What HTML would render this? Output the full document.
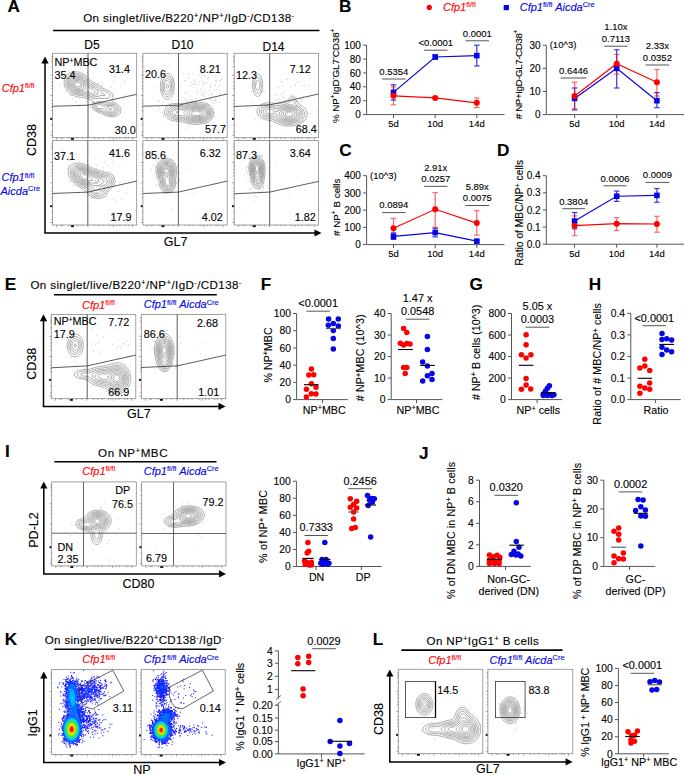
<!DOCTYPE html>
<html><head><meta charset="utf-8"><style>
html,body{margin:0;padding:0;background:#fff;}
svg{display:block;font-family:"Liberation Sans", sans-serif;}
text{stroke:currentColor;stroke-width:0.12px;}
</style></head><body>
<svg width="685" height="775" viewBox="0 0 685 775">
<rect width="685" height="775" fill="#fff"/>
<text x="339.1" y="11.8" font-size="17.2" fill="#000" color="#000" font-weight="bold"><tspan>B</tspan></text>
<circle cx="429.30" cy="7.40" r="2.6" fill="#ff0000"/>
<text x="443" y="11" font-size="11" fill="#ff0000" color="#ff0000" font-style="italic"><tspan font-style="italic">Cfp1</tspan><tspan dy="-3.74" font-size="7.48" font-style="normal">fl/fl</tspan></text>
<rect x="503.70" y="5.00" width="5.2" height="5.2" fill="#0505e6"/>
<text x="519.7" y="11" font-size="11" fill="#0505e6" color="#0505e6" font-style="italic"><tspan font-style="italic">Cfp1</tspan><tspan dy="-3.74" font-size="7.48" font-style="normal">fl/fl</tspan><tspan dy="3.74"> </tspan><tspan font-style="italic">Aicda</tspan><tspan dy="-3.74" font-size="7.48" font-style="normal">Cre</tspan></text>
<line x1="366.6" y1="45.2" x2="366.6" y2="114.6" stroke="#555" stroke-width="1" />
<line x1="366.6" y1="114.6" x2="504.5" y2="114.6" stroke="#555" stroke-width="1" />
<line x1="363.1" y1="114.6" x2="366.6" y2="114.6" stroke="#555" stroke-width="1" />
<text x="360.90000000000003" y="118.19999999999999" font-size="10" fill="#000" color="#000" text-anchor="end"><tspan>0</tspan></text>
<line x1="363.1" y1="100.72" x2="366.6" y2="100.72" stroke="#555" stroke-width="1" />
<text x="360.90000000000003" y="104.32" font-size="10" fill="#000" color="#000" text-anchor="end"><tspan>20</tspan></text>
<line x1="363.1" y1="86.84" x2="366.6" y2="86.84" stroke="#555" stroke-width="1" />
<text x="360.90000000000003" y="90.44" font-size="10" fill="#000" color="#000" text-anchor="end"><tspan>40</tspan></text>
<line x1="363.1" y1="72.96000000000001" x2="366.6" y2="72.96000000000001" stroke="#555" stroke-width="1" />
<text x="360.90000000000003" y="76.56" font-size="10" fill="#000" color="#000" text-anchor="end"><tspan>60</tspan></text>
<line x1="363.1" y1="59.08" x2="366.6" y2="59.08" stroke="#555" stroke-width="1" />
<text x="360.90000000000003" y="62.68" font-size="10" fill="#000" color="#000" text-anchor="end"><tspan>80</tspan></text>
<line x1="363.1" y1="45.2" x2="366.6" y2="45.2" stroke="#555" stroke-width="1" />
<text x="360.90000000000003" y="48.800000000000004" font-size="10" fill="#000" color="#000" text-anchor="end"><tspan>100</tspan></text>
<line x1="393.5" y1="114.6" x2="393.5" y2="118.1" stroke="#555" stroke-width="1" />
<text x="393.5" y="126.6" font-size="9.5" fill="#000" color="#000" text-anchor="middle"><tspan>5d</tspan></text>
<line x1="435.2" y1="114.6" x2="435.2" y2="118.1" stroke="#555" stroke-width="1" />
<text x="435.2" y="126.6" font-size="9.5" fill="#000" color="#000" text-anchor="middle"><tspan>10d</tspan></text>
<line x1="476.8" y1="114.6" x2="476.8" y2="118.1" stroke="#555" stroke-width="1" />
<text x="476.8" y="126.6" font-size="9.5" fill="#000" color="#000" text-anchor="middle"><tspan>14d</tspan></text>
<g stroke="#0505e6" stroke-width="1.2" opacity="0.8"><line x1="393.5" y1="84.76" x2="393.5" y2="100.03"/><line x1="390.75" y1="84.76" x2="396.25" y2="84.76"/><line x1="390.75" y1="100.03" x2="396.25" y2="100.03"/></g>
<g stroke="#0505e6" stroke-width="1.2" opacity="0.8"><line x1="435.2" y1="54.92" x2="435.2" y2="59.08"/><line x1="432.45" y1="54.92" x2="437.95" y2="54.92"/><line x1="432.45" y1="59.08" x2="437.95" y2="59.08"/></g>
<g stroke="#0505e6" stroke-width="1.2" opacity="0.8"><line x1="476.8" y1="45.20" x2="476.8" y2="66.02"/><line x1="474.05" y1="45.20" x2="479.55" y2="45.20"/><line x1="474.05" y1="66.02" x2="479.55" y2="66.02"/></g>
<g stroke="#ff0000" stroke-width="1.2" opacity="0.6"><line x1="393.5" y1="86.84" x2="393.5" y2="104.88"/><line x1="390.75" y1="86.84" x2="396.25" y2="86.84"/><line x1="390.75" y1="104.88" x2="396.25" y2="104.88"/></g>
<g stroke="#ff0000" stroke-width="1.2" opacity="0.6"><line x1="435.2" y1="96.56" x2="435.2" y2="99.33"/><line x1="432.45" y1="96.56" x2="437.95" y2="96.56"/><line x1="432.45" y1="99.33" x2="437.95" y2="99.33"/></g>
<g stroke="#ff0000" stroke-width="1.2" opacity="0.6"><line x1="476.8" y1="97.94" x2="476.8" y2="107.66"/><line x1="474.05" y1="97.94" x2="479.55" y2="97.94"/><line x1="474.05" y1="107.66" x2="479.55" y2="107.66"/></g>
<polyline points="393.5,95.86 435.2,97.94 476.8,102.80" fill="none" stroke="#ff0000" stroke-width="1.2"/>
<polyline points="393.5,92.39 435.2,57.00 476.8,55.61" fill="none" stroke="#0505e6" stroke-width="1.2"/>
<rect x="390.70" y="89.59" width="5.6" height="5.6" fill="#0505e6"/>
<rect x="432.40" y="54.20" width="5.6" height="5.6" fill="#0505e6"/>
<rect x="474.00" y="52.81" width="5.6" height="5.6" fill="#0505e6"/>
<circle cx="393.50" cy="95.86" r="3.0" fill="#ff0000"/>
<circle cx="435.20" cy="97.94" r="3.0" fill="#ff0000"/>
<circle cx="476.80" cy="102.80" r="3.0" fill="#ff0000"/>
<line x1="382.1" y1="79.0" x2="405.6" y2="79.0" stroke="#555" stroke-width="1.0" />
<text x="393.85" y="74.8" font-size="9.5" fill="#000" color="#000" text-anchor="middle"><tspan>0.5354</tspan></text>
<line x1="424" y1="50.2" x2="447.5" y2="50.2" stroke="#555" stroke-width="1.0" />
<text x="435.75" y="46.0" font-size="9.5" fill="#000" color="#000" text-anchor="middle"><tspan>&lt;0.0001</tspan></text>
<line x1="465.5" y1="40.8" x2="489" y2="40.8" stroke="#555" stroke-width="1.0" />
<text x="477.25" y="36.599999999999994" font-size="9.5" fill="#000" color="#000" text-anchor="middle"><tspan>0.0001</tspan></text>
<text transform="translate(338.6,75.8) rotate(-90)" font-size="9.8" fill="#000" color="#000" textLength="94.5" lengthAdjust="spacing" text-anchor="middle"><tspan>% NP</tspan><tspan dy="-3.33" font-size="6.66" font-style="normal">+</tspan><tspan dy="3.33">IgD</tspan><tspan dy="-3.33" font-size="6.66" font-style="normal">-</tspan><tspan dy="3.33">GL7</tspan><tspan dy="-3.33" font-size="6.66" font-style="normal">-</tspan><tspan dy="3.33">CD38</tspan><tspan dy="-3.33" font-size="6.66" font-style="normal">+</tspan></text>
<line x1="546.3" y1="45.2" x2="546.3" y2="114.6" stroke="#555" stroke-width="1" />
<line x1="546.3" y1="114.6" x2="684" y2="114.6" stroke="#555" stroke-width="1" />
<line x1="542.8" y1="114.6" x2="546.3" y2="114.6" stroke="#555" stroke-width="1" />
<text x="540.5999999999999" y="118.19999999999999" font-size="10" fill="#000" color="#000" text-anchor="end"><tspan>0</tspan></text>
<line x1="542.8" y1="91.46666666666667" x2="546.3" y2="91.46666666666667" stroke="#555" stroke-width="1" />
<text x="540.5999999999999" y="95.06666666666666" font-size="10" fill="#000" color="#000" text-anchor="end"><tspan>10</tspan></text>
<line x1="542.8" y1="68.33333333333334" x2="546.3" y2="68.33333333333334" stroke="#555" stroke-width="1" />
<text x="540.5999999999999" y="71.93333333333334" font-size="10" fill="#000" color="#000" text-anchor="end"><tspan>20</tspan></text>
<line x1="542.8" y1="45.2" x2="546.3" y2="45.2" stroke="#555" stroke-width="1" />
<text x="540.5999999999999" y="48.800000000000004" font-size="10" fill="#000" color="#000" text-anchor="end"><tspan>30</tspan></text>
<line x1="574.6" y1="114.6" x2="574.6" y2="118.1" stroke="#555" stroke-width="1" />
<text x="574.6" y="126.6" font-size="9.5" fill="#000" color="#000" text-anchor="middle"><tspan>5d</tspan></text>
<line x1="616.7" y1="114.6" x2="616.7" y2="118.1" stroke="#555" stroke-width="1" />
<text x="616.7" y="126.6" font-size="9.5" fill="#000" color="#000" text-anchor="middle"><tspan>10d</tspan></text>
<line x1="656.9" y1="114.6" x2="656.9" y2="118.1" stroke="#555" stroke-width="1" />
<text x="656.9" y="126.6" font-size="9.5" fill="#000" color="#000" text-anchor="middle"><tspan>14d</tspan></text>
<text x="549.7" y="47.5" font-size="9.5" fill="#000" color="#000"><tspan>(10^3)</tspan></text>
<g stroke="#0505e6" stroke-width="1.2" opacity="0.8"><line x1="574.6" y1="88.00" x2="574.6" y2="109.97"/><line x1="571.85" y1="88.00" x2="577.35" y2="88.00"/><line x1="571.85" y1="109.97" x2="577.35" y2="109.97"/></g>
<g stroke="#0505e6" stroke-width="1.2" opacity="0.8"><line x1="616.7" y1="49.83" x2="616.7" y2="88.00"/><line x1="613.95" y1="49.83" x2="619.45" y2="49.83"/><line x1="613.95" y1="88.00" x2="619.45" y2="88.00"/></g>
<g stroke="#0505e6" stroke-width="1.2" opacity="0.8"><line x1="656.9" y1="92.62" x2="656.9" y2="107.66"/><line x1="654.15" y1="92.62" x2="659.65" y2="92.62"/><line x1="654.15" y1="107.66" x2="659.65" y2="107.66"/></g>
<g stroke="#ff0000" stroke-width="1.2" opacity="0.6"><line x1="574.6" y1="82.21" x2="574.6" y2="108.82"/><line x1="571.85" y1="82.21" x2="577.35" y2="82.21"/><line x1="571.85" y1="108.82" x2="577.35" y2="108.82"/></g>
<g stroke="#ff0000" stroke-width="1.2" opacity="0.6"><line x1="616.7" y1="54.45" x2="616.7" y2="74.12"/><line x1="613.95" y1="54.45" x2="619.45" y2="54.45"/><line x1="613.95" y1="74.12" x2="619.45" y2="74.12"/></g>
<g stroke="#ff0000" stroke-width="1.2" opacity="0.6"><line x1="656.9" y1="69.49" x2="656.9" y2="96.09"/><line x1="654.15" y1="69.49" x2="659.65" y2="69.49"/><line x1="654.15" y1="96.09" x2="659.65" y2="96.09"/></g>
<polyline points="574.6,96.09 616.7,63.71 656.9,82.21" fill="none" stroke="#ff0000" stroke-width="1.2"/>
<polyline points="574.6,98.41 616.7,68.33 656.9,100.72" fill="none" stroke="#0505e6" stroke-width="1.2"/>
<rect x="571.80" y="95.61" width="5.6" height="5.6" fill="#0505e6"/>
<rect x="613.90" y="65.53" width="5.6" height="5.6" fill="#0505e6"/>
<rect x="654.10" y="97.92" width="5.6" height="5.6" fill="#0505e6"/>
<circle cx="574.60" cy="96.09" r="3.0" fill="#ff0000"/>
<circle cx="616.70" cy="63.71" r="3.0" fill="#ff0000"/>
<circle cx="656.90" cy="82.21" r="3.0" fill="#ff0000"/>
<line x1="560.7" y1="78.0" x2="586.4" y2="78.0" stroke="#555" stroke-width="1.0" />
<text x="573.55" y="73.8" font-size="9.5" fill="#000" color="#000" text-anchor="middle"><tspan>0.6446</tspan></text>
<line x1="604.3" y1="46.2" x2="627.5" y2="46.2" stroke="#555" stroke-width="1.0" />
<text x="615.9" y="42.0" font-size="9.5" fill="#000" color="#000" text-anchor="middle"><tspan>0.7113</tspan></text>
<text x="615.9" y="30.41" font-size="9.5" fill="#000" color="#000" text-anchor="middle"><tspan>1.10x</tspan></text>
<line x1="645.6" y1="65.0" x2="669.2" y2="65.0" stroke="#555" stroke-width="1.0" />
<text x="657.4000000000001" y="60.8" font-size="9.5" fill="#000" color="#000" text-anchor="middle"><tspan>0.0352</tspan></text>
<text x="657.4000000000001" y="49.209999999999994" font-size="9.5" fill="#000" color="#000" text-anchor="middle"><tspan>2.33x</tspan></text>
<text transform="translate(521.6,74.4) rotate(-90)" font-size="9.8" fill="#000" color="#000" textLength="89.5" lengthAdjust="spacing" text-anchor="middle"><tspan># NP+IgD-GL7-CD38</tspan><tspan dy="-3.33" font-size="6.66" font-style="normal">+</tspan></text>
<text x="339.2" y="156.2" font-size="17.2" fill="#000" color="#000" font-weight="bold"><tspan>C</tspan></text>
<line x1="366.6" y1="175.7" x2="366.6" y2="244.6" stroke="#555" stroke-width="1" />
<line x1="366.6" y1="244.6" x2="504.5" y2="244.6" stroke="#555" stroke-width="1" />
<line x1="363.1" y1="244.6" x2="366.6" y2="244.6" stroke="#555" stroke-width="1" />
<text x="360.90000000000003" y="248.2" font-size="10" fill="#000" color="#000" text-anchor="end"><tspan>0</tspan></text>
<line x1="363.1" y1="227.375" x2="366.6" y2="227.375" stroke="#555" stroke-width="1" />
<text x="360.90000000000003" y="230.975" font-size="10" fill="#000" color="#000" text-anchor="end"><tspan>100</tspan></text>
<line x1="363.1" y1="210.14999999999998" x2="366.6" y2="210.14999999999998" stroke="#555" stroke-width="1" />
<text x="360.90000000000003" y="213.74999999999997" font-size="10" fill="#000" color="#000" text-anchor="end"><tspan>200</tspan></text>
<line x1="363.1" y1="192.92499999999998" x2="366.6" y2="192.92499999999998" stroke="#555" stroke-width="1" />
<text x="360.90000000000003" y="196.52499999999998" font-size="10" fill="#000" color="#000" text-anchor="end"><tspan>300</tspan></text>
<line x1="363.1" y1="175.7" x2="366.6" y2="175.7" stroke="#555" stroke-width="1" />
<text x="360.90000000000003" y="179.29999999999998" font-size="10" fill="#000" color="#000" text-anchor="end"><tspan>400</tspan></text>
<line x1="393.5" y1="244.6" x2="393.5" y2="248.1" stroke="#555" stroke-width="1" />
<text x="393.5" y="257.2" font-size="9.5" fill="#000" color="#000" text-anchor="middle"><tspan>5d</tspan></text>
<line x1="435.2" y1="244.6" x2="435.2" y2="248.1" stroke="#555" stroke-width="1" />
<text x="435.2" y="257.2" font-size="9.5" fill="#000" color="#000" text-anchor="middle"><tspan>10d</tspan></text>
<line x1="476.8" y1="244.6" x2="476.8" y2="248.1" stroke="#555" stroke-width="1" />
<text x="476.8" y="257.2" font-size="9.5" fill="#000" color="#000" text-anchor="middle"><tspan>14d</tspan></text>
<text x="370" y="178.6" font-size="9.5" fill="#000" color="#000"><tspan>(10^3)</tspan></text>
<g stroke="#0505e6" stroke-width="1.2" opacity="0.8"><line x1="393.5" y1="232.89" x2="393.5" y2="239.43"/><line x1="390.75" y1="232.89" x2="396.25" y2="232.89"/><line x1="390.75" y1="239.43" x2="396.25" y2="239.43"/></g>
<g stroke="#0505e6" stroke-width="1.2" opacity="0.8"><line x1="435.2" y1="228.24" x2="435.2" y2="236.85"/><line x1="432.45" y1="228.24" x2="437.95" y2="228.24"/><line x1="432.45" y1="236.85" x2="437.95" y2="236.85"/></g>
<g stroke="#0505e6" stroke-width="1.2" opacity="0.8"><line x1="476.8" y1="240.29" x2="476.8" y2="242.02"/><line x1="474.05" y1="240.29" x2="479.55" y2="240.29"/><line x1="474.05" y1="242.02" x2="479.55" y2="242.02"/></g>
<g stroke="#ff0000" stroke-width="1.2" opacity="0.6"><line x1="393.5" y1="218.42" x2="393.5" y2="237.71"/><line x1="390.75" y1="218.42" x2="396.25" y2="218.42"/><line x1="390.75" y1="237.71" x2="396.25" y2="237.71"/></g>
<g stroke="#ff0000" stroke-width="1.2" opacity="0.6"><line x1="435.2" y1="192.58" x2="435.2" y2="227.38"/><line x1="432.45" y1="192.58" x2="437.95" y2="192.58"/><line x1="432.45" y1="227.38" x2="437.95" y2="227.38"/></g>
<g stroke="#ff0000" stroke-width="1.2" opacity="0.6"><line x1="476.8" y1="210.67" x2="476.8" y2="235.13"/><line x1="474.05" y1="210.67" x2="479.55" y2="210.67"/><line x1="474.05" y1="235.13" x2="479.55" y2="235.13"/></g>
<polyline points="393.5,228.24 435.2,209.29 476.8,223.07" fill="none" stroke="#ff0000" stroke-width="1.2"/>
<polyline points="393.5,236.33 435.2,232.54 476.8,241.16" fill="none" stroke="#0505e6" stroke-width="1.2"/>
<rect x="390.70" y="233.53" width="5.6" height="5.6" fill="#0505e6"/>
<rect x="432.40" y="229.74" width="5.6" height="5.6" fill="#0505e6"/>
<rect x="474.00" y="238.35" width="5.6" height="5.6" fill="#0505e6"/>
<circle cx="393.50" cy="228.24" r="3.0" fill="#ff0000"/>
<circle cx="435.20" cy="209.29" r="3.0" fill="#ff0000"/>
<circle cx="476.80" cy="223.07" r="3.0" fill="#ff0000"/>
<line x1="382.1" y1="212.6" x2="405.6" y2="212.6" stroke="#555" stroke-width="1.0" />
<text x="393.85" y="208.4" font-size="9.5" fill="#000" color="#000" text-anchor="middle"><tspan>0.0894</tspan></text>
<line x1="424" y1="186.3" x2="447.5" y2="186.3" stroke="#555" stroke-width="1.0" />
<text x="435.75" y="182.10000000000002" font-size="9.5" fill="#000" color="#000" text-anchor="middle"><tspan>0.0257</tspan></text>
<text x="435.75" y="170.51000000000002" font-size="9.5" fill="#000" color="#000" text-anchor="middle"><tspan>2.91x</tspan></text>
<line x1="465.5" y1="205.5" x2="489" y2="205.5" stroke="#555" stroke-width="1.0" />
<text x="477.25" y="201.3" font-size="9.5" fill="#000" color="#000" text-anchor="middle"><tspan>0.0075</tspan></text>
<text x="477.25" y="189.71" font-size="9.5" fill="#000" color="#000" text-anchor="middle"><tspan>5.89x</tspan></text>
<text transform="translate(339.6,207.3) rotate(-90)" font-size="9.8" fill="#000" color="#000" textLength="57.4" lengthAdjust="spacing" text-anchor="middle"><tspan># NP</tspan><tspan dy="-3.33" font-size="6.66" font-style="normal">+</tspan><tspan dy="3.33"> B cells</tspan></text>
<text x="496.9" y="155.8" font-size="17.2" fill="#000" color="#000" font-weight="bold"><tspan>D</tspan></text>
<line x1="546.3" y1="175.7" x2="546.3" y2="244.2" stroke="#555" stroke-width="1" />
<line x1="546.3" y1="244.2" x2="684" y2="244.2" stroke="#555" stroke-width="1" />
<line x1="542.8" y1="244.2" x2="546.3" y2="244.2" stroke="#555" stroke-width="1" />
<text x="540.5999999999999" y="247.79999999999998" font-size="10" fill="#000" color="#000" text-anchor="end"><tspan>0.0</tspan></text>
<line x1="542.8" y1="227.075" x2="546.3" y2="227.075" stroke="#555" stroke-width="1" />
<text x="540.5999999999999" y="230.67499999999998" font-size="10" fill="#000" color="#000" text-anchor="end"><tspan>0.1</tspan></text>
<line x1="542.8" y1="209.95" x2="546.3" y2="209.95" stroke="#555" stroke-width="1" />
<text x="540.5999999999999" y="213.54999999999998" font-size="10" fill="#000" color="#000" text-anchor="end"><tspan>0.2</tspan></text>
<line x1="542.8" y1="192.825" x2="546.3" y2="192.825" stroke="#555" stroke-width="1" />
<text x="540.5999999999999" y="196.42499999999998" font-size="10" fill="#000" color="#000" text-anchor="end"><tspan>0.3</tspan></text>
<line x1="542.8" y1="175.7" x2="546.3" y2="175.7" stroke="#555" stroke-width="1" />
<text x="540.5999999999999" y="179.29999999999998" font-size="10" fill="#000" color="#000" text-anchor="end"><tspan>0.4</tspan></text>
<line x1="574.6" y1="244.2" x2="574.6" y2="247.7" stroke="#555" stroke-width="1" />
<text x="574.6" y="257.2" font-size="9.5" fill="#000" color="#000" text-anchor="middle"><tspan>5d</tspan></text>
<line x1="616.7" y1="244.2" x2="616.7" y2="247.7" stroke="#555" stroke-width="1" />
<text x="616.7" y="257.2" font-size="9.5" fill="#000" color="#000" text-anchor="middle"><tspan>10d</tspan></text>
<line x1="656.9" y1="244.2" x2="656.9" y2="247.7" stroke="#555" stroke-width="1" />
<text x="656.9" y="257.2" font-size="9.5" fill="#000" color="#000" text-anchor="middle"><tspan>14d</tspan></text>
<g stroke="#0505e6" stroke-width="1.2" opacity="0.8"><line x1="574.6" y1="212.52" x2="574.6" y2="228.79"/><line x1="571.85" y1="212.52" x2="577.35" y2="212.52"/><line x1="571.85" y1="228.79" x2="577.35" y2="228.79"/></g>
<g stroke="#0505e6" stroke-width="1.2" opacity="0.8"><line x1="616.7" y1="191.11" x2="616.7" y2="201.39"/><line x1="613.95" y1="191.11" x2="619.45" y2="191.11"/><line x1="613.95" y1="201.39" x2="619.45" y2="201.39"/></g>
<g stroke="#0505e6" stroke-width="1.2" opacity="0.8"><line x1="656.9" y1="188.54" x2="656.9" y2="202.24"/><line x1="654.15" y1="188.54" x2="659.65" y2="188.54"/><line x1="654.15" y1="202.24" x2="659.65" y2="202.24"/></g>
<g stroke="#ff0000" stroke-width="1.2" opacity="0.6"><line x1="574.6" y1="215.94" x2="574.6" y2="235.64"/><line x1="571.85" y1="215.94" x2="577.35" y2="215.94"/><line x1="571.85" y1="235.64" x2="577.35" y2="235.64"/></g>
<g stroke="#ff0000" stroke-width="1.2" opacity="0.6"><line x1="616.7" y1="217.66" x2="616.7" y2="230.50"/><line x1="613.95" y1="217.66" x2="619.45" y2="217.66"/><line x1="613.95" y1="230.50" x2="619.45" y2="230.50"/></g>
<g stroke="#ff0000" stroke-width="1.2" opacity="0.6"><line x1="656.9" y1="216.29" x2="656.9" y2="232.21"/><line x1="654.15" y1="216.29" x2="659.65" y2="216.29"/><line x1="654.15" y1="232.21" x2="659.65" y2="232.21"/></g>
<polyline points="574.6,225.70 616.7,223.65 656.9,223.99" fill="none" stroke="#ff0000" stroke-width="1.2"/>
<polyline points="574.6,221.08 616.7,196.25 656.9,195.39" fill="none" stroke="#0505e6" stroke-width="1.2"/>
<rect x="571.80" y="218.28" width="5.6" height="5.6" fill="#0505e6"/>
<rect x="613.90" y="193.45" width="5.6" height="5.6" fill="#0505e6"/>
<rect x="654.10" y="192.59" width="5.6" height="5.6" fill="#0505e6"/>
<circle cx="574.60" cy="225.70" r="3.0" fill="#ff0000"/>
<circle cx="616.70" cy="223.65" r="3.0" fill="#ff0000"/>
<circle cx="656.90" cy="223.99" r="3.0" fill="#ff0000"/>
<line x1="562.3" y1="208.7" x2="585.1" y2="208.7" stroke="#555" stroke-width="1.0" />
<text x="573.7" y="204.5" font-size="9.5" fill="#000" color="#000" text-anchor="middle"><tspan>0.3804</tspan></text>
<line x1="603.5" y1="185.8" x2="626.6" y2="185.8" stroke="#555" stroke-width="1.0" />
<text x="615.05" y="181.60000000000002" font-size="9.5" fill="#000" color="#000" text-anchor="middle"><tspan>0.0006</tspan></text>
<line x1="645.6" y1="182.4" x2="669.2" y2="182.4" stroke="#555" stroke-width="1.0" />
<text x="657.4000000000001" y="178.20000000000002" font-size="9.5" fill="#000" color="#000" text-anchor="middle"><tspan>0.0009</tspan></text>
<text transform="translate(523.2,212.7) rotate(-90)" font-size="10.2" fill="#000" color="#000" textLength="105.4" lengthAdjust="spacing" text-anchor="middle"><tspan>Ratio of  MBC/NP</tspan><tspan dy="-3.47" font-size="6.94" font-style="normal">+</tspan><tspan dy="3.47"> cells</tspan></text>
<text x="260.8" y="289.7" font-size="17.2" fill="#000" color="#000" font-weight="bold"><tspan>F</tspan></text>
<line x1="296.6" y1="313.5" x2="296.6" y2="399.6" stroke="#555" stroke-width="1" />
<line x1="296.6" y1="399.6" x2="347.8" y2="399.6" stroke="#555" stroke-width="1" />
<line x1="293.1" y1="399.6" x2="296.6" y2="399.6" stroke="#555" stroke-width="1" />
<text x="290.90000000000003" y="403.30800000000005" font-size="10.3" fill="#000" color="#000" text-anchor="end"><tspan>0</tspan></text>
<line x1="293.1" y1="382.38" x2="296.6" y2="382.38" stroke="#555" stroke-width="1" />
<text x="290.90000000000003" y="386.088" font-size="10.3" fill="#000" color="#000" text-anchor="end"><tspan>20</tspan></text>
<line x1="293.1" y1="365.16" x2="296.6" y2="365.16" stroke="#555" stroke-width="1" />
<text x="290.90000000000003" y="368.86800000000005" font-size="10.3" fill="#000" color="#000" text-anchor="end"><tspan>40</tspan></text>
<line x1="293.1" y1="347.94" x2="296.6" y2="347.94" stroke="#555" stroke-width="1" />
<text x="290.90000000000003" y="351.648" font-size="10.3" fill="#000" color="#000" text-anchor="end"><tspan>60</tspan></text>
<line x1="293.1" y1="330.72" x2="296.6" y2="330.72" stroke="#555" stroke-width="1" />
<text x="290.90000000000003" y="334.42800000000005" font-size="10.3" fill="#000" color="#000" text-anchor="end"><tspan>80</tspan></text>
<line x1="293.1" y1="313.5" x2="296.6" y2="313.5" stroke="#555" stroke-width="1" />
<text x="290.90000000000003" y="317.208" font-size="10.3" fill="#000" color="#000" text-anchor="end"><tspan>100</tspan></text>
<line x1="322.4" y1="399.6" x2="322.4" y2="403.1" stroke="#555" stroke-width="1" />
<text x="324.2" y="413.5" font-size="10.7" fill="#000" color="#000" text-anchor="middle"><tspan>NP</tspan><tspan dy="-3.64" font-size="7.28" font-style="normal">+</tspan><tspan dy="3.64">MBC</tspan></text>
<line x1="306.4" y1="311.2" x2="329.9" y2="311.2" stroke="#555" stroke-width="1.0" />
<text x="318.15" y="307.0" font-size="10.9" fill="#000" color="#000" text-anchor="middle"><tspan>&lt;0.0001</tspan></text>
<circle cx="311.40" cy="368.90" r="2.75" fill="#ff0000"/>
<circle cx="308.80" cy="375.10" r="2.75" fill="#ff0000"/>
<circle cx="313.70" cy="374.70" r="2.75" fill="#ff0000"/>
<circle cx="311.40" cy="383.80" r="2.75" fill="#ff0000"/>
<circle cx="306.40" cy="389.20" r="2.75" fill="#ff0000"/>
<circle cx="316.00" cy="387.20" r="2.75" fill="#ff0000"/>
<circle cx="311.40" cy="393.80" r="2.75" fill="#ff0000"/>
<circle cx="316.00" cy="394.10" r="2.75" fill="#ff0000"/>
<circle cx="306.40" cy="396.90" r="2.75" fill="#ff0000"/>
<line x1="304" y1="384.7" x2="318.6" y2="384.7" stroke="#000" stroke-width="1.1" />
<circle cx="328.60" cy="318.90" r="2.75" fill="#0505e6"/>
<circle cx="338.30" cy="318.90" r="2.75" fill="#0505e6"/>
<circle cx="333.30" cy="323.50" r="2.75" fill="#0505e6"/>
<circle cx="328.30" cy="325.30" r="2.75" fill="#0505e6"/>
<circle cx="338.30" cy="326.00" r="2.75" fill="#0505e6"/>
<circle cx="333.30" cy="330.60" r="2.75" fill="#0505e6"/>
<circle cx="333.30" cy="338.60" r="2.75" fill="#0505e6"/>
<circle cx="333.30" cy="348.90" r="2.75" fill="#0505e6"/>
<line x1="326" y1="328.6" x2="340.8" y2="328.6" stroke="#555" stroke-width="1.1" />
<text transform="translate(271.8,354.9) rotate(-90)" font-size="10.7" fill="#000" color="#000" textLength="55.2" lengthAdjust="spacing" text-anchor="middle"><tspan>% NP</tspan><tspan dy="-3.64" font-size="7.28" font-style="normal">+</tspan><tspan dy="3.64">MBC</tspan></text>
<line x1="391.2" y1="313.5" x2="391.2" y2="399.6" stroke="#555" stroke-width="1" />
<line x1="391.2" y1="399.6" x2="442.3" y2="399.6" stroke="#555" stroke-width="1" />
<line x1="387.7" y1="399.6" x2="391.2" y2="399.6" stroke="#555" stroke-width="1" />
<text x="385.5" y="403.30800000000005" font-size="10.3" fill="#000" color="#000" text-anchor="end"><tspan>0</tspan></text>
<line x1="387.7" y1="378.07500000000005" x2="391.2" y2="378.07500000000005" stroke="#555" stroke-width="1" />
<text x="385.5" y="381.7830000000001" font-size="10.3" fill="#000" color="#000" text-anchor="end"><tspan>10</tspan></text>
<line x1="387.7" y1="356.55" x2="391.2" y2="356.55" stroke="#555" stroke-width="1" />
<text x="385.5" y="360.25800000000004" font-size="10.3" fill="#000" color="#000" text-anchor="end"><tspan>20</tspan></text>
<line x1="387.7" y1="335.025" x2="391.2" y2="335.025" stroke="#555" stroke-width="1" />
<text x="385.5" y="338.733" font-size="10.3" fill="#000" color="#000" text-anchor="end"><tspan>30</tspan></text>
<line x1="387.7" y1="313.5" x2="391.2" y2="313.5" stroke="#555" stroke-width="1" />
<text x="385.5" y="317.208" font-size="10.3" fill="#000" color="#000" text-anchor="end"><tspan>40</tspan></text>
<line x1="416.5" y1="399.6" x2="416.5" y2="403.1" stroke="#555" stroke-width="1" />
<text x="418" y="413.5" font-size="10.7" fill="#000" color="#000" text-anchor="middle"><tspan>NP</tspan><tspan dy="-3.64" font-size="7.28" font-style="normal">+</tspan><tspan dy="3.64">MBC</tspan></text>
<line x1="405.8" y1="319.2" x2="429.4" y2="319.2" stroke="#555" stroke-width="1.0" />
<text x="417.6" y="315.0" font-size="10.9" fill="#000" color="#000" text-anchor="middle"><tspan>0.0548</tspan></text>
<text x="417.6" y="301.702" font-size="10.9" fill="#000" color="#000" text-anchor="middle"><tspan>1.47 x</tspan></text>
<circle cx="403.60" cy="328.50" r="2.75" fill="#ff0000"/>
<circle cx="406.80" cy="332.40" r="2.75" fill="#ff0000"/>
<circle cx="400.30" cy="343.30" r="2.75" fill="#ff0000"/>
<circle cx="403.60" cy="345.00" r="2.75" fill="#ff0000"/>
<circle cx="406.80" cy="343.50" r="2.75" fill="#ff0000"/>
<circle cx="410.00" cy="344.10" r="2.75" fill="#ff0000"/>
<circle cx="403.60" cy="367.60" r="2.75" fill="#ff0000"/>
<circle cx="406.80" cy="367.60" r="2.75" fill="#ff0000"/>
<circle cx="405.20" cy="373.40" r="2.75" fill="#ff0000"/>
<line x1="398" y1="349.5" x2="412.9" y2="349.5" stroke="#000" stroke-width="1.1" />
<circle cx="427.40" cy="336.60" r="2.75" fill="#0505e6"/>
<circle cx="427.40" cy="349.50" r="2.75" fill="#0505e6"/>
<circle cx="422.70" cy="362.10" r="2.75" fill="#0505e6"/>
<circle cx="427.40" cy="365.90" r="2.75" fill="#0505e6"/>
<circle cx="432.00" cy="373.40" r="2.75" fill="#0505e6"/>
<circle cx="427.40" cy="375.80" r="2.75" fill="#0505e6"/>
<circle cx="422.70" cy="380.90" r="2.75" fill="#0505e6"/>
<circle cx="432.00" cy="379.60" r="2.75" fill="#0505e6"/>
<line x1="420.1" y1="365.4" x2="434.8" y2="365.4" stroke="#000" stroke-width="1.1" />
<text transform="translate(364.4,357.9) rotate(-90)" font-size="10.7" fill="#000" color="#000" textLength="86.9" lengthAdjust="spacing" text-anchor="middle"><tspan># NP</tspan><tspan dy="-3.64" font-size="7.28" font-style="normal">+</tspan><tspan dy="3.64">MBC (10^3)</tspan></text>
<text x="469.5" y="289.7" font-size="17.2" fill="#000" color="#000" font-weight="bold"><tspan>G</tspan></text>
<line x1="511.5" y1="313.5" x2="511.5" y2="399.6" stroke="#555" stroke-width="1" />
<line x1="511.5" y1="399.6" x2="562.2" y2="399.6" stroke="#555" stroke-width="1" />
<line x1="508.0" y1="399.6" x2="511.5" y2="399.6" stroke="#555" stroke-width="1" />
<text x="505.8" y="403.30800000000005" font-size="10.3" fill="#000" color="#000" text-anchor="end"><tspan>0</tspan></text>
<line x1="508.0" y1="378.07500000000005" x2="511.5" y2="378.07500000000005" stroke="#555" stroke-width="1" />
<text x="505.8" y="381.7830000000001" font-size="10.3" fill="#000" color="#000" text-anchor="end"><tspan>200</tspan></text>
<line x1="508.0" y1="356.55" x2="511.5" y2="356.55" stroke="#555" stroke-width="1" />
<text x="505.8" y="360.25800000000004" font-size="10.3" fill="#000" color="#000" text-anchor="end"><tspan>400</tspan></text>
<line x1="508.0" y1="335.025" x2="511.5" y2="335.025" stroke="#555" stroke-width="1" />
<text x="505.8" y="338.733" font-size="10.3" fill="#000" color="#000" text-anchor="end"><tspan>600</tspan></text>
<line x1="508.0" y1="313.5" x2="511.5" y2="313.5" stroke="#555" stroke-width="1" />
<text x="505.8" y="317.208" font-size="10.3" fill="#000" color="#000" text-anchor="end"><tspan>800</tspan></text>
<line x1="537.1" y1="399.6" x2="537.1" y2="403.1" stroke="#555" stroke-width="1" />
<text x="538.3" y="414.2" font-size="10.7" fill="#000" color="#000" text-anchor="middle"><tspan>NP</tspan><tspan dy="-3.64" font-size="7.28" font-style="normal">+</tspan><tspan dy="3.64"> cells</tspan></text>
<line x1="525.5" y1="327.2" x2="549.4" y2="327.2" stroke="#555" stroke-width="1.0" />
<text x="537.45" y="323.0" font-size="10.9" fill="#000" color="#000" text-anchor="middle"><tspan>0.0003</tspan></text>
<text x="537.45" y="309.702" font-size="10.9" fill="#000" color="#000" text-anchor="middle"><tspan>5.05 x</tspan></text>
<circle cx="526.10" cy="334.70" r="2.75" fill="#ff0000"/>
<circle cx="526.10" cy="344.80" r="2.75" fill="#ff0000"/>
<circle cx="521.40" cy="354.70" r="2.75" fill="#ff0000"/>
<circle cx="530.90" cy="354.70" r="2.75" fill="#ff0000"/>
<circle cx="526.10" cy="357.90" r="2.75" fill="#ff0000"/>
<circle cx="526.10" cy="378.60" r="2.75" fill="#ff0000"/>
<circle cx="526.10" cy="385.10" r="2.75" fill="#ff0000"/>
<circle cx="521.40" cy="389.20" r="2.75" fill="#ff0000"/>
<circle cx="530.70" cy="388.90" r="2.75" fill="#ff0000"/>
<line x1="518.8" y1="365.3" x2="533.5" y2="365.3" stroke="#000" stroke-width="1.1" />
<circle cx="549.40" cy="385.70" r="2.75" fill="#0505e6"/>
<circle cx="547.40" cy="388.30" r="2.75" fill="#0505e6"/>
<circle cx="545.50" cy="390.90" r="2.75" fill="#0505e6"/>
<circle cx="543.30" cy="394.10" r="2.75" fill="#0505e6"/>
<circle cx="543.30" cy="395.40" r="2.75" fill="#0505e6"/>
<circle cx="547.40" cy="395.40" r="2.75" fill="#0505e6"/>
<circle cx="552.00" cy="395.40" r="2.75" fill="#0505e6"/>
<circle cx="553.90" cy="394.70" r="2.75" fill="#0505e6"/>
<circle cx="546.20" cy="394.70" r="2.75" fill="#0505e6"/>
<circle cx="550.00" cy="394.50" r="2.75" fill="#0505e6"/>
<line x1="541" y1="392.8" x2="555.4" y2="392.8" stroke="#000" stroke-width="1.1" />
<text transform="translate(479.6,352.4) rotate(-90)" font-size="10.7" fill="#000" color="#000" textLength="95.2" lengthAdjust="spacing" text-anchor="middle"><tspan># NP</tspan><tspan dy="-3.64" font-size="7.28" font-style="normal">+</tspan><tspan dy="3.64"> B cells (10^3)</tspan></text>
<text x="588.8" y="289.7" font-size="17.2" fill="#000" color="#000" font-weight="bold"><tspan>H</tspan></text>
<line x1="630.8" y1="313.3" x2="630.8" y2="399.6" stroke="#555" stroke-width="1" />
<line x1="630.8" y1="399.6" x2="680.7" y2="399.6" stroke="#555" stroke-width="1" />
<line x1="627.3" y1="399.6" x2="630.8" y2="399.6" stroke="#555" stroke-width="1" />
<text x="625.0999999999999" y="403.30800000000005" font-size="10.3" fill="#000" color="#000" text-anchor="end"><tspan>0.0</tspan></text>
<line x1="627.3" y1="378.02500000000003" x2="630.8" y2="378.02500000000003" stroke="#555" stroke-width="1" />
<text x="625.0999999999999" y="381.73300000000006" font-size="10.3" fill="#000" color="#000" text-anchor="end"><tspan>0.1</tspan></text>
<line x1="627.3" y1="356.45000000000005" x2="630.8" y2="356.45000000000005" stroke="#555" stroke-width="1" />
<text x="625.0999999999999" y="360.1580000000001" font-size="10.3" fill="#000" color="#000" text-anchor="end"><tspan>0.2</tspan></text>
<line x1="627.3" y1="334.875" x2="630.8" y2="334.875" stroke="#555" stroke-width="1" />
<text x="625.0999999999999" y="338.583" font-size="10.3" fill="#000" color="#000" text-anchor="end"><tspan>0.3</tspan></text>
<line x1="627.3" y1="313.3" x2="630.8" y2="313.3" stroke="#555" stroke-width="1" />
<text x="625.0999999999999" y="317.00800000000004" font-size="10.3" fill="#000" color="#000" text-anchor="end"><tspan>0.4</tspan></text>
<line x1="655.4" y1="399.6" x2="655.4" y2="403.1" stroke="#555" stroke-width="1" />
<text x="656" y="414.2" font-size="10.7" fill="#000" color="#000" text-anchor="middle"><tspan>Ratio</tspan></text>
<line x1="642.5" y1="325.7" x2="666.1" y2="325.7" stroke="#555" stroke-width="1.0" />
<text x="654.3" y="321.5" font-size="10.9" fill="#000" color="#000" text-anchor="middle"><tspan>&lt;0.0001</tspan></text>
<circle cx="644.80" cy="359.20" r="2.75" fill="#ff0000"/>
<circle cx="639.90" cy="367.90" r="2.75" fill="#ff0000"/>
<circle cx="644.80" cy="366.10" r="2.75" fill="#ff0000"/>
<circle cx="649.70" cy="370.60" r="2.75" fill="#ff0000"/>
<circle cx="649.70" cy="383.10" r="2.75" fill="#ff0000"/>
<circle cx="639.90" cy="386.30" r="2.75" fill="#ff0000"/>
<circle cx="644.80" cy="388.00" r="2.75" fill="#ff0000"/>
<circle cx="649.70" cy="389.20" r="2.75" fill="#ff0000"/>
<circle cx="639.90" cy="393.20" r="2.75" fill="#ff0000"/>
<line x1="637.7" y1="378.3" x2="652.1" y2="378.3" stroke="#000" stroke-width="1.1" />
<circle cx="662.00" cy="333.40" r="2.75" fill="#0505e6"/>
<circle cx="662.00" cy="339.60" r="2.75" fill="#0505e6"/>
<circle cx="666.70" cy="338.80" r="2.75" fill="#0505e6"/>
<circle cx="671.60" cy="340.10" r="2.75" fill="#0505e6"/>
<circle cx="662.00" cy="347.20" r="2.75" fill="#0505e6"/>
<circle cx="666.70" cy="349.90" r="2.75" fill="#0505e6"/>
<circle cx="671.60" cy="351.70" r="2.75" fill="#0505e6"/>
<circle cx="662.00" cy="354.50" r="2.75" fill="#0505e6"/>
<line x1="659.2" y1="344.4" x2="674.1" y2="344.4" stroke="#000" stroke-width="1.1" />
<text transform="translate(601.2,363.9) rotate(-90)" font-size="10.7" fill="#000" color="#000" textLength="121.6" lengthAdjust="spacing" text-anchor="middle"><tspan>Ratio of # MBC/NP</tspan><tspan dy="-3.64" font-size="7.28" font-style="normal">+</tspan><tspan dy="3.64"> cells</tspan></text>
<line x1="296.4" y1="481.2" x2="296.4" y2="566.5" stroke="#555" stroke-width="1" />
<line x1="296.4" y1="566.5" x2="381.7" y2="566.5" stroke="#555" stroke-width="1" />
<line x1="292.9" y1="566.5" x2="296.4" y2="566.5" stroke="#555" stroke-width="1" />
<text x="290.7" y="570.208" font-size="10.3" fill="#000" color="#000" text-anchor="end"><tspan>0</tspan></text>
<line x1="292.9" y1="549.44" x2="296.4" y2="549.44" stroke="#555" stroke-width="1" />
<text x="290.7" y="553.148" font-size="10.3" fill="#000" color="#000" text-anchor="end"><tspan>20</tspan></text>
<line x1="292.9" y1="532.38" x2="296.4" y2="532.38" stroke="#555" stroke-width="1" />
<text x="290.7" y="536.088" font-size="10.3" fill="#000" color="#000" text-anchor="end"><tspan>40</tspan></text>
<line x1="292.9" y1="515.3199999999999" x2="296.4" y2="515.3199999999999" stroke="#555" stroke-width="1" />
<text x="290.7" y="519.0279999999999" font-size="10.3" fill="#000" color="#000" text-anchor="end"><tspan>60</tspan></text>
<line x1="292.9" y1="498.26" x2="296.4" y2="498.26" stroke="#555" stroke-width="1" />
<text x="290.7" y="501.968" font-size="10.3" fill="#000" color="#000" text-anchor="end"><tspan>80</tspan></text>
<line x1="292.9" y1="481.2" x2="296.4" y2="481.2" stroke="#555" stroke-width="1" />
<text x="290.7" y="484.908" font-size="10.3" fill="#000" color="#000" text-anchor="end"><tspan>100</tspan></text>
<line x1="316" y1="566.5" x2="316" y2="570.0" stroke="#555" stroke-width="1" />
<line x1="361.4" y1="566.5" x2="361.4" y2="570.0" stroke="#555" stroke-width="1" />
<text x="316.6" y="580.8" font-size="10.7" fill="#000" color="#000" text-anchor="middle"><tspan>DN</tspan></text>
<text x="363.2" y="580.8" font-size="10.7" fill="#000" color="#000" text-anchor="middle"><tspan>DP</tspan></text>
<line x1="304.5" y1="535.5" x2="327.9" y2="535.5" stroke="#555" stroke-width="1.0" />
<text x="316.2" y="531.3" font-size="10.9" fill="#000" color="#000" text-anchor="middle"><tspan>0.7333</tspan></text>
<line x1="348.3" y1="488.7" x2="372" y2="488.7" stroke="#555" stroke-width="1.0" />
<text x="360.15" y="484.5" font-size="10.9" fill="#000" color="#000" text-anchor="middle"><tspan>0.2456</tspan></text>
<circle cx="307.90" cy="542.50" r="2.75" fill="#ff0000"/>
<circle cx="308.60" cy="551.30" r="2.75" fill="#ff0000"/>
<circle cx="307.20" cy="553.00" r="2.75" fill="#ff0000"/>
<circle cx="304.50" cy="561.10" r="2.75" fill="#ff0000"/>
<circle cx="311.30" cy="562.20" r="2.75" fill="#ff0000"/>
<circle cx="305.20" cy="564.20" r="2.75" fill="#ff0000"/>
<circle cx="309.20" cy="564.90" r="2.75" fill="#ff0000"/>
<circle cx="306.50" cy="562.20" r="2.75" fill="#ff0000"/>
<circle cx="311.30" cy="564.90" r="2.75" fill="#ff0000"/>
<line x1="302.5" y1="558.4" x2="313.6" y2="558.4" stroke="#000" stroke-width="1.1" />
<circle cx="324.80" cy="542.50" r="2.75" fill="#0505e6"/>
<circle cx="322.10" cy="559.50" r="2.75" fill="#0505e6"/>
<circle cx="326.20" cy="559.50" r="2.75" fill="#0505e6"/>
<circle cx="320.80" cy="563.20" r="2.75" fill="#0505e6"/>
<circle cx="324.80" cy="563.50" r="2.75" fill="#0505e6"/>
<circle cx="328.90" cy="563.20" r="2.75" fill="#0505e6"/>
<circle cx="322.80" cy="564.20" r="2.75" fill="#0505e6"/>
<circle cx="327.50" cy="564.20" r="2.75" fill="#0505e6"/>
<line x1="319.4" y1="559.5" x2="330.5" y2="559.5" stroke="#000" stroke-width="1.1" />
<circle cx="350.30" cy="498.70" r="2.75" fill="#ff0000"/>
<circle cx="356.70" cy="501.20" r="2.75" fill="#ff0000"/>
<circle cx="353.60" cy="504.60" r="2.75" fill="#ff0000"/>
<circle cx="350.30" cy="507.30" r="2.75" fill="#ff0000"/>
<circle cx="356.70" cy="508.00" r="2.75" fill="#ff0000"/>
<circle cx="353.60" cy="512.00" r="2.75" fill="#ff0000"/>
<circle cx="353.60" cy="519.10" r="2.75" fill="#ff0000"/>
<circle cx="351.70" cy="528.60" r="2.75" fill="#ff0000"/>
<circle cx="355.30" cy="527.60" r="2.75" fill="#ff0000"/>
<line x1="348.3" y1="512" x2="358.7" y2="512" stroke="#555" stroke-width="1.1" />
<circle cx="367.50" cy="495.50" r="2.75" fill="#0505e6"/>
<circle cx="371.60" cy="498.50" r="2.75" fill="#0505e6"/>
<circle cx="374.30" cy="498.70" r="2.75" fill="#0505e6"/>
<circle cx="369.50" cy="500.10" r="2.75" fill="#0505e6"/>
<circle cx="372.30" cy="501.90" r="2.75" fill="#0505e6"/>
<circle cx="368.20" cy="505.50" r="2.75" fill="#0505e6"/>
<circle cx="370.90" cy="500.50" r="2.75" fill="#0505e6"/>
<circle cx="370.60" cy="537.10" r="2.75" fill="#0505e6"/>
<line x1="364.8" y1="505" x2="376.1" y2="505" stroke="#000" stroke-width="1.1" />
<text transform="translate(267.3,526.5) rotate(-90)" font-size="10.7" fill="#000" color="#000" textLength="73.2" lengthAdjust="spacing" text-anchor="middle"><tspan>% of NP</tspan><tspan dy="-3.64" font-size="7.28" font-style="normal">+</tspan><tspan dy="3.64"> MBC</tspan></text>
<text x="419" y="458.6" font-size="17.2" fill="#000" color="#000" font-weight="bold"><tspan>J</tspan></text>
<line x1="479.5" y1="480.2" x2="479.5" y2="566.4" stroke="#555" stroke-width="1" />
<line x1="479.5" y1="566.4" x2="530.9" y2="566.4" stroke="#555" stroke-width="1" />
<line x1="476.0" y1="566.4" x2="479.5" y2="566.4" stroke="#555" stroke-width="1" />
<text x="473.8" y="570.108" font-size="10.3" fill="#000" color="#000" text-anchor="end"><tspan>0</tspan></text>
<line x1="476.0" y1="544.85" x2="479.5" y2="544.85" stroke="#555" stroke-width="1" />
<text x="473.8" y="548.558" font-size="10.3" fill="#000" color="#000" text-anchor="end"><tspan>2</tspan></text>
<line x1="476.0" y1="523.3" x2="479.5" y2="523.3" stroke="#555" stroke-width="1" />
<text x="473.8" y="527.0079999999999" font-size="10.3" fill="#000" color="#000" text-anchor="end"><tspan>4</tspan></text>
<line x1="476.0" y1="501.75" x2="479.5" y2="501.75" stroke="#555" stroke-width="1" />
<text x="473.8" y="505.458" font-size="10.3" fill="#000" color="#000" text-anchor="end"><tspan>6</tspan></text>
<line x1="476.0" y1="480.2" x2="479.5" y2="480.2" stroke="#555" stroke-width="1" />
<text x="473.8" y="483.908" font-size="10.3" fill="#000" color="#000" text-anchor="end"><tspan>8</tspan></text>
<line x1="505.5" y1="566.4" x2="505.5" y2="569.9" stroke="#555" stroke-width="1" />
<text x="508.6" y="583" font-size="10.7" fill="#000" color="#000" text-anchor="middle"><tspan>Non-GC-</tspan></text>
<text x="508.8" y="594.5" font-size="10.7" fill="#000" color="#000" text-anchor="middle"><tspan>derived (DN)</tspan></text>
<line x1="494.4" y1="495.3" x2="518.1" y2="495.3" stroke="#555" stroke-width="1.0" />
<text x="506.25" y="491.1" font-size="10.9" fill="#000" color="#000" text-anchor="middle"><tspan>0.0320</tspan></text>
<circle cx="489.40" cy="555.00" r="2.75" fill="#ff0000"/>
<circle cx="493.00" cy="556.70" r="2.75" fill="#ff0000"/>
<circle cx="497.10" cy="555.30" r="2.75" fill="#ff0000"/>
<circle cx="499.80" cy="557.30" r="2.75" fill="#ff0000"/>
<circle cx="489.40" cy="560.00" r="2.75" fill="#ff0000"/>
<circle cx="494.40" cy="560.70" r="2.75" fill="#ff0000"/>
<circle cx="499.10" cy="560.70" r="2.75" fill="#ff0000"/>
<circle cx="489.40" cy="563.40" r="2.75" fill="#ff0000"/>
<circle cx="494.40" cy="563.40" r="2.75" fill="#ff0000"/>
<circle cx="499.10" cy="563.70" r="2.75" fill="#ff0000"/>
<line x1="486.9" y1="559.4" x2="501.8" y2="559.4" stroke="#000" stroke-width="1.1" />
<circle cx="516.30" cy="502.80" r="2.75" fill="#0505e6"/>
<circle cx="516.30" cy="541.50" r="2.75" fill="#0505e6"/>
<circle cx="519.00" cy="547.20" r="2.75" fill="#0505e6"/>
<circle cx="514.00" cy="551.20" r="2.75" fill="#0505e6"/>
<circle cx="511.30" cy="554.60" r="2.75" fill="#0505e6"/>
<circle cx="516.00" cy="555.00" r="2.75" fill="#0505e6"/>
<circle cx="520.80" cy="556.00" r="2.75" fill="#0505e6"/>
<circle cx="518.10" cy="554.00" r="2.75" fill="#0505e6"/>
<line x1="509.3" y1="545.2" x2="523.9" y2="545.2" stroke="#000" stroke-width="1.1" />
<text transform="translate(455,530.5) rotate(-90)" font-size="10.7" fill="#000" color="#000" textLength="137" lengthAdjust="spacing" text-anchor="middle"><tspan>% of DN MBC in NP</tspan><tspan dy="-3.64" font-size="7.28" font-style="normal">+</tspan><tspan dy="3.64"> B cells</tspan></text>
<line x1="603.8" y1="480.2" x2="603.8" y2="566.4" stroke="#555" stroke-width="1" />
<line x1="603.8" y1="566.4" x2="655.3" y2="566.4" stroke="#555" stroke-width="1" />
<line x1="600.3" y1="566.4" x2="603.8" y2="566.4" stroke="#555" stroke-width="1" />
<text x="598.0999999999999" y="570.108" font-size="10.3" fill="#000" color="#000" text-anchor="end"><tspan>0</tspan></text>
<line x1="600.3" y1="537.6666666666666" x2="603.8" y2="537.6666666666666" stroke="#555" stroke-width="1" />
<text x="598.0999999999999" y="541.3746666666666" font-size="10.3" fill="#000" color="#000" text-anchor="end"><tspan>10</tspan></text>
<line x1="600.3" y1="508.93333333333334" x2="603.8" y2="508.93333333333334" stroke="#555" stroke-width="1" />
<text x="598.0999999999999" y="512.6413333333334" font-size="10.3" fill="#000" color="#000" text-anchor="end"><tspan>20</tspan></text>
<line x1="600.3" y1="480.2" x2="603.8" y2="480.2" stroke="#555" stroke-width="1" />
<text x="598.0999999999999" y="483.908" font-size="10.3" fill="#000" color="#000" text-anchor="end"><tspan>30</tspan></text>
<line x1="629.5" y1="566.4" x2="629.5" y2="569.9" stroke="#555" stroke-width="1" />
<text x="635.4" y="583" font-size="10.7" fill="#000" color="#000" text-anchor="middle"><tspan>GC-</tspan></text>
<text x="635.5" y="594.5" font-size="10.7" fill="#000" color="#000" text-anchor="middle"><tspan>derived (DP)</tspan></text>
<line x1="618.7" y1="491.9" x2="642.4" y2="491.9" stroke="#555" stroke-width="1.0" />
<text x="630.55" y="487.7" font-size="10.9" fill="#000" color="#000" text-anchor="middle"><tspan>0.0002</tspan></text>
<circle cx="618.70" cy="528.00" r="2.75" fill="#ff0000"/>
<circle cx="614.00" cy="531.30" r="2.75" fill="#ff0000"/>
<circle cx="618.70" cy="534.30" r="2.75" fill="#ff0000"/>
<circle cx="618.70" cy="540.00" r="2.75" fill="#ff0000"/>
<circle cx="623.40" cy="552.90" r="2.75" fill="#ff0000"/>
<circle cx="614.00" cy="556.00" r="2.75" fill="#ff0000"/>
<circle cx="618.70" cy="558.70" r="2.75" fill="#ff0000"/>
<circle cx="623.40" cy="559.10" r="2.75" fill="#ff0000"/>
<circle cx="614.00" cy="562.80" r="2.75" fill="#ff0000"/>
<line x1="611.2" y1="547.2" x2="625.9" y2="547.2" stroke="#555" stroke-width="1.1" />
<circle cx="638.10" cy="499.50" r="2.75" fill="#0505e6"/>
<circle cx="643.10" cy="500.10" r="2.75" fill="#0505e6"/>
<circle cx="640.80" cy="506.80" r="2.75" fill="#0505e6"/>
<circle cx="635.60" cy="510.60" r="2.75" fill="#0505e6"/>
<circle cx="645.40" cy="509.90" r="2.75" fill="#0505e6"/>
<circle cx="640.80" cy="516.00" r="2.75" fill="#0505e6"/>
<circle cx="645.40" cy="516.30" r="2.75" fill="#0505e6"/>
<circle cx="640.80" cy="546.10" r="2.75" fill="#0505e6"/>
<line x1="633.6" y1="513.3" x2="647.8" y2="513.3" stroke="#000" stroke-width="1.1" />
<text transform="translate(581,531) rotate(-90)" font-size="10.7" fill="#000" color="#000" textLength="136" lengthAdjust="spacing" text-anchor="middle"><tspan>% of DP MBC in NP</tspan><tspan dy="-3.64" font-size="7.28" font-style="normal">+</tspan><tspan dy="3.64"> B cells</tspan></text>
<line x1="278.4" y1="650.9" x2="278.4" y2="698.5" stroke="#555" stroke-width="1" />
<line x1="278.4" y1="704.5" x2="278.4" y2="753.9" stroke="#555" stroke-width="1" />
<line x1="278.4" y1="753.9" x2="364.7" y2="753.9" stroke="#555" stroke-width="1" />
<line x1="274.9" y1="650.9" x2="278.4" y2="650.9" stroke="#555" stroke-width="1" />
<text x="272.7" y="654.6" font-size="10.3" fill="#000" color="#000" text-anchor="end"><tspan>4</tspan></text>
<line x1="274.9" y1="663.3" x2="278.4" y2="663.3" stroke="#555" stroke-width="1" />
<text x="272.7" y="667.0" font-size="10.3" fill="#000" color="#000" text-anchor="end"><tspan>3</tspan></text>
<line x1="274.9" y1="676.3" x2="278.4" y2="676.3" stroke="#555" stroke-width="1" />
<text x="272.7" y="680.0" font-size="10.3" fill="#000" color="#000" text-anchor="end"><tspan>2</tspan></text>
<line x1="274.9" y1="689.4" x2="278.4" y2="689.4" stroke="#555" stroke-width="1" />
<text x="272.7" y="693.1" font-size="10.3" fill="#000" color="#000" text-anchor="end"><tspan>1</tspan></text>
<line x1="274.9" y1="705.2" x2="278.4" y2="705.2" stroke="#555" stroke-width="1" />
<text x="272.7" y="708.9000000000001" font-size="10.3" fill="#000" color="#000" text-anchor="end"><tspan>0.20</tspan></text>
<line x1="274.9" y1="718" x2="278.4" y2="718" stroke="#555" stroke-width="1" />
<text x="272.7" y="721.7" font-size="10.3" fill="#000" color="#000" text-anchor="end"><tspan>0.15</tspan></text>
<line x1="274.9" y1="730.2" x2="278.4" y2="730.2" stroke="#555" stroke-width="1" />
<text x="272.7" y="733.9000000000001" font-size="10.3" fill="#000" color="#000" text-anchor="end"><tspan>0.10</tspan></text>
<line x1="274.9" y1="741.6" x2="278.4" y2="741.6" stroke="#555" stroke-width="1" />
<text x="272.7" y="745.3000000000001" font-size="10.3" fill="#000" color="#000" text-anchor="end"><tspan>0.05</tspan></text>
<line x1="274.9" y1="753.9" x2="278.4" y2="753.9" stroke="#555" stroke-width="1" />
<text x="272.7" y="757.6" font-size="10.3" fill="#000" color="#000" text-anchor="end"><tspan>0.00</tspan></text>
<line x1="275.9" y1="699.5" x2="280.9" y2="695.5" stroke="#555" stroke-width="0.9" />
<line x1="275.9" y1="705.5" x2="280.9" y2="701.5" stroke="#555" stroke-width="0.9" />
<line x1="321.5" y1="753.9" x2="321.5" y2="757.4" stroke="#555" stroke-width="1" />
<text x="321.2" y="766.5" font-size="10.7" fill="#000" color="#000" text-anchor="middle"><tspan>IgG1</tspan><tspan dy="-3.64" font-size="7.28" font-style="normal">+</tspan><tspan dy="3.64"> NP</tspan><tspan dy="-3.64" font-size="7.28" font-style="normal">+</tspan></text>
<line x1="312.2" y1="648.7" x2="335.8" y2="648.7" stroke="#555" stroke-width="1.0" />
<text x="324.0" y="644.5" font-size="10.9" fill="#000" color="#000" text-anchor="middle"><tspan>0.0029</tspan></text>
<circle cx="297.80" cy="657.50" r="2.75" fill="#ff0000"/>
<circle cx="308.70" cy="656.30" r="2.75" fill="#ff0000"/>
<circle cx="297.80" cy="663.70" r="2.75" fill="#ff0000"/>
<circle cx="308.70" cy="662.40" r="2.75" fill="#ff0000"/>
<circle cx="303.10" cy="689.10" r="2.75" fill="#ff0000"/>
<circle cx="303.10" cy="695.70" r="2.75" fill="#ff0000"/>
<line x1="291.2" y1="670.7" x2="315.3" y2="670.7" stroke="#000" stroke-width="1.1" />
<circle cx="339.90" cy="720.60" r="2.75" fill="#0505e6"/>
<circle cx="330.20" cy="741.60" r="2.75" fill="#0505e6"/>
<circle cx="349.50" cy="743.40" r="2.75" fill="#0505e6"/>
<circle cx="339.90" cy="746.00" r="2.75" fill="#0505e6"/>
<circle cx="339.90" cy="753.50" r="2.75" fill="#0505e6"/>
<line x1="328.5" y1="741.3" x2="352" y2="741.3" stroke="#000" stroke-width="1.1" />
<text transform="translate(243.8,706.8) rotate(-90)" font-size="10.7" fill="#000" color="#000" textLength="87.9" lengthAdjust="spacing" text-anchor="middle"><tspan>% IgG1 </tspan><tspan dy="-3.64" font-size="7.28" font-style="normal">+</tspan><tspan dy="3.64"> NP</tspan><tspan dy="-3.64" font-size="7.28" font-style="normal">+</tspan><tspan dy="3.64"> cells</tspan></text>
<line x1="618.4" y1="668.4" x2="618.4" y2="753.8" stroke="#555" stroke-width="1" />
<line x1="618.4" y1="753.8" x2="668.9" y2="753.8" stroke="#555" stroke-width="1" />
<line x1="614.9" y1="753.8" x2="618.4" y2="753.8" stroke="#555" stroke-width="1" />
<text x="612.6999999999999" y="757.5079999999999" font-size="10.3" fill="#000" color="#000" text-anchor="end"><tspan>0</tspan></text>
<line x1="614.9" y1="736.7199999999999" x2="618.4" y2="736.7199999999999" stroke="#555" stroke-width="1" />
<text x="612.6999999999999" y="740.4279999999999" font-size="10.3" fill="#000" color="#000" text-anchor="end"><tspan>20</tspan></text>
<line x1="614.9" y1="719.64" x2="618.4" y2="719.64" stroke="#555" stroke-width="1" />
<text x="612.6999999999999" y="723.348" font-size="10.3" fill="#000" color="#000" text-anchor="end"><tspan>40</tspan></text>
<line x1="614.9" y1="702.56" x2="618.4" y2="702.56" stroke="#555" stroke-width="1" />
<text x="612.6999999999999" y="706.2679999999999" font-size="10.3" fill="#000" color="#000" text-anchor="end"><tspan>60</tspan></text>
<line x1="614.9" y1="685.48" x2="618.4" y2="685.48" stroke="#555" stroke-width="1" />
<text x="612.6999999999999" y="689.188" font-size="10.3" fill="#000" color="#000" text-anchor="end"><tspan>80</tspan></text>
<line x1="614.9" y1="668.4" x2="618.4" y2="668.4" stroke="#555" stroke-width="1" />
<text x="612.6999999999999" y="672.108" font-size="10.3" fill="#000" color="#000" text-anchor="end"><tspan>100</tspan></text>
<line x1="643.6" y1="753.8" x2="643.6" y2="757.3" stroke="#555" stroke-width="1" />
<text x="639" y="765.8" font-size="10.7" fill="#000" color="#000" text-anchor="middle"><tspan>IgG1</tspan><tspan dy="-3.64" font-size="7.28" font-style="normal">+</tspan><tspan dy="3.64"> NP</tspan><tspan dy="-3.64" font-size="7.28" font-style="normal">+</tspan><tspan dy="3.64"> MBC</tspan></text>
<line x1="630.6" y1="673.3" x2="654" y2="673.3" stroke="#555" stroke-width="1.0" />
<text x="642.3" y="669.0999999999999" font-size="10.9" fill="#000" color="#000" text-anchor="middle"><tspan>&lt;0.0001</tspan></text>
<circle cx="628.00" cy="731.80" r="2.75" fill="#ff0000"/>
<circle cx="637.40" cy="731.10" r="2.75" fill="#ff0000"/>
<circle cx="631.70" cy="735.80" r="2.75" fill="#ff0000"/>
<circle cx="634.40" cy="735.20" r="2.75" fill="#ff0000"/>
<circle cx="631.00" cy="739.90" r="2.75" fill="#ff0000"/>
<circle cx="634.40" cy="741.20" r="2.75" fill="#ff0000"/>
<circle cx="631.00" cy="742.90" r="2.75" fill="#ff0000"/>
<line x1="625.2" y1="736.5" x2="639.8" y2="736.5" stroke="#000" stroke-width="1.1" />
<circle cx="650.00" cy="681.70" r="2.75" fill="#0505e6"/>
<circle cx="654.70" cy="680.60" r="2.75" fill="#0505e6"/>
<circle cx="659.40" cy="682.10" r="2.75" fill="#0505e6"/>
<circle cx="652.00" cy="690.10" r="2.75" fill="#0505e6"/>
<circle cx="656.70" cy="689.50" r="2.75" fill="#0505e6"/>
<line x1="647.6" y1="684.8" x2="661.9" y2="684.8" stroke="#555" stroke-width="1.1" />
<text transform="translate(589.2,712.3) rotate(-90)" font-size="10.7" fill="#000" color="#000" textLength="89.1" lengthAdjust="spacing" text-anchor="middle"><tspan>% IgG1 </tspan><tspan dy="-3.64" font-size="7.28" font-style="normal">+</tspan><tspan dy="3.64"> NP</tspan><tspan dy="-3.64" font-size="7.28" font-style="normal">+</tspan><tspan dy="3.64"> MBC</tspan></text>
<text x="7.5" y="11.8" font-size="17.2" fill="#000" color="#000" font-weight="bold"><tspan>A</tspan></text>
<text x="83.2" y="21.6" font-size="11.6" fill="#000" color="#000" textLength="211" lengthAdjust="spacing"><tspan>On singlet/live/B220</tspan><tspan dy="-3.94" font-size="7.89" font-style="normal">+</tspan><tspan dy="3.94">/NP</tspan><tspan dy="-3.94" font-size="7.89" font-style="normal">+</tspan><tspan dy="3.94">/IgD</tspan><tspan dy="-3.94" font-size="7.89" font-style="normal">-</tspan><tspan dy="3.94">/CD138</tspan><tspan dy="-3.94" font-size="7.89" font-style="normal">-</tspan></text>
<line x1="53" y1="30.5" x2="319.5" y2="30.5" stroke="#000" stroke-width="1.6" />
<text x="91.9" y="48.8" font-size="12" fill="#000" color="#000" text-anchor="middle"><tspan>D5</tspan></text>
<text x="182.5" y="48.8" font-size="12" fill="#000" color="#000" text-anchor="middle"><tspan>D10</tspan></text>
<text x="273.5" y="50.6" font-size="12" fill="#000" color="#000" text-anchor="middle"><tspan>D14</tspan></text>
<text x="1.7" y="91.8" font-size="11" fill="#ff0000" color="#ff0000" font-style="italic"><tspan font-style="italic">Cfp1</tspan><tspan dy="-3.74" font-size="7.48" font-style="normal">fl/fl</tspan></text>
<text x="1.5" y="181.4" font-size="11" fill="#0505e6" color="#0505e6" font-style="italic"><tspan font-style="italic">Cfp1</tspan><tspan dy="-3.74" font-size="7.48" font-style="normal">fl/fl</tspan></text>
<text x="0.5" y="194.8" font-size="11" fill="#0505e6" color="#0505e6" font-style="italic"><tspan font-style="italic">Aicda</tspan><tspan dy="-3.74" font-size="7.48" font-style="normal">Cre</tspan></text>
<text transform="translate(36,140) rotate(-90)" font-size="12.5" fill="#000" color="#000" text-anchor="middle"><tspan>CD38</tspan></text>
<text x="175.6" y="246" font-size="12.5" fill="#000" color="#000" text-anchor="middle"><tspan>GL7</tspan></text>
<line x1="45" y1="63.0" x2="45" y2="233" stroke="#000" stroke-width="1.5" />
<line x1="44.25" y1="233" x2="315.0" y2="233" stroke="#000" stroke-width="1.5" />
<polygon points="45,56.5 41.4,63.5 48.6,63.5" fill="#000"/>
<polygon points="321.5,233 314.5,229.4 314.5,236.6" fill="#000"/>
<rect x="52.4" y="53.3" width="84.3" height="84.4" fill="none" stroke="#8a8a8a" stroke-width="0.8"/>
<path d="M51.2,56.7h1.2M51.2,59.2h1.2M51.2,61.7h1.2M51.2,66.8h1.2M50.4,75.2h2.0M51.2,78.6h1.2M51.2,82.0h1.2M51.2,85.4h1.2M51.2,88.7h1.2M50.4,95.5h2.0M51.2,100.6h1.2M51.2,103.9h1.2M51.2,107.3h1.2M51.2,110.7h1.2M50.4,119.1h2.0M51.2,125.0h1.2M51.2,131.8h1.2M50.4,135.2h2.0M56.6,137.7v2.0M60.8,137.7v1.2M62.5,137.7v1.2M69.3,137.7v1.2M73.5,137.7v1.2M77.7,137.7v1.2M82.7,137.7v1.2M87.8,137.7v2.0M94.5,137.7v1.2M98.8,137.7v1.2M103.0,137.7v1.2M109.7,137.7v1.2M113.1,137.7v2.0M116.5,137.7v1.2M119.8,137.7v1.2M125.7,137.7v1.2M128.3,137.7v1.2M132.5,137.7v2.0" stroke="#666" stroke-width="0.6" fill="none"/>
<rect x="50.199999999999996" y="117.866" width="1.8" height="2" fill="#111"/>
<rect x="70.946" y="138.0" width="3" height="1.8" fill="#111"/>
<path d="M112.9,116.8 109.6,116.7 106.6,116.0 104.6,115.1 100.9,113.0 95.9,111.3 94.2,110.2 93.1,108.8 92.3,106.8 92.4,104.8 93.5,101.5 93.2,100.9 92.7,100.5 84.6,97.9 77.9,97.0 75.2,96.3 71.9,94.9 69.0,92.8 67.2,90.8 65.8,88.8 64.8,86.5 64.2,84.1 64.1,81.8 64.5,79.5 65.3,77.5 66.7,75.5 67.9,74.3 69.2,73.3 70.9,72.5 72.9,72.0 74.9,71.7 76.6,71.8 78.6,72.1 80.6,72.6 82.9,73.7 85.2,75.3 90.2,80.1 91.9,81.4 97.9,84.6 103.2,88.5 109.2,91.0 111.4,92.5 112.7,94.1 113.2,95.8 112.9,97.5 111.8,99.8 112.0,100.8 112.7,101.5 116.9,103.9 118.9,105.5 120.4,107.5 120.8,108.5 121.1,109.8 121.0,111.1 120.7,112.1 120.0,113.5 119.1,114.5 117.9,115.3 116.6,116.0 114.6,116.6 112.9,116.8 Z M107.6,98.5 105.9,98.7 100.9,98.3 95.9,98.6 92.9,98.4 90.2,97.8 84.6,96.1 76.9,95.1 73.6,94.0 71.2,92.6 69.6,91.1 67.9,89.1 66.9,87.1 66.1,84.8 65.9,82.8 66.2,80.5 66.9,78.5 68.0,76.8 69.4,75.5 70.9,74.5 72.9,73.7 74.9,73.4 77.2,73.5 79.6,74.0 81.6,74.8 83.2,75.8 84.9,77.1 88.9,81.2 90.6,82.6 96.9,86.0 102.6,90.4 107.6,92.4 109.2,93.5 110.1,94.8 110.3,95.8 110.2,96.5 109.2,97.7 107.6,98.5 Z M112.2,115.5 109.6,115.4 107.2,114.8 105.2,113.8 101.6,111.7 97.6,110.6 95.9,109.8 94.6,108.6 93.8,107.1 93.8,105.5 94.5,103.8 95.6,102.7 96.6,102.0 97.9,101.6 99.2,101.5 104.6,102.8 108.6,102.6 110.9,102.9 113.6,103.7 115.9,105.0 117.6,106.5 118.7,108.1 119.2,109.8 118.9,111.5 117.9,113.1 116.6,114.2 114.6,115.1 112.2,115.5 Z M95.6,96.8 93.9,96.9 91.9,96.7 84.6,94.6 77.2,93.9 74.6,93.1 72.2,91.8 70.6,90.4 69.3,88.8 68.3,87.1 67.6,85.1 67.3,83.1 67.4,81.5 67.9,79.8 68.8,78.1 69.6,77.1 70.9,76.1 72.2,75.4 73.9,74.9 75.6,74.7 77.2,74.8 78.9,75.1 80.6,75.7 82.6,76.8 84.2,78.1 89.2,83.5 90.7,84.5 94.6,86.3 96.5,87.5 98.4,89.1 101.9,92.9 105.1,94.8 105.2,95.1 104.6,95.4 101.2,95.5 95.6,96.8 Z M113.2,114.2 110.9,114.4 108.2,113.9 105.9,112.9 102.2,110.5 98.6,109.7 97.0,109.1 95.9,108.3 95.2,107.1 95.1,105.8 95.4,104.8 96.0,104.1 96.9,103.5 97.9,103.1 98.9,103.0 100.6,103.2 104.2,104.4 108.9,104.1 110.9,104.2 112.6,104.6 114.2,105.4 115.8,106.5 116.9,107.8 117.5,109.1 117.5,110.5 117.0,111.8 116.2,112.8 114.9,113.6 113.2,114.2 Z M95.2,95.1 93.6,95.4 91.6,95.2 86.6,93.6 84.9,93.2 77.9,92.9 75.6,92.3 73.6,91.3 71.9,90.1 70.6,88.8 69.7,87.5 69.0,85.8 68.6,84.1 68.5,82.5 68.9,80.8 69.6,79.3 70.6,78.0 71.9,77.0 73.2,76.3 74.9,75.9 76.6,75.9 78.2,76.1 79.9,76.6 81.6,77.5 84.2,79.7 87.2,83.4 88.6,84.8 90.2,85.9 94.6,88.0 95.9,88.9 97.0,90.1 97.9,91.8 98.0,93.1 97.7,93.8 96.9,94.5 95.2,95.1 Z M112.6,113.1 110.2,113.2 107.9,112.6 106.2,111.7 103.6,109.2 102.6,108.6 99.2,108.6 97.9,108.2 97.2,107.8 96.7,107.1 96.5,106.1 96.7,105.5 97.2,104.9 97.9,104.5 99.2,104.3 100.6,104.7 103.6,106.2 104.6,106.2 107.6,105.4 109.2,105.2 111.2,105.4 113.2,106.1 114.3,106.8 115.3,107.8 115.8,108.8 116.0,110.1 115.7,111.1 114.9,112.1 113.9,112.7 112.6,113.1 Z M92.6,93.5 90.9,93.2 87.6,92.0 85.9,91.7 80.2,92.0 77.6,91.7 75.6,91.2 73.9,90.3 72.6,89.3 71.4,88.1 70.6,86.8 70.0,85.5 69.7,83.8 69.7,82.5 70.0,81.1 70.6,79.9 71.2,79.0 72.3,78.1 73.6,77.4 74.9,77.1 76.2,76.9 77.9,77.1 79.6,77.6 80.9,78.3 82.6,79.5 83.9,80.8 86.9,85.2 88.2,86.7 89.6,87.5 93.1,89.1 94.6,90.5 95.0,91.5 94.9,92.5 93.9,93.2 92.6,93.5 Z M112.6,111.8 111.6,112.0 110.2,112.0 108.9,111.7 107.7,111.1 106.9,110.5 106.3,109.5 106.1,108.5 106.4,107.8 107.6,106.9 109.6,106.5 111.2,106.7 112.9,107.4 114.0,108.5 114.3,109.8 113.9,110.9 112.6,111.8 Z M80.2,90.8 77.6,90.7 75.2,89.9 73.2,88.6 71.8,86.8 70.9,84.5 70.9,82.1 71.9,80.1 73.4,78.8 74.9,78.2 76.2,78.0 77.9,78.2 79.2,78.6 80.6,79.2 81.9,80.2 83.1,81.5 84.2,83.1 85.2,85.1 85.8,86.8 85.9,87.8 85.6,88.8 84.9,89.5 83.6,90.1 80.2,90.8 Z M110.9,110.2 110.0,110.1 109.4,109.8 109.1,109.5 109.2,108.8 109.6,108.5 110.2,108.4 111.4,108.8 111.7,109.5 111.5,109.8 110.9,110.2 Z M80.6,89.5 78.2,89.7 76.2,89.2 74.6,88.3 73.1,86.8 72.2,85.1 72.0,83.1 72.5,81.5 73.6,80.1 74.6,79.6 75.6,79.2 77.9,79.3 80.2,80.3 82.2,82.1 83.0,83.5 83.6,84.8 83.8,86.1 83.7,87.1 83.2,88.0 82.6,88.7 80.6,89.5 Z M79.9,88.2 78.6,88.4 76.9,88.2 75.4,87.5 74.2,86.3 73.5,84.8 73.3,83.5 73.7,82.1 74.6,81.1 76.2,80.4 77.9,80.5 79.6,81.3 80.9,82.5 82.0,84.5 82.0,86.1 81.3,87.5 79.9,88.2 Z M78.9,86.9 77.9,87.0 76.9,86.8 75.9,86.2 75.3,85.5 74.8,84.5 74.8,83.5 75.2,82.6 75.8,82.1 76.9,81.8 77.9,81.9 79.0,82.5 80.0,83.5 80.4,84.5 80.4,85.5 79.9,86.3 78.9,86.9 Z" fill="none" stroke="#7a7a7a" stroke-width="0.6" stroke-linejoin="round"/>
<path d="M94.3,102.5h0.7M74.8,83.8h0.7M99.0,97.3h0.7M94.2,102.4h0.7M94.3,84.6h0.7M115.0,98.7h0.7M85.7,79.9h0.7M103.1,112.0h0.7M76.6,82.3h0.7M99.7,98.8h0.7M61.6,75.0h0.7M70.5,95.5h0.7M76.7,90.1h0.7M105.4,103.9h0.7M83.9,83.8h0.7M85.4,76.0h0.7M82.7,74.3h0.7M107.8,106.4h0.7M65.8,63.0h0.7M82.7,81.1h0.7M69.4,77.5h0.7M75.7,61.6h0.7M91.2,83.9h0.7M86.7,85.0h0.7M98.6,90.3h0.7M81.2,77.6h0.7M74.2,80.1h0.7M79.5,79.2h0.7M86.0,101.8h0.7M66.0,82.4h0.7M73.6,90.0h0.7M92.4,87.7h0.7M72.1,98.6h0.7M71.3,89.5h0.7M65.9,75.1h0.7M104.2,114.0h0.7M111.9,102.2h0.7M76.2,93.9h0.7M59.6,84.4h0.7M107.7,105.5h0.7M80.1,67.9h0.7M109.8,109.2h0.7M100.7,86.9h0.7M97.7,95.9h0.7M71.7,75.6h0.7M97.6,109.8h0.7M114.7,104.1h0.7M84.2,81.6h0.7M75.7,81.9h0.7M65.8,91.5h0.7M76.8,77.1h0.7M63.6,67.3h0.7M90.7,90.1h0.7M108.0,108.4h0.7M74.6,86.5h0.7M93.9,101.3h0.7M72.3,71.3h0.7M63.1,74.3h0.7M56.0,64.1h0.7M80.3,86.9h0.7M78.8,105.9h0.7M86.3,75.4h0.7M88.8,106.3h0.7M86.9,72.5h0.7M79.2,92.0h0.7M109.5,99.8h0.7M89.0,88.8h0.7M54.5,87.8h0.7M92.7,94.9h0.7M73.2,86.9h0.7M107.1,105.9h0.7M73.8,84.2h0.7M101.2,94.0h0.7M82.1,90.0h0.7M98.8,108.3h0.7M87.6,80.4h0.7M70.3,95.9h0.7M81.6,84.5h0.7M114.8,100.1h0.7M90.3,107.2h0.7M95.8,109.0h0.7M111.2,86.3h0.7M101.7,85.4h0.7M87.7,90.4h0.7M106.0,108.5h0.7M60.0,74.8h0.7M69.9,85.6h0.7M63.3,76.0h0.7M84.1,87.9h0.7M94.3,104.0h0.7M76.8,80.6h0.7M68.8,78.3h0.7M68.4,71.0h0.7M112.0,104.6h0.7M92.1,102.4h0.7M75.3,81.4h0.7M86.5,89.4h0.7M79.4,96.1h0.7M93.7,94.0h0.7M87.7,86.0h0.7M112.0,94.3h0.7M75.0,102.4h0.7M76.4,79.8h0.7M67.1,78.2h0.7M92.2,107.0h0.7M92.3,87.7h0.7M103.9,107.0h0.7M78.3,78.0h0.7M81.7,91.9h0.7M71.8,71.2h0.7M119.8,68.5h0.7M106.3,97.6h0.7M100.9,88.8h0.7M123.9,80.9h0.7M96.3,93.4h0.7M124.3,82.6h0.7M114.2,92.4h0.7M87.9,87.1h0.7M101.5,85.3h0.7M121.1,74.9h0.7M89.3,85.4h0.7M125.4,75.2h0.7M124.8,95.9h0.7M120.5,86.3h0.7M110.3,87.3h0.7M118.7,71.4h0.7M116.9,72.9h0.7M112.7,81.7h0.7M113.9,76.8h0.7M92.9,87.3h0.7M103.6,88.8h0.7M98.1,83.9h0.7M120.9,71.5h0.7M110.1,94.4h0.7M123.7,71.3h0.7M102.5,90.8h0.7M106.5,93.1h0.7M91.8,77.2h0.7M88.1,92.0h0.7M88.0,75.7h0.7" stroke="#9a9a9a" stroke-width="0.7" fill="none"/>
<line x1="88" y1="53.3" x2="88" y2="137.7" stroke="#333" stroke-width="0.8" />
<polyline points="52.4,106.3 88,105.2 136.7,94.3" fill="none" stroke="#333" stroke-width="0.8"/>
<rect x="142.9" y="53.3" width="84.3" height="84.4" fill="none" stroke="#8a8a8a" stroke-width="0.8"/>
<path d="M141.7,56.7h1.2M141.7,59.2h1.2M141.7,61.7h1.2M141.7,66.8h1.2M140.9,75.2h2.0M141.7,78.6h1.2M141.7,82.0h1.2M141.7,85.4h1.2M141.7,88.7h1.2M140.9,95.5h2.0M141.7,100.6h1.2M141.7,103.9h1.2M141.7,107.3h1.2M141.7,110.7h1.2M140.9,119.1h2.0M141.7,125.0h1.2M141.7,131.8h1.2M140.9,135.2h2.0M147.1,137.7v2.0M151.3,137.7v1.2M153.0,137.7v1.2M159.8,137.7v1.2M164.0,137.7v1.2M168.2,137.7v1.2M173.2,137.7v1.2M178.3,137.7v2.0M185.1,137.7v1.2M189.3,137.7v1.2M193.5,137.7v1.2M200.2,137.7v1.2M203.6,137.7v2.0M207.0,137.7v1.2M210.3,137.7v1.2M216.2,137.7v1.2M218.8,137.7v1.2M223.0,137.7v2.0" stroke="#666" stroke-width="0.6" fill="none"/>
<rect x="140.70000000000002" y="117.866" width="1.8" height="2" fill="#111"/>
<rect x="161.446" y="138.0" width="3" height="1.8" fill="#111"/>
<path d="M168.7,99.2 167.4,99.4 166.1,99.1 164.7,98.3 163.3,96.8 162.3,95.1 161.3,92.8 160.8,90.5 160.4,87.8 160.4,85.1 160.6,82.8 161.2,80.1 162.0,78.1 163.1,76.1 164.2,74.8 165.7,73.7 167.1,73.4 168.4,73.5 169.7,74.1 170.9,75.1 172.0,76.5 172.8,78.1 173.6,80.1 174.1,82.5 174.4,84.8 174.2,89.5 173.8,91.5 173.1,93.8 172.2,95.8 171.1,97.4 170.1,98.4 168.7,99.2 Z M196.7,124.5 193.1,124.4 190.1,124.0 181.4,121.8 173.4,120.8 171.4,120.3 169.7,119.6 168.1,118.6 166.8,117.5 165.7,116.1 165.0,114.8 164.6,113.5 164.5,112.1 164.6,110.8 165.2,109.1 166.7,106.9 168.7,105.2 170.7,104.2 173.7,103.6 176.7,103.5 183.4,103.6 191.4,102.3 196.1,102.1 200.1,102.4 204.1,102.9 206.4,103.6 208.4,104.5 210.1,105.7 211.4,107.1 212.5,108.8 213.3,110.8 213.6,112.8 213.5,114.8 213.0,116.8 212.1,118.5 211.2,119.8 209.8,121.1 208.4,122.1 206.7,122.9 202.7,123.9 196.7,124.5 Z M168.1,96.5 166.7,96.5 165.7,96.1 164.7,95.3 163.8,94.1 162.9,92.5 162.4,90.8 161.8,86.8 162.2,82.8 162.7,80.8 163.4,79.2 164.3,77.8 165.3,76.8 166.4,76.2 167.4,76.0 168.4,76.2 169.4,76.7 170.4,77.7 171.2,78.8 172.0,80.5 172.5,82.1 173.0,85.8 172.7,89.5 171.7,92.8 171.0,94.1 170.1,95.3 169.1,96.1 168.1,96.5 Z M199.4,122.8 195.1,123.0 191.4,122.7 188.4,122.1 182.4,120.2 175.1,119.5 171.7,118.6 169.1,117.0 168.1,116.0 167.3,114.8 166.9,113.8 166.7,112.5 166.8,111.1 167.1,110.1 168.4,108.1 170.0,106.8 172.1,105.9 174.7,105.3 177.1,105.1 183.7,105.3 191.1,103.9 195.1,103.6 201.7,104.0 204.1,104.4 206.1,105.0 207.7,105.8 209.1,106.8 210.3,108.1 211.1,109.5 211.8,111.1 212.0,112.8 212.0,114.5 211.6,116.1 211.0,117.5 210.1,118.8 208.7,120.1 207.4,121.0 205.7,121.7 204.1,122.2 199.4,122.8 Z M168.1,94.2 167.1,94.2 166.4,94.0 165.4,93.4 164.7,92.6 163.6,90.1 163.1,86.8 163.4,83.5 164.3,80.8 164.9,79.8 165.7,79.0 166.4,78.6 167.4,78.3 168.4,78.6 169.1,79.0 170.4,80.6 171.3,82.8 171.7,85.8 171.5,88.8 170.7,91.4 169.4,93.4 168.1,94.2 Z M197.1,121.8 194.1,121.8 191.4,121.5 188.7,120.9 182.5,118.8 175.7,118.2 172.7,117.4 170.5,116.1 169.1,114.5 168.5,112.8 168.8,110.8 169.5,109.5 170.5,108.5 172.0,107.5 173.7,106.9 176.7,106.5 183.7,106.7 190.4,105.2 193.1,104.8 197.1,104.8 202.7,105.3 205.4,106.0 207.7,107.2 208.8,108.1 209.8,109.5 210.4,110.8 210.8,112.1 210.8,113.8 210.6,115.1 210.2,116.5 209.4,117.7 208.4,118.8 207.4,119.6 205.1,120.7 202.1,121.4 197.1,121.8 Z M167.7,91.8 167.1,91.8 166.4,91.6 165.4,90.5 164.7,88.8 164.4,86.5 164.5,84.5 165.2,82.5 166.1,81.3 166.7,80.9 167.4,80.7 168.4,81.0 169.4,82.1 170.1,83.8 170.4,86.1 170.3,88.1 169.7,89.8 168.7,91.3 167.7,91.8 Z M196.4,120.8 193.4,120.7 190.7,120.3 182.4,117.3 176.4,117.0 173.7,116.4 172.1,115.5 170.8,114.1 170.3,112.8 170.5,111.1 171.1,110.1 172.1,109.2 173.3,108.5 174.7,108.0 177.4,107.8 181.7,108.1 183.7,108.1 190.4,106.3 193.7,105.8 197.7,105.9 203.1,106.4 205.7,107.2 207.7,108.6 208.5,109.5 209.3,110.8 209.8,113.1 209.4,115.5 209.0,116.5 208.1,117.7 206.4,119.0 204.1,119.9 201.4,120.4 196.4,120.8 Z M167.7,88.3 167.1,88.3 166.7,88.0 166.3,86.5 166.6,84.8 167.1,84.3 167.4,84.2 167.7,84.3 168.2,84.8 168.5,86.1 168.3,87.5 167.7,88.3 Z M197.4,119.8 193.7,119.8 190.7,119.2 188.1,118.3 184.1,116.3 182.4,115.7 181.1,115.6 177.1,115.6 175.1,115.2 173.7,114.6 172.9,113.8 172.4,112.8 172.4,111.8 172.7,111.1 173.4,110.3 174.2,109.8 175.4,109.4 177.4,109.2 181.7,109.7 183.4,109.7 185.1,109.3 190.4,107.4 193.7,106.8 197.4,106.8 202.7,107.4 205.1,108.0 206.8,109.1 208.2,110.8 208.8,112.8 208.7,114.1 208.5,115.1 207.4,116.9 205.9,118.1 204.1,118.9 201.7,119.4 197.4,119.8 Z M198.1,118.8 195.4,118.9 193.4,118.8 191.4,118.4 189.4,117.7 187.3,116.5 185.2,114.8 184.0,113.5 183.9,112.8 183.9,112.5 185.3,111.1 188.0,109.5 190.7,108.4 193.4,107.8 196.7,107.7 202.1,108.2 204.4,108.8 206.1,109.8 207.2,111.1 207.7,112.8 207.6,114.5 206.7,116.1 205.4,117.3 203.7,118.0 201.7,118.4 198.1,118.8 Z M178.4,112.9 177.4,113.1 176.7,112.9 176.2,112.5 176.2,112.1 177.1,111.7 178.1,111.8 178.6,112.1 178.8,112.5 178.4,112.9 Z M198.1,117.8 193.7,117.8 191.7,117.4 190.1,116.7 188.7,115.8 187.5,114.5 187.1,113.1 187.3,112.1 188.5,110.8 190.1,109.8 192.4,109.0 194.7,108.7 198.1,108.8 202.4,109.3 204.4,110.0 205.7,111.1 206.3,112.1 206.6,113.5 206.2,114.8 205.4,115.9 204.4,116.6 203.0,117.1 198.1,117.8 Z M196.4,116.8 194.7,116.8 193.1,116.5 190.7,115.5 190.0,114.8 189.4,113.8 189.4,112.8 189.7,112.1 190.6,111.1 192.1,110.4 193.7,109.9 195.7,109.8 198.7,110.0 202.1,110.5 203.7,111.1 204.7,112.1 205.0,112.8 205.0,113.8 204.5,114.8 203.7,115.5 201.4,116.2 196.4,116.8 Z M197.4,115.5 195.1,115.6 193.1,115.1 191.8,114.1 191.5,113.5 191.6,112.8 192.1,112.1 193.1,111.5 194.4,111.1 195.7,111.0 197.7,111.2 200.7,111.7 201.9,112.1 202.7,112.8 202.8,113.5 202.7,113.8 201.9,114.5 200.4,115.0 197.4,115.5 Z" fill="none" stroke="#7a7a7a" stroke-width="0.6" stroke-linejoin="round"/>
<path d="M175.7,100.0h0.7M165.6,80.4h0.7M167.1,94.7h0.7M213.7,112.5h0.7M193.3,110.3h0.7M183.8,110.8h0.7M182.5,106.0h0.7M199.6,107.9h0.7M185.1,109.6h0.7M161.6,112.6h0.7M192.1,107.4h0.7M182.8,110.1h0.7M207.4,111.6h0.7M199.1,115.3h0.7M179.5,108.0h0.7M174.1,114.3h0.7M162.9,101.8h0.7M202.4,116.5h0.7M163.1,116.7h0.7M173.7,116.1h0.7M172.2,81.4h0.7M169.5,76.5h0.7M193.6,117.2h0.7M186.3,116.7h0.7M171.2,100.4h0.7M176.0,120.4h0.7M193.8,105.2h0.7M196.8,117.4h0.7M175.7,110.9h0.7M168.9,103.3h0.7M158.8,108.2h0.7M213.9,116.7h0.7M206.8,113.2h0.7M162.9,90.6h0.7M175.0,110.7h0.7M189.1,123.0h0.7M158.6,101.2h0.7M180.2,87.0h0.7M158.6,101.1h0.7M185.0,108.1h0.7M162.4,83.3h0.7M197.2,122.1h0.7M173.0,81.6h0.7M191.2,102.9h0.7M187.8,117.9h0.7M210.8,119.8h0.7M193.6,107.7h0.7M164.4,73.6h0.7M175.0,114.1h0.7M157.4,111.8h0.7M207.9,117.9h0.7M186.2,129.4h0.7M216.9,130.3h0.7M199.5,117.0h0.7M201.4,114.9h0.7M176.9,112.0h0.7M196.4,109.6h0.7M183.8,114.5h0.7M205.5,110.1h0.7M189.0,116.4h0.7M181.5,102.7h0.7M185.7,107.4h0.7M188.1,115.6h0.7M165.6,106.2h0.7M195.4,104.0h0.7M161.0,125.2h0.7M200.6,117.6h0.7M178.8,119.5h0.7M198.0,120.9h0.7M198.9,112.3h0.7M161.7,95.2h0.7M160.8,90.4h0.7M173.2,80.5h0.7M171.5,111.4h0.7M167.1,114.8h0.7M186.5,101.5h0.7M198.9,119.2h0.7M194.6,122.0h0.7M155.8,88.0h0.7M171.8,114.5h0.7M162.2,69.8h0.7M173.9,109.8h0.7M192.5,109.3h0.7M206.2,119.0h0.7M172.2,117.6h0.7M172.3,79.4h0.7M210.0,116.3h0.7M213.4,103.3h0.7M194.7,103.8h0.7M207.1,104.9h0.7M164.8,65.0h0.7M198.1,118.4h0.7M195.4,117.1h0.7M209.0,114.5h0.7M208.4,105.7h0.7M190.6,114.7h0.7M199.0,109.4h0.7M169.5,114.3h0.7M210.9,109.2h0.7M192.2,110.3h0.7M160.4,90.8h0.7M163.6,114.7h0.7M168.6,66.0h0.7M200.4,113.0h0.7M187.3,107.7h0.7M203.9,106.8h0.7M194.5,112.9h0.7M196.5,107.2h0.7M193.2,106.3h0.7M191.5,100.0h0.7M212.7,101.6h0.7M215.8,100.8h0.7M188.0,73.8h0.7M190.8,85.7h0.7M210.4,86.5h0.7M203.4,96.1h0.7M185.7,93.6h0.7M184.8,80.8h0.7M211.8,93.8h0.7M199.1,82.1h0.7M216.0,81.5h0.7M184.1,80.7h0.7M183.7,97.6h0.7M187.8,102.5h0.7M191.4,82.5h0.7M206.3,82.5h0.7M198.1,76.4h0.7M198.5,74.1h0.7M191.9,100.6h0.7M194.1,81.4h0.7M210.1,99.8h0.7M194.7,84.6h0.7M211.5,97.1h0.7M207.5,78.7h0.7M190.1,96.0h0.7M211.2,100.2h0.7M214.1,85.9h0.7M188.2,100.0h0.7M210.7,90.6h0.7M210.2,84.9h0.7M196.6,90.6h0.7M202.2,94.6h0.7M220.3,98.7h0.7M198.4,84.5h0.7M220.0,85.1h0.7M214.9,76.1h0.7M200.9,88.8h0.7M215.3,99.6h0.7M189.0,91.8h0.7M208.1,77.8h0.7M216.2,89.9h0.7M221.4,78.9h0.7M203.9,83.0h0.7M208.6,91.5h0.7M203.4,83.0h0.7M203.1,84.5h0.7M218.5,87.1h0.7M201.9,81.1h0.7M193.1,101.9h0.7M195.5,99.4h0.7M206.7,102.7h0.7M189.5,101.5h0.7M213.8,90.3h0.7M211.3,95.0h0.7M200.8,92.3h0.7M192.0,73.9h0.7M210.0,87.5h0.7M219.1,81.2h0.7M215.6,102.9h0.7M218.8,102.2h0.7M189.3,78.3h0.7M192.0,84.1h0.7M187.5,77.8h0.7M183.6,101.3h0.7M197.3,92.1h0.7M201.1,95.6h0.7M215.1,84.8h0.7M204.3,76.2h0.7M194.3,80.0h0.7M195.2,83.0h0.7M205.9,83.3h0.7M196.0,98.2h0.7M183.4,73.5h0.7M185.2,99.3h0.7M208.2,95.1h0.7M221.2,79.8h0.7M219.7,80.6h0.7M203.7,93.7h0.7M214.8,80.7h0.7M202.0,74.7h0.7M194.4,102.7h0.7M219.1,90.8h0.7M214.4,100.4h0.7M196.2,102.7h0.7M200.8,78.1h0.7M204.1,91.1h0.7M210.6,93.4h0.7M184.6,92.5h0.7M219.8,93.4h0.7" stroke="#9a9a9a" stroke-width="0.7" fill="none"/>
<line x1="178.5" y1="53.3" x2="178.5" y2="137.7" stroke="#333" stroke-width="0.8" />
<polyline points="142.9,106.2 178.5,105.2 227.2,94" fill="none" stroke="#333" stroke-width="0.8"/>
<rect x="234.2" y="53.3" width="84.3" height="84.4" fill="none" stroke="#8a8a8a" stroke-width="0.8"/>
<path d="M233.0,56.7h1.2M233.0,59.2h1.2M233.0,61.7h1.2M233.0,66.8h1.2M232.2,75.2h2.0M233.0,78.6h1.2M233.0,82.0h1.2M233.0,85.4h1.2M233.0,88.7h1.2M232.2,95.5h2.0M233.0,100.6h1.2M233.0,103.9h1.2M233.0,107.3h1.2M233.0,110.7h1.2M232.2,119.1h2.0M233.0,125.0h1.2M233.0,131.8h1.2M232.2,135.2h2.0M238.4,137.7v2.0M242.6,137.7v1.2M244.3,137.7v1.2M251.1,137.7v1.2M255.3,137.7v1.2M259.5,137.7v1.2M264.5,137.7v1.2M269.6,137.7v2.0M276.3,137.7v1.2M280.6,137.7v1.2M284.8,137.7v1.2M291.5,137.7v1.2M294.9,137.7v2.0M298.3,137.7v1.2M301.6,137.7v1.2M307.5,137.7v1.2M310.1,137.7v1.2M314.3,137.7v2.0" stroke="#666" stroke-width="0.6" fill="none"/>
<rect x="232.0" y="117.866" width="1.8" height="2" fill="#111"/>
<rect x="252.74599999999998" y="138.0" width="3" height="1.8" fill="#111"/>
<path d="M258.4,96.3 257.4,96.4 256.4,96.1 255.4,95.3 254.4,94.0 253.1,90.8 252.4,86.5 252.6,82.1 253.0,80.1 253.6,78.1 254.4,76.6 255.4,75.3 256.4,74.6 257.4,74.3 258.4,74.4 259.4,74.9 260.3,75.8 261.0,77.0 262.2,80.1 262.8,84.1 262.6,88.5 261.7,92.1 260.3,94.8 259.4,95.7 258.4,96.3 Z M291.0,126.2 286.7,126.1 282.4,125.3 279.0,124.2 272.7,121.2 265.4,119.6 262.0,118.4 260.6,117.5 259.4,116.4 258.3,115.1 257.5,113.8 257.1,112.5 257.0,110.8 257.3,109.5 257.8,108.1 258.7,106.8 260.0,105.5 261.7,104.4 263.7,103.6 266.0,103.0 268.4,102.8 271.0,103.0 277.0,103.7 279.4,103.6 282.2,103.1 285.0,102.5 286.4,101.8 287.4,100.9 289.0,98.3 290.4,97.3 291.4,96.9 292.4,96.8 294.0,97.3 294.8,97.8 295.6,98.8 297.0,102.1 297.7,103.1 303.0,106.7 305.4,109.1 306.2,110.5 306.9,112.1 307.2,113.8 307.1,115.1 306.7,117.1 305.6,119.1 304.0,121.0 302.0,122.6 299.7,124.0 297.0,125.0 294.4,125.7 291.0,126.2 Z M258.4,93.1 257.4,93.3 256.7,93.1 255.4,91.8 254.4,89.5 253.9,86.5 254.0,83.1 254.7,80.2 255.9,78.1 256.7,77.5 257.4,77.3 258.0,77.3 258.7,77.6 260.0,79.1 260.9,81.5 261.3,84.1 261.3,87.1 260.7,89.8 259.7,91.9 259.0,92.7 258.4,93.1 Z M291.7,124.5 287.4,124.6 283.4,123.9 280.0,122.7 273.5,119.5 271.7,119.0 266.7,118.2 263.6,117.1 261.2,115.5 259.8,113.5 259.4,112.5 259.3,111.1 259.5,109.8 259.9,108.8 260.9,107.5 262.4,106.2 264.4,105.2 266.4,104.7 270.0,104.6 275.7,105.5 277.7,105.6 280.4,105.3 286.8,103.8 288.8,102.8 289.3,102.1 290.3,100.1 291.0,99.3 292.0,99.0 293.0,99.2 293.7,99.8 294.0,100.3 294.7,102.8 295.4,103.9 296.5,104.8 300.9,107.5 303.2,109.8 304.4,112.1 304.7,113.5 304.8,114.8 304.4,116.5 303.7,118.1 302.4,119.8 300.9,121.1 299.0,122.3 296.7,123.4 294.4,124.0 291.7,124.5 Z M258.0,90.2 257.0,90.1 256.1,89.1 255.6,87.8 255.3,85.8 255.4,83.8 256.0,81.8 256.7,80.7 257.7,80.4 258.6,80.8 259.2,81.8 259.7,83.1 259.9,84.8 259.8,86.8 259.4,88.5 258.7,89.7 258.0,90.2 Z M292.4,123.1 288.0,123.4 284.0,122.7 280.4,121.3 276.0,118.8 274.4,118.0 272.4,117.5 267.4,116.8 265.0,116.1 263.0,114.9 261.8,113.5 261.2,111.8 261.2,110.8 261.5,109.8 262.3,108.5 263.4,107.5 265.0,106.6 267.0,106.0 270.4,106.0 275.4,107.1 277.4,107.2 279.4,107.0 284.7,105.6 290.4,104.6 292.0,104.6 293.4,105.0 298.0,107.3 300.7,109.3 301.9,110.8 302.5,112.1 302.9,113.5 302.9,114.8 302.5,116.5 301.9,117.8 300.8,119.1 299.7,120.1 298.0,121.3 296.4,122.0 292.4,123.1 Z M291.4,122.2 287.7,122.2 284.4,121.6 280.8,120.1 276.4,117.1 274.7,116.2 273.0,115.8 268.4,115.6 266.0,114.9 264.7,114.1 263.5,112.8 263.2,111.5 263.4,110.1 264.1,109.1 265.0,108.3 266.4,107.7 268.0,107.4 270.7,107.5 275.0,108.7 276.7,108.9 278.7,108.6 284.7,106.8 288.4,106.2 290.4,106.1 292.0,106.3 295.4,107.4 298.4,109.1 300.3,111.1 300.8,112.1 301.2,113.5 301.3,114.8 301.1,115.8 300.5,117.1 299.8,118.1 297.7,120.0 294.7,121.4 291.4,122.2 Z M291.0,121.2 289.0,121.3 287.0,121.1 285.0,120.7 283.4,120.1 281.4,119.1 279.7,117.8 275.4,113.3 274.4,113.1 270.4,113.9 268.0,113.7 266.7,113.1 266.0,112.5 265.6,111.8 265.7,110.8 266.1,110.1 267.0,109.5 268.4,109.1 269.7,109.1 271.9,109.8 274.7,111.7 275.4,111.8 277.0,111.3 282.7,108.6 286.4,107.5 288.7,107.3 290.7,107.3 292.7,107.6 294.7,108.3 297.3,109.8 298.8,111.5 299.7,113.5 299.6,115.5 298.6,117.5 296.7,119.2 294.0,120.5 291.0,121.2 Z M291.0,120.1 288.7,120.3 286.4,120.0 284.0,119.2 282.1,118.1 280.4,116.5 279.4,114.8 279.3,113.5 279.8,112.1 281.2,110.8 282.8,109.8 285.0,108.9 287.4,108.4 289.7,108.3 291.7,108.5 293.8,109.1 295.7,110.2 297.1,111.5 297.9,112.8 298.2,114.5 297.8,116.1 296.7,117.6 295.1,118.8 293.4,119.6 291.0,120.1 Z M290.4,119.2 288.4,119.2 286.4,118.9 284.5,118.1 283.0,117.1 281.8,115.8 281.4,114.5 281.5,113.1 282.1,112.1 283.2,111.1 284.7,110.3 286.4,109.7 288.4,109.4 290.4,109.4 292.0,109.7 293.7,110.4 295.0,111.3 296.0,112.4 296.5,113.5 296.6,114.8 296.1,116.1 295.3,117.1 293.8,118.1 292.2,118.8 290.4,119.2 Z M291.0,117.8 289.4,118.0 287.7,117.9 286.2,117.5 284.9,116.8 283.9,115.8 283.4,114.8 283.4,113.8 283.8,112.8 284.7,111.9 285.7,111.3 287.0,110.8 288.4,110.6 291.0,110.8 292.4,111.2 293.4,111.8 294.1,112.5 294.7,113.5 294.8,114.5 294.7,115.1 294.1,116.1 293.4,116.8 292.4,117.4 291.0,117.8 Z M290.7,116.5 288.7,116.7 286.7,116.1 285.9,115.5 285.5,114.8 285.4,114.1 285.6,113.5 286.7,112.5 288.4,111.9 290.0,111.9 291.6,112.5 292.6,113.5 292.9,114.1 292.8,114.8 292.1,115.8 290.7,116.5 Z" fill="none" stroke="#7a7a7a" stroke-width="0.6" stroke-linejoin="round"/>
<path d="M302.6,120.6h0.7M309.9,104.1h0.7M272.3,113.4h0.7M268.0,114.9h0.7M291.1,106.6h0.7M300.6,122.4h0.7M297.0,119.9h0.7M263.4,110.5h0.7M254.6,82.2h0.7M275.6,99.8h0.7M262.2,107.4h0.7M287.4,112.2h0.7M254.9,86.3h0.7M294.4,109.4h0.7M287.6,119.3h0.7M284.2,97.9h0.7M296.3,111.1h0.7M301.7,109.7h0.7M283.8,119.1h0.7M303.2,133.4h0.7M268.2,115.6h0.7M269.3,106.8h0.7M295.3,101.3h0.7M256.0,83.3h0.7M274.6,120.1h0.7M274.1,103.4h0.7M292.2,119.9h0.7M296.8,120.9h0.7M248.6,77.3h0.7M296.8,101.5h0.7M283.6,112.3h0.7M298.8,102.1h0.7M290.2,107.8h0.7M247.2,106.6h0.7M280.1,111.5h0.7M289.8,123.0h0.7M285.9,118.9h0.7M284.8,118.6h0.7M306.4,119.9h0.7M288.4,105.5h0.7M261.5,75.9h0.7M294.9,112.8h0.7M281.5,109.1h0.7M287.8,100.2h0.7M310.2,113.2h0.7M251.1,91.6h0.7M292.5,111.0h0.7M294.1,108.5h0.7M262.1,103.4h0.7M287.8,104.4h0.7M302.7,118.1h0.7M276.2,114.2h0.7M286.6,125.3h0.7M290.0,111.0h0.7M276.3,115.2h0.7M259.2,69.6h0.7M259.4,95.6h0.7M299.8,123.6h0.7M278.8,114.8h0.7M258.7,100.0h0.7M274.9,95.3h0.7M308.7,113.9h0.7M256.2,84.4h0.7M299.4,113.6h0.7M278.5,109.7h0.7M297.5,101.5h0.7M303.9,112.9h0.7M252.1,102.2h0.7M257.3,114.4h0.7M260.2,91.9h0.7M265.4,112.0h0.7M288.8,111.6h0.7M264.3,91.2h0.7M294.3,114.8h0.7M285.9,109.8h0.7M277.9,111.8h0.7M309.7,116.9h0.7M313.9,103.0h0.7M262.8,91.5h0.7M287.5,111.4h0.7M259.4,110.0h0.7M281.8,98.9h0.7M279.5,121.1h0.7M258.0,64.3h0.7M277.4,120.1h0.7M271.2,126.0h0.7M295.5,96.2h0.7M255.3,119.6h0.7M282.6,114.3h0.7M296.0,105.5h0.7M260.3,105.7h0.7M277.6,103.9h0.7M285.0,115.3h0.7M302.6,121.9h0.7M270.7,107.4h0.7M316.6,111.3h0.7M286.4,114.4h0.7M272.8,114.4h0.7M277.1,115.5h0.7M294.1,115.0h0.7M283.5,128.2h0.7M276.7,110.4h0.7M316.5,118.1h0.7M274.1,109.8h0.7M291.4,101.7h0.7M280.9,117.1h0.7M290.9,114.7h0.7M292.2,115.6h0.7M258.7,122.5h0.7M301.6,99.9h0.7M286.6,79.7h0.7M302.9,96.5h0.7M291.2,101.5h0.7M283.3,96.5h0.7M296.9,88.0h0.7M301.5,81.0h0.7M285.0,90.7h0.7M308.0,97.4h0.7M276.2,93.9h0.7M279.0,88.1h0.7M307.9,85.1h0.7M277.8,101.5h0.7M281.7,93.0h0.7M283.3,101.9h0.7M300.5,98.3h0.7M277.8,87.3h0.7M304.2,85.7h0.7M278.0,99.7h0.7M283.6,93.1h0.7M280.9,81.3h0.7M291.4,94.3h0.7M301.1,101.6h0.7M292.4,95.5h0.7M285.1,100.6h0.7M286.2,79.2h0.7M281.6,81.9h0.7M296.6,82.3h0.7M290.1,86.5h0.7M302.0,85.6h0.7M282.5,85.5h0.7M280.9,94.7h0.7M292.5,95.7h0.7M278.3,98.3h0.7M293.2,102.7h0.7M308.8,78.7h0.7M295.3,84.7h0.7M298.5,81.7h0.7M294.0,97.3h0.7M294.1,85.9h0.7" stroke="#9a9a9a" stroke-width="0.7" fill="none"/>
<line x1="269.7" y1="53.3" x2="269.7" y2="137.7" stroke="#333" stroke-width="0.8" />
<polyline points="234.2,106.5 269.7,104.9 318.5,94" fill="none" stroke="#333" stroke-width="0.8"/>
<rect x="52.4" y="140.6" width="84.3" height="84.4" fill="none" stroke="#8a8a8a" stroke-width="0.8"/>
<path d="M51.2,144.0h1.2M51.2,146.5h1.2M51.2,149.0h1.2M51.2,154.1h1.2M50.4,162.5h2.0M51.2,165.9h1.2M51.2,169.3h1.2M51.2,172.7h1.2M51.2,176.0h1.2M50.4,182.8h2.0M51.2,187.9h1.2M51.2,191.2h1.2M51.2,194.6h1.2M51.2,198.0h1.2M50.4,206.4h2.0M51.2,212.3h1.2M51.2,219.1h1.2M50.4,222.5h2.0M56.6,225.0v2.0M60.8,225.0v1.2M62.5,225.0v1.2M69.3,225.0v1.2M73.5,225.0v1.2M77.7,225.0v1.2M82.7,225.0v1.2M87.8,225.0v2.0M94.5,225.0v1.2M98.8,225.0v1.2M103.0,225.0v1.2M109.7,225.0v1.2M113.1,225.0v2.0M116.5,225.0v1.2M119.8,225.0v1.2M125.7,225.0v1.2M128.3,225.0v1.2M132.5,225.0v2.0" stroke="#666" stroke-width="0.6" fill="none"/>
<rect x="50.199999999999996" y="205.166" width="1.8" height="2" fill="#111"/>
<rect x="70.946" y="225.3" width="3" height="1.8" fill="#111"/>
<path d="M100.6,198.4 98.2,198.6 95.6,198.3 92.9,197.5 90.6,196.4 88.0,194.4 84.8,190.8 83.4,189.4 76.2,184.9 74.2,183.3 72.4,181.4 70.8,179.4 69.5,177.1 68.7,175.1 68.3,172.8 68.3,170.8 68.7,168.8 69.6,166.9 70.9,165.4 72.9,164.0 75.6,163.1 78.6,162.9 81.9,163.4 85.6,164.6 92.6,168.1 96.8,169.8 101.9,171.4 107.2,172.5 109.2,173.1 111.2,174.1 112.8,175.4 114.3,177.8 114.9,180.1 114.8,182.8 113.9,185.1 112.5,187.1 108.7,191.1 106.5,194.8 105.4,196.1 103.2,197.6 100.6,198.4 Z M99.2,196.8 97.2,196.9 95.2,196.5 93.2,195.9 91.6,195.0 89.6,193.3 86.7,189.8 85.3,188.4 77.6,184.0 75.6,182.4 73.9,180.8 72.5,179.1 71.4,177.1 70.6,175.1 70.2,173.1 70.2,171.1 70.7,169.4 71.4,168.1 72.6,166.7 74.6,165.4 76.9,164.8 79.6,164.7 82.6,165.2 85.9,166.4 92.5,169.8 95.7,171.1 101.2,172.9 106.6,174.1 108.6,174.7 110.2,175.6 111.5,176.8 112.7,178.8 113.1,180.8 112.9,182.8 112.0,184.8 110.6,186.5 106.6,190.0 104.4,193.8 103.2,195.1 101.6,196.2 99.2,196.8 Z M99.2,195.1 97.6,195.3 95.9,195.1 94.2,194.6 92.9,194.0 91.0,192.4 88.5,189.1 87.1,187.8 85.5,186.8 79.2,183.7 77.0,182.1 75.2,180.5 73.8,178.8 72.8,177.1 72.1,175.4 71.8,173.8 71.7,172.1 72.1,170.4 72.7,169.1 73.6,168.0 75.2,166.9 77.6,166.1 79.9,166.0 82.6,166.5 85.9,167.7 91.7,170.8 94.6,172.0 100.9,174.3 107.2,175.8 108.7,176.4 110.0,177.4 111.0,178.8 111.5,180.4 111.4,182.1 110.7,183.8 109.2,185.6 105.8,188.1 104.7,189.1 103.9,190.1 102.6,192.8 101.8,193.8 100.6,194.6 99.2,195.1 Z M97.9,193.5 95.9,193.4 93.9,192.5 92.6,191.4 90.4,188.4 88.9,187.1 87.2,186.1 80.2,183.0 77.9,181.5 76.0,179.8 75.0,178.4 74.0,176.8 73.4,175.4 73.1,173.8 73.1,172.4 73.4,171.1 74.0,169.8 74.9,168.8 76.2,167.9 78.2,167.3 80.6,167.2 82.9,167.7 85.9,168.8 91.3,171.8 94.1,173.1 100.6,175.5 106.6,177.1 107.9,177.8 108.7,178.4 109.4,179.4 109.8,180.8 109.7,182.1 109.0,183.4 107.6,184.9 102.9,188.0 102.0,189.1 100.2,192.2 99.2,193.0 97.9,193.5 Z M96.6,190.4 95.2,190.0 92.5,187.4 90.5,186.1 81.6,182.6 79.2,181.3 77.4,179.8 75.5,177.4 74.5,174.8 74.3,173.4 74.5,172.1 74.8,171.1 75.6,170.1 76.9,169.0 78.9,168.4 80.9,168.4 83.2,168.8 86.2,170.1 93.6,174.1 100.6,176.9 105.4,178.4 107.0,179.4 107.5,180.1 107.7,181.1 107.6,182.1 106.9,183.1 105.6,184.2 101.0,186.8 99.7,187.8 97.6,190.1 96.6,190.4 Z M96.2,185.8 94.2,185.5 84.2,182.6 81.9,181.7 79.7,180.4 77.5,178.4 76.1,176.1 75.7,174.8 75.6,173.4 75.8,172.4 76.2,171.4 77.6,170.2 79.2,169.6 81.2,169.5 83.6,170.0 86.2,171.2 92.6,174.9 101.6,179.1 103.2,180.1 103.9,180.8 104.1,181.4 103.8,182.1 102.3,183.4 98.9,185.2 97.6,185.6 96.2,185.8 Z M96.2,183.2 93.6,183.2 86.6,182.1 83.6,181.3 81.2,180.2 78.9,178.4 77.5,176.4 76.9,174.4 77.0,173.4 77.3,172.4 77.9,171.7 78.8,171.1 79.7,170.8 80.9,170.6 83.6,171.1 86.2,172.3 91.9,176.0 96.9,178.8 98.1,179.8 98.8,180.8 98.7,181.8 97.9,182.6 96.2,183.2 Z M88.6,180.8 86.2,180.7 84.2,180.3 82.2,179.5 80.6,178.4 79.4,177.1 78.7,175.8 78.5,174.4 78.9,173.1 79.6,172.5 80.4,172.1 81.6,171.9 82.6,172.0 84.9,172.9 87.8,174.8 91.2,177.8 92.0,178.8 92.3,179.4 91.9,180.1 91.2,180.4 88.6,180.8 Z M87.2,178.8 85.9,179.1 84.6,179.0 83.2,178.6 81.9,177.8 80.8,176.8 80.3,175.8 80.2,174.8 80.5,174.1 81.2,173.6 82.6,173.4 83.9,173.8 85.6,174.7 86.8,175.8 87.8,177.1 87.9,178.1 87.2,178.8 Z" fill="none" stroke="#7a7a7a" stroke-width="0.6" stroke-linejoin="round"/>
<path d="M85.2,187.5h0.7M92.7,186.6h0.7M98.1,176.8h0.7M101.0,190.5h0.7M85.8,184.8h0.7M87.3,161.4h0.7M74.2,182.9h0.7M112.7,199.6h0.7M100.3,178.9h0.7M67.2,168.3h0.7M99.8,178.7h0.7M74.4,180.3h0.7M96.0,183.2h0.7M82.6,171.1h0.7M102.9,194.9h0.7M101.1,176.5h0.7M111.4,185.7h0.7M76.5,181.5h0.7M88.8,183.5h0.7M93.5,176.7h0.7M90.9,175.4h0.7M83.7,187.9h0.7M62.2,152.1h0.7M98.7,177.7h0.7M83.0,168.8h0.7M107.9,181.5h0.7M95.7,194.3h0.7M76.5,182.6h0.7M93.9,171.0h0.7M84.8,173.5h0.7M78.3,184.1h0.7M96.5,192.4h0.7M93.4,189.8h0.7M93.5,190.1h0.7M96.0,172.8h0.7M105.9,181.6h0.7M88.3,195.1h0.7M97.9,180.5h0.7M77.2,164.9h0.7M111.2,183.5h0.7M88.4,206.0h0.7M88.1,184.1h0.7M90.0,175.4h0.7M84.4,175.0h0.7M92.0,180.5h0.7M67.9,169.2h0.7M76.1,179.0h0.7M105.1,192.9h0.7M89.7,180.6h0.7M74.6,174.6h0.7M88.3,188.7h0.7M89.4,181.5h0.7M104.1,162.8h0.7M79.7,176.7h0.7M70.5,180.7h0.7M82.6,180.3h0.7M81.7,176.8h0.7M80.5,183.8h0.7M120.9,198.8h0.7M119.4,182.3h0.7M69.3,181.6h0.7M113.5,178.2h0.7M98.1,189.9h0.7M104.3,190.6h0.7M75.5,153.5h0.7M113.2,181.2h0.7M83.2,174.8h0.7M78.4,170.4h0.7M109.8,171.7h0.7M69.9,173.7h0.7M98.8,186.0h0.7M97.9,172.8h0.7M78.6,176.7h0.7M83.6,195.8h0.7M83.7,184.2h0.7M72.9,185.6h0.7M85.0,180.3h0.7M97.4,180.1h0.7M68.1,166.8h0.7M84.0,180.9h0.7M101.9,185.6h0.7M104.9,181.0h0.7M83.4,175.7h0.7M62.0,158.3h0.7M91.1,191.7h0.7M64.9,172.5h0.7M62.2,150.2h0.7M96.1,185.7h0.7M111.7,175.1h0.7M94.7,181.5h0.7M104.0,187.8h0.7M69.4,165.6h0.7M96.5,173.2h0.7M97.6,170.3h0.7M95.0,180.6h0.7M72.8,172.5h0.7M99.0,182.3h0.7M83.0,192.7h0.7M90.0,192.7h0.7M84.8,172.6h0.7M86.5,178.8h0.7M82.7,167.8h0.7M90.1,171.4h0.7M95.5,182.1h0.7M96.7,176.7h0.7M68.5,160.9h0.7M105.3,193.6h0.7M95.5,159.2h0.7M79.5,186.5h0.7M106.9,191.5h0.7M108.6,165.5h0.7M105.5,160.9h0.7M99.4,186.0h0.7M94.6,197.3h0.7M112.8,161.6h0.7M104.6,196.4h0.7M97.6,165.4h0.7M98.5,180.0h0.7M103.2,170.3h0.7M106.0,180.0h0.7M115.3,200.5h0.7M112.8,163.7h0.7M93.5,172.6h0.7M125.0,163.2h0.7M113.4,176.8h0.7M97.2,186.3h0.7M117.7,191.4h0.7M96.1,168.3h0.7M95.0,169.5h0.7M96.0,181.5h0.7M100.1,185.4h0.7M126.3,192.3h0.7M91.0,198.4h0.7M102.9,167.7h0.7" stroke="#9a9a9a" stroke-width="0.7" fill="none"/>
<line x1="87.8" y1="140.6" x2="87.8" y2="225.0" stroke="#333" stroke-width="0.8" />
<polyline points="52.4,193.5 87.8,192.1 136.7,181.1" fill="none" stroke="#333" stroke-width="0.8"/>
<rect x="142.9" y="140.6" width="84.3" height="84.4" fill="none" stroke="#8a8a8a" stroke-width="0.8"/>
<path d="M141.7,144.0h1.2M141.7,146.5h1.2M141.7,149.0h1.2M141.7,154.1h1.2M140.9,162.5h2.0M141.7,165.9h1.2M141.7,169.3h1.2M141.7,172.7h1.2M141.7,176.0h1.2M140.9,182.8h2.0M141.7,187.9h1.2M141.7,191.2h1.2M141.7,194.6h1.2M141.7,198.0h1.2M140.9,206.4h2.0M141.7,212.3h1.2M141.7,219.1h1.2M140.9,222.5h2.0M147.1,225.0v2.0M151.3,225.0v1.2M153.0,225.0v1.2M159.8,225.0v1.2M164.0,225.0v1.2M168.2,225.0v1.2M173.2,225.0v1.2M178.3,225.0v2.0M185.1,225.0v1.2M189.3,225.0v1.2M193.5,225.0v1.2M200.2,225.0v1.2M203.6,225.0v2.0M207.0,225.0v1.2M210.3,225.0v1.2M216.2,225.0v1.2M218.8,225.0v1.2M223.0,225.0v2.0" stroke="#666" stroke-width="0.6" fill="none"/>
<rect x="140.70000000000002" y="205.166" width="1.8" height="2" fill="#111"/>
<rect x="161.446" y="225.3" width="3" height="1.8" fill="#111"/>
<path d="M168.4,192.8 166.1,192.7 164.1,191.9 162.4,190.6 160.9,188.8 159.8,186.1 158.7,181.1 156.6,175.1 156.0,171.8 156.0,169.4 156.5,166.8 157.4,164.4 158.6,162.4 160.1,160.8 161.7,159.5 163.7,158.6 165.7,158.3 167.7,158.4 169.7,159.0 171.4,159.9 173.1,161.3 174.5,163.1 175.5,165.1 176.2,167.1 176.6,169.4 176.6,172.4 175.6,178.4 175.6,184.1 175.0,187.1 174.0,189.1 172.4,191.0 170.4,192.3 168.4,192.8 Z M168.7,191.1 166.7,191.2 165.1,190.7 163.4,189.5 162.0,187.8 161.2,185.8 160.1,180.3 158.0,174.8 157.4,172.1 157.4,170.1 157.6,168.1 158.2,166.1 159.2,164.1 160.5,162.4 162.1,161.2 163.7,160.4 165.4,160.0 167.1,159.9 168.7,160.3 170.4,161.1 172.1,162.4 173.2,163.8 174.1,165.4 174.9,167.4 175.2,169.4 175.2,172.4 174.2,178.1 174.3,183.4 173.8,186.1 173.1,187.9 171.9,189.4 170.4,190.5 168.7,191.1 Z M168.7,189.8 167.1,189.9 165.4,189.4 164.1,188.5 163.0,187.1 162.1,184.8 161.2,179.8 159.1,174.8 158.5,171.8 158.5,169.8 158.7,168.1 159.2,166.4 160.1,164.8 161.4,163.2 162.7,162.2 164.1,161.6 165.7,161.2 167.4,161.3 168.7,161.6 170.1,162.3 171.4,163.4 172.5,164.8 173.2,166.1 173.8,167.8 174.1,169.4 174.1,172.4 173.0,178.1 173.1,183.1 172.8,185.4 172.3,186.8 171.4,188.2 170.1,189.3 168.7,189.8 Z M168.7,188.5 167.4,188.7 166.1,188.4 164.7,187.5 163.7,186.2 163.0,184.1 162.3,179.4 160.1,174.4 159.4,171.8 159.4,170.1 159.6,168.4 160.2,166.8 160.9,165.4 162.0,164.1 163.1,163.3 164.4,162.6 165.7,162.3 167.1,162.4 168.4,162.7 169.4,163.2 170.6,164.1 171.5,165.1 172.3,166.4 172.8,167.8 173.2,169.4 173.1,172.4 171.9,178.1 172.1,182.8 171.9,184.8 171.4,186.1 170.7,187.2 169.7,188.1 168.7,188.5 Z M168.7,187.2 167.7,187.4 166.4,187.1 165.4,186.5 164.6,185.4 164.1,183.8 163.5,179.4 161.0,174.4 160.3,171.8 160.3,170.1 160.5,168.8 160.9,167.4 161.6,166.1 162.4,165.1 163.4,164.3 164.4,163.7 165.7,163.4 167.1,163.4 168.1,163.7 169.1,164.2 170.1,165.0 171.6,167.1 172.3,169.4 172.4,171.1 172.2,172.8 170.7,178.4 171.0,182.4 170.9,184.1 170.6,185.1 170.1,186.1 168.7,187.2 Z M168.4,185.5 167.7,185.7 167.1,185.6 166.4,185.3 165.7,184.4 165.3,183.1 165.2,180.4 164.9,179.1 162.1,174.5 161.2,171.8 161.2,169.4 162.1,167.1 162.8,166.1 163.7,165.3 164.7,164.7 165.7,164.5 167.7,164.7 169.4,165.7 170.7,167.4 171.4,169.8 171.5,171.4 171.2,173.1 169.5,177.4 169.1,178.8 169.6,182.4 169.5,183.8 169.1,184.8 168.4,185.5 Z M167.1,177.2 166.4,177.2 165.7,177.0 164.7,176.2 163.7,175.2 162.5,173.1 162.1,171.1 162.2,169.1 163.1,167.3 164.4,166.1 166.1,165.5 167.7,165.8 169.1,166.8 170.1,168.3 170.5,170.1 170.5,172.1 169.7,174.2 168.4,176.3 167.1,177.2 Z M166.7,175.1 165.4,174.9 164.4,174.1 163.5,172.8 163.1,171.1 163.2,169.4 163.9,168.1 164.7,167.3 166.1,166.8 167.4,167.0 168.4,167.7 169.1,168.8 169.5,170.4 169.4,172.1 168.7,173.6 167.7,174.7 166.7,175.1 Z M166.7,173.4 165.7,173.4 165.1,172.9 164.5,172.1 164.2,171.1 164.3,170.1 164.7,169.1 165.3,168.4 166.1,168.2 167.1,168.3 167.7,168.8 168.1,169.4 168.4,170.4 168.4,171.4 168.1,172.3 167.4,173.1 166.7,173.4 Z" fill="none" stroke="#7a7a7a" stroke-width="0.6" stroke-linejoin="round"/>
<path d="M161.3,172.7h0.7M165.3,193.0h0.7M170.9,191.4h0.7M185.8,162.9h0.7M186.5,169.6h0.7M162.5,173.5h0.7M163.5,196.2h0.7M166.1,186.7h0.7M167.4,175.7h0.7M171.4,179.2h0.7M167.5,176.8h0.7M161.2,191.3h0.7M173.1,176.0h0.7M165.7,193.8h0.7M158.2,173.4h0.7M169.3,183.2h0.7M174.2,160.3h0.7M168.9,180.2h0.7M170.5,174.4h0.7M158.6,174.5h0.7M157.3,178.5h0.7M166.1,184.8h0.7M162.3,166.5h0.7M176.0,166.5h0.7M164.7,159.5h0.7M172.7,163.2h0.7M162.1,180.7h0.7M163.5,153.0h0.7M156.1,159.0h0.7M176.3,183.3h0.7M152.7,165.3h0.7M170.1,166.0h0.7M166.2,168.9h0.7M169.9,167.8h0.7M170.4,182.7h0.7M177.0,165.4h0.7M155.4,177.8h0.7M158.7,178.0h0.7M173.5,164.0h0.7M166.4,190.6h0.7M172.3,191.8h0.7M179.1,181.1h0.7M168.1,191.2h0.7M164.8,185.8h0.7M163.2,159.4h0.7M170.9,165.8h0.7M155.6,184.2h0.7M170.9,173.3h0.7M159.0,176.4h0.7M163.8,192.0h0.7M152.7,175.8h0.7M160.6,172.4h0.7M176.6,157.9h0.7M166.7,170.7h0.7M178.8,179.5h0.7M164.3,173.0h0.7M172.4,160.3h0.7M168.9,191.9h0.7M165.6,159.3h0.7M170.4,177.4h0.7M156.5,185.6h0.7M174.9,170.9h0.7M163.6,157.3h0.7M174.1,168.2h0.7M164.3,182.3h0.7M160.6,167.4h0.7M176.0,181.6h0.7M182.3,184.2h0.7M151.3,169.3h0.7M162.0,173.8h0.7M167.2,190.1h0.7M170.0,165.5h0.7M170.3,189.4h0.7M157.7,186.2h0.7M163.2,175.6h0.7M175.2,163.3h0.7M166.1,166.1h0.7M171.3,183.8h0.7M170.8,191.2h0.7M165.2,169.4h0.7M160.6,181.5h0.7M168.6,162.3h0.7M158.7,176.1h0.7M175.8,177.8h0.7M164.9,180.7h0.7M169.4,175.5h0.7M172.0,190.5h0.7M171.6,159.9h0.7M167.7,163.2h0.7M166.0,172.2h0.7M164.3,168.4h0.7M166.8,186.4h0.7M171.5,166.3h0.7M175.7,182.8h0.7M164.8,179.3h0.7M179.0,172.8h0.7M167.6,168.0h0.7M172.2,188.9h0.7M178.5,177.6h0.7M174.5,186.0h0.7M170.1,186.2h0.7M169.7,173.4h0.7M168.8,166.0h0.7M158.3,163.8h0.7M164.2,172.6h0.7M164.1,191.0h0.7M175.7,170.3h0.7M165.8,162.4h0.7M164.1,182.7h0.7M155.5,167.6h0.7M185.6,193.3h0.7M170.9,159.9h0.7M166.4,163.5h0.7M156.4,161.0h0.7M162.2,179.0h0.7M193.4,193.5h0.7M177.7,174.0h0.7M171.3,209.0h0.7" stroke="#9a9a9a" stroke-width="0.7" fill="none"/>
<line x1="178.4" y1="140.6" x2="178.4" y2="225.0" stroke="#333" stroke-width="0.8" />
<polyline points="142.9,193.5 178.4,192.1 227.2,181.1" fill="none" stroke="#333" stroke-width="0.8"/>
<rect x="234.2" y="140.6" width="84.3" height="84.4" fill="none" stroke="#8a8a8a" stroke-width="0.8"/>
<path d="M233.0,144.0h1.2M233.0,146.5h1.2M233.0,149.0h1.2M233.0,154.1h1.2M232.2,162.5h2.0M233.0,165.9h1.2M233.0,169.3h1.2M233.0,172.7h1.2M233.0,176.0h1.2M232.2,182.8h2.0M233.0,187.9h1.2M233.0,191.2h1.2M233.0,194.6h1.2M233.0,198.0h1.2M232.2,206.4h2.0M233.0,212.3h1.2M233.0,219.1h1.2M232.2,222.5h2.0M238.4,225.0v2.0M242.6,225.0v1.2M244.3,225.0v1.2M251.1,225.0v1.2M255.3,225.0v1.2M259.5,225.0v1.2M264.5,225.0v1.2M269.6,225.0v2.0M276.3,225.0v1.2M280.6,225.0v1.2M284.8,225.0v1.2M291.5,225.0v1.2M294.9,225.0v2.0M298.3,225.0v1.2M301.6,225.0v1.2M307.5,225.0v1.2M310.1,225.0v1.2M314.3,225.0v2.0" stroke="#666" stroke-width="0.6" fill="none"/>
<rect x="232.0" y="205.166" width="1.8" height="2" fill="#111"/>
<rect x="252.74599999999998" y="225.3" width="3" height="1.8" fill="#111"/>
<path d="M258.4,188.8 256.7,188.7 255.0,188.0 253.7,186.8 252.4,184.8 251.6,182.8 250.9,180.1 249.3,172.8 248.9,169.4 248.9,166.8 249.2,164.4 249.9,162.1 250.8,160.1 252.0,158.3 253.4,157.1 255.0,156.2 256.7,155.8 258.4,156.0 259.7,156.6 261.0,157.6 262.4,159.1 263.3,160.8 264.2,162.8 264.7,164.8 265.0,167.4 265.0,170.8 264.3,179.1 263.6,183.1 262.6,185.4 261.4,187.1 260.0,188.2 258.4,188.8 Z M258.7,186.8 257.0,186.9 255.7,186.4 254.4,185.2 253.3,183.4 252.0,179.4 250.4,172.8 249.9,169.4 250.0,167.1 250.2,165.1 250.9,162.8 251.7,161.1 252.7,159.6 254.0,158.4 255.4,157.7 256.7,157.5 258.0,157.6 259.4,158.2 260.4,158.9 261.5,160.1 262.5,161.8 263.2,163.4 263.6,165.1 263.9,167.4 263.9,170.4 263.2,178.1 262.6,181.8 261.9,183.8 261.1,185.1 260.0,186.1 258.7,186.8 Z M258.7,185.2 257.4,185.4 256.0,184.9 255.0,184.0 254.0,182.5 253.2,180.1 251.5,173.8 250.8,169.8 250.8,167.8 251.0,165.8 251.5,163.8 252.2,162.1 253.1,160.8 254.4,159.6 255.4,159.1 256.7,158.8 258.0,158.9 259.0,159.4 260.0,160.1 260.9,161.1 261.8,162.4 262.4,164.1 263.0,167.4 263.0,171.4 262.2,178.4 261.8,180.8 261.4,182.2 260.7,183.5 259.7,184.6 258.7,185.2 Z M258.0,183.8 257.0,183.7 256.0,183.2 255.3,182.4 254.6,181.1 252.2,173.1 251.5,169.1 251.8,165.8 252.2,164.1 252.8,162.8 253.7,161.5 254.7,160.6 255.7,160.1 256.7,159.9 257.7,160.0 258.7,160.4 259.7,161.1 260.5,162.1 261.8,164.8 262.3,167.8 262.2,171.4 261.0,180.1 260.4,181.7 259.7,182.8 259.0,183.4 258.0,183.8 Z M257.7,182.1 257.0,182.0 256.2,181.4 255.0,179.5 252.8,172.8 252.2,169.1 252.4,166.1 253.4,163.5 254.8,161.8 255.7,161.2 256.7,161.0 258.4,161.4 259.4,162.1 260.0,162.8 261.1,165.1 261.7,168.1 261.5,171.4 260.2,179.1 259.7,180.4 259.0,181.4 258.4,181.9 257.7,182.1 Z M257.7,179.9 257.0,179.7 256.4,179.1 255.4,177.2 253.5,172.4 252.9,169.1 253.0,166.6 253.7,164.4 255.0,162.8 255.7,162.3 256.7,162.1 257.7,162.2 258.4,162.5 259.7,163.8 260.6,165.8 261.0,168.1 260.8,171.4 259.4,177.4 258.7,179.1 258.4,179.5 257.7,179.9 Z M257.7,176.6 257.4,176.7 256.7,176.4 255.4,174.6 254.1,171.8 253.6,169.1 253.7,167.1 254.3,165.1 255.4,163.8 256.7,163.2 258.0,163.5 259.1,164.4 259.9,166.1 260.3,168.1 260.2,170.4 259.6,172.8 258.7,175.3 257.7,176.6 Z M257.4,173.8 256.4,173.5 255.5,172.4 254.7,170.8 254.4,169.1 254.5,167.4 255.0,165.8 255.7,164.9 256.7,164.5 257.7,164.7 258.6,165.4 259.1,166.4 259.4,168.1 259.4,170.1 258.9,171.8 258.2,173.1 257.4,173.8 Z M257.4,171.7 256.7,171.7 256.0,171.1 255.5,170.1 255.3,169.1 255.5,167.1 256.0,166.3 256.7,165.9 257.4,166.0 257.9,166.4 258.4,167.3 258.5,168.1 258.4,170.2 258.0,171.0 257.4,171.7 Z" fill="none" stroke="#7a7a7a" stroke-width="0.6" stroke-linejoin="round"/>
<path d="M261.4,155.5h0.7M259.2,163.5h0.7M261.6,155.4h0.7M254.5,196.4h0.7M253.8,169.9h0.7M259.5,190.7h0.7M266.5,173.7h0.7M249.4,167.1h0.7M261.5,191.1h0.7M257.3,160.9h0.7M243.8,174.6h0.7M256.5,172.0h0.7M249.3,181.5h0.7M259.8,162.3h0.7M247.5,166.3h0.7M253.9,194.2h0.7M263.1,186.9h0.7M262.6,172.1h0.7M261.6,188.2h0.7M263.4,168.3h0.7M253.8,168.6h0.7M263.4,174.7h0.7M262.1,182.4h0.7M248.2,162.4h0.7M247.5,166.9h0.7M261.5,174.1h0.7M249.7,170.6h0.7M252.9,177.9h0.7M249.0,175.1h0.7M266.5,185.8h0.7M255.8,197.0h0.7M254.9,171.7h0.7M251.0,173.1h0.7M258.9,183.3h0.7M254.5,176.7h0.7M258.8,187.8h0.7M255.3,174.4h0.7M260.2,188.2h0.7M269.2,181.8h0.7M257.7,172.8h0.7M260.0,167.8h0.7M254.9,174.5h0.7M256.1,180.4h0.7M261.1,166.4h0.7M251.5,189.2h0.7M259.0,174.0h0.7M263.8,168.3h0.7M267.5,154.9h0.7M259.2,173.9h0.7M256.6,163.0h0.7M259.3,170.1h0.7M260.6,181.6h0.7M259.4,155.8h0.7M248.9,174.5h0.7M247.5,179.7h0.7M256.7,177.7h0.7M249.9,188.8h0.7M255.8,165.2h0.7M251.6,171.0h0.7M252.0,173.1h0.7M251.1,159.3h0.7M250.3,165.1h0.7M259.9,179.8h0.7M254.4,162.6h0.7M257.0,173.6h0.7M267.9,187.7h0.7M249.9,170.6h0.7M245.0,167.8h0.7M246.8,172.3h0.7M261.7,172.7h0.7M263.3,160.6h0.7M257.8,181.0h0.7M249.3,188.9h0.7M256.3,153.3h0.7M254.5,142.1h0.7M249.9,159.1h0.7M253.1,192.0h0.7M256.4,180.3h0.7M259.7,156.4h0.7M265.5,171.5h0.7M262.8,189.1h0.7M259.7,178.5h0.7M263.2,187.0h0.7M252.9,179.2h0.7M252.5,153.5h0.7M261.6,176.6h0.7M247.9,168.5h0.7M253.7,200.7h0.7M258.3,165.4h0.7M263.6,165.5h0.7M254.3,159.0h0.7M258.9,168.2h0.7M246.0,171.0h0.7M265.7,162.3h0.7M247.1,174.2h0.7M258.2,153.9h0.7M262.6,168.4h0.7M255.5,166.7h0.7M253.7,178.6h0.7M256.7,184.4h0.7M263.4,161.7h0.7M262.2,156.8h0.7M258.2,171.6h0.7M260.2,176.8h0.7M259.0,187.4h0.7M255.7,170.9h0.7M248.4,156.5h0.7M254.1,168.9h0.7M259.0,169.8h0.7M258.4,163.6h0.7M288.8,195.2h0.7M245.2,213.4h0.7M302.5,183.2h0.7M286.0,189.1h0.7M274.9,162.3h0.7M305.1,190.1h0.7" stroke="#9a9a9a" stroke-width="0.7" fill="none"/>
<line x1="269.7" y1="140.6" x2="269.7" y2="225.0" stroke="#333" stroke-width="0.8" />
<polyline points="234.2,193.8 269.7,192.1 318.5,181.4" fill="none" stroke="#333" stroke-width="0.8"/>
<text x="54.5" y="65.7" font-size="10.8" fill="#000" color="#000"><tspan>NP</tspan><tspan dy="-2.92" font-size="6.7" font-style="normal">+</tspan><tspan dy="2.92">MBC</tspan></text>
<text x="54.5" y="78.5" font-size="10.8" fill="#000" color="#000"><tspan>35.4</tspan></text>
<text x="108.9" y="72.7" font-size="10.8" fill="#000" color="#000"><tspan>31.4</tspan></text>
<text x="114.8" y="133.5" font-size="10.8" fill="#000" color="#000"><tspan>30.0</tspan></text>
<text x="145" y="78.3" font-size="10.8" fill="#000" color="#000"><tspan>20.6</tspan></text>
<text x="199.8" y="73" font-size="10.8" fill="#000" color="#000"><tspan>8.21</tspan></text>
<text x="205" y="133.4" font-size="10.8" fill="#000" color="#000"><tspan>57.7</tspan></text>
<text x="235.9" y="78.6" font-size="10.8" fill="#000" color="#000"><tspan>12.3</tspan></text>
<text x="289.8" y="72.6" font-size="10.8" fill="#000" color="#000"><tspan>7.12</tspan></text>
<text x="295.7" y="133.4" font-size="10.8" fill="#000" color="#000"><tspan>68.4</tspan></text>
<text x="54" y="160" font-size="10.8" fill="#000" color="#000"><tspan>37.1</tspan></text>
<text x="109" y="156.9" font-size="10.8" fill="#000" color="#000"><tspan>41.6</tspan></text>
<text x="110.6" y="221" font-size="10.8" fill="#000" color="#000"><tspan>17.9</tspan></text>
<text x="145" y="159" font-size="10.8" fill="#000" color="#000"><tspan>85.6</tspan></text>
<text x="199.8" y="157.4" font-size="10.8" fill="#000" color="#000"><tspan>6.32</tspan></text>
<text x="201.8" y="220.8" font-size="10.8" fill="#000" color="#000"><tspan>4.02</tspan></text>
<text x="235.9" y="159.3" font-size="10.8" fill="#000" color="#000"><tspan>87.3</tspan></text>
<text x="289.8" y="157.4" font-size="10.8" fill="#000" color="#000"><tspan>3.64</tspan></text>
<text x="294.7" y="220.8" font-size="10.8" fill="#000" color="#000"><tspan>1.82</tspan></text>
<text x="4.7" y="289.7" font-size="17.2" fill="#000" color="#000" font-weight="bold"><tspan>E</tspan></text>
<text x="30.4" y="289" font-size="11.6" fill="#000" color="#000" textLength="211" lengthAdjust="spacing"><tspan>On singlet/live/B220</tspan><tspan dy="-3.94" font-size="7.89" font-style="normal">+</tspan><tspan dy="3.94">/NP</tspan><tspan dy="-3.94" font-size="7.89" font-style="normal">+</tspan><tspan dy="3.94">/IgD</tspan><tspan dy="-3.94" font-size="7.89" font-style="normal">-</tspan><tspan dy="3.94">/CD138</tspan><tspan dy="-3.94" font-size="7.89" font-style="normal">-</tspan></text>
<line x1="54" y1="294.7" x2="216.8" y2="294.7" stroke="#000" stroke-width="1.6" />
<text x="82" y="308.9" font-size="11" fill="#ff0000" color="#ff0000" font-style="italic"><tspan font-style="italic">Cfp1</tspan><tspan dy="-3.74" font-size="7.48" font-style="normal">fl/fl</tspan></text>
<text x="143.7" y="308.3" font-size="11" fill="#0505e6" color="#0505e6" font-style="italic"><tspan font-style="italic">Cfp1</tspan><tspan dy="-3.74" font-size="7.48" font-style="normal">fl/fl</tspan><tspan dy="3.74"> </tspan><tspan font-style="italic">Aicda</tspan><tspan dy="-3.74" font-size="7.48" font-style="normal">Cre</tspan></text>
<text transform="translate(35.5,363.7) rotate(-90)" font-size="12.5" fill="#000" color="#000" text-anchor="middle"><tspan>CD38</tspan></text>
<text x="138.8" y="418.3" font-size="12.5" fill="#000" color="#000" text-anchor="middle"><tspan>GL7</tspan></text>
<line x1="43.5" y1="320.8" x2="43.5" y2="406.4" stroke="#000" stroke-width="1.5" />
<line x1="42.75" y1="406.4" x2="219.0" y2="406.4" stroke="#000" stroke-width="1.5" />
<polygon points="43.5,314.3 39.9,321.3 47.1,321.3" fill="#000"/>
<polygon points="225.5,406.4 218.5,402.79999999999995 218.5,410.0" fill="#000"/>
<rect x="51.3" y="314.4" width="84.5" height="84.3" fill="none" stroke="#8a8a8a" stroke-width="0.8"/>
<path d="M50.1,317.8h1.2M50.1,320.3h1.2M50.1,322.8h1.2M50.1,327.9h1.2M49.3,336.3h2.0M50.1,339.7h1.2M50.1,343.1h1.2M50.1,346.4h1.2M50.1,349.8h1.2M49.3,356.5h2.0M50.1,361.6h1.2M50.1,365.0h1.2M50.1,368.4h1.2M50.1,371.7h1.2M49.3,380.2h2.0M50.1,386.1h1.2M50.1,392.8h1.2M49.3,396.2h2.0M55.5,398.7v2.0M59.8,398.7v1.2M61.4,398.7v1.2M68.2,398.7v1.2M72.4,398.7v1.2M76.6,398.7v1.2M81.7,398.7v1.2M86.8,398.7v2.0M93.5,398.7v1.2M97.8,398.7v1.2M102.0,398.7v1.2M108.8,398.7v1.2M112.1,398.7v2.0M115.5,398.7v1.2M118.9,398.7v1.2M124.8,398.7v1.2M127.3,398.7v1.2M131.6,398.7v2.0" stroke="#666" stroke-width="0.6" fill="none"/>
<rect x="49.099999999999994" y="378.8895" width="1.8" height="2" fill="#111"/>
<rect x="69.89" y="399.0" width="3" height="1.8" fill="#111"/>
<path d="M76.8,356.6 75.1,356.8 73.5,356.5 71.8,355.7 70.5,354.6 69.2,352.9 68.4,351.2 67.7,349.2 67.3,346.9 67.2,344.6 67.5,342.2 68.1,340.2 69.0,338.2 70.1,336.7 71.5,335.4 73.1,334.4 74.8,334.0 76.5,334.1 77.8,334.6 79.1,335.4 80.5,336.7 81.6,338.2 82.4,339.9 83.0,341.9 83.3,343.9 83.4,345.9 83.2,347.9 82.7,349.9 81.9,351.9 80.9,353.6 79.7,354.9 78.5,355.9 76.8,356.6 Z M118.8,393.9 115.8,393.9 112.8,393.1 110.5,391.9 106.1,388.7 104.1,387.6 95.1,385.3 92.1,383.9 88.5,381.2 86.7,380.2 84.8,379.6 79.8,378.6 77.5,377.8 75.8,376.8 74.7,375.6 74.4,374.2 74.7,373.2 75.5,372.3 76.4,371.6 77.8,370.9 79.5,370.3 82.5,369.8 89.1,369.3 97.5,366.8 106.5,365.7 114.5,363.0 116.5,362.8 118.5,362.8 120.1,363.1 122.1,363.8 124.1,365.0 125.8,366.4 127.4,368.2 128.7,370.2 129.7,372.6 130.3,374.9 130.7,377.6 130.6,380.2 130.1,382.9 129.3,385.2 128.1,387.6 126.6,389.6 125.1,391.0 123.1,392.4 121.1,393.3 118.8,393.9 Z M76.5,354.3 75.1,354.4 73.8,354.2 72.5,353.5 71.5,352.6 70.5,351.3 69.8,349.9 69.2,348.2 69.0,346.6 68.9,344.6 69.2,342.9 70.2,339.9 71.1,338.6 72.1,337.6 73.5,336.8 74.8,336.4 76.1,336.5 77.1,336.8 78.5,337.6 79.5,338.6 80.4,339.9 81.0,341.2 81.6,344.2 81.5,347.6 81.1,349.2 80.5,350.7 79.7,351.9 78.8,352.9 77.8,353.7 76.5,354.3 Z M119.5,391.6 117.8,391.9 116.1,391.8 113.1,391.0 111.1,390.0 107.1,387.0 105.1,385.9 103.1,385.3 98.1,384.4 95.5,383.5 93.1,382.2 89.5,379.4 87.8,378.6 81.8,377.4 79.5,376.7 78.5,376.1 77.8,375.4 77.4,374.6 77.5,373.9 77.9,373.2 78.7,372.6 81.1,371.6 83.5,371.2 90.1,370.9 98.1,368.4 107.5,367.4 114.8,365.1 116.5,364.9 118.1,364.9 121.1,365.7 122.8,366.5 124.5,367.8 125.8,369.2 126.9,370.9 127.9,372.9 128.5,374.9 128.8,376.9 128.8,379.2 128.6,381.2 128.0,383.6 127.1,385.6 126.0,387.2 124.8,388.7 123.1,390.0 121.5,391.0 119.5,391.6 Z M76.1,352.2 75.1,352.3 74.1,352.1 72.5,351.1 71.8,350.2 71.0,348.9 70.4,346.2 70.6,343.2 71.5,340.9 72.3,339.9 73.1,339.2 74.1,338.7 75.1,338.5 76.8,338.8 78.5,340.1 79.7,342.2 80.2,344.6 80.1,347.2 79.2,349.6 77.8,351.4 76.1,352.2 Z M117.5,390.2 115.5,390.1 113.1,389.3 111.1,388.1 107.5,385.4 105.5,384.4 103.7,383.9 99.1,383.1 96.5,382.3 94.1,380.9 90.8,378.0 89.5,377.1 87.8,376.5 84.1,376.1 82.5,375.7 81.1,374.9 81.0,374.2 81.6,373.6 82.8,373.1 84.5,372.8 88.5,372.9 90.1,372.7 98.1,369.9 100.8,369.5 107.5,369.0 115.1,366.6 118.1,366.5 120.8,367.3 122.5,368.2 123.8,369.3 124.9,370.6 126.0,372.2 126.8,374.2 127.3,376.2 127.4,378.2 127.3,380.2 126.9,382.2 126.3,383.9 125.4,385.6 124.0,387.2 122.8,388.3 121.1,389.4 119.5,390.0 117.5,390.2 Z M76.1,350.0 74.8,350.1 73.5,349.4 72.5,348.0 72.0,346.2 72.0,344.2 72.6,342.6 73.8,341.1 75.1,340.6 76.5,340.9 77.5,341.7 78.2,342.9 78.6,344.6 78.6,346.2 78.1,348.0 77.3,349.2 76.1,350.0 Z M118.8,388.6 116.8,388.8 114.5,388.3 112.1,387.1 108.3,384.2 106.5,383.2 104.5,382.6 99.5,381.8 96.8,380.8 94.9,379.6 93.4,377.9 92.4,376.2 92.3,375.6 92.4,374.9 93.2,373.9 95.1,372.6 97.1,371.7 99.1,371.1 101.5,370.7 105.8,370.6 107.8,370.3 113.5,368.4 115.8,367.9 118.5,368.0 120.8,368.8 123.2,370.6 124.2,371.9 125.0,373.2 126.0,376.2 126.1,379.6 125.9,381.2 125.3,382.9 123.7,385.6 122.8,386.6 121.5,387.6 120.1,388.2 118.8,388.6 Z M75.8,346.6 75.1,346.8 74.8,346.6 74.4,345.9 74.5,344.7 75.1,344.0 75.8,344.2 76.2,344.9 76.2,345.9 75.8,346.6 Z M118.8,387.2 116.8,387.4 114.8,387.0 112.5,385.8 108.5,382.7 106.8,381.8 104.8,381.2 100.1,380.5 97.8,379.6 96.4,378.6 95.4,377.2 95.2,375.9 95.5,374.9 96.9,373.6 99.1,372.5 101.5,372.1 105.8,372.0 107.8,371.8 115.1,369.4 117.8,369.3 119.1,369.6 120.5,370.1 122.5,371.7 124.0,373.9 124.9,376.6 125.0,379.6 124.3,382.2 122.9,384.6 121.1,386.2 118.8,387.2 Z M118.5,385.9 116.5,386.1 114.1,385.4 112.1,384.1 108.5,380.9 106.8,379.9 105.1,379.5 101.5,379.0 99.8,378.5 98.9,377.9 98.3,377.2 98.0,376.2 98.2,375.6 99.1,374.6 100.5,374.1 102.1,373.8 106.1,373.8 107.8,373.5 113.1,371.3 115.1,370.7 117.5,370.5 119.8,371.2 121.6,372.6 123.0,374.6 123.7,376.9 123.8,379.2 123.3,381.6 122.1,383.6 120.5,385.1 118.5,385.9 Z M118.1,384.6 117.1,384.7 115.8,384.5 114.5,384.0 113.2,383.2 111.7,381.9 109.9,379.9 108.7,378.2 108.3,377.2 108.4,376.6 108.8,375.9 110.2,374.6 112.9,372.9 115.1,372.0 117.5,371.9 118.8,372.3 119.8,372.8 121.5,374.5 122.4,376.6 122.6,377.9 122.6,379.2 122.3,380.6 121.8,381.7 121.1,382.7 120.3,383.6 119.2,384.2 118.1,384.6 Z M118.1,383.0 116.5,383.1 114.5,382.3 112.8,380.9 111.6,378.9 111.4,377.2 111.9,375.9 113.2,374.6 114.8,373.7 116.8,373.4 118.5,373.8 120.0,374.9 120.9,376.6 121.2,378.6 120.8,380.6 119.8,382.0 118.1,383.0 Z M117.8,381.3 116.8,381.4 115.5,381.0 114.5,380.2 113.6,378.9 113.5,377.9 113.7,376.9 114.4,375.9 115.5,375.3 116.8,375.1 117.8,375.3 118.8,376.0 119.5,377.1 119.7,378.2 119.5,379.6 118.8,380.6 117.8,381.3 Z" fill="none" stroke="#7a7a7a" stroke-width="0.6" stroke-linejoin="round"/>
<path d="M124.4,367.5h0.7M130.5,379.8h0.7M117.3,382.8h0.7M102.5,381.6h0.7M115.1,390.9h0.7M115.5,383.0h0.7M120.3,372.5h0.7M102.1,375.9h0.7M95.4,369.1h0.7M115.8,365.4h0.7M107.0,377.0h0.7M76.5,365.2h0.7M106.4,375.2h0.7M120.9,382.7h0.7M125.8,377.4h0.7M106.3,378.4h0.7M110.4,384.5h0.7M105.0,360.8h0.7M96.3,382.9h0.7M87.0,367.8h0.7M127.6,385.0h0.7M117.9,374.2h0.7M106.0,391.5h0.7M107.3,368.7h0.7M74.2,375.3h0.7M123.4,378.8h0.7M126.0,383.2h0.7M110.4,378.3h0.7M71.0,357.1h0.7M129.7,366.5h0.7M105.6,366.4h0.7M110.9,369.9h0.7M100.0,394.6h0.7M133.2,383.0h0.7M89.3,374.9h0.7M91.0,329.6h0.7M108.9,367.1h0.7M119.5,392.8h0.7M101.6,379.0h0.7M74.1,373.4h0.7M103.3,370.9h0.7M112.7,377.3h0.7M109.8,376.5h0.7M114.5,374.2h0.7M112.7,364.9h0.7M92.4,376.8h0.7M108.5,396.0h0.7M70.1,363.0h0.7M125.6,384.0h0.7M100.3,378.2h0.7M66.3,347.6h0.7M118.1,375.4h0.7M123.2,386.0h0.7M110.3,383.7h0.7M77.4,317.8h0.7M114.0,381.4h0.7M80.7,373.6h0.7M74.4,361.6h0.7M100.2,380.5h0.7M119.4,381.7h0.7M118.7,392.4h0.7M77.1,368.7h0.7M111.0,375.0h0.7M122.3,378.2h0.7M91.6,344.2h0.7M116.9,381.8h0.7M116.9,340.6h0.7M107.0,384.7h0.7M78.7,347.1h0.7M124.5,375.1h0.7M84.1,368.3h0.7M74.8,347.3h0.7M75.1,367.0h0.7M98.8,376.8h0.7M75.0,343.2h0.7M122.7,369.7h0.7M93.5,342.7h0.7M127.2,357.4h0.7M101.6,351.5h0.7M129.8,344.0h0.7M126.3,341.5h0.7M118.9,328.0h0.7M123.0,343.5h0.7M92.9,351.4h0.7M120.6,347.6h0.7M95.3,344.9h0.7M100.2,352.6h0.7M116.4,357.1h0.7M105.4,333.6h0.7M103.3,337.0h0.7M123.4,344.0h0.7M112.2,344.3h0.7M96.4,335.4h0.7M130.4,356.8h0.7M128.3,345.1h0.7M96.7,343.2h0.7M129.4,355.4h0.7M93.0,350.3h0.7M119.7,347.3h0.7M117.2,347.2h0.7M98.9,342.0h0.7" stroke="#9a9a9a" stroke-width="0.7" fill="none"/>
<line x1="87.2" y1="314.4" x2="87.2" y2="398.7" stroke="#333" stroke-width="0.8" />
<polyline points="51.3,367.8 87.2,365.9 135.8,355.1" fill="none" stroke="#333" stroke-width="0.8"/>
<rect x="141.3" y="314.4" width="84.5" height="84.3" fill="none" stroke="#8a8a8a" stroke-width="0.8"/>
<path d="M140.1,317.8h1.2M140.1,320.3h1.2M140.1,322.8h1.2M140.1,327.9h1.2M139.3,336.3h2.0M140.1,339.7h1.2M140.1,343.1h1.2M140.1,346.4h1.2M140.1,349.8h1.2M139.3,356.5h2.0M140.1,361.6h1.2M140.1,365.0h1.2M140.1,368.4h1.2M140.1,371.7h1.2M139.3,380.2h2.0M140.1,386.1h1.2M140.1,392.8h1.2M139.3,396.2h2.0M145.5,398.7v2.0M149.8,398.7v1.2M151.4,398.7v1.2M158.2,398.7v1.2M162.4,398.7v1.2M166.7,398.7v1.2M171.7,398.7v1.2M176.8,398.7v2.0M183.6,398.7v1.2M187.8,398.7v1.2M192.0,398.7v1.2M198.8,398.7v1.2M202.1,398.7v2.0M205.5,398.7v1.2M208.9,398.7v1.2M214.8,398.7v1.2M217.4,398.7v1.2M221.6,398.7v2.0" stroke="#666" stroke-width="0.6" fill="none"/>
<rect x="139.10000000000002" y="378.8895" width="1.8" height="2" fill="#111"/>
<rect x="159.89000000000001" y="399.0" width="3" height="1.8" fill="#111"/>
<path d="M166.1,371.2 163.8,371.5 161.8,371.0 160.1,369.9 158.5,367.9 157.2,364.9 155.6,358.9 154.9,355.6 154.4,351.9 154.5,348.2 154.9,344.9 155.8,341.9 156.9,339.2 158.4,336.9 160.1,335.1 162.1,334.0 164.1,333.5 166.1,333.8 167.8,334.6 169.5,336.0 170.9,337.9 172.3,340.6 173.3,343.2 173.9,346.2 174.2,348.9 174.1,352.6 173.7,355.9 171.2,365.6 170.3,367.6 169.1,369.2 167.8,370.4 166.1,371.2 Z M164.5,369.9 162.8,369.7 161.5,369.0 160.1,367.7 159.1,365.9 158.3,363.6 156.3,355.9 155.9,353.2 155.7,350.6 155.9,347.6 156.4,344.9 157.1,342.6 158.1,340.2 159.5,338.3 160.8,337.1 162.5,336.1 164.1,335.8 165.8,336.0 167.5,336.8 169.0,338.2 170.3,339.9 171.4,342.2 172.2,344.9 172.7,347.6 172.9,350.2 172.7,353.2 172.3,355.9 170.3,363.6 169.7,365.6 168.8,367.2 167.5,368.7 166.1,369.5 164.5,369.9 Z M165.5,368.3 163.8,368.5 162.5,368.1 161.1,367.0 160.2,365.6 159.5,363.6 157.4,355.9 156.8,351.2 156.8,348.6 157.2,346.2 157.8,343.9 158.6,341.9 159.8,340.1 161.1,338.7 162.5,337.9 164.1,337.5 165.5,337.7 166.8,338.3 168.1,339.3 169.4,340.9 170.3,342.6 171.1,344.9 171.6,347.2 171.8,349.6 171.8,352.2 171.4,354.9 168.9,364.2 168.4,365.6 167.5,366.9 166.5,367.8 165.5,368.3 Z M165.1,367.0 163.8,367.1 162.8,366.7 161.8,365.8 161.0,364.6 158.3,355.6 157.7,351.2 157.7,348.9 158.0,346.9 158.5,344.9 159.3,342.9 160.4,341.2 161.5,340.2 162.8,339.4 164.1,339.1 165.5,339.3 166.5,339.7 167.8,340.8 168.8,342.1 169.6,343.6 170.3,345.6 170.9,349.6 170.9,351.9 170.5,354.6 168.0,363.6 166.8,365.8 166.0,366.6 165.1,367.0 Z M165.1,365.3 164.5,365.5 163.5,365.3 162.6,364.6 162.0,363.6 159.2,355.2 158.5,351.2 158.5,349.2 158.8,347.2 159.2,345.6 159.9,343.9 160.8,342.5 161.8,341.5 162.8,340.9 164.1,340.5 165.1,340.6 166.1,341.0 167.1,341.8 168.1,343.0 169.5,345.9 170.1,349.6 170.0,352.6 169.2,355.9 166.8,363.2 166.1,364.5 165.1,365.3 Z M164.8,362.7 164.5,362.9 163.8,362.7 162.8,361.3 160.1,355.2 159.6,353.2 159.3,350.9 159.6,347.6 160.1,345.9 160.7,344.6 162.1,342.8 163.1,342.2 164.1,342.0 165.1,342.1 166.1,342.5 167.7,344.2 168.8,346.9 169.3,349.9 169.1,352.9 168.3,355.6 165.8,361.3 164.8,362.7 Z M164.8,358.6 164.1,358.7 163.5,358.4 162.8,357.8 161.8,356.4 160.7,353.9 160.2,350.9 160.4,348.2 161.2,345.9 162.5,344.2 163.1,343.7 164.1,343.4 165.1,343.6 165.8,343.9 167.0,345.2 167.9,347.2 168.4,349.9 168.2,352.6 167.5,355.0 166.1,357.4 164.8,358.6 Z M165.1,355.9 164.5,356.2 163.8,356.1 162.8,355.4 161.8,353.6 161.2,351.2 161.3,349.2 161.8,347.2 162.8,345.8 163.5,345.3 164.1,345.1 165.1,345.3 166.2,346.2 166.9,347.6 167.4,349.6 167.3,351.6 167.0,353.2 166.1,354.9 165.1,355.9 Z M164.8,353.9 163.8,353.9 163.1,353.3 162.6,352.2 162.3,350.9 162.3,349.6 162.7,348.2 163.5,347.3 164.1,347.0 164.8,347.1 165.5,347.6 166.0,348.6 166.3,349.9 166.0,352.2 165.5,353.3 164.8,353.9 Z" fill="none" stroke="#7a7a7a" stroke-width="0.6" stroke-linejoin="round"/>
<path d="M165.8,368.3h0.7M169.7,353.5h0.7M166.2,364.3h0.7M176.8,364.8h0.7M168.9,355.7h0.7M168.5,343.4h0.7M160.1,345.3h0.7M165.0,331.7h0.7M154.8,335.2h0.7M170.3,358.0h0.7M159.3,340.5h0.7M170.9,350.6h0.7M166.5,368.5h0.7M149.3,348.0h0.7M161.4,355.5h0.7M155.4,341.8h0.7M169.2,341.8h0.7M159.7,350.6h0.7M164.0,341.6h0.7M159.7,340.5h0.7M162.4,364.5h0.7M168.6,340.6h0.7M173.7,347.2h0.7M175.7,367.2h0.7M152.9,348.3h0.7M168.3,359.5h0.7M159.1,354.9h0.7M162.9,356.5h0.7M168.0,345.0h0.7M167.1,330.6h0.7M159.2,358.3h0.7M166.3,352.5h0.7M169.6,360.8h0.7M169.0,347.9h0.7M163.1,337.0h0.7M171.1,363.5h0.7M165.8,353.6h0.7M164.8,345.6h0.7M165.7,370.8h0.7M168.5,358.5h0.7M166.5,351.6h0.7M160.8,333.5h0.7M180.8,369.4h0.7M165.9,366.8h0.7M162.5,356.8h0.7M151.9,335.2h0.7M161.9,346.8h0.7M164.9,341.8h0.7M179.5,336.9h0.7M172.4,363.4h0.7M174.3,353.3h0.7M174.5,365.5h0.7M164.6,346.8h0.7M161.7,356.5h0.7M171.9,364.7h0.7M169.7,343.1h0.7M152.7,341.8h0.7M154.9,373.8h0.7M153.8,341.3h0.7M164.1,348.5h0.7M163.1,352.5h0.7M167.8,341.1h0.7M173.5,337.7h0.7M158.1,358.2h0.7M162.1,368.1h0.7M162.3,351.1h0.7M178.2,348.7h0.7M165.3,339.4h0.7M155.4,368.3h0.7M163.1,364.4h0.7M174.2,368.7h0.7M169.2,349.2h0.7M164.6,339.6h0.7M163.1,365.5h0.7M172.9,358.0h0.7M169.2,346.8h0.7M162.9,367.5h0.7M164.3,366.3h0.7M168.3,351.8h0.7M166.6,366.4h0.7M181.3,342.8h0.7M217.0,383.3h0.7M204.6,342.4h0.7M153.9,363.0h0.7M165.9,371.5h0.7M155.9,351.4h0.7M200.5,354.1h0.7M194.6,346.2h0.7" stroke="#9a9a9a" stroke-width="0.7" fill="none"/>
<line x1="177.2" y1="314.4" x2="177.2" y2="398.7" stroke="#333" stroke-width="0.8" />
<polyline points="141.3,367.5 177.2,365.9 225.8,355.1" fill="none" stroke="#333" stroke-width="0.8"/>
<text x="53.7" y="325" font-size="10.8" fill="#000" color="#000"><tspan>NP</tspan><tspan dy="-2.92" font-size="6.7" font-style="normal">+</tspan><tspan dy="2.92">MBC</tspan></text>
<text x="53.7" y="338.3" font-size="10.8" fill="#000" color="#000"><tspan>17.9</tspan></text>
<text x="108.2" y="326.4" font-size="10.8" fill="#000" color="#000"><tspan>7.72</tspan></text>
<text x="108.3" y="395.8" font-size="10.8" fill="#000" color="#000"><tspan>66.9</tspan></text>
<text x="143.7" y="338.3" font-size="10.8" fill="#000" color="#000"><tspan>86.6</tspan></text>
<text x="196.9" y="326.5" font-size="10.8" fill="#000" color="#000"><tspan>2.68</tspan></text>
<text x="198.2" y="395.8" font-size="10.8" fill="#000" color="#000"><tspan>1.01</tspan></text>
<text x="5.0" y="456.7" font-size="17.2" fill="#000" color="#000" font-weight="bold"><tspan>I</tspan></text>
<text x="98.1" y="456.5" font-size="11.6" fill="#000" color="#000" textLength="69.4" lengthAdjust="spacing"><tspan>On NP</tspan><tspan dy="-3.94" font-size="7.89" font-style="normal">+</tspan><tspan dy="3.94">MBC</tspan></text>
<line x1="54.3" y1="461.8" x2="216.5" y2="461.8" stroke="#000" stroke-width="1.6" />
<text x="82.3" y="474.8" font-size="11" fill="#ff0000" color="#ff0000" font-style="italic"><tspan font-style="italic">Cfp1</tspan><tspan dy="-3.74" font-size="7.48" font-style="normal">fl/fl</tspan></text>
<text x="143.7" y="474.8" font-size="11" fill="#0505e6" color="#0505e6" font-style="italic"><tspan font-style="italic">Cfp1</tspan><tspan dy="-3.74" font-size="7.48" font-style="normal">fl/fl</tspan><tspan dy="3.74"> </tspan><tspan font-style="italic">Aicda</tspan><tspan dy="-3.74" font-size="7.48" font-style="normal">Cre</tspan></text>
<text transform="translate(37.5,530) rotate(-90)" font-size="12.5" fill="#000" color="#000" text-anchor="middle"><tspan>PD-L2</tspan></text>
<text x="138.4" y="588" font-size="12.5" fill="#000" color="#000" text-anchor="middle"><tspan>CD80</tspan></text>
<line x1="43.8" y1="488.0" x2="43.8" y2="573.9" stroke="#000" stroke-width="1.5" />
<line x1="43.05" y1="573.9" x2="219.5" y2="573.9" stroke="#000" stroke-width="1.5" />
<polygon points="43.8,481.5 40.199999999999996,488.5 47.4,488.5" fill="#000"/>
<polygon points="226,573.9 219,570.3 219,577.5" fill="#000"/>
<rect x="51.7" y="481.9" width="84.6" height="84" fill="none" stroke="#8a8a8a" stroke-width="0.8"/>
<path d="M50.5,485.3h1.2M50.5,487.8h1.2M50.5,490.3h1.2M50.5,495.3h1.2M49.7,503.7h2.0M50.5,507.1h1.2M50.5,510.5h1.2M50.5,513.8h1.2M50.5,517.2h1.2M49.7,523.9h2.0M50.5,528.9h1.2M50.5,532.3h1.2M50.5,535.7h1.2M50.5,539.0h1.2M49.7,547.4h2.0M50.5,553.3h1.2M50.5,560.0h1.2M49.7,563.4h2.0M55.9,565.9v2.0M60.2,565.9v1.2M61.9,565.9v1.2M68.6,565.9v1.2M72.8,565.9v1.2M77.1,565.9v1.2M82.2,565.9v1.2M87.2,565.9v2.0M94.0,565.9v1.2M98.2,565.9v1.2M102.5,565.9v1.2M109.2,565.9v1.2M112.6,565.9v2.0M116.0,565.9v1.2M119.4,565.9v1.2M125.3,565.9v1.2M127.8,565.9v1.2M132.1,565.9v2.0" stroke="#666" stroke-width="0.6" fill="none"/>
<rect x="49.5" y="546.16" width="1.8" height="2" fill="#111"/>
<rect x="70.312" y="566.1999999999999" width="3" height="1.8" fill="#111"/>
<path d="M97.5,544.5 96.2,544.5 94.9,544.1 93.9,543.3 92.8,542.1 92.0,540.4 91.5,538.7 90.7,533.4 89.9,532.2 88.2,531.3 82.2,530.0 79.2,528.6 77.9,527.6 76.7,526.4 76.0,525.1 75.8,523.7 76.2,522.4 77.2,521.1 78.9,520.0 82.5,518.5 83.8,517.7 87.3,514.1 89.5,512.3 91.5,511.3 93.5,510.7 95.5,510.3 97.9,510.1 100.2,510.3 102.9,511.0 105.2,512.0 107.4,513.4 109.0,515.1 110.3,517.1 111.0,519.1 111.2,521.1 110.7,523.7 109.3,526.4 107.5,528.3 104.1,531.1 103.1,532.4 102.6,534.1 101.9,538.7 100.8,541.7 99.2,543.6 97.5,544.5 Z M97.5,541.9 96.5,542.0 95.5,541.7 94.5,541.0 93.9,540.1 93.2,538.7 92.9,537.4 92.4,532.7 91.9,531.7 91.3,531.1 89.5,530.2 84.2,529.3 81.2,528.3 79.8,527.4 78.7,526.4 78.0,525.4 77.7,524.1 78.1,522.7 78.9,521.7 80.5,520.8 83.9,519.5 85.2,518.7 88.6,515.1 90.5,513.5 92.2,512.7 94.2,512.0 97.9,511.6 100.2,511.8 102.2,512.3 104.2,513.2 106.1,514.4 107.4,515.7 108.5,517.4 109.1,519.1 109.4,521.1 108.9,523.4 107.7,525.7 106.1,527.4 102.7,530.1 101.6,531.4 101.0,533.1 100.6,537.1 100.0,539.1 98.9,541.0 97.5,541.9 Z M97.2,539.2 96.5,539.3 95.9,539.0 94.9,537.8 94.4,536.1 94.1,532.1 93.6,531.1 93.0,530.4 91.9,529.7 90.5,529.2 84.9,528.5 82.2,527.6 80.9,526.8 80.1,526.1 79.5,525.1 79.4,524.1 79.7,523.1 80.8,522.1 82.1,521.4 85.2,520.2 86.5,519.4 89.5,515.9 91.5,514.3 93.2,513.5 94.9,513.0 98.2,512.7 100.2,512.9 102.2,513.5 103.9,514.3 105.2,515.3 106.5,516.7 107.3,518.1 107.8,519.4 108.0,521.1 107.5,523.4 106.3,525.4 104.6,527.1 100.9,529.7 99.7,531.1 99.2,532.7 99.0,535.7 98.8,537.1 98.2,538.4 97.2,539.2 Z M97.5,530.1 96.2,530.2 92.9,528.7 91.2,528.2 85.9,527.6 83.7,527.1 82.4,526.4 81.5,525.6 81.1,524.7 81.2,523.7 81.8,523.1 82.5,522.5 85.9,521.3 87.2,520.5 90.6,516.4 91.9,515.4 93.2,514.6 95.2,514.0 97.2,513.7 99.5,513.8 101.5,514.4 104.0,515.7 105.1,516.7 105.8,517.7 106.3,518.7 106.7,520.1 106.5,522.4 105.6,524.4 104.1,526.1 101.5,527.9 97.5,530.1 Z M98.2,528.1 97.2,528.3 95.9,528.3 90.9,526.9 85.5,526.4 83.9,525.6 83.4,525.1 83.3,524.4 83.5,523.9 84.2,523.4 86.9,522.3 88.2,521.5 91.1,517.4 93.2,515.7 94.9,515.0 96.5,514.7 98.5,514.6 100.2,514.9 102.7,516.1 104.5,517.7 105.4,519.7 105.5,521.7 104.7,523.7 103.3,525.4 100.9,527.0 98.2,528.1 Z M98.5,526.8 96.5,527.0 94.5,526.7 90.2,525.1 89.5,524.7 89.1,524.1 89.2,523.4 90.5,520.4 91.7,518.4 93.4,516.7 95.5,515.8 98.2,515.5 100.9,516.2 102.2,516.9 103.1,517.7 103.8,518.7 104.3,519.7 104.4,520.7 104.3,522.1 103.9,523.1 103.2,524.0 101.2,525.7 98.5,526.8 Z M97.9,525.8 95.9,525.7 93.5,524.9 92.0,523.7 91.6,522.4 91.9,520.4 93.1,518.4 94.9,517.1 97.2,516.5 99.2,516.7 101.2,517.5 101.9,518.1 102.7,519.1 103.2,520.7 102.9,522.4 101.7,524.1 99.9,525.2 97.9,525.8 Z M98.5,524.5 96.9,524.6 95.5,524.3 94.4,523.7 93.5,522.7 93.2,521.4 93.5,520.1 94.2,519.0 95.5,518.0 97.2,517.6 99.0,517.7 100.5,518.5 101.6,519.7 101.9,521.1 101.5,522.4 100.2,523.7 98.5,524.5 Z M98.5,523.1 97.5,523.3 96.5,523.2 95.9,522.9 95.2,522.3 94.9,521.7 94.8,520.7 95.1,520.1 95.7,519.4 96.9,518.9 97.9,518.8 99.1,519.1 99.9,519.7 100.4,520.7 100.2,521.7 99.5,522.6 98.5,523.1 Z" fill="none" stroke="#7a7a7a" stroke-width="0.6" stroke-linejoin="round"/>
<path d="M76.9,519.8h0.7M87.7,513.0h0.7M111.0,513.9h0.7M86.1,525.9h0.7M92.2,513.7h0.7M100.9,519.3h0.7M98.1,531.6h0.7M99.3,521.2h0.7M94.0,518.4h0.7M95.9,516.3h0.7M104.6,512.2h0.7M95.1,528.8h0.7M103.7,523.4h0.7M91.6,518.2h0.7M104.3,501.7h0.7M117.0,518.8h0.7M89.5,521.3h0.7M91.7,527.9h0.7M103.9,527.8h0.7M101.0,508.6h0.7M97.3,512.5h0.7M89.1,531.8h0.7M88.2,522.2h0.7M100.4,507.4h0.7M71.0,523.6h0.7M92.3,522.7h0.7M99.8,533.8h0.7M106.0,519.6h0.7M88.5,519.8h0.7M104.6,524.7h0.7M88.4,518.1h0.7M93.2,510.4h0.7M118.8,528.8h0.7M99.1,520.6h0.7M107.5,529.9h0.7M92.3,520.2h0.7M79.2,523.7h0.7M90.8,524.9h0.7M97.7,519.8h0.7M83.9,519.2h0.7M98.6,538.0h0.7M69.9,535.5h0.7M92.3,549.4h0.7M101.8,537.0h0.7M108.5,540.3h0.7M106.7,543.5h0.7M62.2,552.9h0.7M108.7,560.0h0.7" stroke="#9a9a9a" stroke-width="0.7" fill="none"/>
<line x1="83.5" y1="481.9" x2="83.5" y2="565.9" stroke="#555" stroke-width="0.9" />
<line x1="51.7" y1="533.2" x2="136.3" y2="533.2" stroke="#555" stroke-width="0.9" />
<rect x="141.7" y="481.9" width="84.3" height="84" fill="none" stroke="#8a8a8a" stroke-width="0.8"/>
<path d="M140.5,485.3h1.2M140.5,487.8h1.2M140.5,490.3h1.2M140.5,495.3h1.2M139.7,503.7h2.0M140.5,507.1h1.2M140.5,510.5h1.2M140.5,513.8h1.2M140.5,517.2h1.2M139.7,523.9h2.0M140.5,528.9h1.2M140.5,532.3h1.2M140.5,535.7h1.2M140.5,539.0h1.2M139.7,547.4h2.0M140.5,553.3h1.2M140.5,560.0h1.2M139.7,563.4h2.0M145.9,565.9v2.0M150.1,565.9v1.2M151.8,565.9v1.2M158.6,565.9v1.2M162.8,565.9v1.2M167.0,565.9v1.2M172.0,565.9v1.2M177.1,565.9v2.0M183.8,565.9v1.2M188.1,565.9v1.2M192.3,565.9v1.2M199.0,565.9v1.2M202.4,565.9v2.0M205.8,565.9v1.2M209.1,565.9v1.2M215.0,565.9v1.2M217.6,565.9v1.2M221.8,565.9v2.0" stroke="#666" stroke-width="0.6" fill="none"/>
<rect x="139.5" y="546.16" width="1.8" height="2" fill="#111"/>
<rect x="160.24599999999998" y="566.1999999999999" width="3" height="1.8" fill="#111"/>
<path d="M178.2,527.1 175.2,527.4 172.5,527.2 169.9,526.6 167.5,525.5 165.9,524.3 164.6,522.7 164.1,521.1 164.5,519.4 165.2,518.4 166.5,517.4 171.2,515.4 172.3,514.7 175.5,511.0 178.2,508.9 181.5,507.2 184.9,506.3 187.5,505.8 190.5,505.7 193.2,506.0 195.9,506.5 198.2,507.3 200.2,508.4 201.9,509.7 203.3,511.4 204.0,512.7 204.4,514.4 204.4,515.7 204.0,517.4 203.4,518.7 202.2,520.4 200.8,521.7 199.2,522.9 195.9,524.6 192.2,525.6 189.2,526.0 182.5,526.4 178.2,527.1 Z M175.5,526.1 173.9,526.1 171.9,525.8 170.2,525.3 168.5,524.5 167.2,523.4 166.5,522.4 166.2,521.4 166.3,520.4 166.8,519.4 168.0,518.4 169.5,517.7 172.5,516.7 173.9,516.0 174.8,515.1 177.2,511.7 178.8,510.4 180.5,509.3 183.2,508.1 186.5,507.3 189.5,507.1 192.5,507.3 195.5,507.9 198.2,509.1 200.2,510.6 201.6,512.4 202.1,513.7 202.3,515.1 202.2,516.4 201.7,517.7 201.0,519.1 199.8,520.4 198.5,521.5 196.9,522.5 194.2,523.7 190.9,524.5 187.9,524.8 181.9,524.9 175.5,526.1 Z M176.5,524.8 173.5,525.0 171.9,524.7 170.5,524.2 169.2,523.4 168.5,522.7 168.0,521.7 168.1,520.7 168.7,519.7 169.7,519.1 174.0,517.7 175.2,517.1 175.9,516.4 177.4,513.7 178.5,512.4 179.9,511.1 181.9,509.9 184.5,508.9 187.2,508.3 189.9,508.1 192.5,508.4 194.9,509.0 197.3,510.1 199.0,511.4 200.2,513.1 200.5,514.1 200.7,515.4 200.5,516.7 200.1,517.7 199.2,519.1 198.3,520.1 195.5,521.9 192.9,522.9 190.2,523.5 187.2,523.7 181.2,523.6 176.5,524.8 Z M174.5,523.7 172.5,523.6 170.9,522.8 170.4,522.4 170.1,521.7 170.3,520.7 170.9,520.2 171.9,519.8 175.5,519.1 176.5,518.6 177.2,517.8 178.4,514.7 179.5,513.1 181.2,511.5 183.5,510.2 185.9,509.5 188.2,509.1 190.5,509.1 192.9,509.4 194.9,510.1 196.7,511.1 198.2,512.4 198.9,513.7 199.2,515.7 198.9,517.1 198.4,518.1 197.6,519.1 196.5,520.1 193.9,521.6 191.2,522.4 188.2,522.8 179.5,522.1 178.5,522.4 176.1,523.4 174.5,523.7 Z M189.9,521.7 187.2,521.9 184.2,521.5 181.6,520.7 180.0,519.7 179.3,518.4 179.3,516.4 179.8,514.7 181.0,513.1 182.5,511.8 184.5,510.8 186.5,510.2 188.9,509.9 191.2,510.1 193.2,510.5 195.2,511.4 196.6,512.4 197.5,513.7 197.9,515.1 197.7,516.7 197.0,518.1 195.7,519.4 194.2,520.4 192.2,521.2 189.9,521.7 Z M190.5,520.8 188.2,521.0 185.9,520.8 183.9,520.3 182.1,519.4 181.2,518.4 180.7,517.1 180.9,515.4 181.6,514.1 182.9,512.8 184.2,512.0 185.9,511.3 187.9,510.9 189.9,510.8 191.8,511.1 193.5,511.6 194.8,512.4 195.8,513.4 196.5,514.7 196.6,515.7 196.2,517.1 195.2,518.4 194.0,519.4 192.5,520.1 190.5,520.8 Z M188.9,520.1 185.9,519.9 184.5,519.4 183.4,518.7 182.5,517.7 182.2,516.7 182.2,515.7 182.6,514.7 183.4,513.7 184.5,512.9 185.9,512.3 187.5,511.8 190.5,511.8 191.9,512.1 193.3,512.7 194.5,513.7 195.1,514.7 195.2,515.7 194.8,517.1 193.9,518.2 192.5,519.1 190.9,519.7 188.9,520.1 Z M188.9,519.1 186.5,518.9 184.8,518.1 184.1,517.4 183.8,516.7 183.8,515.7 184.0,515.1 185.4,513.7 187.5,512.9 189.9,512.7 192.1,513.4 192.9,514.1 193.5,515.0 193.6,515.7 193.3,516.7 192.5,517.7 191.5,518.4 190.2,518.9 188.9,519.1 Z M189.9,517.8 188.2,518.0 186.5,517.6 185.6,516.7 185.5,516.1 185.6,515.4 186.5,514.5 187.9,513.9 189.5,513.9 190.9,514.3 191.7,515.1 191.9,516.1 191.2,517.1 189.9,517.8 Z" fill="none" stroke="#7a7a7a" stroke-width="0.6" stroke-linejoin="round"/>
<path d="M174.8,522.2h0.7M174.6,525.1h0.7M174.8,507.3h0.7M181.4,525.1h0.7M182.3,512.5h0.7M180.5,519.4h0.7M184.0,517.4h0.7M185.9,518.8h0.7M179.4,520.0h0.7M188.4,523.8h0.7M176.7,519.8h0.7M164.3,528.6h0.7M176.4,517.4h0.7M171.6,517.4h0.7M188.7,526.5h0.7M190.3,516.3h0.7M180.0,526.0h0.7M173.3,513.2h0.7M181.6,505.5h0.7M197.9,516.9h0.7M193.9,519.0h0.7M168.4,526.7h0.7M205.3,521.8h0.7M183.5,513.9h0.7M189.6,517.3h0.7M203.7,514.5h0.7M175.2,512.2h0.7M174.1,519.5h0.7M187.2,502.5h0.7M194.5,524.3h0.7M182.5,501.6h0.7M186.5,517.6h0.7M185.2,511.6h0.7M174.6,510.0h0.7M169.4,526.8h0.7M189.4,516.2h0.7M186.9,519.1h0.7M201.2,512.3h0.7M177.2,518.0h0.7M202.6,523.4h0.7M166.2,560.6h0.7M200.9,536.7h0.7M198.6,535.2h0.7M171.8,538.5h0.7M156.2,548.8h0.7M162.9,552.4h0.7M157.5,553.7h0.7M194.1,547.5h0.7" stroke="#9a9a9a" stroke-width="0.7" fill="none"/>
<line x1="173.5" y1="481.9" x2="173.5" y2="565.9" stroke="#555" stroke-width="0.9" />
<line x1="141.7" y1="533.5" x2="226.0" y2="533.5" stroke="#555" stroke-width="0.9" />
<text x="115.3" y="494.4" font-size="10.8" fill="#000" color="#000"><tspan>DP</tspan></text>
<text x="112.1" y="507.6" font-size="10.8" fill="#000" color="#000"><tspan>76.5</tspan></text>
<text x="57.5" y="550.9" font-size="10.8" fill="#000" color="#000"><tspan>DN</tspan></text>
<text x="57.5" y="563.4" font-size="10.8" fill="#000" color="#000"><tspan>2.35</tspan></text>
<text x="202.4" y="505.6" font-size="10.8" fill="#000" color="#000"><tspan>79.2</tspan></text>
<text x="146.1" y="562.1" font-size="10.8" fill="#000" color="#000"><tspan>6.79</tspan></text>
<text x="372.8" y="644.9" font-size="17.2" fill="#000" color="#000" font-weight="bold"><tspan>L</tspan></text>
<text x="426.6" y="644.5" font-size="11.6" fill="#000" color="#000" textLength="112.1" lengthAdjust="spacing"><tspan>On NP</tspan><tspan dy="-3.94" font-size="7.89" font-style="normal">+</tspan><tspan dy="3.94">IgG1</tspan><tspan dy="-3.94" font-size="7.89" font-style="normal">+</tspan><tspan dy="3.94"> B cells</tspan></text>
<line x1="401.3" y1="650.1" x2="562.5" y2="650.1" stroke="#000" stroke-width="1.6" />
<text x="428.3" y="664.1" font-size="11" fill="#ff0000" color="#ff0000" font-style="italic"><tspan font-style="italic">Cfp1</tspan><tspan dy="-3.74" font-size="7.48" font-style="normal">fl/fl</tspan></text>
<text x="489.6" y="664.1" font-size="11" fill="#0505e6" color="#0505e6" font-style="italic"><tspan font-style="italic">Cfp1</tspan><tspan dy="-3.74" font-size="7.48" font-style="normal">fl/fl</tspan><tspan dy="3.74"> </tspan><tspan font-style="italic">Aicda</tspan><tspan dy="-3.74" font-size="7.48" font-style="normal">Cre</tspan></text>
<text transform="translate(382.5,719.1) rotate(-90)" font-size="12.5" fill="#000" color="#000" text-anchor="middle"><tspan>CD38</tspan></text>
<text x="487.9" y="773.4" font-size="12.5" fill="#000" color="#000" text-anchor="middle"><tspan>GL7</tspan></text>
<line x1="389.8" y1="676.0" x2="389.8" y2="761.9" stroke="#000" stroke-width="1.5" />
<line x1="389.05" y1="761.9" x2="566.1" y2="761.9" stroke="#000" stroke-width="1.5" />
<polygon points="389.8,669.5 386.2,676.5 393.40000000000003,676.5" fill="#000"/>
<polygon points="572.6,761.9 565.6,758.3 565.6,765.5" fill="#000"/>
<rect x="398.3" y="669.3" width="84.5" height="84.4" fill="none" stroke="#8a8a8a" stroke-width="0.8"/>
<path d="M397.1,672.7h1.2M397.1,675.2h1.2M397.1,677.7h1.2M397.1,682.8h1.2M396.3,691.2h2.0M397.1,694.6h1.2M397.1,698.0h1.2M397.1,701.4h1.2M397.1,704.7h1.2M396.3,711.5h2.0M397.1,716.6h1.2M397.1,719.9h1.2M397.1,723.3h1.2M397.1,726.7h1.2M396.3,735.1h2.0M397.1,741.0h1.2M397.1,747.8h1.2M396.3,751.2h2.0M402.5,753.7v2.0M406.8,753.7v1.2M408.4,753.7v1.2M415.2,753.7v1.2M419.4,753.7v1.2M423.7,753.7v1.2M428.7,753.7v1.2M433.8,753.7v2.0M440.6,753.7v1.2M444.8,753.7v1.2M449.0,753.7v1.2M455.8,753.7v1.2M459.1,753.7v2.0M462.5,753.7v1.2M465.9,753.7v1.2M471.8,753.7v1.2M474.4,753.7v1.2M478.6,753.7v2.0" stroke="#666" stroke-width="0.6" fill="none"/>
<rect x="396.1" y="733.866" width="1.8" height="2" fill="#111"/>
<rect x="416.89" y="753.9999999999999" width="3" height="1.8" fill="#111"/>
<path d="M425.1,715.2 423.5,715.2 421.8,714.7 420.1,713.8 418.8,712.6 417.6,711.1 416.6,709.1 416.1,707.1 415.8,705.1 415.8,702.8 416.2,700.8 416.9,698.8 417.9,697.1 419.1,695.6 420.5,694.6 422.1,693.7 423.8,693.4 425.5,693.5 427.1,694.0 428.8,695.0 430.0,696.1 431.0,697.5 432.0,699.5 432.5,701.5 432.8,703.5 432.8,705.8 432.4,707.8 431.7,709.8 430.8,711.4 429.5,713.0 428.1,714.0 426.8,714.7 425.1,715.2 Z M469.1,743.5 466.1,743.8 462.8,743.4 460.1,742.5 454.8,739.9 452.1,739.0 445.5,737.6 438.8,735.7 431.1,735.0 427.8,734.3 425.5,733.2 423.7,731.8 422.8,730.1 422.7,729.1 422.9,728.1 423.7,726.8 424.8,725.8 426.1,725.0 428.1,724.2 431.1,723.6 438.8,722.9 445.5,721.0 450.8,719.8 452.1,719.4 453.4,718.5 454.2,717.5 456.3,711.8 457.1,710.3 458.1,709.1 459.5,708.0 461.1,707.4 462.8,707.2 464.1,707.5 465.5,708.2 466.8,709.2 471.0,714.5 475.6,718.1 477.5,720.1 478.7,721.8 479.5,723.5 480.3,725.5 480.7,727.5 480.7,730.1 480.3,732.8 479.4,735.5 478.0,737.8 476.3,739.8 474.1,741.5 471.8,742.7 469.1,743.5 Z M425.5,713.2 424.1,713.3 422.8,713.1 421.5,712.5 420.1,711.6 419.1,710.4 418.2,708.8 417.6,707.1 417.3,705.5 417.3,703.5 417.5,701.8 418.1,700.1 418.9,698.5 420.0,697.1 421.1,696.3 422.5,695.6 423.8,695.3 425.1,695.4 426.5,695.7 427.8,696.5 428.8,697.4 430.4,699.8 431.0,701.5 431.3,703.1 431.3,705.1 431.1,706.8 430.5,708.5 429.9,709.8 428.9,711.1 427.8,712.1 426.8,712.7 425.5,713.2 Z M466.8,741.8 464.5,741.7 462.5,741.3 460.5,740.6 454.4,737.8 446.1,736.1 439.8,734.0 437.5,733.7 432.1,733.5 429.1,732.9 427.4,732.1 426.2,731.1 425.5,729.8 425.6,728.5 426.2,727.5 427.1,726.6 428.5,725.9 429.8,725.5 432.5,725.0 437.5,724.9 439.5,724.6 445.8,722.6 451.5,721.4 453.5,720.8 454.8,719.9 455.7,718.8 456.3,717.5 457.6,713.1 458.4,711.8 459.1,710.8 460.1,710.1 461.5,709.5 462.5,709.4 463.8,709.6 464.8,710.1 465.8,710.9 469.8,716.0 474.1,719.5 476.1,721.5 477.2,723.1 478.0,724.8 478.8,728.1 478.7,730.8 478.2,733.1 477.2,735.5 475.8,737.5 473.8,739.3 471.8,740.5 469.5,741.4 466.8,741.8 Z M425.8,711.5 424.8,711.7 423.5,711.6 422.1,711.2 421.1,710.5 420.1,709.5 419.5,708.5 418.6,705.8 418.6,702.8 419.5,700.1 420.1,699.1 421.1,698.1 422.1,697.4 423.5,697.0 425.5,697.0 426.5,697.4 427.5,698.1 429.1,700.1 430.0,702.8 430.0,705.5 429.3,708.1 427.8,710.2 426.8,711.0 425.8,711.5 Z M467.8,740.2 465.5,740.3 462.8,739.8 460.8,739.1 455.1,736.6 446.8,734.8 439.8,732.2 437.8,732.0 433.1,732.0 430.8,731.7 429.5,731.1 428.7,730.5 428.3,729.8 428.3,728.8 429.1,727.7 431.1,726.8 433.1,726.6 437.5,726.6 439.5,726.4 446.1,724.0 452.8,722.5 454.8,721.8 456.2,720.8 457.1,719.5 458.8,714.5 459.8,712.8 460.5,712.1 461.5,711.6 463.1,711.5 464.1,711.9 465.1,712.7 468.7,717.1 472.8,720.3 474.5,721.9 476.1,724.5 477.1,727.5 477.3,729.8 477.0,731.8 476.3,733.8 475.1,735.8 473.6,737.5 471.8,738.8 469.8,739.7 467.8,740.2 Z M424.8,710.2 423.8,710.2 422.8,709.9 421.3,708.8 420.2,707.1 419.7,704.8 419.9,702.5 420.8,700.4 421.5,699.6 422.5,698.9 424.1,698.4 425.8,698.7 427.3,699.8 428.4,701.5 428.9,703.8 428.7,706.1 427.8,708.1 426.5,709.5 424.8,710.2 Z M467.8,738.8 465.8,739.0 463.5,738.6 461.5,738.0 455.5,735.3 448.8,734.0 446.5,733.3 444.0,732.1 442.1,730.8 441.3,729.8 441.3,728.8 441.8,728.1 443.0,727.1 446.0,725.5 448.5,724.7 453.8,723.6 455.1,723.2 456.4,722.5 457.6,721.5 458.5,720.1 460.1,715.9 460.8,714.7 461.8,713.9 462.5,713.8 463.1,713.9 464.5,714.7 467.5,718.1 471.5,721.0 473.1,722.5 474.8,724.8 475.7,727.5 475.9,729.5 475.7,731.5 475.1,733.1 474.2,734.8 473.1,736.1 471.5,737.4 469.8,738.3 467.8,738.8 Z M425.1,708.5 423.8,708.6 422.5,707.9 421.5,706.8 421.0,705.1 421.0,703.5 421.5,701.8 422.5,700.7 423.8,700.0 425.1,700.1 426.3,700.8 427.1,701.9 427.6,703.5 427.6,705.1 427.1,706.7 426.3,707.8 425.1,708.5 Z M468.1,737.5 465.8,737.7 463.5,737.4 461.5,736.7 455.8,734.0 448.1,732.4 446.8,731.8 445.5,730.8 444.8,729.8 444.8,728.8 445.8,727.5 447.6,726.5 449.7,725.8 454.5,724.8 456.8,723.8 458.1,722.9 459.2,721.8 462.1,717.8 462.8,717.5 463.8,717.7 469.8,721.4 471.6,722.8 473.5,725.0 474.4,727.5 474.6,729.1 474.5,730.8 474.0,732.5 473.3,733.8 472.3,735.1 471.1,736.1 469.8,736.9 468.1,737.5 Z M425.1,706.2 424.5,706.4 423.8,706.3 423.1,705.8 422.8,705.1 422.6,704.1 422.8,703.5 423.1,702.8 423.8,702.3 424.5,702.2 425.1,702.4 425.8,703.5 426.0,704.1 425.8,705.1 425.1,706.2 Z M466.1,736.5 464.5,736.3 462.8,735.9 456.1,732.6 449.8,730.9 448.5,730.0 448.2,729.5 448.3,728.8 448.9,728.1 450.1,727.5 454.8,726.4 456.8,725.5 458.5,724.4 461.8,721.6 462.8,720.9 464.5,720.7 467.1,721.5 469.8,722.9 471.8,724.8 473.0,727.1 473.3,728.5 473.4,729.8 473.1,731.1 472.6,732.5 471.1,734.5 470.1,735.3 468.8,736.0 467.5,736.3 466.1,736.5 Z M466.5,735.2 464.1,735.0 461.5,733.9 457.4,731.1 456.4,730.1 456.0,729.5 456.3,728.5 458.0,726.8 461.8,723.7 463.8,722.8 465.1,722.6 466.5,722.9 467.8,723.3 469.1,724.1 470.9,725.8 471.5,726.8 471.9,728.1 471.9,730.5 471.5,731.8 470.9,732.8 469.9,733.8 468.9,734.5 467.8,734.9 466.5,735.2 Z M467.5,733.5 465.5,733.7 463.5,733.3 461.5,732.1 459.9,730.5 459.6,729.1 460.0,727.8 461.1,726.4 462.8,725.1 464.8,724.4 466.8,724.6 468.8,725.7 470.0,727.1 470.5,728.8 470.3,730.8 469.2,732.5 467.5,733.5 Z M466.1,732.1 464.8,732.1 463.5,731.5 462.7,730.8 462.1,729.8 462.0,728.8 462.4,727.8 463.4,726.8 464.5,726.3 465.8,726.2 467.1,726.6 468.1,727.4 468.7,728.5 468.8,729.8 468.4,730.8 467.5,731.7 466.1,732.1 Z" fill="none" stroke="#7a7a7a" stroke-width="0.6" stroke-linejoin="round"/>
<path d="M445.0,734.1h0.7M473.0,713.8h0.7M429.6,706.5h0.7M452.3,727.4h0.7M466.3,701.2h0.7M460.4,717.4h0.7M416.7,699.1h0.7M479.9,724.8h0.7M458.1,721.4h0.7M469.6,717.5h0.7M453.9,732.5h0.7M431.5,721.9h0.7M457.9,732.6h0.7M432.7,728.1h0.7M422.0,723.2h0.7M458.9,716.9h0.7M439.4,723.2h0.7M465.5,737.8h0.7M434.2,739.4h0.7M421.0,731.2h0.7M462.4,729.3h0.7M439.8,729.6h0.7M447.5,731.7h0.7M473.6,730.6h0.7M425.9,706.6h0.7M430.1,702.5h0.7M440.6,733.5h0.7M458.5,738.1h0.7M467.5,712.4h0.7M481.0,752.3h0.7" stroke="#9a9a9a" stroke-width="0.7" fill="none"/>
<rect x="405.5" y="681.4" width="30.0" height="36.200000000000045" fill="none" stroke="#333" stroke-width="0.8"/>
<rect x="487.9" y="669.3" width="84.9" height="84.4" fill="none" stroke="#8a8a8a" stroke-width="0.8"/>
<path d="M486.7,672.7h1.2M486.7,675.2h1.2M486.7,677.7h1.2M486.7,682.8h1.2M485.9,691.2h2.0M486.7,694.6h1.2M486.7,698.0h1.2M486.7,701.4h1.2M486.7,704.7h1.2M485.9,711.5h2.0M486.7,716.6h1.2M486.7,719.9h1.2M486.7,723.3h1.2M486.7,726.7h1.2M485.9,735.1h2.0M486.7,741.0h1.2M486.7,747.8h1.2M485.9,751.2h2.0M492.1,753.7v2.0M496.4,753.7v1.2M498.1,753.7v1.2M504.9,753.7v1.2M509.1,753.7v1.2M513.4,753.7v1.2M518.5,753.7v1.2M523.6,753.7v2.0M530.4,753.7v1.2M534.6,753.7v1.2M538.8,753.7v1.2M545.6,753.7v1.2M549.0,753.7v2.0M552.4,753.7v1.2M555.8,753.7v1.2M561.8,753.7v1.2M564.3,753.7v1.2M568.6,753.7v2.0" stroke="#666" stroke-width="0.6" fill="none"/>
<rect x="485.7" y="733.866" width="1.8" height="2" fill="#111"/>
<rect x="506.578" y="753.9999999999999" width="3" height="1.8" fill="#111"/>
<path d="M512.1,723.5 510.1,723.8 508.1,723.5 506.1,722.7 504.1,721.2 502.6,719.5 501.3,717.1 500.5,714.8 500.0,712.1 499.9,709.5 500.2,706.8 501.0,704.1 502.1,701.8 503.7,699.8 505.4,698.3 507.1,697.4 509.1,696.9 511.1,696.9 512.7,697.3 514.4,698.2 516.1,699.5 517.4,701.1 518.6,703.1 519.5,705.8 520.0,708.1 520.1,710.8 519.8,713.5 519.2,715.8 518.2,718.1 516.9,720.1 515.4,721.7 513.7,722.8 512.1,723.5 Z M511.4,721.8 509.4,722.0 507.7,721.6 506.1,720.7 504.7,719.6 503.3,717.8 502.3,715.8 501.6,713.8 501.3,711.5 501.3,709.1 501.6,706.8 502.3,704.8 503.3,702.8 504.6,701.1 506.1,699.9 507.7,699.0 509.4,698.6 511.1,698.7 512.7,699.2 514.1,699.9 515.4,701.1 516.5,702.5 517.6,704.5 518.3,706.5 518.7,708.8 518.8,710.8 518.5,713.1 517.9,715.5 516.9,717.5 515.7,719.1 514.4,720.4 513.1,721.3 511.4,721.8 Z M511.1,720.5 509.7,720.6 508.1,720.3 506.4,719.4 505.1,718.2 504.0,716.8 503.2,715.1 502.6,713.1 502.3,711.1 502.3,709.1 502.7,707.1 503.3,705.1 504.2,703.5 505.4,702.0 506.7,701.0 508.1,700.3 509.7,700.0 511.4,700.2 512.7,700.7 514.1,701.6 515.1,702.5 516.2,704.1 516.9,705.8 517.5,707.8 517.7,709.5 517.7,711.5 517.3,713.5 516.8,715.1 516.0,716.8 515.0,718.1 513.7,719.3 512.4,720.1 511.1,720.5 Z M511.4,719.2 510.1,719.4 508.7,719.2 507.4,718.7 506.1,717.7 505.1,716.5 504.3,715.1 503.6,713.5 503.3,711.5 503.2,709.5 503.5,707.8 504.0,706.1 504.7,704.6 505.7,703.2 506.7,702.4 508.1,701.6 509.4,701.3 510.7,701.3 512.1,701.7 513.1,702.2 514.2,703.1 515.2,704.5 515.9,705.8 516.7,708.8 516.7,712.1 516.3,713.8 515.6,715.5 514.7,716.8 513.7,717.9 512.7,718.6 511.4,719.2 Z M510.7,718.1 509.4,718.2 508.4,717.9 507.4,717.4 506.3,716.5 505.5,715.5 504.8,714.1 504.4,712.8 504.1,711.1 504.1,709.5 504.4,707.8 505.5,705.1 506.4,704.0 507.4,703.2 508.4,702.7 509.7,702.4 511.7,702.7 512.7,703.3 513.7,704.2 515.2,706.5 515.6,707.8 515.9,709.5 515.7,712.5 514.7,715.1 514.0,716.1 513.0,717.1 511.9,717.8 510.7,718.1 Z M511.4,716.8 510.4,717.0 509.4,717.0 508.4,716.7 507.4,716.1 506.5,715.1 505.8,714.1 505.3,712.8 505.0,711.5 505.1,708.8 505.4,707.5 506.0,706.1 507.4,704.5 508.4,703.9 509.4,703.6 510.4,703.6 511.4,703.8 512.9,704.8 514.2,706.5 514.9,708.8 515.0,711.5 514.3,713.8 513.1,715.7 511.4,716.8 Z M510.4,715.8 508.7,715.6 507.4,714.7 506.3,712.8 505.8,710.8 506.0,708.8 506.7,706.8 508.1,705.4 509.7,704.7 511.4,705.0 512.7,706.1 513.7,707.8 514.2,709.8 514.0,711.8 513.3,713.8 512.1,715.1 510.4,715.8 Z M510.4,714.5 509.1,714.3 508.1,713.7 507.3,712.5 506.8,710.8 506.9,709.1 507.4,707.8 508.4,706.6 509.7,706.1 511.1,706.3 512.1,707.1 512.7,708.1 513.2,709.8 513.1,711.5 512.6,712.8 511.7,713.8 510.4,714.5 Z M510.7,712.9 509.7,713.0 509.1,712.8 508.4,712.0 508.0,711.1 508.0,709.8 508.3,708.8 508.7,708.1 509.7,707.6 510.4,707.6 511.3,708.1 511.7,708.8 512.0,709.8 512.0,710.8 511.7,711.8 510.7,712.9 Z" fill="none" stroke="#7a7a7a" stroke-width="0.6" stroke-linejoin="round"/>
<path d="M505.5,711.1h0.7M507.7,699.7h0.7M522.8,706.9h0.7M507.8,713.2h0.7M523.4,708.5h0.7M520.9,713.1h0.7M505.1,700.4h0.7M499.1,704.3h0.7M520.4,713.4h0.7M515.1,729.0h0.7M503.6,714.1h0.7M501.8,704.2h0.7M516.2,696.0h0.7M513.7,730.1h0.7M507.5,706.5h0.7M501.5,705.0h0.7M514.5,715.2h0.7M524.4,703.6h0.7M517.2,706.9h0.7M498.9,709.1h0.7M498.6,703.5h0.7M517.0,702.0h0.7M508.4,706.7h0.7M523.4,712.0h0.7M527.3,713.1h0.7M513.0,692.8h0.7M513.0,698.4h0.7M493.0,727.7h0.7M514.9,723.4h0.7M505.3,705.0h0.7" stroke="#9a9a9a" stroke-width="0.7" fill="none"/>
<rect x="495.5" y="681.4" width="29.600000000000023" height="36.200000000000045" fill="none" stroke="#333" stroke-width="0.8"/>
<line x1="435.5" y1="681.4" x2="435.5" y2="717.6" stroke="#000" stroke-width="1.3" />
<text x="437.3" y="693.6" font-size="10.8" fill="#000" color="#000"><tspan>14.5</tspan></text>
<text x="528.6" y="693.6" font-size="10.8" fill="#000" color="#000"><tspan>83.8</tspan></text>
<text x="4.7" y="644.9" font-size="17.2" fill="#000" color="#000" font-weight="bold"><tspan>K</tspan></text>
<text x="44.8" y="644" font-size="11.6" fill="#000" color="#000" textLength="179.4" lengthAdjust="spacing"><tspan>On singlet/live/B220</tspan><tspan dy="-3.94" font-size="7.89" font-style="normal">+</tspan><tspan dy="3.94">CD138</tspan><tspan dy="-3.94" font-size="7.89" font-style="normal">-</tspan><tspan dy="3.94">/IgD</tspan><tspan dy="-3.94" font-size="7.89" font-style="normal">-</tspan></text>
<line x1="54.3" y1="649.3" x2="216.5" y2="649.3" stroke="#000" stroke-width="1.6" />
<text x="82.3" y="663.3" font-size="11" fill="#ff0000" color="#ff0000" font-style="italic"><tspan font-style="italic">Cfp1</tspan><tspan dy="-3.74" font-size="7.48" font-style="normal">fl/fl</tspan></text>
<text x="143.7" y="663.3" font-size="11" fill="#0505e6" color="#0505e6" font-style="italic"><tspan font-style="italic">Cfp1</tspan><tspan dy="-3.74" font-size="7.48" font-style="normal">fl/fl</tspan><tspan dy="3.74"> </tspan><tspan font-style="italic">Aicda</tspan><tspan dy="-3.74" font-size="7.48" font-style="normal">Cre</tspan></text>
<text transform="translate(37,722.9) rotate(-90)" font-size="12.5" fill="#000" color="#000" text-anchor="middle"><tspan>IgG1</tspan></text>
<text x="141.9" y="773.7" font-size="12.5" fill="#000" color="#000" text-anchor="middle"><tspan>NP</tspan></text>
<line x1="43.8" y1="678.0" x2="43.8" y2="762.5" stroke="#000" stroke-width="1.5" />
<line x1="43.05" y1="762.5" x2="219.5" y2="762.5" stroke="#000" stroke-width="1.5" />
<polygon points="43.8,671.5 40.199999999999996,678.5 47.4,678.5" fill="#000"/>
<polygon points="226,762.5 219,758.9 219,766.1" fill="#000"/>
<defs><filter id="soft" x="-50%" y="-50%" width="200%" height="200%"><feGaussianBlur stdDeviation="0.7"/></filter></defs>
<rect x="51.6" y="669.6" width="84.6" height="84.8" fill="none" stroke="#8a8a8a" stroke-width="0.8"/>
<path d="M50.4,673.0h1.2M50.4,675.5h1.2M50.4,678.1h1.2M50.4,683.2h1.2M49.6,691.6h2.0M50.4,695.0h1.2M50.4,698.4h1.2M50.4,701.8h1.2M50.4,705.2h1.2M49.6,712.0h2.0M50.4,717.1h1.2M50.4,720.5h1.2M50.4,723.9h1.2M50.4,727.3h1.2M49.6,735.7h2.0M50.4,741.7h1.2M50.4,748.5h1.2M49.6,751.9h2.0M55.8,754.4v2.0M60.1,754.4v1.2M61.8,754.4v1.2M68.5,754.4v1.2M72.8,754.4v1.2M77.0,754.4v1.2M82.1,754.4v1.2M87.1,754.4v2.0M93.9,754.4v1.2M98.1,754.4v1.2M102.4,754.4v1.2M109.1,754.4v1.2M112.5,754.4v2.0M115.9,754.4v1.2M119.3,754.4v1.2M125.2,754.4v1.2M127.7,754.4v1.2M132.0,754.4v2.0" stroke="#666" stroke-width="0.6" fill="none"/>
<rect x="49.4" y="734.472" width="1.8" height="2" fill="#111"/>
<rect x="70.212" y="754.6999999999999" width="3" height="1.8" fill="#111"/>
<path d="M86.9,712.8h1.0M80.4,707.6h1.0M97.1,733.3h1.0M76.6,745.3h1.0M83.5,718.7h1.0M82.8,727.7h1.0M65.1,689.3h1.0M94.0,689.6h1.0M96.8,697.6h1.0M89.4,698.1h1.0M90.6,716.2h1.0M105.2,680.9h1.0M95.5,702.3h1.0M69.6,745.8h1.0M91.6,701.1h1.0M83.0,709.0h1.0M96.6,696.1h1.0M93.6,696.3h1.0M81.7,690.6h1.0M89.0,718.1h1.0M81.3,706.8h1.0M95.8,687.3h1.0M91.9,721.7h1.0M104.9,679.3h1.0M82.0,688.2h1.0M81.3,690.7h1.0M74.8,681.8h1.0M70.0,678.9h1.0M88.1,726.0h1.0M86.1,718.1h1.0M66.7,679.1h1.0M93.5,719.1h1.0M79.6,704.9h1.0M82.5,695.4h1.0M82.5,709.7h1.0M97.3,684.7h1.0M92.9,737.2h1.0M104.9,688.9h1.0M93.9,698.9h1.0M100.0,691.7h1.0M67.4,711.3h1.0M89.9,723.3h1.0M89.8,697.0h1.0M64.1,739.6h1.0M84.4,721.6h1.0M81.2,732.8h1.0M84.6,711.0h1.0M61.7,741.5h1.0M62.2,707.1h1.0M89.5,719.3h1.0M63.3,716.3h1.0M92.5,721.7h1.0M65.3,745.2h1.0M66.4,703.0h1.0M93.6,686.7h1.0M65.7,706.7h1.0M91.0,698.7h1.0M86.0,686.1h1.0M77.0,742.4h1.0M61.4,728.2h1.0M83.4,713.7h1.0M72.8,678.9h1.0M95.0,699.1h1.0M88.0,683.6h1.0M94.6,678.9h1.0M84.3,719.7h1.0M62.6,700.8h1.0M94.9,720.8h1.0M84.4,701.6h1.0M89.9,725.2h1.0M83.5,689.2h1.0M87.0,684.7h1.0M99.7,694.1h1.0M89.3,698.6h1.0M90.1,682.4h1.0M90.5,716.5h1.0M99.8,689.6h1.0M107.6,692.4h1.0M66.2,741.1h1.0M64.1,743.6h1.0M82.4,695.8h1.0M83.4,724.7h1.0M75.0,744.6h1.0M81.2,689.4h1.0M78.5,688.4h1.0M77.0,744.5h1.0M82.1,706.4h1.0M62.3,735.7h1.0M88.2,720.7h1.0M62.7,683.0h1.0M97.4,704.8h1.0M87.3,695.8h1.0M78.9,689.9h1.0M100.4,687.5h1.0M93.9,681.7h1.0M94.3,687.1h1.0M82.1,685.4h1.0M82.0,711.7h1.0M89.0,682.9h1.0M92.6,714.4h1.0M64.3,704.9h1.0M83.9,714.5h1.0M93.3,685.4h1.0M103.0,688.2h1.0M97.7,697.1h1.0M81.8,712.0h1.0M99.2,694.9h1.0M83.7,721.2h1.0M96.6,692.1h1.0M60.3,703.6h1.0M97.5,714.7h1.0M88.7,685.6h1.0M66.1,681.5h1.0M95.4,718.8h1.0M65.1,688.6h1.0M83.6,688.7h1.0M88.2,721.9h1.0M66.8,682.9h1.0M80.8,692.4h1.0M98.7,686.7h1.0M63.7,691.5h1.0M81.8,690.8h1.0M81.2,735.0h1.0M94.0,689.9h1.0M98.3,695.7h1.0M79.9,684.2h1.0M89.2,712.8h1.0M93.6,721.2h1.0M76.3,684.6h1.0M66.0,677.3h1.0M86.2,719.9h1.0M66.4,703.9h1.0M105.1,719.7h1.0M87.8,684.1h1.0M62.6,695.6h1.0M92.3,698.4h1.0M82.4,713.9h1.0M87.3,687.8h1.0M89.7,686.3h1.0M76.3,742.2h1.0M90.6,681.4h1.0M79.9,684.8h1.0M89.8,699.6h1.0M65.7,709.0h1.0M71.5,676.8h1.0M65.4,689.6h1.0M81.1,701.1h1.0M76.9,684.6h1.0M82.8,728.1h1.0M89.8,700.0h1.0M95.5,681.3h1.0M66.0,701.5h1.0M81.2,691.7h1.0M102.6,686.9h1.0M83.4,696.4h1.0M72.1,677.4h1.0M82.5,699.7h1.0M76.9,682.3h1.0M75.8,683.0h1.0M97.0,723.2h1.0M79.1,690.1h1.0M96.5,688.7h1.0M97.1,727.9h1.0M64.1,700.3h1.0M105.3,681.5h1.0M74.1,672.5h1.0M82.6,698.4h1.0M100.3,688.8h1.0M93.5,699.6h1.0M86.2,703.0h1.0M87.1,685.3h1.0M84.4,700.5h1.0M82.0,708.8h1.0M77.6,686.6h1.0M90.5,697.3h1.0M86.6,707.2h1.0M65.2,711.2h1.0M86.9,697.2h1.0M103.4,719.7h1.0M90.0,724.2h1.0M98.8,683.0h1.0M80.8,702.8h1.0M90.7,721.5h1.0M80.6,701.1h1.0M83.7,727.4h1.0M100.7,722.6h1.0M93.5,676.6h1.0M93.8,713.4h1.0M88.1,687.8h1.0M82.9,715.3h1.0M83.0,689.4h1.0M75.7,741.9h1.0M64.3,691.6h1.0M82.8,720.6h1.0M102.3,729.5h1.0M92.6,719.1h1.0M91.5,685.2h1.0M89.5,680.4h1.0M78.8,741.1h1.0M86.8,717.9h1.0M66.4,703.6h1.0M69.4,747.1h1.0M85.5,727.3h1.0M86.5,722.1h1.0M81.8,699.0h1.0M81.1,688.5h1.0M94.5,688.8h1.0M92.1,680.5h1.0M86.8,716.1h1.0M85.7,688.5h1.0M77.3,742.8h1.0M80.2,699.3h1.0M95.6,682.9h1.0M77.1,681.4h1.0M90.3,684.3h1.0M63.2,717.5h1.0M62.7,721.6h1.0M74.1,743.8h1.0M92.5,717.3h1.0M95.6,727.6h1.0M96.1,722.0h1.0M85.8,697.0h1.0M94.7,683.2h1.0M104.8,680.6h1.0M84.3,727.3h1.0M101.8,684.9h1.0M78.0,688.4h1.0M89.4,695.7h1.0M83.3,708.7h1.0M93.2,692.3h1.0M64.8,693.5h1.0M85.6,730.3h1.0M84.7,680.8h1.0M95.3,690.6h1.0M86.5,687.0h1.0M87.5,717.2h1.0M83.4,735.3h1.0M93.8,692.2h1.0M65.6,704.0h1.0M93.5,687.9h1.0M82.4,706.7h1.0M82.7,702.5h1.0M85.6,685.8h1.0M87.6,685.2h1.0M64.9,716.3h1.0M83.1,670.6h1.0M58.1,734.9h1.0M109.1,727.8h1.0M85.7,730.1h1.0M94.6,692.2h1.0M77.4,684.4h1.0M88.2,710.5h1.0M66.5,742.1h1.0M91.4,697.1h1.0M68.4,743.7h1.0M81.1,709.0h1.0M94.9,690.7h1.0M64.1,742.0h1.0M80.0,684.8h1.0M92.8,686.8h1.0M77.3,683.8h1.0M83.6,695.4h1.0M81.0,707.8h1.0M82.5,709.5h1.0M82.8,689.0h1.0M98.7,725.1h1.0M93.5,677.0h1.0M65.2,707.1h1.0M88.1,721.7h1.0M74.7,681.3h1.0M86.6,727.6h1.0M100.3,685.4h1.0M87.0,727.3h1.0M83.5,720.3h1.0M65.3,687.7h1.0M99.0,687.6h1.0M89.8,737.2h1.0M81.5,696.4h1.0M103.2,693.8h1.0M94.8,694.6h1.0M70.7,678.6h1.0M66.4,708.7h1.0M71.0,675.5h1.0M88.4,685.8h1.0M82.9,722.5h1.0M63.4,738.3h1.0M63.2,718.7h1.0M78.4,683.8h1.0M85.3,716.2h1.0M98.4,689.1h1.0M74.1,743.5h1.0M88.0,721.7h1.0M94.9,726.0h1.0M96.3,686.1h1.0M69.0,680.3h1.0M82.4,696.6h1.0M91.1,678.1h1.0M62.6,735.5h1.0M93.1,682.8h1.0M82.8,685.0h1.0M67.1,682.0h1.0M87.8,731.9h1.0M89.0,712.9h1.0M96.5,714.7h1.0M73.0,680.3h1.0M89.8,701.5h1.0M65.2,702.0h1.0M102.0,694.2h1.0M83.9,696.7h1.0M90.3,702.0h1.0M93.0,686.5h1.0M84.0,682.9h1.0M88.6,716.2h1.0M59.0,729.2h1.0M85.2,725.4h1.0M61.1,724.7h1.0M89.5,723.1h1.0M76.3,684.8h1.0M104.4,680.5h1.0M94.0,691.0h1.0M77.8,685.6h1.0M88.6,728.0h1.0M86.8,719.4h1.0M63.8,711.1h1.0M66.9,708.8h1.0M87.7,722.9h1.0M61.7,718.4h1.0M94.6,722.3h1.0M92.0,683.8h1.0M81.7,699.3h1.0M87.2,697.8h1.0M93.1,693.7h1.0M93.6,696.2h1.0M60.5,735.4h1.0M60.4,726.2h1.0M96.4,687.6h1.0M98.7,693.6h1.0M79.0,741.7h1.0M66.0,705.4h1.0M87.8,696.2h1.0M84.3,725.0h1.0M98.1,720.2h1.0M81.8,693.4h1.0M94.5,720.5h1.0M86.1,682.8h1.0M65.1,741.2h1.0M64.9,695.7h1.0M98.3,709.6h1.0M61.9,730.4h1.0M78.5,739.3h1.0M65.0,705.6h1.0M83.2,702.4h1.0M83.7,686.5h1.0M84.4,715.4h1.0M83.4,688.7h1.0M83.4,721.0h1.0M91.3,725.6h1.0M88.9,720.7h1.0M78.9,684.7h1.0M91.6,687.5h1.0M84.8,708.6h1.0M64.5,688.8h1.0M70.4,743.6h1.0M63.0,700.3h1.0M87.4,715.3h1.0M90.2,712.6h1.0M73.2,743.2h1.0M91.4,727.7h1.0M78.2,687.9h1.0M72.5,678.6h1.0M82.9,717.7h1.0M105.6,681.9h1.0M66.3,715.7h1.0M87.0,731.7h1.0M96.7,689.8h1.0M79.7,688.4h1.0M79.3,690.3h1.0M63.4,721.1h1.0M101.2,683.9h1.0M62.5,742.0h1.0M62.0,720.0h1.0M62.1,726.7h1.0M95.6,695.6h1.0M101.4,694.3h1.0M81.9,693.6h1.0M89.4,717.9h1.0M84.0,726.4h1.0M81.1,689.5h1.0M88.3,700.6h1.0M91.0,683.9h1.0M80.2,683.3h1.0M84.5,712.7h1.0M93.3,694.3h1.0M64.7,695.7h1.0M98.8,720.1h1.0M57.4,687.8h1.0M83.3,719.9h1.0M84.2,697.2h1.0M82.4,697.6h1.0M70.4,672.3h1.0M81.3,699.0h1.0M81.0,709.2h1.0M85.8,717.9h1.0M64.9,685.5h1.0M89.8,696.0h1.0M63.2,684.3h1.0M80.7,695.6h1.0M98.1,680.9h1.0M80.8,693.3h1.0M78.6,739.8h1.0M89.7,714.8h1.0M96.9,690.0h1.0M69.0,742.8h1.0M95.3,731.1h1.0M97.5,676.9h1.0M87.0,718.6h1.0M65.9,706.1h1.0M89.9,683.9h1.0M86.6,696.9h1.0M80.1,688.8h1.0M98.7,694.4h1.0M81.8,702.4h1.0M80.8,735.6h1.0M65.3,683.7h1.0M87.6,730.4h1.0M91.2,681.0h1.0M98.3,691.6h1.0M86.7,717.2h1.0M86.7,719.5h1.0M62.6,737.9h1.0M80.8,692.9h1.0M87.5,720.7h1.0M82.5,712.3h1.0M81.7,692.5h1.0M90.4,697.4h1.0M101.5,688.6h1.0M87.8,687.3h1.0M82.8,721.3h1.0M74.1,681.5h1.0M104.4,695.3h1.0M78.4,686.0h1.0M65.8,697.1h1.0M84.1,715.8h1.0M75.1,681.8h1.0M81.0,701.8h1.0M62.7,720.8h1.0M88.0,715.5h1.0M66.6,713.8h1.0M66.0,706.6h1.0M86.8,696.2h1.0M92.4,686.8h1.0M58.4,722.5h1.0M98.8,677.8h1.0M99.2,719.7h1.0M76.9,682.6h1.0M65.8,700.9h1.0M84.6,687.2h1.0M99.8,691.4h1.0M61.9,729.8h1.0M82.2,734.3h1.0M92.7,686.2h1.0M63.8,738.0h1.0M95.5,720.1h1.0M81.7,706.4h1.0M98.3,693.4h1.0M78.5,685.7h1.0M98.4,700.7h1.0M64.0,685.7h1.0M63.5,706.0h1.0M83.7,717.1h1.0M85.4,716.1h1.0M60.4,692.6h1.0M81.4,680.7h1.0M93.2,727.2h1.0M94.5,730.1h1.0M65.6,691.7h1.0M86.4,728.4h1.0M104.5,728.9h1.0M84.6,722.0h1.0M89.1,719.0h1.0M61.5,703.8h1.0M88.7,716.4h1.0M82.2,740.8h1.0M82.7,714.5h1.0M101.4,730.4h1.0M77.4,741.3h1.0M100.5,685.5h1.0M90.7,680.9h1.0M83.5,696.3h1.0M79.4,687.7h1.0M88.2,696.2h1.0M66.4,706.9h1.0M100.7,692.2h1.0M81.1,685.2h1.0M98.4,692.7h1.0M87.3,718.1h1.0M92.8,718.5h1.0M88.8,710.7h1.0M61.4,686.8h1.0M96.8,695.6h1.0M61.7,733.9h1.0M94.2,721.4h1.0M84.7,728.5h1.0M57.2,687.0h1.0M90.3,680.0h1.0M84.6,727.3h1.0M72.7,673.0h1.0M64.6,701.5h1.0M65.0,699.3h1.0M65.6,712.3h1.0M87.5,724.7h1.0M90.5,686.1h1.0M65.7,695.1h1.0M65.8,682.7h1.0M98.6,690.7h1.0M98.2,684.8h1.0M63.6,711.3h1.0M63.0,683.7h1.0M97.3,694.6h1.0M65.6,702.5h1.0M92.7,723.1h1.0M97.2,726.5h1.0M58.7,733.5h1.0M87.0,726.8h1.0M72.3,677.6h1.0M88.7,716.3h1.0M104.9,681.8h1.0M82.0,691.3h1.0M86.5,695.9h1.0M81.7,700.1h1.0M94.5,698.0h1.0M81.7,689.1h1.0M89.3,726.2h1.0M80.2,698.7h1.0M94.6,692.8h1.0M90.5,728.3h1.0M89.8,697.0h1.0M62.2,733.5h1.0M66.5,712.0h1.0M106.0,686.3h1.0M79.7,698.2h1.0M103.7,695.6h1.0M84.8,688.3h1.0M96.4,695.9h1.0M82.6,690.7h1.0M97.7,684.9h1.0M92.5,681.2h1.0M94.6,690.2h1.0M81.7,705.8h1.0M86.5,681.4h1.0M95.9,695.6h1.0M99.3,691.4h1.0M91.7,680.0h1.0M98.5,698.0h1.0M89.3,720.5h1.0M87.5,699.6h1.0M92.1,724.0h1.0M85.3,697.3h1.0M88.6,718.4h1.0M106.2,685.6h1.0M89.3,718.9h1.0M81.8,681.4h1.0M77.8,688.2h1.0M80.5,707.8h1.0M80.9,709.5h1.0M91.8,682.8h1.0M88.1,721.8h1.0M94.5,722.6h1.0M80.0,739.7h1.0M63.4,695.8h1.0M85.3,704.5h1.0M82.7,736.5h1.0M89.6,720.1h1.0M81.6,742.7h1.0M82.0,687.5h1.0M102.3,714.9h1.0M64.9,681.3h1.0M65.6,704.1h1.0M64.7,707.7h1.0M93.9,685.6h1.0M63.0,716.1h1.0M95.8,725.9h1.0M83.3,712.1h1.0M81.4,698.2h1.0M104.1,686.5h1.0M94.5,734.1h1.0M90.7,724.0h1.0M67.1,712.0h1.0M103.3,695.8h1.0M96.7,690.1h1.0M91.4,687.1h1.0M84.1,698.5h1.0M82.0,731.9h1.0M98.9,696.5h1.0M90.0,697.5h1.0M69.9,680.1h1.0M93.5,700.4h1.0M85.7,726.4h1.0M84.0,721.6h1.0M105.0,685.5h1.0M94.1,690.9h1.0M87.6,701.8h1.0M82.9,694.6h1.0M100.7,688.1h1.0M97.4,676.4h1.0M63.3,739.7h1.0M99.7,685.7h1.0M100.5,698.2h1.0M102.4,735.8h1.0M86.2,687.2h1.0M109.2,696.8h1.0M99.5,682.5h1.0M85.3,715.6h1.0M64.2,694.8h1.0M95.5,693.6h1.0M90.9,698.0h1.0M86.1,696.7h1.0M90.6,696.9h1.0M105.4,688.5h1.0M82.8,720.4h1.0M78.6,740.3h1.0M86.3,716.5h1.0M94.2,696.1h1.0M64.7,716.4h1.0M80.1,685.2h1.0M82.9,697.6h1.0M84.0,697.3h1.0M98.1,690.4h1.0M61.8,683.2h1.0M88.8,721.3h1.0M63.5,743.2h1.0M76.5,742.0h1.0M86.0,698.6h1.0M65.6,684.4h1.0M60.2,696.1h1.0M83.7,713.5h1.0M69.6,745.4h1.0M58.8,684.3h1.0M88.3,711.3h1.0M109.5,724.2h1.0M63.4,739.8h1.0M83.3,724.4h1.0M99.7,699.1h1.0M97.1,702.9h1.0M92.2,734.6h1.0M65.5,694.7h1.0M80.9,687.8h1.0M64.8,701.1h1.0M89.9,724.6h1.0M75.9,681.4h1.0M66.0,693.0h1.0M95.9,689.4h1.0M93.1,686.7h1.0M95.7,714.8h1.0M92.8,694.1h1.0M79.4,689.4h1.0M95.9,695.5h1.0M100.7,688.3h1.0M64.9,683.9h1.0M86.9,728.6h1.0M97.0,726.8h1.0M85.1,720.5h1.0M97.8,690.4h1.0M81.3,707.4h1.0M78.0,741.0h1.0M102.1,720.7h1.0M63.5,679.6h1.0M63.8,718.7h1.0M83.2,730.7h1.0M85.6,685.9h1.0M98.5,690.5h1.0M68.7,744.2h1.0M83.5,725.1h1.0M67.4,681.8h1.0M84.2,711.1h1.0M82.3,691.0h1.0M88.5,711.4h1.0M81.0,689.3h1.0M83.6,695.0h1.0M84.9,729.9h1.0M83.8,721.4h1.0M61.0,723.1h1.0M78.4,689.3h1.0M85.6,700.3h1.0M98.5,738.0h1.0M81.0,693.6h1.0M94.3,687.7h1.0M100.1,680.4h1.0M84.6,697.3h1.0M87.0,700.2h1.0M86.1,720.4h1.0M64.2,715.9h1.0M88.2,724.8h1.0M77.4,680.2h1.0M94.1,710.0h1.0M94.0,723.6h1.0M92.3,729.6h1.0M96.9,723.5h1.0M100.1,689.0h1.0M83.0,727.5h1.0M76.1,680.0h1.0M71.8,743.6h1.0M94.9,712.2h1.0M95.9,691.5h1.0M81.7,738.9h1.0M65.0,739.3h1.0M81.8,691.0h1.0M64.6,739.5h1.0M80.0,689.7h1.0M88.2,724.4h1.0M65.0,686.1h1.0M86.9,685.2h1.0M80.9,707.9h1.0M83.4,719.6h1.0M63.7,717.0h1.0M66.2,747.0h1.0M84.4,720.4h1.0M94.9,685.3h1.0M100.8,732.9h1.0M80.1,701.0h1.0M78.6,741.2h1.0M83.0,734.7h1.0M89.5,719.0h1.0M93.6,679.0h1.0M83.0,718.6h1.0M93.9,686.7h1.0M96.2,718.5h1.0M91.4,677.1h1.0M64.7,702.3h1.0M91.2,684.5h1.0M95.6,713.6h1.0M95.1,712.3h1.0M65.4,686.7h1.0M72.0,680.4h1.0M65.8,743.9h1.0M95.8,694.0h1.0M80.6,696.4h1.0M68.6,680.0h1.0M80.9,687.1h1.0M65.8,689.9h1.0M76.0,745.0h1.0M81.9,712.0h1.0M95.9,726.9h1.0M96.2,702.1h1.0M91.9,698.2h1.0M84.7,680.7h1.0M107.4,731.5h1.0M75.8,680.0h1.0M82.1,685.4h1.0M80.8,697.7h1.0M95.5,696.5h1.0M90.5,683.8h1.0M95.0,724.5h1.0M92.6,715.2h1.0M94.6,722.4h1.0M83.3,713.1h1.0M92.5,682.4h1.0M85.2,688.9h1.0M75.0,743.5h1.0M69.0,742.6h1.0M84.3,727.1h1.0M94.7,695.6h1.0M104.9,695.8h1.0M62.1,734.4h1.0M84.9,734.9h1.0M63.8,738.8h1.0M103.4,692.9h1.0M85.7,703.4h1.0M73.0,744.8h1.0M98.7,687.3h1.0M89.5,697.2h1.0M63.0,694.7h1.0M78.3,679.3h1.0M99.6,722.6h1.0M85.4,710.6h1.0M90.7,717.3h1.0M82.3,713.7h1.0M62.6,694.0h1.0M94.0,682.9h1.0M80.0,689.9h1.0M65.9,693.0h1.0M65.8,679.4h1.0M66.0,692.6h1.0M93.8,683.1h1.0M89.7,680.1h1.0M59.3,682.5h1.0M61.8,718.7h1.0M66.4,681.1h1.0M83.2,711.5h1.0M104.3,728.9h1.0M65.6,684.5h1.0M63.8,740.4h1.0M65.5,679.9h1.0M99.2,690.5h1.0M88.3,697.6h1.0M70.4,743.4h1.0M67.7,678.1h1.0M92.5,687.2h1.0M96.1,687.7h1.0M87.2,681.8h1.0M61.9,719.7h1.0M84.2,689.5h1.0M81.0,736.6h1.0M81.4,691.3h1.0M94.8,691.8h1.0M97.2,684.8h1.0M81.3,685.9h1.0M65.3,692.0h1.0M63.9,712.6h1.0M80.6,700.3h1.0M87.2,695.9h1.0M100.3,687.9h1.0M65.0,684.9h1.0M66.8,682.8h1.0M94.2,680.9h1.0M85.3,709.8h1.0M82.8,690.1h1.0M100.9,698.6h1.0M76.7,683.8h1.0M86.7,725.9h1.0M94.9,687.9h1.0M82.7,696.8h1.0M65.3,685.8h1.0M98.9,728.0h1.0M82.8,720.8h1.0M83.3,725.4h1.0M91.7,699.7h1.0M69.7,747.0h1.0M81.3,688.9h1.0M65.5,706.3h1.0M62.1,729.7h1.0M80.8,692.0h1.0M98.8,724.7h1.0M111.1,682.2h1.0M91.6,732.5h1.0M74.7,680.8h1.0M89.1,686.0h1.0M103.3,732.1h1.0M110.2,683.0h1.0M94.3,684.2h1.0M83.2,718.7h1.0M65.5,680.0h1.0M63.3,740.8h1.0M81.8,688.6h1.0M83.3,689.9h1.0M77.8,740.9h1.0M79.7,703.5h1.0M95.7,693.5h1.0M90.7,724.6h1.0M84.5,704.2h1.0M66.5,702.6h1.0M86.1,723.3h1.0M81.3,689.8h1.0M65.6,706.8h1.0M60.2,691.4h1.0M80.6,700.7h1.0M64.7,739.9h1.0M81.4,695.4h1.0M76.3,678.1h1.0M84.5,685.6h1.0M71.7,677.4h1.0M65.6,686.1h1.0M65.9,689.8h1.0M98.8,727.2h1.0M84.4,696.0h1.0M64.8,689.0h1.0M81.5,697.3h1.0M95.2,690.6h1.0M64.6,696.9h1.0M88.7,681.1h1.0M87.0,682.9h1.0M91.8,715.6h1.0M78.1,739.3h1.0M68.9,744.2h1.0M93.4,685.0h1.0M87.9,688.0h1.0M95.5,724.8h1.0M87.8,728.3h1.0M94.9,686.8h1.0M83.7,741.3h1.0M75.9,744.1h1.0M98.8,685.9h1.0M95.4,730.7h1.0M83.1,722.1h1.0M86.5,682.4h1.0M100.2,686.5h1.0M62.5,717.6h1.0M62.8,702.9h1.0M86.2,701.6h1.0M88.3,681.4h1.0M80.3,689.9h1.0M95.6,680.4h1.0M88.1,716.4h1.0M92.8,731.2h1.0M84.6,687.0h1.0M82.8,698.4h1.0M85.8,719.4h1.0M81.7,687.0h1.0M84.1,714.7h1.0M94.5,691.4h1.0M90.1,723.8h1.0M96.2,677.1h1.0M88.4,686.5h1.0M96.8,687.6h1.0M93.8,693.1h1.0M67.8,676.0h1.0M92.1,687.3h1.0M95.4,689.5h1.0M94.2,685.8h1.0M70.9,676.7h1.0M62.6,699.2h1.0M104.1,691.6h1.0M77.6,682.0h1.0M82.0,699.3h1.0M94.7,726.2h1.0M82.0,687.2h1.0M97.5,692.2h1.0M106.2,684.6h1.0M105.6,694.8h1.0M81.2,701.7h1.0M61.1,727.9h1.0M91.2,678.5h1.0M67.8,678.8h1.0M67.0,679.4h1.0M79.6,706.3h1.0M102.2,687.6h1.0M95.9,693.7h1.0M66.3,714.7h1.0M94.9,704.1h1.0M89.2,725.3h1.0M90.7,719.4h1.0M85.9,716.1h1.0M90.3,685.4h1.0M65.6,717.1h1.0M65.2,740.0h1.0M100.3,728.0h1.0M78.9,689.6h1.0M81.3,681.5h1.0M66.7,710.6h1.0M91.0,696.1h1.0M95.6,690.5h1.0M63.5,715.5h1.0M81.6,694.4h1.0M89.9,720.4h1.0M77.7,688.3h1.0M67.4,711.6h1.0M86.7,687.0h1.0M85.5,721.4h1.0M81.4,689.2h1.0M91.7,703.8h1.0M82.3,696.2h1.0M69.6,680.1h1.0M91.2,700.7h1.0M65.9,690.2h1.0M86.8,682.2h1.0M81.8,704.8h1.0M85.0,695.4h1.0M98.6,682.1h1.0M94.6,718.1h1.0M64.5,704.0h1.0M94.7,700.4h1.0M63.0,718.1h1.0M67.0,714.7h1.0M92.7,723.1h1.0M87.5,721.9h1.0M84.5,726.3h1.0M100.2,683.2h1.0M87.7,683.8h1.0M87.6,724.4h1.0M67.6,711.7h1.0M84.8,712.2h1.0M86.4,721.9h1.0M78.8,742.5h1.0M91.4,694.5h1.0M58.9,709.4h1.0M67.6,710.3h1.0M95.2,715.2h1.0M81.2,688.5h1.0M89.4,696.3h1.0M88.1,733.5h1.0M104.3,684.2h1.0M93.3,686.1h1.0M106.0,687.3h1.0M83.3,695.1h1.0M74.2,681.6h1.0M111.4,724.1h1.0M65.3,686.5h1.0" stroke="#1414ff" stroke-width="1.0" fill="none"/>
<path d="M65.9,739.7h1.0M68.3,714.9h1.0M67.6,706.9h1.0M80.9,731.8h1.0M78.8,712.2h1.0M81.6,719.6h1.0M80.8,733.5h1.0M62.4,725.6h1.0M78.5,696.6h1.0M80.1,733.9h1.0M76.5,705.5h1.0M77.7,694.8h1.0M78.5,717.1h1.0M64.8,735.9h1.0M68.0,709.0h1.0M86.6,691.1h1.0M69.2,681.1h1.0M78.3,710.3h1.0M68.4,685.8h1.0M88.0,690.9h1.0M67.3,706.2h1.0M79.0,705.2h1.0M67.6,701.8h1.0M67.9,699.1h1.0M87.9,693.0h1.0M82.1,727.5h1.0M66.3,688.8h1.0M76.5,706.8h1.0M75.6,690.7h1.0M67.5,690.9h1.0M87.3,691.8h1.0M66.8,690.3h1.0M75.6,686.1h1.0M69.4,714.9h1.0M71.2,741.6h1.0M87.0,688.9h1.0M66.0,719.4h1.0M77.9,710.4h1.0M69.1,685.5h1.0M77.9,710.4h1.0M76.7,713.0h1.0M64.6,719.6h1.0M69.1,708.9h1.0M62.9,734.4h1.0M65.7,717.8h1.0M66.2,720.0h1.0M66.6,688.6h1.0M66.0,737.3h1.0M66.6,740.1h1.0M76.4,704.0h1.0M87.2,695.4h1.0M72.5,682.5h1.0M67.5,688.5h1.0M79.9,708.8h1.0M74.8,689.9h1.0M68.3,715.6h1.0M71.7,743.0h1.0M68.5,709.4h1.0M77.2,695.9h1.0M64.3,722.5h1.0M67.1,716.2h1.0M76.2,740.0h1.0M83.3,691.9h1.0M78.0,739.5h1.0M77.3,697.0h1.0M76.1,699.3h1.0M74.3,686.6h1.0M87.6,694.0h1.0M80.9,727.7h1.0M68.2,682.2h1.0M74.3,688.8h1.0M64.4,735.8h1.0M85.6,693.9h1.0M63.9,733.3h1.0M77.5,740.0h1.0M77.6,708.0h1.0M86.4,694.0h1.0M75.1,684.1h1.0M66.5,717.3h1.0M63.0,730.1h1.0M67.0,739.2h1.0M66.1,690.4h1.0M78.0,705.7h1.0M91.1,688.0h1.0M66.9,688.8h1.0M76.4,686.8h1.0M78.1,709.4h1.0M78.9,719.9h1.0M69.9,681.8h1.0M65.6,720.9h1.0M79.2,716.3h1.0M68.7,682.5h1.0M79.6,698.2h1.0M79.4,733.6h1.0M79.4,708.2h1.0M78.1,715.8h1.0M73.1,684.9h1.0M88.9,688.4h1.0M76.8,713.2h1.0M76.3,709.2h1.0M71.9,741.3h1.0M66.5,690.0h1.0M75.7,740.9h1.0M65.2,736.5h1.0M85.1,691.1h1.0M66.4,693.9h1.0M82.5,720.0h1.0M67.9,706.0h1.0M67.4,740.9h1.0M79.0,700.2h1.0M72.1,742.9h1.0M68.2,684.5h1.0M70.2,681.7h1.0M63.7,720.9h1.0M77.0,713.0h1.0M84.3,693.9h1.0M68.0,683.7h1.0M89.2,689.6h1.0M74.8,689.4h1.0M76.4,738.7h1.0M81.0,722.7h1.0M82.1,718.1h1.0M89.4,688.0h1.0M69.2,714.2h1.0M66.4,698.2h1.0M63.6,729.5h1.0M75.6,692.1h1.0M65.0,737.5h1.0M86.0,693.5h1.0M71.1,682.0h1.0M63.6,731.6h1.0M82.8,693.5h1.0M76.6,700.5h1.0M76.7,696.7h1.0M93.4,689.4h1.0M88.8,692.7h1.0M77.5,690.1h1.0M70.7,713.0h1.0M66.3,699.6h1.0M77.7,710.0h1.0M67.8,692.2h1.0M76.8,712.3h1.0M81.0,710.9h1.0M80.1,710.3h1.0M69.3,683.3h1.0M76.0,739.6h1.0M77.5,704.4h1.0M75.4,691.8h1.0M67.4,741.0h1.0M78.3,712.2h1.0M77.8,694.4h1.0M68.2,713.2h1.0M68.3,703.2h1.0M71.9,740.7h1.0M67.9,715.7h1.0M66.6,701.7h1.0M66.6,694.7h1.0M68.7,741.4h1.0M67.4,739.1h1.0M77.0,691.9h1.0M78.1,696.5h1.0M70.5,681.9h1.0M80.6,720.7h1.0M67.7,695.9h1.0M80.4,728.8h1.0M67.2,704.9h1.0M64.8,720.5h1.0M76.5,698.8h1.0M66.3,696.5h1.0M66.5,698.0h1.0M91.4,690.0h1.0M81.7,713.1h1.0M90.9,693.9h1.0M77.8,713.5h1.0M62.5,728.5h1.0M86.0,690.2h1.0M79.2,720.5h1.0M88.8,691.9h1.0M86.6,692.2h1.0M81.2,728.1h1.0M65.8,689.4h1.0M78.6,700.1h1.0M78.5,715.7h1.0M78.9,720.0h1.0M73.1,682.4h1.0M66.9,704.5h1.0M76.6,690.1h1.0M85.5,694.8h1.0M90.7,689.8h1.0M64.5,735.4h1.0M67.1,695.7h1.0M81.0,721.4h1.0M66.8,699.3h1.0M79.5,712.5h1.0M65.8,688.2h1.0M87.8,692.6h1.0M67.2,707.6h1.0M71.0,712.5h1.0M80.5,728.6h1.0M90.9,689.1h1.0M81.3,726.4h1.0M69.9,683.9h1.0M69.8,708.3h1.0M69.7,683.6h1.0M78.7,714.5h1.0M76.5,692.3h1.0M78.0,702.0h1.0M81.2,725.6h1.0M79.4,710.3h1.0M66.8,698.7h1.0M78.5,705.9h1.0M74.2,683.1h1.0M76.8,692.6h1.0M75.0,741.5h1.0M77.2,696.4h1.0M82.4,717.4h1.0M80.0,719.2h1.0M80.8,711.1h1.0M79.8,711.0h1.0M76.5,697.3h1.0M79.9,695.9h1.0M78.2,717.0h1.0M65.9,737.5h1.0M77.8,712.4h1.0M77.2,695.7h1.0M76.4,704.7h1.0M65.7,738.3h1.0M77.6,713.9h1.0M81.1,728.8h1.0M78.0,717.1h1.0M93.1,692.3h1.0M75.8,695.9h1.0M80.3,723.6h1.0M68.1,713.7h1.0M92.0,689.2h1.0M75.8,693.6h1.0M74.5,687.3h1.0M79.5,696.9h1.0M85.7,693.4h1.0M72.3,682.8h1.0M66.9,695.6h1.0M63.3,723.8h1.0M73.5,685.8h1.0M67.0,687.1h1.0M66.8,740.6h1.0M80.0,718.5h1.0M79.5,718.6h1.0M76.5,690.9h1.0M68.3,716.9h1.0M76.2,710.5h1.0M76.4,708.3h1.0M82.2,722.0h1.0M67.2,696.0h1.0M78.5,696.7h1.0M93.5,689.1h1.0M76.3,739.5h1.0M78.9,694.7h1.0M67.2,715.1h1.0M67.7,702.4h1.0M91.5,692.3h1.0M71.3,740.7h1.0M77.6,688.9h1.0M75.2,687.2h1.0M80.2,720.2h1.0M81.5,724.8h1.0M78.8,710.3h1.0M89.2,691.7h1.0M81.0,712.3h1.0M79.5,713.6h1.0M78.7,691.7h1.0M77.4,709.5h1.0M75.0,684.9h1.0M70.7,683.2h1.0M66.8,715.9h1.0M69.2,713.9h1.0M65.5,719.1h1.0M79.2,713.2h1.0M77.3,738.2h1.0M77.6,697.8h1.0M79.6,697.0h1.0M76.1,740.5h1.0M64.4,734.9h1.0M79.4,733.5h1.0M79.7,714.5h1.0M68.8,708.4h1.0M89.5,694.5h1.0M76.1,694.4h1.0M80.4,728.5h1.0M86.3,693.3h1.0M76.4,709.5h1.0M72.0,741.9h1.0M86.7,694.7h1.0M80.0,715.8h1.0M69.1,742.0h1.0M79.6,712.3h1.0M66.8,716.6h1.0M69.1,713.5h1.0M80.6,719.4h1.0M66.4,690.3h1.0M63.6,723.6h1.0M66.7,689.0h1.0M74.2,686.7h1.0M88.2,694.7h1.0M67.4,697.8h1.0M69.7,682.6h1.0M76.2,711.5h1.0M77.3,738.0h1.0M82.6,715.4h1.0M77.8,708.9h1.0M79.6,734.6h1.0M84.7,690.2h1.0M76.8,712.4h1.0M68.3,708.1h1.0M76.7,713.6h1.0M91.0,689.9h1.0M76.7,709.1h1.0M88.0,693.5h1.0M66.9,693.7h1.0M90.2,690.6h1.0M69.3,682.8h1.0M67.4,704.9h1.0M74.8,686.5h1.0M85.2,691.0h1.0M72.2,681.7h1.0M75.6,693.5h1.0M67.7,701.5h1.0M79.3,696.9h1.0M64.9,722.1h1.0M75.8,740.3h1.0M79.1,699.2h1.0M78.2,714.6h1.0M68.0,715.1h1.0M77.4,739.7h1.0M77.9,738.0h1.0M67.7,684.6h1.0M78.0,692.6h1.0M67.7,693.0h1.0M67.5,716.3h1.0M74.7,690.8h1.0M78.2,691.7h1.0M73.2,682.2h1.0M77.2,712.6h1.0M76.5,688.7h1.0M84.1,694.3h1.0M67.5,703.9h1.0M74.4,683.3h1.0M80.7,723.3h1.0M75.5,689.2h1.0M91.2,691.9h1.0M76.9,712.3h1.0M76.1,693.5h1.0M80.2,735.5h1.0M82.5,715.9h1.0M78.1,714.9h1.0M78.6,736.8h1.0M63.7,723.5h1.0M78.7,710.1h1.0M67.5,691.8h1.0M78.8,737.4h1.0M66.8,718.5h1.0M77.9,713.0h1.0M77.8,690.4h1.0M67.7,683.6h1.0M77.9,692.2h1.0M68.6,705.5h1.0M77.5,700.6h1.0M75.8,686.6h1.0M78.3,696.3h1.0M86.3,692.6h1.0M71.0,740.8h1.0M79.7,721.4h1.0M80.1,733.5h1.0M79.6,709.2h1.0M79.0,717.8h1.0M68.2,685.1h1.0M72.7,684.2h1.0M78.6,711.4h1.0M89.6,691.4h1.0M88.0,689.6h1.0M78.6,711.8h1.0M68.3,706.9h1.0M80.2,717.6h1.0M80.7,722.6h1.0M76.2,693.8h1.0M77.0,712.6h1.0M81.2,721.6h1.0M69.4,714.6h1.0M85.3,693.7h1.0M88.7,691.5h1.0M76.9,704.0h1.0M78.0,737.3h1.0M70.5,683.5h1.0M69.0,714.8h1.0M77.0,697.9h1.0M77.7,714.4h1.0M64.8,735.6h1.0M91.1,691.5h1.0M88.5,690.5h1.0M76.5,711.9h1.0M63.8,726.2h1.0M78.8,720.0h1.0M85.3,690.7h1.0M81.4,714.3h1.0M92.7,688.7h1.0M79.0,706.2h1.0M87.3,691.0h1.0M75.7,695.0h1.0M68.5,712.1h1.0M85.2,694.3h1.0M68.7,704.5h1.0M77.0,712.2h1.0M77.7,692.3h1.0M77.8,700.9h1.0M63.7,721.8h1.0M80.6,731.7h1.0M69.5,684.2h1.0M69.1,705.6h1.0M74.5,741.3h1.0M67.1,718.1h1.0M76.6,740.0h1.0M88.8,688.9h1.0M78.7,704.4h1.0M77.7,738.5h1.0M82.0,726.0h1.0M87.3,689.0h1.0M92.0,691.1h1.0M79.5,735.0h1.0M63.2,734.3h1.0M78.4,715.0h1.0M70.5,712.3h1.0M67.0,696.2h1.0M76.4,686.8h1.0M67.2,702.8h1.0M63.4,726.0h1.0M79.3,708.5h1.0M84.6,690.9h1.0M91.7,693.3h1.0M74.7,685.3h1.0M69.0,684.7h1.0M81.5,721.5h1.0M63.3,732.9h1.0M69.1,705.7h1.0M81.9,719.9h1.0M81.1,731.2h1.0M76.7,700.4h1.0M67.7,684.1h1.0M79.7,731.6h1.0M78.9,700.6h1.0M68.0,685.5h1.0M64.4,735.0h1.0M75.6,694.4h1.0M70.4,714.8h1.0M69.7,711.5h1.0M65.4,721.5h1.0M78.1,700.1h1.0M78.4,711.3h1.0M76.6,710.5h1.0M66.8,704.8h1.0M75.8,739.4h1.0M66.4,691.6h1.0M79.3,733.5h1.0M70.2,714.0h1.0M86.5,694.3h1.0M69.2,683.2h1.0M74.7,685.0h1.0M68.9,705.2h1.0M66.5,689.7h1.0M78.4,696.8h1.0M66.4,697.8h1.0M67.3,682.4h1.0M76.8,700.8h1.0M74.7,689.0h1.0M77.2,710.5h1.0M65.0,735.9h1.0M66.6,717.4h1.0M67.4,692.4h1.0M67.2,687.3h1.0M75.6,739.7h1.0M77.9,698.5h1.0M62.8,726.0h1.0M72.8,742.3h1.0M80.9,711.1h1.0M75.8,693.0h1.0M67.7,700.2h1.0M77.6,706.4h1.0M81.7,720.1h1.0M70.8,681.3h1.0M79.0,700.5h1.0M64.4,734.7h1.0M87.1,690.7h1.0M68.7,742.1h1.0M81.9,726.5h1.0M79.7,732.6h1.0M89.1,691.0h1.0M78.8,696.6h1.0M86.7,693.7h1.0M76.7,705.2h1.0M82.4,719.2h1.0M68.7,713.5h1.0M75.5,689.9h1.0M79.5,699.3h1.0M77.5,702.2h1.0M75.2,692.8h1.0M77.6,705.1h1.0M70.4,683.3h1.0M88.2,692.0h1.0M87.5,688.7h1.0M73.4,685.1h1.0M63.1,734.3h1.0M75.4,693.4h1.0M77.9,736.6h1.0M64.4,723.6h1.0M81.0,715.0h1.0M78.0,708.8h1.0M78.9,713.7h1.0M80.1,719.3h1.0M68.5,713.9h1.0M67.1,690.5h1.0M77.8,691.0h1.0M82.4,721.2h1.0M65.8,738.6h1.0M62.5,727.7h1.0M76.5,696.1h1.0M91.1,694.4h1.0M67.3,701.2h1.0M91.3,691.4h1.0M68.6,682.4h1.0M65.7,739.3h1.0M76.9,710.4h1.0M88.0,689.1h1.0M68.3,709.2h1.0M79.0,714.9h1.0M68.7,683.8h1.0M80.0,717.1h1.0M82.3,717.8h1.0M79.5,697.2h1.0M64.6,736.0h1.0M70.3,681.8h1.0M76.7,705.6h1.0M69.0,703.9h1.0M78.7,734.9h1.0M75.2,688.7h1.0M72.5,683.7h1.0M84.0,693.3h1.0M74.4,741.0h1.0M89.6,691.8h1.0M80.2,719.5h1.0M66.8,697.0h1.0M76.9,698.0h1.0M78.8,697.8h1.0M65.5,719.7h1.0M76.3,698.9h1.0M74.6,683.4h1.0M67.4,682.3h1.0M81.0,717.0h1.0M79.1,711.1h1.0M69.9,709.3h1.0M79.9,719.4h1.0M74.0,741.5h1.0M76.4,699.2h1.0M69.5,740.6h1.0M77.3,706.9h1.0M80.2,728.8h1.0M67.4,689.2h1.0M82.0,717.3h1.0M79.2,719.4h1.0M74.4,683.1h1.0M68.3,742.0h1.0M74.1,684.5h1.0M78.3,712.5h1.0M79.3,713.9h1.0M66.4,689.5h1.0M67.4,741.0h1.0M78.1,718.6h1.0M80.6,720.8h1.0M76.1,696.6h1.0M80.1,726.5h1.0M72.1,741.7h1.0M65.7,720.8h1.0M78.2,697.1h1.0M72.9,740.7h1.0M69.1,709.0h1.0M78.7,720.2h1.0M78.5,718.3h1.0M80.6,719.3h1.0M79.6,724.7h1.0M68.1,685.9h1.0M86.8,689.4h1.0M77.4,695.3h1.0M78.2,699.2h1.0M81.8,715.7h1.0M62.3,728.4h1.0M67.8,687.5h1.0M81.6,720.4h1.0M65.4,738.2h1.0M82.4,721.2h1.0M89.9,690.1h1.0M69.1,709.3h1.0M88.9,694.7h1.0M78.9,715.3h1.0M79.5,714.3h1.0M75.0,690.8h1.0M90.6,693.2h1.0M76.7,704.4h1.0M68.0,711.1h1.0M76.4,710.8h1.0M67.9,705.9h1.0M77.8,701.0h1.0M80.3,711.1h1.0M68.3,682.6h1.0M79.0,714.3h1.0M84.9,691.9h1.0M73.7,686.3h1.0M68.4,740.8h1.0M67.7,706.6h1.0M66.7,715.6h1.0M77.4,704.0h1.0M78.8,699.6h1.0M66.3,719.6h1.0M77.1,739.7h1.0M76.3,710.2h1.0M63.2,726.8h1.0M75.3,690.4h1.0M69.7,683.7h1.0M71.8,741.9h1.0M67.6,702.3h1.0M77.4,705.5h1.0M80.5,711.0h1.0M66.6,689.0h1.0M80.7,728.2h1.0M87.8,691.7h1.0M69.2,740.8h1.0M66.8,696.3h1.0M78.6,700.7h1.0M66.4,692.6h1.0M75.8,693.8h1.0M92.4,688.8h1.0M68.4,713.7h1.0M85.7,693.1h1.0M77.2,711.8h1.0M80.8,722.5h1.0M66.7,739.2h1.0M80.1,722.0h1.0M69.9,683.5h1.0M84.5,691.5h1.0M80.8,728.5h1.0M72.6,685.0h1.0M79.7,719.2h1.0M70.0,708.0h1.0M78.8,699.5h1.0M80.2,711.1h1.0M79.0,714.0h1.0M87.4,691.5h1.0M64.7,735.2h1.0M81.1,722.2h1.0M71.6,682.6h1.0M83.7,690.7h1.0M75.8,739.4h1.0M78.8,716.6h1.0M93.6,689.5h1.0M89.2,689.4h1.0M81.0,730.2h1.0M78.0,707.9h1.0M83.8,691.1h1.0M70.7,682.4h1.0M67.8,709.1h1.0M90.3,688.5h1.0M65.3,720.9h1.0M67.2,682.3h1.0M72.8,742.7h1.0M63.0,734.4h1.0M77.4,711.8h1.0M91.1,691.9h1.0M80.6,728.3h1.0M68.7,710.3h1.0M71.8,741.3h1.0M79.4,693.4h1.0M82.3,717.4h1.0M68.4,701.8h1.0M83.0,693.2h1.0M64.3,737.2h1.0M69.0,709.4h1.0M63.8,723.9h1.0M81.9,716.3h1.0M69.4,680.8h1.0M75.1,684.1h1.0M81.2,715.3h1.0M80.7,719.7h1.0M62.6,727.5h1.0M63.9,724.5h1.0M68.2,686.1h1.0M91.2,690.6h1.0M85.3,694.0h1.0M69.1,711.7h1.0M70.0,709.4h1.0M67.5,689.7h1.0M77.9,689.6h1.0M68.7,709.5h1.0M80.5,718.8h1.0M69.2,708.8h1.0M68.8,683.0h1.0M69.8,712.3h1.0M75.9,691.7h1.0M77.7,706.5h1.0M78.5,693.6h1.0M66.9,688.6h1.0M63.3,732.0h1.0M81.0,716.4h1.0M79.5,694.6h1.0M75.8,689.5h1.0M67.7,707.5h1.0M69.6,709.9h1.0M78.3,693.3h1.0M88.1,692.7h1.0M66.3,693.1h1.0M74.8,690.1h1.0M76.9,707.6h1.0M76.5,689.1h1.0M73.2,684.7h1.0M80.5,731.9h1.0M75.4,692.8h1.0M89.9,690.2h1.0M79.7,720.5h1.0M69.8,708.4h1.0M77.9,713.4h1.0M68.3,682.2h1.0M77.7,737.4h1.0M66.3,697.2h1.0M71.4,683.0h1.0M85.8,693.1h1.0M76.1,704.8h1.0M78.7,696.5h1.0M77.5,709.6h1.0M63.5,731.5h1.0M80.2,716.8h1.0M70.2,711.3h1.0M77.2,694.2h1.0M68.8,684.7h1.0M76.2,708.9h1.0M70.3,684.1h1.0M81.3,716.4h1.0M79.2,711.6h1.0M80.0,712.2h1.0M80.0,693.7h1.0M91.6,690.9h1.0M77.5,690.9h1.0M79.1,697.1h1.0M81.5,712.5h1.0M67.7,706.3h1.0M79.1,718.2h1.0M78.0,738.8h1.0M77.4,700.9h1.0M79.0,696.1h1.0M78.7,716.6h1.0M78.7,713.8h1.0M77.7,690.9h1.0M67.4,706.8h1.0M79.3,720.9h1.0M69.8,709.3h1.0M79.2,712.4h1.0M82.6,719.3h1.0M71.0,740.8h1.0M91.5,690.6h1.0M87.5,695.1h1.0M74.4,688.8h1.0M77.9,690.6h1.0M82.1,712.9h1.0M88.9,692.0h1.0M78.6,715.8h1.0M67.4,705.9h1.0M81.5,729.2h1.0M77.0,700.2h1.0M79.2,720.9h1.0M65.5,718.5h1.0M67.9,739.7h1.0M78.3,707.5h1.0M76.4,698.8h1.0M78.8,709.7h1.0M81.7,712.9h1.0M86.1,692.7h1.0M79.8,721.6h1.0M78.6,716.2h1.0M79.5,719.7h1.0M68.8,708.7h1.0M67.0,704.3h1.0M67.4,716.5h1.0M66.3,700.9h1.0M76.6,712.4h1.0M77.5,692.6h1.0M72.1,683.4h1.0M64.1,724.6h1.0M90.8,689.0h1.0M63.9,733.7h1.0M67.0,687.3h1.0M70.2,682.9h1.0M81.9,719.6h1.0M74.9,684.4h1.0M79.9,722.2h1.0M68.6,685.9h1.0M76.0,693.1h1.0M68.0,694.2h1.0M81.6,715.2h1.0M84.7,692.0h1.0M79.7,716.4h1.0M68.7,740.3h1.0M88.6,689.5h1.0M80.5,728.9h1.0M91.3,692.1h1.0M68.1,702.8h1.0M68.0,696.6h1.0M73.3,683.6h1.0M78.2,693.9h1.0M79.9,708.8h1.0M89.9,691.1h1.0M92.1,689.0h1.0M66.4,687.3h1.0M68.0,715.3h1.0M66.7,718.3h1.0M80.3,716.6h1.0M75.2,686.8h1.0M68.5,704.4h1.0M63.2,725.5h1.0M81.2,720.5h1.0M76.0,739.3h1.0M77.0,713.6h1.0M89.8,692.5h1.0M77.2,701.9h1.0M77.4,694.7h1.0M75.0,689.5h1.0M76.1,697.9h1.0M67.7,714.6h1.0M68.1,682.9h1.0M68.0,713.6h1.0M79.1,719.8h1.0M66.7,717.9h1.0" stroke="#0a30ff" stroke-width="1.0" fill="none"/>
<path d="M70.8,709.3h1.0M64.0,731.3h1.0M74.5,700.9h1.0M69.9,691.0h1.0M75.4,713.4h1.0M79.7,726.6h1.0M71.1,739.8h1.0M74.1,689.8h1.0M70.5,706.3h1.0M74.9,704.5h1.0M75.3,705.2h1.0M64.8,725.3h1.0M78.5,723.8h1.0M74.8,739.9h1.0M80.0,725.3h1.0M74.0,710.4h1.0M75.4,705.6h1.0M68.3,688.4h1.0M74.8,715.8h1.0M71.8,712.7h1.0M68.9,739.1h1.0M67.2,737.3h1.0M68.9,688.7h1.0M69.3,695.0h1.0M73.0,708.9h1.0M77.6,734.5h1.0M77.3,736.3h1.0M76.1,704.5h1.0M77.5,717.9h1.0M75.0,738.2h1.0M69.4,705.3h1.0M70.7,739.4h1.0M71.5,714.6h1.0M76.0,712.1h1.0M71.8,717.1h1.0M74.9,717.4h1.0M79.3,727.2h1.0M71.4,688.3h1.0M73.5,691.4h1.0M72.9,687.0h1.0M69.8,716.7h1.0M65.2,724.2h1.0M73.2,686.7h1.0M73.8,703.7h1.0M70.5,715.4h1.0M68.4,698.2h1.0M69.2,699.0h1.0M71.0,708.0h1.0M70.6,709.4h1.0M68.4,687.4h1.0M76.0,738.8h1.0M64.5,731.2h1.0M71.1,704.7h1.0M71.4,705.6h1.0M69.7,703.9h1.0M71.4,685.6h1.0M72.6,708.0h1.0M74.6,707.5h1.0M78.9,729.9h1.0M71.0,717.4h1.0M69.5,698.4h1.0M74.9,692.7h1.0M64.2,727.5h1.0M70.0,685.2h1.0M64.7,724.2h1.0M64.2,728.2h1.0M74.0,710.4h1.0M79.4,724.1h1.0M78.0,722.1h1.0M73.8,690.6h1.0M70.8,717.4h1.0M76.4,713.4h1.0M74.4,704.3h1.0M72.3,706.9h1.0M69.2,698.7h1.0M75.4,739.4h1.0M69.4,739.2h1.0M75.5,704.5h1.0M72.2,710.8h1.0M74.4,699.1h1.0M67.4,720.8h1.0M74.3,706.8h1.0M67.0,738.1h1.0M74.6,698.8h1.0M78.5,722.9h1.0M75.3,717.9h1.0M78.6,734.8h1.0M74.4,713.7h1.0M72.1,706.9h1.0M71.3,716.7h1.0M66.2,735.9h1.0M72.5,709.5h1.0M74.3,701.1h1.0M71.7,709.4h1.0M74.6,705.6h1.0M64.6,732.1h1.0M65.3,735.1h1.0M74.5,707.6h1.0M76.0,704.8h1.0M77.4,716.0h1.0M65.8,722.6h1.0M72.6,689.2h1.0M79.0,723.9h1.0M69.5,690.9h1.0M74.2,702.1h1.0M74.3,716.8h1.0M73.2,688.6h1.0M68.4,687.1h1.0M72.5,689.5h1.0M66.3,736.1h1.0M73.5,688.5h1.0M70.8,715.8h1.0M75.7,714.0h1.0M72.0,715.9h1.0M74.6,698.0h1.0M75.3,694.8h1.0M78.0,720.8h1.0M64.0,727.3h1.0M71.8,712.6h1.0M73.1,707.5h1.0M74.2,695.9h1.0M73.8,687.9h1.0M66.4,736.2h1.0M74.7,708.5h1.0M74.9,715.6h1.0M73.0,711.7h1.0M70.6,710.9h1.0M69.8,684.6h1.0M74.3,691.1h1.0M69.2,702.6h1.0M76.1,711.2h1.0M69.3,685.3h1.0M78.7,730.6h1.0M73.8,713.6h1.0M72.0,708.2h1.0M72.3,712.0h1.0M72.4,689.2h1.0M72.5,687.8h1.0M74.5,691.7h1.0M70.0,687.4h1.0M68.3,697.0h1.0M73.1,714.4h1.0M73.0,706.6h1.0M69.9,701.8h1.0M71.6,685.8h1.0M76.9,715.8h1.0M74.7,703.0h1.0M80.1,728.2h1.0M68.0,719.3h1.0M69.7,690.9h1.0M68.5,692.5h1.0M75.5,707.5h1.0M76.9,736.4h1.0M77.3,718.8h1.0M72.9,706.5h1.0M70.3,708.8h1.0M70.5,685.3h1.0M77.9,735.2h1.0M69.9,739.4h1.0M65.5,722.2h1.0M74.5,698.0h1.0M74.4,695.4h1.0M70.3,715.4h1.0M75.7,710.9h1.0M74.8,738.5h1.0M69.0,691.7h1.0M73.6,707.4h1.0M75.4,715.9h1.0M68.3,695.0h1.0M77.7,721.1h1.0M73.9,706.9h1.0M74.5,699.5h1.0M69.3,739.5h1.0M73.2,715.2h1.0M73.5,706.2h1.0M74.5,706.2h1.0M74.8,696.3h1.0M75.4,699.7h1.0M69.4,704.8h1.0M69.9,687.0h1.0M72.9,689.8h1.0M70.4,706.1h1.0M72.0,686.4h1.0M74.3,715.7h1.0M78.9,726.7h1.0M70.0,716.2h1.0M71.2,706.1h1.0M75.6,706.6h1.0M72.2,707.8h1.0M68.3,693.8h1.0M71.6,713.3h1.0M75.1,699.0h1.0M76.1,699.8h1.0M68.6,740.0h1.0M77.3,717.1h1.0M73.7,704.2h1.0M64.6,733.5h1.0M65.2,721.6h1.0M73.7,714.0h1.0M79.6,726.1h1.0M69.3,703.3h1.0M69.4,701.0h1.0M79.4,731.3h1.0M75.0,693.8h1.0M71.2,740.4h1.0M72.0,705.6h1.0M74.6,702.1h1.0M75.1,697.9h1.0M72.9,690.2h1.0M64.6,730.5h1.0M71.0,706.3h1.0M73.4,713.5h1.0M76.7,716.6h1.0M73.7,707.3h1.0M72.1,686.5h1.0M64.2,730.0h1.0M70.5,686.6h1.0M73.0,685.6h1.0M72.4,686.4h1.0M74.5,705.5h1.0M76.3,738.4h1.0M73.8,690.5h1.0M79.0,722.8h1.0M76.3,715.0h1.0M73.3,692.7h1.0M79.7,726.9h1.0M68.3,696.8h1.0M73.4,708.7h1.0M76.0,704.0h1.0M74.5,694.9h1.0M74.4,690.6h1.0M74.7,694.7h1.0M70.2,703.7h1.0M74.2,709.3h1.0M70.4,704.9h1.0M75.4,694.6h1.0M74.1,703.8h1.0M75.5,705.1h1.0M74.0,714.4h1.0M79.6,728.8h1.0M73.9,706.1h1.0M71.8,715.2h1.0M78.7,734.0h1.0M73.5,739.3h1.0M68.2,690.9h1.0M76.1,712.5h1.0M68.7,696.1h1.0M74.5,713.8h1.0M75.1,706.5h1.0M73.5,690.7h1.0M66.7,736.9h1.0M74.9,716.3h1.0M65.4,734.0h1.0M75.0,692.0h1.0M69.9,705.4h1.0M74.2,698.7h1.0M70.8,705.6h1.0M67.2,738.2h1.0M73.4,686.2h1.0M72.7,713.2h1.0M69.0,718.4h1.0M75.4,738.2h1.0M75.4,705.1h1.0M72.5,688.4h1.0M75.0,739.1h1.0M71.3,685.0h1.0M78.1,724.3h1.0M70.2,715.4h1.0M68.6,694.6h1.0M76.5,714.6h1.0M72.5,687.0h1.0M70.1,702.6h1.0M76.5,718.8h1.0M70.1,703.9h1.0M74.2,690.7h1.0M79.7,727.5h1.0M74.5,711.5h1.0M74.6,714.8h1.0M65.0,726.4h1.0M72.0,715.0h1.0M68.6,698.8h1.0M70.1,704.4h1.0M78.5,720.4h1.0M68.7,690.1h1.0M74.3,710.4h1.0M74.5,694.3h1.0M79.2,731.8h1.0M69.3,692.5h1.0M69.8,684.8h1.0M73.4,711.1h1.0M67.4,720.4h1.0M73.1,740.0h1.0M63.9,727.3h1.0M75.2,704.3h1.0M68.2,687.6h1.0M72.3,706.5h1.0M72.3,707.5h1.0M74.4,699.3h1.0M72.9,710.6h1.0M73.4,688.6h1.0M69.7,718.2h1.0M69.7,704.4h1.0M72.7,712.8h1.0M75.7,711.1h1.0M69.7,716.2h1.0M72.7,710.7h1.0M78.5,720.5h1.0M67.4,738.9h1.0M71.8,688.1h1.0M68.7,690.5h1.0M69.5,716.5h1.0M69.5,696.8h1.0M74.2,702.8h1.0M70.7,705.0h1.0M78.5,721.9h1.0M70.7,709.0h1.0M73.2,688.1h1.0M71.6,717.2h1.0M74.3,713.2h1.0M78.1,733.3h1.0M74.2,717.6h1.0M73.7,690.8h1.0M75.9,707.9h1.0M74.0,693.8h1.0M79.2,726.5h1.0M64.2,730.2h1.0M70.5,717.8h1.0M70.3,715.4h1.0M77.8,720.6h1.0M73.7,738.7h1.0M74.1,738.9h1.0M72.3,714.8h1.0M67.2,737.8h1.0M72.3,684.6h1.0M74.2,692.3h1.0M72.6,712.8h1.0M69.6,686.4h1.0M75.0,713.7h1.0M79.6,728.7h1.0M77.8,722.2h1.0M74.1,691.7h1.0M73.0,686.6h1.0M70.6,716.3h1.0M69.0,698.1h1.0M69.1,702.8h1.0M75.6,711.8h1.0M73.3,691.6h1.0M78.3,720.9h1.0M78.4,732.6h1.0M75.7,718.0h1.0M76.0,706.2h1.0M73.6,717.1h1.0M74.6,711.7h1.0M79.6,723.1h1.0M71.3,688.3h1.0M69.3,701.1h1.0M76.6,737.8h1.0M73.0,715.0h1.0M66.6,721.6h1.0M74.4,700.4h1.0M73.6,715.4h1.0M74.9,714.1h1.0M70.5,706.9h1.0M79.3,724.1h1.0M71.8,710.8h1.0M70.7,686.1h1.0M70.5,707.2h1.0M68.9,698.1h1.0M65.6,724.7h1.0M77.2,735.3h1.0M75.7,708.8h1.0M73.9,693.0h1.0M70.4,706.5h1.0M76.0,717.9h1.0M73.7,713.5h1.0M75.9,708.2h1.0M75.0,707.0h1.0M72.5,714.5h1.0M74.2,710.3h1.0M70.0,701.8h1.0M69.5,739.4h1.0M78.4,722.6h1.0M79.2,722.6h1.0M69.7,687.8h1.0M72.0,688.8h1.0M72.3,716.9h1.0M71.0,705.7h1.0M72.1,687.7h1.0M74.8,706.9h1.0M68.9,690.2h1.0M75.7,699.9h1.0M73.8,705.2h1.0M71.0,716.8h1.0M64.7,733.0h1.0M73.2,706.3h1.0M71.5,705.2h1.0M75.5,709.6h1.0M67.4,721.0h1.0M72.6,710.4h1.0M70.1,704.3h1.0M74.5,704.1h1.0M74.8,706.6h1.0M66.7,738.1h1.0M71.1,705.8h1.0M69.3,739.6h1.0M73.5,709.9h1.0M74.2,716.5h1.0M69.9,686.8h1.0M78.7,729.7h1.0M67.8,718.2h1.0M70.9,716.2h1.0M73.9,705.7h1.0M70.1,704.1h1.0M75.1,710.8h1.0M75.0,712.5h1.0M69.3,699.1h1.0M74.6,717.3h1.0M78.0,721.4h1.0M69.6,691.5h1.0M69.8,716.8h1.0M77.0,715.8h1.0M73.0,685.5h1.0M72.0,709.1h1.0M71.6,687.9h1.0M73.5,713.8h1.0M76.5,716.0h1.0M68.3,698.9h1.0M71.8,740.5h1.0M65.2,735.1h1.0M75.3,697.0h1.0M74.3,698.2h1.0M71.7,713.7h1.0M69.5,703.6h1.0M69.5,702.0h1.0M70.4,707.0h1.0M77.5,718.5h1.0M75.1,716.5h1.0M74.8,706.5h1.0M74.3,704.9h1.0M70.7,687.6h1.0M69.3,694.5h1.0M63.7,727.3h1.0M74.2,693.5h1.0M73.7,712.4h1.0M69.4,705.0h1.0M70.2,708.6h1.0M67.6,739.0h1.0M66.6,737.9h1.0M76.5,719.2h1.0M73.7,689.6h1.0M64.8,734.9h1.0M77.3,721.5h1.0M79.7,728.5h1.0M73.9,717.3h1.0M75.1,697.6h1.0M73.9,709.0h1.0M75.8,710.4h1.0M71.6,686.1h1.0M69.4,699.5h1.0M74.6,711.2h1.0M68.5,738.4h1.0M74.7,711.2h1.0M75.3,705.7h1.0M71.4,686.9h1.0M72.8,685.8h1.0M71.0,706.1h1.0M73.2,716.9h1.0M70.4,687.9h1.0M64.9,734.7h1.0M74.9,692.7h1.0M79.3,727.3h1.0M65.6,733.1h1.0M67.3,720.8h1.0M72.2,688.6h1.0M67.6,738.6h1.0M73.6,714.1h1.0M75.8,710.7h1.0M78.7,734.0h1.0M63.6,729.9h1.0M73.9,690.0h1.0M73.1,710.7h1.0M77.7,736.0h1.0M66.3,736.4h1.0M67.0,737.0h1.0M69.8,717.4h1.0M68.3,688.6h1.0M75.9,711.0h1.0M75.0,694.6h1.0M72.2,707.2h1.0M67.3,738.4h1.0M73.9,690.5h1.0M71.3,687.9h1.0M75.7,697.2h1.0M75.6,698.3h1.0M75.2,701.0h1.0M70.1,717.7h1.0M75.0,704.5h1.0M74.2,716.9h1.0M68.6,695.3h1.0M68.1,699.8h1.0M79.4,723.0h1.0M78.7,729.4h1.0M66.3,720.4h1.0M78.2,724.3h1.0M72.6,739.2h1.0M68.5,694.4h1.0M75.6,712.2h1.0M70.1,706.5h1.0M70.5,709.0h1.0M64.4,732.0h1.0M72.4,712.1h1.0M68.5,700.1h1.0M73.8,689.4h1.0M71.2,688.7h1.0M75.1,718.4h1.0M78.7,731.3h1.0M74.0,705.3h1.0M75.9,710.8h1.0M74.6,701.5h1.0M70.8,710.0h1.0M69.1,717.5h1.0M71.7,711.3h1.0M71.7,716.2h1.0M71.2,688.3h1.0M78.9,723.8h1.0M71.6,687.8h1.0M74.1,696.2h1.0M71.6,740.0h1.0M74.8,705.1h1.0M72.0,715.2h1.0M69.4,698.9h1.0M76.4,713.9h1.0M73.8,713.9h1.0M65.7,721.4h1.0M64.7,724.9h1.0M63.8,728.6h1.0M74.6,712.2h1.0M74.1,739.4h1.0M78.3,718.9h1.0M73.7,694.8h1.0M69.6,694.5h1.0M75.4,737.9h1.0M75.5,707.9h1.0M78.2,722.5h1.0M76.3,713.5h1.0M68.5,719.5h1.0M73.3,705.1h1.0M69.1,686.0h1.0M69.7,704.4h1.0M74.1,739.6h1.0M74.8,717.6h1.0M68.9,700.9h1.0M67.5,718.7h1.0M65.4,722.9h1.0M70.3,707.9h1.0M70.1,702.9h1.0M75.4,716.7h1.0M72.3,707.8h1.0M72.9,711.7h1.0M71.6,708.8h1.0M74.1,693.9h1.0M70.0,705.0h1.0M76.3,718.2h1.0M64.5,726.9h1.0M74.8,699.4h1.0M74.6,717.5h1.0M78.4,721.2h1.0M72.3,686.8h1.0M64.6,725.1h1.0M75.9,717.9h1.0M78.6,724.5h1.0M74.8,717.3h1.0M70.5,685.8h1.0M64.3,728.9h1.0M68.8,695.4h1.0M70.7,714.2h1.0M70.0,716.7h1.0M73.2,713.2h1.0M73.7,713.8h1.0M74.6,716.7h1.0M72.5,689.8h1.0M69.6,695.1h1.0M67.0,720.3h1.0M74.8,708.3h1.0M75.0,693.8h1.0M77.2,718.9h1.0M74.8,697.5h1.0M75.5,714.1h1.0M79.0,722.0h1.0M73.0,708.7h1.0M68.6,719.0h1.0M79.3,732.4h1.0M71.4,708.3h1.0M73.9,706.9h1.0M68.1,700.3h1.0M78.3,735.2h1.0M78.7,728.8h1.0M70.7,704.6h1.0M73.5,692.4h1.0M69.4,703.3h1.0M75.0,705.6h1.0M74.0,713.5h1.0M76.9,714.5h1.0M69.4,718.0h1.0M74.4,703.0h1.0M69.4,700.2h1.0M74.4,711.9h1.0M69.1,692.5h1.0M68.9,699.7h1.0M74.8,703.7h1.0M75.3,698.8h1.0M72.3,686.1h1.0M75.2,716.9h1.0M75.0,691.3h1.0M67.2,720.6h1.0M71.4,686.8h1.0M76.8,719.9h1.0M75.0,703.5h1.0M74.7,715.4h1.0M69.0,700.0h1.0M75.2,739.4h1.0M69.3,693.5h1.0M69.4,717.6h1.0M75.2,718.3h1.0M69.6,698.1h1.0M76.4,717.1h1.0M74.2,716.7h1.0M74.4,690.6h1.0M71.5,714.0h1.0M70.5,740.0h1.0M71.4,739.4h1.0M64.9,731.9h1.0M73.7,710.6h1.0M70.0,703.4h1.0M71.3,712.9h1.0M69.2,694.7h1.0M73.4,712.8h1.0M71.3,715.0h1.0M73.4,692.7h1.0M73.8,709.4h1.0M69.4,686.9h1.0M79.9,730.0h1.0M73.4,692.3h1.0M75.0,717.8h1.0M79.1,730.6h1.0M74.4,716.9h1.0M68.9,738.9h1.0M66.5,721.1h1.0M71.0,706.2h1.0M69.4,705.6h1.0M73.9,706.2h1.0M71.9,707.7h1.0M73.1,715.0h1.0M74.7,707.7h1.0M74.5,709.9h1.0M73.0,708.9h1.0M70.3,684.8h1.0M73.7,715.8h1.0M73.9,716.3h1.0M63.9,729.0h1.0M71.9,712.5h1.0M76.6,719.3h1.0M73.1,689.8h1.0M64.3,730.9h1.0M72.9,716.7h1.0M79.2,723.5h1.0M78.3,722.1h1.0M73.4,710.8h1.0M64.3,727.3h1.0M74.2,709.7h1.0M69.5,686.3h1.0M79.5,725.7h1.0M70.1,689.4h1.0M68.7,693.3h1.0M74.9,716.0h1.0M72.7,716.0h1.0M75.0,702.6h1.0M74.4,691.3h1.0M74.3,739.4h1.0M69.2,691.1h1.0M69.8,686.5h1.0M74.4,698.0h1.0M72.1,709.4h1.0M70.1,707.3h1.0M68.3,691.5h1.0M69.0,696.7h1.0M73.9,692.5h1.0M72.3,686.9h1.0M67.1,720.9h1.0M70.4,703.4h1.0M78.4,723.5h1.0M69.8,688.2h1.0M69.2,705.7h1.0M63.9,727.0h1.0M75.1,695.9h1.0M76.8,716.1h1.0M78.8,725.1h1.0M64.4,726.2h1.0M70.4,704.3h1.0M73.9,707.0h1.0M73.4,691.4h1.0M73.5,686.5h1.0M79.0,734.5h1.0M68.5,698.1h1.0M74.3,716.5h1.0M67.5,718.9h1.0M74.4,713.3h1.0M64.1,727.8h1.0M70.1,705.0h1.0M69.2,686.7h1.0M70.5,684.3h1.0M70.5,717.7h1.0M66.8,737.3h1.0M72.9,715.4h1.0M65.0,724.6h1.0M74.9,702.8h1.0M67.8,738.0h1.0M74.8,715.9h1.0M68.6,691.7h1.0M69.1,718.0h1.0M73.8,707.3h1.0M67.7,718.5h1.0M74.0,689.3h1.0M73.4,713.9h1.0M73.7,709.1h1.0M67.6,738.2h1.0M76.2,737.0h1.0M72.4,689.8h1.0M79.4,722.5h1.0M78.8,727.2h1.0M70.9,714.4h1.0M72.2,715.3h1.0M65.7,721.6h1.0M75.4,701.0h1.0M74.6,694.9h1.0M74.1,706.6h1.0M74.6,703.0h1.0M72.5,708.3h1.0M79.0,731.5h1.0M70.3,715.2h1.0M74.2,696.5h1.0M75.7,703.3h1.0M72.4,714.6h1.0M65.7,735.5h1.0M68.7,687.2h1.0M72.5,688.2h1.0M67.7,737.9h1.0M69.2,687.5h1.0M71.9,709.5h1.0M74.0,715.3h1.0M72.7,710.1h1.0M69.2,696.4h1.0M73.9,708.0h1.0M69.9,700.8h1.0M65.2,722.0h1.0M70.6,687.4h1.0M71.4,711.5h1.0M70.6,688.4h1.0M74.1,702.1h1.0M75.6,710.6h1.0M72.8,708.4h1.0M72.2,716.2h1.0M66.6,721.0h1.0M76.8,718.9h1.0M75.8,708.5h1.0M74.9,738.4h1.0M73.5,713.9h1.0M69.5,704.1h1.0M72.7,711.3h1.0M69.0,701.5h1.0M74.0,706.4h1.0M69.2,718.8h1.0M75.9,699.9h1.0M70.7,685.4h1.0M68.4,693.3h1.0M73.4,705.6h1.0M68.2,699.9h1.0M78.9,733.9h1.0M68.8,699.6h1.0M74.4,699.0h1.0M72.1,708.3h1.0M70.6,710.6h1.0M76.8,737.0h1.0M74.8,716.1h1.0M69.7,685.5h1.0M76.3,712.6h1.0M74.3,717.2h1.0M69.7,690.9h1.0M70.8,710.0h1.0M73.3,710.6h1.0M70.4,702.7h1.0M74.1,716.8h1.0M75.6,710.4h1.0M67.4,719.2h1.0M69.6,705.5h1.0M72.2,711.0h1.0M74.3,709.1h1.0M72.1,687.3h1.0M77.3,720.0h1.0M74.5,711.3h1.0M74.1,690.9h1.0M72.9,690.5h1.0M69.7,688.2h1.0M69.5,694.4h1.0M75.8,701.0h1.0M71.3,684.7h1.0M70.7,685.4h1.0M77.8,734.3h1.0M69.4,685.2h1.0M63.9,727.8h1.0M71.6,685.5h1.0M76.1,719.0h1.0M64.8,732.2h1.0M73.1,686.5h1.0M73.4,705.2h1.0M76.0,706.9h1.0M66.2,736.7h1.0M68.5,693.7h1.0M75.1,694.4h1.0M68.3,691.5h1.0M73.6,714.3h1.0M77.9,721.4h1.0M71.6,740.5h1.0M69.3,698.7h1.0M69.6,696.9h1.0M70.3,704.7h1.0M79.1,724.2h1.0M74.7,703.1h1.0M71.9,686.6h1.0M70.0,739.9h1.0M76.3,718.0h1.0M71.7,739.6h1.0M75.5,717.8h1.0M69.9,707.3h1.0M68.7,717.6h1.0M75.7,713.4h1.0M72.9,712.2h1.0M68.1,719.2h1.0M73.6,705.6h1.0M75.5,701.4h1.0M69.2,693.7h1.0M72.4,707.1h1.0M74.0,704.7h1.0M77.6,718.7h1.0M75.3,711.4h1.0M72.7,686.7h1.0M77.6,721.1h1.0M73.2,707.3h1.0M68.3,688.3h1.0M73.2,689.7h1.0M75.4,713.8h1.0M70.6,706.2h1.0M77.5,736.4h1.0M74.1,712.2h1.0M78.1,735.6h1.0M74.4,691.9h1.0M70.0,717.4h1.0M72.7,715.2h1.0M75.2,700.1h1.0M71.9,739.9h1.0M64.7,726.4h1.0M74.7,739.1h1.0M74.0,705.4h1.0" stroke="#0070ff" stroke-width="1.0" fill="none"/>
<path d="M72.5,718.7h1.0M74.6,719.3h1.0M69.6,718.8h1.0M70.8,701.0h1.0M78.6,731.0h1.0M65.4,726.3h1.0M71.9,695.1h1.0M73.8,738.1h1.0M72.1,695.3h1.0M78.4,728.2h1.0M68.5,721.6h1.0M69.4,738.2h1.0M77.9,730.1h1.0M65.6,726.5h1.0M65.3,732.5h1.0M69.6,695.9h1.0M73.0,702.0h1.0M72.0,699.5h1.0M69.8,696.8h1.0M74.4,717.7h1.0M65.2,729.7h1.0M76.1,721.4h1.0M73.7,702.0h1.0M73.1,704.9h1.0M78.4,732.0h1.0M66.2,734.6h1.0M78.2,728.3h1.0M65.4,729.5h1.0M74.7,720.3h1.0M73.8,700.1h1.0M76.5,736.2h1.0M71.0,699.6h1.0M77.2,723.0h1.0M71.1,699.2h1.0M73.7,699.9h1.0M70.3,699.8h1.0M67.2,722.1h1.0M71.2,691.4h1.0M68.4,737.5h1.0M72.7,738.7h1.0M72.4,718.8h1.0M72.6,696.2h1.0M66.8,723.2h1.0M69.9,738.7h1.0M77.8,725.6h1.0M70.9,693.1h1.0M71.1,698.2h1.0M68.0,737.2h1.0M75.3,720.7h1.0M70.0,699.9h1.0M77.6,723.1h1.0M71.5,704.4h1.0M74.0,695.9h1.0M71.9,702.7h1.0M77.8,724.5h1.0M69.9,719.4h1.0M70.3,700.9h1.0M73.9,700.3h1.0M76.9,735.1h1.0M71.2,694.9h1.0M77.6,730.3h1.0M65.9,732.6h1.0M66.9,721.7h1.0M70.9,701.3h1.0M73.2,717.7h1.0M72.8,700.6h1.0M72.7,739.1h1.0M73.3,699.1h1.0M70.4,696.5h1.0M65.4,726.7h1.0M68.6,720.5h1.0M72.0,699.1h1.0M69.9,719.8h1.0M73.7,702.7h1.0M73.5,719.5h1.0M77.9,724.8h1.0M70.1,699.1h1.0M73.3,701.1h1.0M76.3,735.4h1.0M70.3,719.5h1.0M65.4,729.7h1.0M69.5,737.3h1.0M72.6,701.0h1.0M72.5,702.6h1.0M78.0,723.7h1.0M70.5,700.7h1.0M74.8,718.9h1.0M70.2,696.4h1.0M71.0,699.2h1.0M71.2,691.6h1.0M72.7,696.1h1.0M73.3,694.3h1.0M71.9,693.7h1.0M78.2,725.8h1.0M71.4,693.6h1.0M75.0,720.5h1.0M65.7,725.4h1.0M73.6,703.7h1.0M70.8,694.6h1.0M66.8,735.7h1.0M72.2,706.1h1.0M69.9,692.8h1.0M73.1,695.6h1.0M72.9,700.4h1.0M71.0,693.4h1.0M67.9,721.5h1.0M65.5,726.9h1.0M72.1,695.8h1.0M77.2,733.5h1.0M73.7,700.9h1.0M72.0,700.4h1.0M71.7,695.7h1.0M71.9,702.4h1.0M68.9,737.1h1.0M77.8,730.9h1.0M65.8,726.1h1.0M72.8,699.9h1.0M71.5,695.5h1.0M68.6,738.0h1.0M70.1,718.8h1.0M74.0,737.9h1.0M78.1,728.7h1.0M71.6,694.3h1.0M65.5,732.6h1.0M74.6,738.3h1.0M67.9,737.5h1.0M69.9,699.2h1.0M69.7,699.6h1.0M72.9,719.0h1.0M72.2,694.9h1.0M72.7,738.3h1.0M69.1,719.1h1.0M69.9,698.1h1.0M65.3,725.5h1.0M67.1,722.4h1.0M72.6,696.1h1.0M67.3,722.0h1.0M66.2,735.1h1.0M73.4,703.5h1.0M69.7,699.5h1.0M65.6,726.3h1.0M71.0,691.9h1.0M73.9,701.8h1.0M68.9,720.6h1.0M67.6,722.1h1.0M71.4,718.9h1.0M65.2,731.2h1.0M73.7,738.5h1.0M72.4,695.0h1.0M73.2,695.9h1.0M67.1,722.6h1.0M72.3,697.1h1.0M72.0,699.3h1.0M73.2,693.3h1.0M73.8,718.4h1.0M77.1,721.9h1.0M75.7,721.4h1.0M76.4,719.7h1.0M68.4,720.1h1.0M72.9,738.8h1.0M71.2,719.5h1.0M68.5,737.8h1.0M78.3,724.7h1.0M71.0,703.8h1.0M77.1,733.3h1.0M71.9,690.2h1.0M73.4,703.6h1.0M72.4,703.4h1.0M71.3,703.6h1.0M72.1,693.5h1.0M75.2,719.9h1.0M76.5,721.3h1.0M68.7,738.4h1.0M68.8,737.4h1.0M70.7,696.9h1.0M71.3,719.4h1.0M77.6,735.0h1.0M66.0,723.8h1.0M77.7,731.8h1.0M73.1,739.0h1.0M71.9,738.2h1.0M72.0,695.4h1.0M78.0,726.3h1.0M73.6,696.8h1.0M70.9,719.4h1.0M78.6,727.0h1.0M72.9,705.2h1.0M66.8,723.6h1.0M71.0,689.2h1.0M67.9,721.2h1.0M72.1,694.6h1.0M77.7,733.3h1.0M77.5,733.5h1.0M72.4,700.2h1.0M78.3,726.7h1.0M72.6,699.2h1.0M65.8,723.8h1.0M67.6,721.8h1.0M70.5,692.5h1.0M75.3,720.5h1.0M71.0,703.8h1.0M72.2,699.5h1.0M71.2,702.7h1.0M71.5,702.3h1.0M71.4,696.7h1.0M71.3,719.1h1.0M71.1,701.3h1.0M73.4,699.0h1.0M71.5,695.9h1.0M65.8,723.6h1.0M77.8,724.6h1.0M73.3,719.2h1.0M73.5,702.1h1.0M65.7,724.5h1.0M71.3,696.0h1.0M70.4,694.7h1.0M75.2,720.2h1.0M71.1,702.6h1.0M77.3,721.6h1.0M78.4,731.0h1.0M67.8,721.3h1.0M75.3,737.0h1.0M73.9,719.3h1.0M65.5,729.0h1.0M72.5,695.7h1.0M72.3,694.7h1.0M65.8,724.8h1.0M77.6,727.4h1.0M69.8,696.5h1.0M72.0,738.7h1.0M66.4,724.4h1.0M73.7,699.3h1.0M73.9,699.0h1.0M72.7,703.4h1.0M71.2,738.5h1.0M71.1,698.0h1.0M70.8,698.2h1.0M72.1,718.0h1.0M69.4,719.7h1.0M67.4,736.9h1.0M76.5,736.3h1.0M70.1,718.3h1.0M71.0,690.5h1.0M70.8,699.6h1.0M69.7,695.6h1.0M71.4,692.3h1.0M77.7,730.1h1.0M73.0,701.7h1.0M65.1,728.0h1.0M71.4,690.9h1.0M74.4,738.0h1.0M73.7,702.4h1.0M76.8,723.6h1.0M65.5,729.4h1.0M74.3,718.0h1.0M72.1,693.1h1.0M71.5,703.3h1.0M65.9,733.6h1.0M69.8,696.7h1.0M71.0,698.7h1.0M73.5,704.7h1.0M71.3,697.6h1.0M70.8,692.5h1.0M68.7,721.1h1.0M65.7,733.5h1.0M68.1,721.2h1.0M66.2,734.2h1.0M65.7,725.0h1.0M77.8,730.4h1.0M72.9,700.7h1.0M68.4,737.6h1.0M72.4,691.5h1.0M70.9,691.0h1.0M71.9,701.5h1.0M72.2,690.5h1.0M75.0,718.4h1.0M73.4,696.2h1.0M71.6,701.2h1.0M66.4,722.9h1.0M71.9,690.8h1.0M70.4,691.5h1.0M72.8,719.3h1.0M71.7,702.6h1.0M71.1,694.1h1.0M65.4,728.8h1.0M72.3,703.3h1.0M68.7,719.6h1.0M73.3,702.9h1.0M70.1,695.5h1.0M70.2,694.2h1.0M65.7,724.2h1.0M75.4,720.8h1.0M72.8,698.3h1.0M73.0,717.7h1.0M67.9,737.0h1.0M71.6,691.0h1.0M71.9,690.1h1.0M76.0,720.8h1.0M77.8,722.8h1.0M72.8,693.3h1.0M78.0,725.7h1.0M66.7,723.4h1.0M73.5,702.6h1.0M67.3,736.2h1.0M70.4,691.2h1.0M65.7,723.9h1.0M72.9,696.1h1.0M69.5,719.6h1.0M69.3,738.0h1.0M73.6,695.6h1.0M72.3,691.0h1.0M70.5,694.9h1.0M72.3,695.8h1.0M78.5,725.6h1.0M71.4,691.9h1.0M72.6,704.5h1.0M70.2,702.2h1.0M66.9,722.0h1.0M65.9,733.1h1.0M70.8,689.5h1.0M72.1,691.3h1.0M72.3,699.6h1.0M73.5,698.4h1.0M69.7,693.6h1.0M65.8,724.4h1.0M72.3,702.0h1.0M76.7,720.7h1.0M75.2,719.3h1.0M68.3,737.1h1.0M65.4,726.5h1.0M67.3,736.4h1.0M72.9,704.0h1.0M71.8,696.1h1.0M78.0,727.3h1.0M69.9,695.5h1.0M74.2,717.9h1.0M71.7,701.8h1.0M71.6,702.1h1.0M77.6,731.9h1.0M72.1,701.8h1.0M70.8,702.2h1.0M72.6,696.0h1.0M71.9,699.7h1.0M71.4,717.8h1.0M67.7,722.0h1.0M72.6,694.0h1.0M78.0,730.8h1.0M72.8,692.0h1.0M73.1,692.8h1.0M72.8,697.8h1.0M66.1,724.6h1.0M65.0,728.8h1.0M75.7,721.3h1.0M71.7,703.8h1.0M72.2,701.8h1.0M70.9,697.8h1.0M69.9,739.0h1.0M72.9,699.1h1.0M72.6,693.1h1.0M71.5,691.0h1.0M70.4,738.0h1.0M75.5,736.7h1.0M77.2,734.5h1.0M74.0,702.0h1.0M72.9,695.3h1.0M72.3,697.4h1.0M73.5,697.5h1.0M70.3,694.6h1.0M76.2,735.7h1.0M71.1,702.5h1.0M76.4,720.0h1.0M70.5,696.3h1.0M73.4,695.2h1.0M65.2,728.1h1.0M65.1,729.7h1.0M72.1,705.2h1.0M69.7,737.7h1.0M76.6,721.1h1.0M74.0,701.3h1.0M77.3,734.8h1.0M71.1,693.8h1.0M73.5,701.8h1.0M70.2,695.1h1.0M71.9,692.4h1.0M73.9,738.3h1.0M73.0,697.4h1.0M70.4,696.2h1.0M73.2,696.2h1.0M77.9,725.4h1.0M71.3,695.6h1.0M71.7,695.2h1.0M77.8,723.2h1.0M78.3,728.0h1.0M64.8,729.1h1.0M70.1,696.8h1.0M71.8,719.5h1.0M71.5,701.3h1.0M73.4,704.2h1.0M72.1,704.5h1.0M72.7,696.3h1.0M74.6,737.3h1.0M73.1,699.8h1.0M77.7,726.2h1.0M70.4,700.8h1.0M65.5,726.9h1.0M77.5,734.1h1.0M68.8,719.3h1.0M73.7,697.3h1.0M65.4,725.6h1.0M71.3,700.7h1.0M72.5,699.4h1.0M72.7,696.4h1.0M71.3,689.5h1.0M77.3,721.7h1.0M69.6,698.0h1.0M71.3,703.4h1.0M70.3,692.3h1.0M72.3,699.0h1.0M69.8,698.9h1.0M70.9,738.5h1.0M70.8,694.8h1.0M75.2,720.0h1.0M72.2,701.4h1.0M70.8,700.6h1.0M65.2,731.5h1.0M71.7,696.2h1.0M76.3,735.8h1.0M70.2,695.0h1.0M73.5,694.3h1.0M72.3,700.6h1.0M70.6,701.0h1.0M70.2,700.6h1.0M71.0,695.2h1.0M71.2,697.2h1.0M73.9,699.2h1.0M70.7,691.3h1.0M65.7,732.0h1.0M71.2,693.9h1.0M70.4,737.9h1.0M67.4,737.0h1.0M74.8,736.8h1.0M72.6,703.5h1.0M72.1,694.9h1.0M74.9,719.7h1.0M71.8,701.6h1.0M71.4,697.1h1.0M73.8,700.9h1.0M73.1,697.9h1.0M70.6,698.4h1.0M66.1,733.2h1.0M71.8,738.3h1.0M73.2,696.9h1.0M64.6,729.4h1.0M72.0,692.2h1.0M68.3,737.4h1.0M77.1,733.5h1.0M71.3,701.9h1.0M70.6,697.9h1.0M69.7,695.9h1.0M65.2,727.0h1.0M71.5,691.0h1.0M73.5,695.3h1.0M73.2,694.4h1.0M71.2,691.6h1.0M69.3,719.4h1.0M72.9,699.1h1.0M71.4,693.8h1.0M77.7,732.3h1.0M65.3,730.9h1.0M71.1,702.0h1.0M75.9,721.0h1.0M66.1,723.3h1.0M67.2,721.9h1.0M74.2,737.1h1.0M72.5,695.0h1.0M70.3,693.7h1.0M74.6,719.3h1.0M72.8,703.1h1.0M75.6,721.2h1.0M78.0,730.8h1.0M72.6,698.7h1.0M73.6,703.0h1.0M70.6,693.4h1.0M70.8,692.0h1.0M72.3,700.2h1.0M67.1,736.2h1.0M71.8,718.9h1.0M78.3,725.9h1.0M74.0,700.0h1.0M73.3,695.8h1.0M70.6,697.9h1.0M71.9,692.8h1.0M65.4,725.4h1.0M77.4,723.1h1.0M70.6,692.7h1.0M76.4,736.4h1.0M71.9,699.9h1.0M77.8,733.6h1.0M66.5,724.8h1.0M77.8,730.3h1.0M72.3,701.9h1.0M71.9,694.3h1.0M65.7,734.2h1.0M77.7,727.5h1.0M71.2,704.4h1.0M70.1,693.2h1.0M68.6,737.6h1.0M70.8,692.3h1.0M70.8,697.3h1.0M71.6,696.9h1.0M65.5,726.1h1.0M66.0,732.0h1.0M74.0,701.8h1.0M73.1,717.6h1.0M71.5,699.3h1.0M72.9,719.1h1.0M77.9,725.8h1.0M73.0,697.5h1.0M66.7,736.1h1.0M71.4,718.0h1.0M70.3,702.1h1.0M73.3,700.7h1.0M73.7,702.0h1.0M71.2,697.4h1.0M73.2,703.5h1.0M68.2,720.9h1.0M69.9,738.3h1.0M70.5,701.9h1.0M76.8,735.3h1.0M65.5,730.3h1.0M70.2,700.1h1.0M72.6,693.0h1.0M64.9,727.2h1.0M73.4,699.7h1.0M70.2,720.0h1.0M77.2,722.7h1.0M78.3,726.8h1.0M71.4,704.7h1.0M71.2,701.7h1.0M71.0,700.5h1.0M71.9,702.1h1.0M71.5,700.0h1.0M77.2,724.3h1.0M73.8,737.8h1.0M73.6,701.3h1.0M69.6,698.7h1.0M69.9,695.4h1.0M68.4,736.9h1.0M73.1,696.4h1.0M65.8,726.5h1.0M77.4,733.3h1.0M68.9,737.6h1.0M78.2,724.7h1.0M70.8,692.0h1.0M69.8,698.3h1.0M73.8,718.5h1.0M72.0,694.2h1.0M72.0,691.4h1.0M72.6,692.5h1.0M71.1,700.8h1.0M69.1,719.2h1.0M75.4,719.7h1.0M78.0,725.2h1.0M72.6,719.2h1.0M65.2,727.8h1.0M72.4,693.1h1.0M71.5,701.3h1.0M72.6,700.7h1.0M72.6,694.4h1.0M72.0,696.4h1.0M73.5,699.2h1.0M65.9,725.4h1.0M78.2,729.6h1.0M69.6,719.4h1.0M70.4,696.3h1.0M73.2,694.0h1.0M66.7,722.1h1.0M73.9,698.5h1.0M71.0,697.8h1.0M77.5,724.3h1.0M75.4,737.6h1.0M72.7,695.9h1.0M70.5,693.2h1.0M70.4,719.7h1.0M73.1,704.8h1.0M70.4,695.8h1.0M71.1,689.4h1.0M73.0,698.2h1.0M70.6,691.4h1.0M67.4,736.5h1.0M72.5,698.8h1.0M71.8,702.5h1.0M74.4,737.9h1.0M70.9,698.2h1.0M70.8,693.6h1.0M70.5,697.8h1.0M69.2,720.3h1.0M66.6,735.1h1.0M66.3,733.8h1.0M71.0,691.5h1.0M72.9,700.5h1.0M76.6,719.8h1.0M73.4,738.9h1.0M78.1,733.4h1.0M71.5,696.6h1.0M71.2,717.8h1.0M72.8,703.1h1.0" stroke="#00b4ff" stroke-width="1.0" fill="none"/>
<path d="M65.8,730.2h1.0M67.7,723.4h1.0M68.2,721.9h1.0M74.8,721.7h1.0M67.2,723.8h1.0M72.9,721.0h1.0M75.3,722.0h1.0M69.1,721.2h1.0M77.2,729.4h1.0M73.1,721.1h1.0M70.5,720.7h1.0M66.6,726.7h1.0M75.2,734.8h1.0M70.7,720.5h1.0M70.1,736.7h1.0M70.5,736.7h1.0M71.4,720.2h1.0M68.3,735.3h1.0M65.9,730.8h1.0M77.1,725.3h1.0M66.1,731.3h1.0M69.8,721.4h1.0M71.0,720.2h1.0M71.3,737.1h1.0M75.0,735.3h1.0M66.2,727.1h1.0M69.1,736.0h1.0M74.3,720.5h1.0M66.9,725.2h1.0M76.2,734.0h1.0M71.1,720.9h1.0M76.9,732.9h1.0M66.1,728.9h1.0M76.1,723.6h1.0M69.3,720.9h1.0M69.9,737.5h1.0M65.8,730.3h1.0M75.9,722.9h1.0M74.4,736.6h1.0M67.0,732.4h1.0M69.3,736.6h1.0M73.9,737.3h1.0M71.7,737.8h1.0M66.5,729.5h1.0M72.9,719.7h1.0M72.0,736.7h1.0M70.7,737.0h1.0M69.9,720.8h1.0M67.9,735.2h1.0M68.5,722.6h1.0M77.1,731.4h1.0M72.7,720.5h1.0M77.9,728.9h1.0M77.4,725.3h1.0M75.2,734.7h1.0M71.8,720.9h1.0M70.2,721.0h1.0M73.6,720.9h1.0M67.4,723.7h1.0M76.0,722.7h1.0M76.6,725.2h1.0M65.8,730.7h1.0M69.1,721.8h1.0M67.5,723.0h1.0M74.5,720.5h1.0M73.4,737.5h1.0M75.7,735.1h1.0M77.9,728.5h1.0M71.1,738.0h1.0M74.0,721.0h1.0M76.2,734.6h1.0M72.9,720.9h1.0M67.6,733.7h1.0M77.5,725.8h1.0M67.0,732.9h1.0M66.1,727.5h1.0M77.1,733.3h1.0M72.3,737.1h1.0M72.6,721.0h1.0M66.2,731.3h1.0M77.0,726.5h1.0M65.7,729.4h1.0M69.0,736.3h1.0M67.4,722.6h1.0M70.3,720.8h1.0M72.3,721.0h1.0M66.9,724.6h1.0M72.2,736.8h1.0M76.7,732.6h1.0M73.8,720.4h1.0M76.7,732.5h1.0M66.0,729.7h1.0M77.1,728.1h1.0M73.6,736.3h1.0M69.0,722.2h1.0M67.0,734.5h1.0M66.5,733.0h1.0M71.5,737.8h1.0M69.7,736.8h1.0M75.8,722.6h1.0M67.2,734.1h1.0M73.7,719.9h1.0M74.8,720.8h1.0M76.4,723.9h1.0M67.8,723.5h1.0M66.5,729.5h1.0M69.5,737.1h1.0M66.4,730.2h1.0M71.9,720.2h1.0M68.3,722.4h1.0M76.4,723.4h1.0M70.2,720.6h1.0M76.9,725.8h1.0M68.3,722.4h1.0M68.6,736.2h1.0M66.7,723.8h1.0M69.6,737.3h1.0M77.2,725.5h1.0M77.1,726.2h1.0M71.4,720.9h1.0M67.3,734.0h1.0M66.4,725.5h1.0M72.9,720.3h1.0M75.8,722.6h1.0M75.1,720.9h1.0M76.7,731.3h1.0M75.3,721.8h1.0M77.1,727.1h1.0M76.6,733.6h1.0M76.3,723.9h1.0M72.5,737.0h1.0M71.2,737.8h1.0M67.2,723.7h1.0M70.1,721.2h1.0M66.1,729.1h1.0M76.1,723.1h1.0M65.9,727.9h1.0M76.6,723.8h1.0M65.6,727.0h1.0M70.1,721.3h1.0M76.7,725.0h1.0M68.7,721.3h1.0M66.4,729.5h1.0M71.9,721.0h1.0M75.3,735.6h1.0M76.3,733.5h1.0M65.8,730.6h1.0M71.7,698.0h1.0M69.8,721.3h1.0M66.0,730.0h1.0M73.7,721.2h1.0M75.4,734.9h1.0M70.5,737.3h1.0M68.8,736.2h1.0M73.2,720.5h1.0M66.7,723.8h1.0M67.1,733.1h1.0M77.4,728.5h1.0M66.9,725.6h1.0M68.5,722.8h1.0M76.9,724.6h1.0M69.7,736.4h1.0M76.6,732.8h1.0M74.0,736.1h1.0M76.9,726.1h1.0M75.3,722.5h1.0M66.6,726.8h1.0M65.7,728.6h1.0M76.9,725.5h1.0M67.7,722.1h1.0M66.5,729.9h1.0M65.8,726.6h1.0M66.1,727.3h1.0M77.7,730.1h1.0M77.6,727.5h1.0M74.9,735.9h1.0M77.3,727.1h1.0M76.4,722.4h1.0M73.8,720.4h1.0M73.2,719.6h1.0M69.2,721.0h1.0M76.9,724.7h1.0M74.3,721.1h1.0M77.3,729.9h1.0M71.6,736.6h1.0M76.5,724.1h1.0M76.0,734.9h1.0M68.6,723.0h1.0M66.5,729.4h1.0M73.4,737.2h1.0M77.6,729.4h1.0M70.2,720.5h1.0M66.8,724.2h1.0M72.8,737.2h1.0M72.3,720.8h1.0M69.7,720.3h1.0M72.4,737.3h1.0M68.3,723.0h1.0M66.6,731.2h1.0M76.0,722.8h1.0M78.0,728.6h1.0M68.3,722.3h1.0M77.0,733.0h1.0M74.6,721.8h1.0M70.0,737.3h1.0M66.1,725.5h1.0M69.7,736.8h1.0M67.5,723.3h1.0M74.6,735.6h1.0M69.4,720.6h1.0M71.1,720.6h1.0M76.5,734.5h1.0M66.9,734.6h1.0M71.6,697.7h1.0M72.7,737.1h1.0M76.5,723.5h1.0M67.6,723.4h1.0M73.6,721.1h1.0M73.8,736.7h1.0M67.6,722.6h1.0M71.5,720.8h1.0M76.9,732.9h1.0M72.8,736.9h1.0M75.3,735.7h1.0M65.8,727.4h1.0M66.3,729.8h1.0M70.1,736.8h1.0M66.3,727.5h1.0M76.2,734.7h1.0M75.4,721.3h1.0M68.9,736.2h1.0M72.0,697.9h1.0M72.5,737.9h1.0M66.5,732.3h1.0M70.0,721.4h1.0M67.0,724.1h1.0M69.5,720.7h1.0M67.8,723.2h1.0M76.1,722.9h1.0M72.1,697.2h1.0M66.5,728.1h1.0M71.2,737.6h1.0M71.5,737.5h1.0M68.4,722.6h1.0M74.3,736.9h1.0M75.8,722.8h1.0M74.2,736.8h1.0M66.3,725.4h1.0M75.1,736.4h1.0M74.4,735.8h1.0M74.3,735.6h1.0M66.5,729.6h1.0M73.8,736.3h1.0M66.9,724.5h1.0M73.1,720.2h1.0M76.9,731.4h1.0M67.6,733.7h1.0M75.3,735.0h1.0M74.5,720.9h1.0M77.2,727.2h1.0M67.1,734.5h1.0M74.6,736.3h1.0M74.8,721.6h1.0M70.9,737.4h1.0M65.7,726.8h1.0M74.3,720.4h1.0M73.3,720.6h1.0M72.7,737.0h1.0M67.2,723.5h1.0M66.4,733.1h1.0M71.4,736.6h1.0M77.4,730.3h1.0M65.7,728.3h1.0M66.4,731.8h1.0M77.2,727.5h1.0M71.9,720.9h1.0M66.4,725.7h1.0M72.3,719.8h1.0M66.2,727.6h1.0M67.4,734.3h1.0M72.4,737.7h1.0M76.3,723.9h1.0M66.2,732.8h1.0M67.4,724.6h1.0M66.0,727.8h1.0M67.3,734.6h1.0M66.6,723.9h1.0M76.2,734.6h1.0M73.9,737.1h1.0M71.9,721.0h1.0M77.6,728.0h1.0M76.7,731.8h1.0M66.9,724.8h1.0M66.9,725.8h1.0M68.7,736.6h1.0M66.1,729.4h1.0M71.4,736.7h1.0M77.0,723.7h1.0M76.5,733.3h1.0M67.5,734.8h1.0M71.6,737.8h1.0M76.8,731.8h1.0M67.7,722.7h1.0M72.0,720.9h1.0M77.5,725.4h1.0M75.5,734.7h1.0M70.6,737.0h1.0M75.9,722.9h1.0M75.0,735.1h1.0M77.4,731.3h1.0M69.8,721.5h1.0M71.8,737.0h1.0M76.5,733.7h1.0" stroke="#00e0e0" stroke-width="1.0" fill="none"/>
<path d="M75.8,732.5h1.0M67.2,732.0h1.0M66.7,727.2h1.0M76.6,730.8h1.0M73.9,735.8h1.0M71.0,721.7h1.0M67.8,724.8h1.0M73.9,722.2h1.0M67.4,731.3h1.0M67.2,731.4h1.0M77.0,727.6h1.0M77.1,727.9h1.0M76.3,729.8h1.0M71.8,721.5h1.0M66.8,728.8h1.0M70.6,722.3h1.0M74.9,734.3h1.0M72.2,736.2h1.0M73.9,735.6h1.0M74.0,722.0h1.0M73.5,722.5h1.0M75.4,734.5h1.0M74.8,722.4h1.0M76.5,731.4h1.0M74.3,735.0h1.0M67.0,730.9h1.0M68.0,725.1h1.0M75.0,723.4h1.0M72.5,722.1h1.0M67.3,726.7h1.0M69.2,735.0h1.0M68.8,722.7h1.0M68.4,723.8h1.0M76.4,731.6h1.0M75.0,722.4h1.0M69.8,736.1h1.0M72.3,735.9h1.0M71.8,735.8h1.0M76.7,728.6h1.0M74.0,721.8h1.0M74.8,734.2h1.0M76.4,731.3h1.0M68.1,724.3h1.0M73.5,735.2h1.0M76.3,724.9h1.0M68.7,735.2h1.0M71.5,722.0h1.0M71.1,721.9h1.0M72.2,721.7h1.0M67.2,726.9h1.0M75.8,724.1h1.0M72.5,736.6h1.0M67.1,725.3h1.0M71.3,722.0h1.0M76.6,727.9h1.0M74.0,721.8h1.0M74.3,721.8h1.0M75.0,735.0h1.0M72.9,736.1h1.0M75.3,733.8h1.0M76.3,727.2h1.0M76.2,725.6h1.0M74.8,722.7h1.0M76.2,733.0h1.0M70.1,721.2h1.0M66.8,727.1h1.0M75.2,734.6h1.0M71.5,736.0h1.0M67.1,731.6h1.0M76.1,724.3h1.0M66.7,729.8h1.0M76.2,728.9h1.0M75.6,733.7h1.0M76.6,725.0h1.0M76.2,731.3h1.0M76.4,729.1h1.0M69.7,722.8h1.0M70.0,722.9h1.0M69.6,735.7h1.0M75.4,724.3h1.0M76.3,727.9h1.0M76.0,733.7h1.0M67.3,726.0h1.0M74.2,734.8h1.0M71.1,735.7h1.0M72.6,721.2h1.0M75.4,733.9h1.0M69.9,721.9h1.0M69.6,721.9h1.0M75.9,733.8h1.0M70.5,736.6h1.0M72.4,721.9h1.0M66.9,728.5h1.0M73.2,721.2h1.0M73.8,722.2h1.0M66.7,729.0h1.0M73.4,736.3h1.0M71.3,721.5h1.0M68.4,734.0h1.0M73.4,722.5h1.0M70.3,721.2h1.0M76.9,728.6h1.0M66.7,727.7h1.0M68.4,723.8h1.0M67.2,725.6h1.0M74.9,734.4h1.0M67.7,725.2h1.0M76.5,730.9h1.0M76.7,729.1h1.0M77.0,727.4h1.0M67.0,728.8h1.0M67.9,733.8h1.0M67.2,732.5h1.0M67.7,733.4h1.0M71.7,735.9h1.0M67.7,733.2h1.0M67.7,723.8h1.0M67.6,725.0h1.0M67.7,724.6h1.0M66.8,731.6h1.0M76.8,730.6h1.0M67.1,727.6h1.0M71.0,722.0h1.0M75.8,725.4h1.0M72.0,735.7h1.0M74.1,735.0h1.0M76.3,729.7h1.0M67.1,731.5h1.0M75.6,724.8h1.0M69.2,723.0h1.0M76.4,726.3h1.0M70.1,735.4h1.0M69.3,734.9h1.0M76.3,725.3h1.0M72.7,721.7h1.0M69.8,721.9h1.0M71.5,721.6h1.0M77.0,730.5h1.0M70.4,735.9h1.0M76.2,731.0h1.0M66.8,731.6h1.0M76.3,725.5h1.0M70.1,722.8h1.0M72.4,721.4h1.0M68.8,734.2h1.0M73.4,736.4h1.0M66.8,729.6h1.0M66.9,731.5h1.0M67.2,732.5h1.0M69.4,734.9h1.0M72.7,736.2h1.0M74.9,734.8h1.0M73.6,721.6h1.0M67.2,726.9h1.0M72.4,735.8h1.0M75.7,733.3h1.0M76.3,726.4h1.0M76.0,732.7h1.0M66.9,730.7h1.0M70.0,735.1h1.0M77.0,729.3h1.0M73.1,735.2h1.0M67.8,734.3h1.0M76.5,729.0h1.0M75.5,724.0h1.0M74.7,723.3h1.0M74.8,734.9h1.0M66.7,726.7h1.0M76.9,730.3h1.0M76.3,725.5h1.0M69.2,722.9h1.0M76.1,726.5h1.0M72.7,722.1h1.0M71.5,735.7h1.0M74.9,723.0h1.0M70.2,722.2h1.0M75.5,733.4h1.0M67.2,733.0h1.0M74.3,735.2h1.0M71.3,721.5h1.0M73.6,722.4h1.0M68.1,733.8h1.0M70.3,721.4h1.0M69.6,735.9h1.0M75.7,733.7h1.0M76.5,730.1h1.0M75.3,724.0h1.0M71.4,721.5h1.0M71.8,735.7h1.0M67.2,724.8h1.0M77.0,731.1h1.0M68.8,722.7h1.0M67.5,733.3h1.0M72.2,735.7h1.0M67.9,725.3h1.0M68.2,734.9h1.0M74.9,734.6h1.0M70.4,722.2h1.0M76.6,730.4h1.0M75.9,732.2h1.0M66.9,729.4h1.0M73.1,736.2h1.0M67.1,726.3h1.0M75.1,733.1h1.0M66.8,731.6h1.0M67.2,731.9h1.0M76.1,724.6h1.0M72.1,735.6h1.0M69.2,723.1h1.0M76.3,728.3h1.0M71.3,721.2h1.0M73.7,735.7h1.0M71.2,721.2h1.0M67.0,727.6h1.0M68.1,724.3h1.0M70.1,736.6h1.0M68.5,734.2h1.0M76.4,727.6h1.0M67.3,725.7h1.0M69.1,722.3h1.0M69.1,735.3h1.0M67.1,726.5h1.0M73.9,735.8h1.0M68.3,724.0h1.0M71.0,735.7h1.0M76.8,728.7h1.0M69.4,735.4h1.0M68.7,734.9h1.0M76.9,727.5h1.0M75.1,735.1h1.0M75.5,733.6h1.0M71.1,736.2h1.0M68.1,733.3h1.0M70.6,736.6h1.0M68.2,735.1h1.0M71.1,736.0h1.0M68.1,732.7h1.0M74.2,722.6h1.0M75.5,734.2h1.0M76.8,729.1h1.0M76.2,732.4h1.0M71.6,735.9h1.0M69.9,735.4h1.0M67.7,724.4h1.0M69.8,722.1h1.0M68.9,723.8h1.0M76.1,725.2h1.0M68.7,724.0h1.0M66.9,730.0h1.0M70.5,721.3h1.0M66.8,731.6h1.0M67.4,727.1h1.0M77.0,728.7h1.0M66.7,729.9h1.0M71.2,721.7h1.0M67.0,726.8h1.0M72.1,721.7h1.0M76.6,725.0h1.0M67.9,723.7h1.0M68.8,722.9h1.0M67.4,725.9h1.0M75.7,733.2h1.0M69.0,734.8h1.0M76.6,730.2h1.0M69.8,721.8h1.0M70.4,736.4h1.0M67.2,733.5h1.0M76.2,727.0h1.0M71.1,722.1h1.0M68.0,733.9h1.0M67.1,726.5h1.0M75.2,724.2h1.0M73.2,721.1h1.0M70.5,722.2h1.0M73.7,735.4h1.0M69.9,722.9h1.0M76.4,730.7h1.0M71.4,735.7h1.0M72.8,721.6h1.0M73.5,736.1h1.0M74.2,722.2h1.0M68.8,723.4h1.0M73.8,721.7h1.0M76.9,729.9h1.0M69.0,735.1h1.0M70.3,722.4h1.0M67.6,732.0h1.0M68.3,724.6h1.0M76.4,730.1h1.0M68.2,723.2h1.0M75.1,735.0h1.0M68.1,733.1h1.0M73.2,735.2h1.0M68.9,723.8h1.0M74.1,722.6h1.0M70.2,736.1h1.0M74.3,722.7h1.0M66.9,731.3h1.0M75.4,724.1h1.0M67.4,732.2h1.0M74.2,734.7h1.0M68.1,724.0h1.0M74.8,734.5h1.0M74.1,735.0h1.0M76.4,728.4h1.0M69.9,722.1h1.0M73.4,735.8h1.0M68.7,723.7h1.0M73.6,735.4h1.0M68.7,734.4h1.0M72.6,721.8h1.0M75.4,722.8h1.0M76.2,726.4h1.0M67.6,734.3h1.0M76.4,731.5h1.0M72.8,736.2h1.0M73.1,735.8h1.0M67.4,732.0h1.0M68.3,724.6h1.0M76.5,732.2h1.0M76.1,725.5h1.0M75.0,734.3h1.0M68.6,735.3h1.0M76.6,725.8h1.0M75.3,723.5h1.0M76.2,726.3h1.0M72.9,735.6h1.0M76.8,726.6h1.0M72.5,736.0h1.0M74.6,722.1h1.0M68.3,735.1h1.0M66.8,730.0h1.0M74.3,735.5h1.0M74.3,722.0h1.0M74.6,734.7h1.0M67.5,733.4h1.0" stroke="#30e080" stroke-width="1.0" fill="none"/>
<path d="M70.2,734.2h1.0M71.7,722.3h1.0M67.6,727.8h1.0M75.4,727.6h1.0M74.9,725.6h1.0M67.6,729.6h1.0M69.4,723.3h1.0M75.4,725.9h1.0M67.2,727.4h1.0M75.3,727.3h1.0M68.3,727.0h1.0M75.3,726.2h1.0M71.2,735.1h1.0M72.2,722.4h1.0M75.5,726.6h1.0M68.6,734.0h1.0M67.6,729.2h1.0M72.0,735.4h1.0M74.8,732.9h1.0M67.8,728.9h1.0M69.5,734.1h1.0M68.1,731.2h1.0M70.6,723.6h1.0M68.2,733.4h1.0M75.4,731.7h1.0M75.4,732.1h1.0M68.3,732.4h1.0M71.7,723.2h1.0M75.7,728.8h1.0M76.1,726.4h1.0M68.9,725.4h1.0M74.6,732.9h1.0M75.8,729.3h1.0M74.0,723.4h1.0M74.3,733.2h1.0M73.5,734.1h1.0M75.3,733.0h1.0M70.4,734.6h1.0M67.9,728.5h1.0M68.7,725.3h1.0M76.1,726.1h1.0M74.1,724.9h1.0M71.4,722.8h1.0M69.0,733.0h1.0M67.6,730.9h1.0M75.5,727.0h1.0M69.5,733.8h1.0M75.9,728.1h1.0M68.9,733.9h1.0M76.0,729.7h1.0M69.2,733.5h1.0M75.3,725.9h1.0M73.0,734.6h1.0M75.7,726.5h1.0M75.1,726.4h1.0M67.8,729.7h1.0M73.1,723.1h1.0M76.0,731.5h1.0M72.6,723.2h1.0M70.8,734.4h1.0M74.1,723.8h1.0M70.5,734.2h1.0M70.6,734.6h1.0M75.0,732.6h1.0M72.5,722.5h1.0M72.7,734.5h1.0M74.6,734.3h1.0M69.6,723.4h1.0M76.0,730.1h1.0M67.6,725.9h1.0M70.4,735.6h1.0M71.3,735.3h1.0M74.4,724.7h1.0M74.1,734.6h1.0M70.6,722.8h1.0M73.6,734.9h1.0M75.3,725.5h1.0M67.7,728.2h1.0M76.0,732.0h1.0M75.0,725.3h1.0M71.7,735.0h1.0M72.7,723.0h1.0M70.9,735.3h1.0M67.6,730.8h1.0M70.4,734.7h1.0M72.7,734.8h1.0M73.3,734.3h1.0M72.4,723.5h1.0M74.5,724.1h1.0M73.0,734.2h1.0M72.7,723.3h1.0M68.9,732.6h1.0M73.1,735.0h1.0M68.8,732.6h1.0M72.6,735.2h1.0M70.5,723.3h1.0M73.6,734.0h1.0M68.1,725.9h1.0M70.2,723.6h1.0M74.3,725.0h1.0M68.0,731.2h1.0M74.2,733.9h1.0M69.2,723.5h1.0M70.7,723.0h1.0M74.0,724.5h1.0M68.2,731.3h1.0M70.2,724.1h1.0M67.7,731.1h1.0M67.9,727.3h1.0M72.1,722.8h1.0M74.4,732.9h1.0M67.4,728.5h1.0M69.5,723.4h1.0M75.5,724.6h1.0M70.4,723.1h1.0M69.6,724.0h1.0M67.7,726.2h1.0M75.6,725.6h1.0M68.8,732.8h1.0M71.4,723.5h1.0M76.1,727.0h1.0M72.7,734.7h1.0M67.7,728.4h1.0M75.9,731.9h1.0M72.5,734.8h1.0M74.3,734.4h1.0M68.8,724.8h1.0M70.7,722.4h1.0M75.6,733.1h1.0M75.2,730.3h1.0M68.0,732.1h1.0M68.3,725.7h1.0M69.0,724.8h1.0M75.8,726.6h1.0M73.0,734.4h1.0M75.2,727.9h1.0M71.0,735.4h1.0M67.8,729.5h1.0M67.7,731.2h1.0M70.7,723.4h1.0M75.9,727.6h1.0M68.1,732.3h1.0M73.3,722.7h1.0M69.6,723.6h1.0M75.4,727.4h1.0M72.9,734.5h1.0M67.6,727.7h1.0M69.8,734.6h1.0M68.5,727.0h1.0M67.5,731.0h1.0M68.5,725.3h1.0M73.8,734.1h1.0M72.3,723.0h1.0M69.5,733.2h1.0M68.7,724.5h1.0M73.6,734.3h1.0M74.0,724.2h1.0M74.9,734.0h1.0M68.1,731.0h1.0M68.6,733.5h1.0M69.7,734.4h1.0M75.8,729.0h1.0M71.6,722.4h1.0M71.1,735.2h1.0M75.8,729.1h1.0M72.4,723.4h1.0M75.1,725.2h1.0M76.0,728.4h1.0M69.0,733.5h1.0M68.5,727.0h1.0M73.1,723.5h1.0M70.7,734.5h1.0M75.6,727.5h1.0M74.9,732.2h1.0M72.3,735.6h1.0M75.3,728.1h1.0M67.7,730.2h1.0M71.7,734.7h1.0M75.4,725.0h1.0M67.9,732.1h1.0M68.1,732.5h1.0M74.9,725.8h1.0M73.5,722.7h1.0M75.7,729.1h1.0M68.7,734.0h1.0M73.1,735.4h1.0M75.3,726.7h1.0M74.5,724.4h1.0M76.1,726.5h1.0M67.7,726.9h1.0M72.2,735.3h1.0M72.0,723.0h1.0M69.5,723.5h1.0M67.3,727.7h1.0M70.0,734.9h1.0M75.1,724.9h1.0M73.7,733.7h1.0M69.4,724.9h1.0M69.5,734.1h1.0M73.3,723.3h1.0M75.4,731.7h1.0M75.1,727.1h1.0M69.2,734.1h1.0M74.1,734.5h1.0M72.5,735.1h1.0M67.3,728.0h1.0M74.8,723.6h1.0M75.5,727.1h1.0M72.9,722.7h1.0M67.8,726.7h1.0M75.3,727.2h1.0M68.8,732.7h1.0M74.8,733.7h1.0M69.0,725.1h1.0M68.8,733.1h1.0M73.8,724.3h1.0M75.8,729.1h1.0M75.6,726.8h1.0M75.1,724.8h1.0M74.9,733.6h1.0M72.1,722.7h1.0M69.4,725.0h1.0M69.6,734.1h1.0M72.4,735.1h1.0M74.5,723.2h1.0M67.5,727.1h1.0M70.8,734.3h1.0M68.4,732.5h1.0M67.8,728.4h1.0M71.2,722.7h1.0M67.7,731.7h1.0M72.2,723.4h1.0M73.8,724.0h1.0M74.9,733.2h1.0M68.8,725.6h1.0M72.4,735.5h1.0M75.1,730.5h1.0M74.0,722.8h1.0M74.3,723.8h1.0M75.8,728.3h1.0M67.5,728.1h1.0M75.2,728.0h1.0M72.1,734.9h1.0M76.0,730.3h1.0M75.7,730.2h1.0M68.0,729.0h1.0M71.1,734.8h1.0M74.2,733.4h1.0M70.2,734.9h1.0M73.6,724.0h1.0M67.7,728.9h1.0M74.4,734.1h1.0M70.9,723.3h1.0M75.0,725.9h1.0M73.5,734.7h1.0M74.2,723.2h1.0M70.3,722.8h1.0M75.1,726.4h1.0M75.0,732.7h1.0M75.7,729.7h1.0M74.2,724.4h1.0M73.3,723.4h1.0M70.9,722.8h1.0M72.0,722.5h1.0M72.2,722.9h1.0M69.4,733.9h1.0M74.3,723.3h1.0M69.5,733.7h1.0M75.4,730.7h1.0M67.8,728.2h1.0M74.1,724.2h1.0M74.0,724.4h1.0M72.1,734.5h1.0M72.5,734.8h1.0M72.0,734.8h1.0M68.0,732.1h1.0M71.6,723.4h1.0M73.4,734.1h1.0M72.8,734.4h1.0M71.4,722.2h1.0M67.7,726.3h1.0M67.3,731.1h1.0M70.9,722.4h1.0M75.9,729.2h1.0M68.3,733.4h1.0M75.2,732.9h1.0M75.2,726.4h1.0M75.5,724.9h1.0M69.6,734.1h1.0M68.2,724.7h1.0M75.5,726.4h1.0M67.9,729.6h1.0M73.1,734.1h1.0M74.8,733.9h1.0M68.7,724.6h1.0M73.7,734.6h1.0M71.5,734.6h1.0M72.5,723.3h1.0M68.5,732.4h1.0M75.2,724.8h1.0M70.6,735.5h1.0M69.4,724.2h1.0M75.2,727.1h1.0M72.8,722.7h1.0M68.6,731.9h1.0M68.3,731.9h1.0M70.8,734.9h1.0M73.0,722.9h1.0M71.8,722.3h1.0M69.8,723.6h1.0M72.8,723.6h1.0M75.0,732.2h1.0M72.1,735.0h1.0M72.6,735.6h1.0M72.7,734.7h1.0M67.7,729.8h1.0M72.1,735.2h1.0M74.6,723.7h1.0M72.1,734.8h1.0M71.0,722.7h1.0M76.1,726.6h1.0M71.3,735.1h1.0M67.5,731.0h1.0M69.5,733.9h1.0M67.8,731.5h1.0M68.4,731.1h1.0M67.7,726.9h1.0M72.8,723.4h1.0M68.7,732.9h1.0M68.0,730.9h1.0M71.0,723.6h1.0M67.6,729.6h1.0M73.3,723.0h1.0M74.7,726.1h1.0M75.0,725.5h1.0M68.4,733.4h1.0M67.3,731.0h1.0M71.9,722.9h1.0M70.3,734.6h1.0M75.7,727.5h1.0M72.5,722.7h1.0M71.2,722.8h1.0M70.8,723.0h1.0M76.0,731.3h1.0M69.3,723.2h1.0M73.2,735.0h1.0M70.4,734.6h1.0M74.8,725.7h1.0M68.7,733.1h1.0M74.3,723.4h1.0M75.7,728.2h1.0M76.0,731.8h1.0M74.2,724.8h1.0M76.0,726.6h1.0M73.6,723.4h1.0M74.8,732.9h1.0M67.6,727.3h1.0M75.4,730.6h1.0M70.6,734.8h1.0M68.1,725.9h1.0M72.5,722.3h1.0M75.8,731.0h1.0M75.2,732.6h1.0M69.5,723.3h1.0M69.2,734.5h1.0M74.6,733.9h1.0M68.3,732.7h1.0M75.6,727.4h1.0M67.7,727.8h1.0M72.0,722.8h1.0M76.0,726.0h1.0M67.9,731.3h1.0M67.7,730.0h1.0M75.6,726.3h1.0M68.4,731.3h1.0M73.8,723.0h1.0M72.4,735.1h1.0M75.2,730.9h1.0M74.5,733.6h1.0M70.3,734.6h1.0M76.1,726.3h1.0" stroke="#50e030" stroke-width="1.0" fill="none"/>
<path d="M69.1,730.8h1.0M68.8,728.2h1.0M73.7,726.2h1.0M71.1,734.3h1.0M69.9,732.0h1.0M73.5,732.6h1.0M74.2,728.0h1.0M74.9,727.7h1.0M74.0,731.3h1.0M73.5,733.9h1.0M73.4,732.9h1.0M73.5,734.0h1.0M69.0,726.3h1.0M68.4,729.4h1.0M74.8,731.9h1.0M71.5,732.9h1.0M69.1,725.6h1.0M68.4,729.4h1.0M68.9,728.1h1.0M71.5,724.8h1.0M74.4,730.7h1.0M73.2,732.8h1.0M70.3,725.0h1.0M72.8,725.4h1.0M71.2,724.4h1.0M69.1,731.2h1.0M71.3,733.4h1.0M69.3,733.0h1.0M73.3,725.0h1.0M69.4,726.9h1.0M75.2,729.9h1.0M75.5,729.7h1.0M73.2,724.3h1.0M75.5,728.5h1.0M74.9,728.5h1.0M69.3,731.2h1.0M73.4,725.6h1.0M74.3,729.9h1.0M69.0,725.8h1.0M72.4,733.2h1.0M71.6,725.0h1.0M70.0,732.5h1.0M71.6,734.1h1.0M71.4,724.2h1.0M75.2,728.8h1.0M74.7,726.5h1.0M72.6,732.9h1.0M74.0,725.5h1.0M74.5,732.1h1.0M70.8,734.1h1.0M68.1,730.9h1.0M68.2,730.1h1.0M68.6,732.4h1.0M68.5,728.3h1.0M68.6,727.3h1.0M71.7,724.0h1.0M70.5,725.1h1.0M74.0,731.8h1.0M69.1,732.9h1.0M72.5,723.9h1.0M72.6,725.5h1.0M73.6,724.7h1.0M74.4,731.8h1.0M75.3,729.0h1.0M69.6,725.9h1.0M71.3,733.3h1.0M71.7,733.9h1.0M74.1,729.5h1.0M70.6,732.9h1.0M68.9,730.7h1.0M70.8,724.9h1.0M74.8,727.9h1.0M74.9,728.6h1.0M75.0,729.5h1.0M74.6,729.3h1.0M74.6,728.8h1.0M71.2,733.7h1.0M70.3,732.2h1.0M74.5,731.2h1.0M68.8,726.9h1.0M68.8,728.1h1.0M73.7,725.6h1.0M74.4,727.3h1.0M69.5,725.9h1.0M71.9,724.1h1.0M68.9,732.4h1.0M73.4,733.8h1.0M74.0,732.3h1.0M68.6,732.2h1.0M74.8,730.5h1.0M69.3,726.7h1.0M68.1,727.6h1.0M71.9,733.0h1.0M68.7,731.2h1.0M73.7,726.4h1.0M74.5,730.2h1.0M72.8,724.7h1.0M73.7,732.5h1.0M73.9,733.1h1.0M74.7,726.9h1.0M75.0,730.6h1.0M71.9,734.6h1.0M74.7,728.3h1.0M73.2,732.8h1.0M68.5,729.4h1.0M71.4,733.3h1.0M68.5,729.0h1.0M69.5,731.9h1.0M72.6,724.0h1.0M73.5,725.7h1.0M71.5,734.1h1.0M69.1,726.6h1.0M69.6,731.2h1.0M74.1,725.7h1.0M72.0,734.6h1.0M74.6,730.2h1.0M72.8,733.9h1.0M74.9,729.1h1.0M74.2,732.5h1.0M71.3,733.6h1.0M73.7,732.7h1.0M73.5,733.7h1.0M70.1,725.4h1.0M70.0,725.9h1.0M71.1,724.6h1.0M70.9,725.2h1.0M72.9,725.2h1.0M70.2,725.0h1.0M69.6,732.6h1.0M72.7,733.4h1.0M72.0,724.2h1.0M71.9,734.1h1.0M70.3,724.7h1.0M75.5,729.3h1.0M69.2,730.9h1.0M73.0,732.8h1.0M70.3,733.6h1.0M68.3,729.8h1.0M71.8,723.8h1.0M74.3,730.6h1.0M70.7,733.9h1.0M75.5,729.4h1.0M71.8,724.1h1.0M72.2,724.0h1.0M69.5,731.5h1.0M72.2,724.9h1.0M70.4,724.3h1.0M72.9,724.1h1.0M72.3,724.3h1.0M73.2,732.3h1.0M73.6,731.7h1.0M69.2,725.3h1.0M72.8,733.6h1.0M75.0,728.8h1.0M72.4,732.8h1.0M72.8,733.5h1.0M73.6,732.3h1.0M71.0,724.9h1.0M73.2,724.7h1.0M74.3,727.2h1.0M72.6,725.6h1.0M74.0,726.5h1.0M69.4,727.5h1.0M70.4,724.9h1.0M71.3,733.4h1.0M74.3,732.4h1.0M72.1,733.6h1.0M68.8,729.4h1.0M71.3,733.1h1.0M70.4,732.4h1.0M71.1,732.8h1.0M69.7,733.3h1.0M68.6,729.3h1.0M71.8,733.9h1.0M69.7,726.5h1.0M73.9,725.1h1.0M68.6,728.3h1.0M70.6,725.8h1.0M71.6,724.6h1.0M71.9,732.7h1.0M68.9,727.1h1.0M71.9,734.0h1.0M75.5,728.8h1.0M71.3,724.0h1.0M69.8,726.1h1.0M71.8,724.1h1.0M74.1,728.1h1.0M73.9,724.9h1.0M69.3,727.2h1.0M74.7,728.6h1.0M74.3,729.2h1.0M74.6,732.3h1.0M69.0,727.8h1.0M68.7,729.9h1.0M68.9,726.7h1.0M69.7,733.4h1.0M73.0,732.9h1.0M71.7,734.1h1.0M71.5,724.3h1.0M70.4,733.3h1.0M73.0,723.7h1.0M73.0,732.8h1.0M69.3,731.5h1.0M73.2,732.7h1.0M74.3,726.3h1.0M71.1,724.2h1.0M75.4,729.5h1.0M69.0,732.1h1.0M70.4,732.4h1.0M73.6,726.3h1.0M68.9,727.7h1.0M73.2,726.0h1.0M74.7,731.0h1.0M70.6,732.8h1.0M70.2,724.2h1.0M69.5,727.1h1.0M69.4,732.6h1.0M71.4,733.4h1.0M70.6,734.0h1.0M74.9,728.4h1.0M69.0,728.4h1.0M74.7,730.9h1.0M70.0,732.7h1.0M70.8,725.2h1.0M72.6,725.3h1.0M75.1,728.6h1.0M70.1,733.1h1.0M69.8,724.9h1.0M71.2,724.7h1.0M70.9,733.0h1.0M74.6,731.4h1.0M73.4,733.3h1.0M75.0,731.6h1.0M74.2,727.6h1.0M71.2,733.0h1.0M73.9,726.2h1.0M73.5,732.3h1.0M70.9,733.5h1.0M75.1,729.4h1.0M68.8,727.0h1.0M74.1,732.2h1.0M72.1,733.2h1.0M71.9,733.6h1.0M70.3,732.4h1.0M73.6,731.6h1.0M69.6,726.2h1.0M73.4,734.0h1.0M72.1,725.0h1.0M74.6,727.4h1.0M72.9,733.6h1.0M74.8,728.4h1.0M70.7,733.3h1.0M74.1,731.1h1.0M74.1,726.3h1.0M74.3,730.9h1.0M70.8,733.8h1.0M69.0,730.6h1.0M70.9,733.0h1.0M74.6,730.8h1.0M68.7,731.6h1.0M74.3,731.4h1.0M72.6,732.8h1.0M73.7,731.2h1.0M72.3,734.1h1.0M68.9,729.6h1.0M71.7,734.2h1.0M69.7,733.6h1.0M71.1,733.9h1.0M74.2,730.9h1.0M68.7,729.1h1.0M70.1,724.2h1.0M72.0,724.9h1.0M71.8,733.7h1.0M69.4,725.5h1.0M74.3,729.4h1.0M70.8,724.1h1.0M70.4,724.1h1.0M71.3,723.8h1.0M74.1,729.3h1.0M74.4,730.0h1.0M70.5,725.6h1.0M73.0,725.1h1.0M71.3,734.4h1.0M69.0,727.9h1.0M73.3,725.7h1.0M69.6,727.1h1.0M68.7,732.6h1.0M68.7,725.6h1.0M70.4,732.5h1.0M68.7,731.2h1.0M72.3,733.2h1.0M72.5,724.8h1.0M70.5,734.1h1.0M68.2,730.5h1.0M70.7,724.0h1.0M74.0,726.0h1.0M74.9,729.4h1.0M74.7,726.5h1.0M72.4,732.8h1.0M74.9,727.0h1.0M72.9,733.0h1.0M70.4,732.9h1.0M70.2,726.0h1.0M71.7,724.6h1.0M74.9,728.5h1.0M70.0,726.3h1.0M70.4,733.8h1.0M68.3,729.2h1.0M69.4,725.3h1.0M68.1,730.2h1.0M74.7,726.4h1.0M69.5,725.5h1.0M68.9,731.1h1.0M73.4,733.5h1.0M72.8,724.7h1.0M70.8,724.5h1.0M68.8,731.3h1.0M74.4,731.3h1.0M68.9,729.3h1.0M69.7,726.3h1.0M72.0,733.8h1.0M72.4,732.8h1.0M73.5,733.4h1.0M74.6,732.0h1.0M73.6,725.6h1.0M70.1,732.0h1.0M73.8,725.2h1.0M69.6,732.5h1.0M74.2,728.6h1.0M70.0,731.9h1.0M68.1,727.4h1.0M68.6,730.8h1.0M73.8,724.9h1.0M70.9,724.1h1.0M73.5,733.3h1.0M71.0,733.5h1.0M72.5,733.2h1.0M73.6,725.5h1.0M74.9,731.9h1.0M74.1,726.6h1.0M74.4,729.7h1.0M73.6,733.2h1.0M68.5,729.1h1.0M68.3,727.4h1.0M75.0,731.2h1.0M74.3,726.8h1.0M70.4,734.1h1.0M75.5,729.8h1.0M74.5,728.0h1.0M74.6,725.1h1.0M74.9,730.9h1.0M73.7,732.9h1.0M74.0,725.1h1.0M69.1,727.9h1.0M68.2,728.9h1.0M69.5,731.3h1.0M69.7,726.1h1.0M72.6,733.3h1.0M69.8,733.4h1.0M74.2,728.3h1.0M74.9,726.2h1.0M72.5,732.8h1.0M72.7,733.2h1.0M73.6,732.9h1.0M68.7,729.2h1.0M75.6,729.4h1.0M72.6,733.7h1.0M74.4,728.3h1.0M70.9,733.5h1.0M73.8,726.4h1.0M75.3,728.5h1.0M69.1,732.1h1.0M74.3,730.6h1.0M73.6,725.0h1.0M69.1,727.3h1.0M73.2,732.9h1.0M70.0,733.0h1.0M68.6,728.9h1.0M75.5,728.2h1.0M72.9,724.9h1.0M74.3,727.8h1.0M69.5,725.7h1.0M74.6,730.6h1.0M74.4,730.5h1.0M75.0,729.5h1.0M71.1,725.2h1.0M72.9,724.8h1.0M69.3,726.8h1.0M69.7,733.1h1.0M74.3,728.0h1.0M68.8,728.6h1.0M74.7,728.6h1.0M74.2,726.8h1.0M74.6,731.4h1.0M73.5,732.5h1.0M69.9,733.4h1.0M71.8,734.4h1.0M69.7,726.1h1.0M70.8,733.0h1.0M73.0,723.8h1.0M71.7,734.3h1.0M70.1,733.6h1.0M74.5,728.7h1.0M73.2,724.8h1.0M70.7,734.0h1.0M70.2,733.4h1.0M68.3,727.6h1.0M68.5,730.3h1.0M72.9,725.5h1.0M71.9,732.9h1.0M74.3,726.0h1.0M70.1,725.9h1.0" stroke="#f0f000" stroke-width="1.0" fill="none"/>
<path d="M74.0,730.7h1.0M71.7,726.2h1.0M69.8,730.1h1.0M72.5,731.7h1.0M69.6,731.0h1.0M70.4,727.3h1.0M70.2,731.5h1.0M69.6,730.4h1.0M73.2,730.7h1.0M70.0,727.6h1.0M72.3,732.2h1.0M69.7,727.2h1.0M70.1,727.1h1.0M69.2,728.0h1.0M73.3,730.8h1.0M69.8,730.0h1.0M73.6,730.3h1.0M73.9,728.7h1.0M70.1,726.8h1.0M70.6,732.1h1.0M70.9,732.5h1.0M71.7,732.0h1.0M69.9,730.5h1.0M70.6,731.0h1.0M69.6,729.9h1.0M70.6,730.7h1.0M70.8,726.6h1.0M72.3,732.5h1.0M70.3,727.4h1.0M72.2,731.6h1.0M73.0,726.1h1.0M72.1,732.0h1.0M69.8,727.8h1.0M71.2,725.8h1.0M73.6,727.6h1.0M73.2,727.0h1.0M71.6,726.0h1.0M69.9,730.1h1.0M70.3,726.7h1.0M73.7,729.9h1.0M73.8,729.2h1.0M71.1,725.5h1.0M71.9,732.5h1.0M70.6,731.0h1.0M69.8,727.4h1.0M73.7,728.2h1.0M73.5,727.1h1.0M69.6,730.1h1.0M72.9,726.4h1.0M71.4,726.2h1.0M69.6,728.6h1.0M73.3,731.1h1.0M70.6,727.0h1.0M70.0,728.4h1.0M72.2,725.9h1.0M71.8,726.2h1.0M73.5,727.2h1.0M69.5,730.3h1.0M69.6,728.3h1.0M71.0,726.7h1.0M71.3,732.0h1.0M73.2,731.0h1.0M70.4,732.1h1.0M69.4,730.1h1.0M69.6,730.3h1.0M70.9,732.4h1.0M70.6,725.9h1.0M71.3,725.5h1.0M73.6,728.7h1.0M71.8,726.5h1.0M72.3,732.2h1.0M71.2,725.7h1.0M69.9,729.7h1.0M69.5,728.0h1.0M69.6,730.0h1.0M69.9,728.3h1.0M73.3,726.5h1.0M72.4,726.4h1.0M71.9,725.9h1.0M70.5,731.7h1.0M71.7,725.9h1.0M72.7,726.7h1.0M70.6,726.4h1.0M73.5,727.0h1.0M72.6,732.4h1.0M69.2,728.5h1.0M71.7,725.3h1.0M71.2,725.6h1.0M71.7,732.0h1.0M73.5,730.9h1.0M73.7,730.0h1.0M72.3,725.6h1.0M69.3,729.2h1.0M69.4,729.4h1.0M69.6,726.7h1.0M70.7,726.5h1.0M73.6,728.3h1.0M72.8,731.2h1.0M69.6,729.1h1.0M73.1,727.9h1.0M69.6,728.1h1.0M69.9,728.1h1.0M73.0,726.3h1.0M72.7,731.7h1.0M69.9,731.0h1.0M71.6,725.5h1.0M72.7,731.3h1.0M72.7,726.4h1.0M73.3,727.4h1.0M69.8,731.3h1.0M71.5,732.3h1.0M70.6,731.8h1.0M69.6,728.0h1.0M73.9,731.0h1.0M73.8,727.6h1.0M70.1,731.2h1.0M72.1,731.9h1.0M69.5,728.8h1.0M70.1,731.6h1.0M71.6,731.9h1.0M72.8,731.1h1.0M70.0,729.2h1.0M70.7,726.3h1.0M73.2,730.4h1.0M73.0,726.4h1.0M70.9,732.5h1.0M72.4,732.2h1.0M72.8,726.1h1.0M70.6,731.7h1.0M72.9,732.2h1.0M72.8,726.3h1.0M70.1,731.4h1.0M72.8,726.2h1.0M69.4,728.4h1.0M74.0,727.7h1.0M69.8,727.8h1.0M73.6,727.8h1.0M71.6,732.0h1.0M71.3,726.3h1.0M69.4,728.5h1.0M69.8,727.4h1.0M72.8,731.8h1.0M74.0,729.9h1.0M72.7,725.8h1.0M73.6,727.6h1.0M71.0,726.2h1.0M69.5,729.0h1.0M72.8,726.0h1.0M74.0,728.3h1.0M74.1,729.8h1.0M73.1,731.2h1.0M73.8,730.4h1.0M69.6,729.4h1.0M70.1,729.5h1.0M70.4,731.4h1.0M70.1,728.3h1.0M71.0,725.7h1.0M73.3,727.4h1.0M69.7,727.1h1.0M73.7,729.9h1.0M73.8,726.9h1.0M70.1,731.4h1.0M69.9,731.1h1.0M73.4,727.4h1.0M72.2,725.8h1.0M73.9,731.0h1.0M70.1,731.0h1.0M73.4,730.2h1.0M73.8,730.9h1.0M71.0,725.9h1.0M70.8,731.8h1.0M71.1,725.6h1.0M69.4,730.2h1.0M71.8,732.4h1.0M72.9,731.8h1.0M70.2,731.6h1.0M70.6,731.3h1.0M70.5,730.9h1.0M73.2,731.6h1.0M71.3,726.6h1.0M73.7,728.7h1.0M69.3,728.6h1.0M69.5,729.8h1.0M73.6,727.0h1.0M69.8,728.0h1.0M71.0,726.4h1.0M70.1,731.9h1.0M73.2,728.0h1.0M69.9,729.4h1.0M71.3,726.5h1.0M71.9,726.0h1.0M72.1,726.2h1.0M69.9,727.9h1.0M73.2,726.2h1.0M70.0,728.6h1.0M72.3,726.0h1.0M72.8,731.7h1.0M70.9,726.7h1.0M73.1,725.8h1.0M71.0,732.0h1.0M73.4,730.7h1.0M73.7,728.4h1.0M73.8,730.0h1.0M72.5,725.6h1.0M71.9,726.4h1.0M72.9,732.5h1.0M73.7,728.3h1.0M73.5,727.0h1.0M71.4,732.2h1.0M69.6,729.1h1.0M71.8,731.6h1.0M73.8,729.5h1.0M69.3,729.6h1.0M72.3,726.3h1.0M70.9,726.6h1.0M73.7,727.4h1.0M73.6,727.4h1.0M70.9,731.5h1.0M73.3,726.5h1.0M71.0,731.6h1.0M71.0,726.0h1.0M71.4,732.5h1.0M70.7,731.7h1.0M69.7,727.7h1.0M71.8,732.4h1.0M72.9,726.2h1.0M69.6,730.5h1.0M72.4,732.1h1.0M72.8,726.2h1.0M69.5,728.3h1.0M72.8,731.4h1.0" stroke="#ff9000" stroke-width="1.0" fill="none"/>
<path d="M70.7,730.8h1.0M71.1,729.5h1.0M72.4,731.0h1.0M73.5,728.6h1.0M71.9,728.5h1.0M72.7,728.8h1.0M71.1,726.7h1.0M70.6,728.3h1.0M71.7,728.1h1.0M71.4,727.7h1.0M73.0,728.5h1.0M73.3,729.2h1.0M72.6,730.6h1.0M71.5,729.8h1.0M72.1,728.6h1.0M72.8,729.0h1.0M72.9,727.8h1.0M70.8,728.2h1.0M70.8,728.3h1.0M72.3,729.3h1.0M71.2,726.9h1.0M71.2,726.6h1.0M71.7,727.6h1.0M71.0,730.8h1.0M71.8,729.9h1.0M71.9,731.0h1.0M70.4,730.0h1.0M72.4,729.7h1.0M71.6,728.3h1.0M72.6,728.8h1.0M72.7,730.8h1.0M70.4,730.2h1.0M71.6,730.6h1.0M71.7,730.6h1.0M71.8,728.2h1.0M70.2,727.9h1.0M71.8,731.1h1.0M71.4,729.5h1.0M72.2,730.3h1.0M71.8,729.4h1.0M72.3,728.8h1.0M71.2,727.8h1.0M72.0,726.7h1.0M71.9,727.5h1.0M70.8,729.7h1.0M72.1,730.3h1.0M72.7,727.9h1.0M70.5,727.9h1.0M71.2,727.8h1.0M71.1,730.6h1.0M70.9,728.4h1.0M73.5,729.5h1.0M71.4,730.4h1.0M71.4,731.6h1.0M72.6,729.9h1.0M72.1,730.2h1.0M71.7,729.1h1.0M71.8,728.0h1.0M70.9,728.0h1.0M72.2,728.6h1.0M72.4,730.9h1.0M71.5,728.3h1.0M72.9,727.8h1.0M70.9,727.3h1.0M71.5,727.4h1.0M72.2,728.4h1.0M73.1,729.8h1.0M71.7,730.8h1.0M70.6,727.1h1.0M71.7,728.5h1.0M71.0,727.4h1.0M73.6,729.8h1.0M73.0,730.4h1.0M72.9,727.9h1.0M71.6,730.4h1.0M71.1,727.7h1.0M72.9,730.9h1.0M70.6,728.0h1.0M71.5,727.5h1.0M72.4,729.3h1.0M71.1,728.4h1.0M72.2,727.0h1.0M73.3,728.2h1.0M72.7,730.7h1.0M71.1,727.0h1.0M70.6,727.3h1.0M71.2,729.2h1.0M71.1,727.2h1.0M73.1,728.5h1.0M71.1,727.9h1.0M73.3,729.1h1.0M70.5,728.0h1.0M71.3,726.8h1.0M71.3,728.5h1.0M71.7,728.8h1.0M71.8,726.6h1.0M73.1,728.1h1.0M72.9,730.6h1.0M71.6,727.3h1.0M70.9,729.9h1.0M70.7,730.2h1.0M71.9,727.1h1.0M72.0,727.3h1.0M70.5,727.7h1.0M73.1,730.1h1.0M73.0,728.0h1.0M72.8,728.3h1.0M71.5,727.3h1.0M71.0,730.1h1.0M72.6,728.9h1.0M71.3,728.3h1.0M70.5,729.1h1.0M71.3,730.7h1.0M71.4,731.1h1.0M71.8,727.6h1.0M71.0,727.7h1.0M71.8,729.2h1.0M71.7,728.9h1.0M72.0,730.7h1.0M70.9,731.1h1.0M73.1,729.7h1.0M72.8,728.7h1.0M72.1,731.1h1.0M73.1,730.1h1.0M71.4,729.5h1.0M72.1,731.5h1.0M71.7,729.5h1.0M71.2,727.2h1.0M72.6,730.2h1.0M71.8,726.9h1.0M72.2,727.6h1.0M71.5,731.2h1.0M72.4,729.8h1.0M72.0,730.9h1.0M72.4,726.7h1.0M72.5,729.2h1.0M70.3,729.6h1.0M71.7,728.9h1.0M72.6,729.9h1.0M73.4,729.0h1.0M73.2,728.1h1.0M72.3,728.5h1.0M72.5,730.2h1.0M70.9,727.2h1.0M71.7,729.7h1.0M72.5,731.1h1.0M72.4,730.2h1.0M72.0,729.6h1.0M72.5,731.3h1.0M71.8,726.8h1.0M70.6,727.7h1.0M72.4,729.1h1.0M72.4,730.4h1.0M70.4,729.2h1.0M72.2,727.7h1.0M70.9,729.9h1.0M71.3,729.2h1.0M71.9,727.6h1.0M70.4,728.7h1.0M72.5,726.9h1.0M71.6,728.4h1.0M70.9,728.3h1.0M72.2,730.4h1.0M70.4,729.0h1.0M70.4,728.0h1.0M70.6,729.7h1.0M72.3,731.5h1.0M71.7,729.9h1.0M73.5,728.4h1.0M72.7,727.2h1.0M72.2,727.1h1.0M73.3,728.5h1.0M71.0,729.2h1.0M71.9,729.9h1.0M72.2,727.0h1.0M71.5,727.7h1.0M72.7,728.7h1.0M71.7,727.8h1.0M71.8,729.7h1.0M71.3,730.4h1.0M70.3,728.2h1.0M71.4,729.4h1.0M71.8,731.6h1.0M72.5,727.7h1.0M73.0,729.0h1.0M72.5,729.9h1.0M73.6,729.0h1.0M71.8,731.0h1.0M71.1,731.5h1.0M72.1,729.3h1.0M72.4,728.0h1.0M70.9,729.5h1.0M72.9,727.4h1.0M72.0,727.6h1.0M71.0,729.3h1.0M72.6,730.5h1.0M72.0,730.3h1.0M73.0,727.4h1.0M70.2,729.5h1.0M73.4,730.0h1.0M72.5,728.7h1.0M71.7,730.5h1.0M72.1,727.0h1.0M71.4,728.3h1.0M70.9,727.3h1.0M72.3,730.9h1.0M70.4,729.0h1.0M71.8,730.9h1.0M70.8,730.8h1.0M72.8,730.3h1.0M72.9,728.4h1.0M71.3,730.9h1.0M72.3,730.3h1.0M72.7,730.8h1.0M71.2,728.6h1.0M70.9,728.1h1.0M72.1,729.7h1.0M72.0,730.5h1.0M73.1,730.4h1.0M72.5,729.9h1.0M73.3,729.0h1.0M72.7,728.4h1.0M71.8,731.0h1.0M72.2,730.4h1.0M70.5,728.1h1.0M71.4,728.1h1.0M71.5,728.2h1.0M71.8,730.5h1.0M71.4,730.2h1.0M71.3,728.7h1.0M71.8,728.6h1.0M71.3,729.9h1.0M72.2,726.8h1.0M71.3,727.7h1.0" stroke="#ff1000" stroke-width="1.0" fill="none"/>
<rect x="141.2" y="669.6" width="84" height="84.8" fill="none" stroke="#8a8a8a" stroke-width="0.8"/>
<path d="M140.0,673.0h1.2M140.0,675.5h1.2M140.0,678.1h1.2M140.0,683.2h1.2M139.2,691.6h2.0M140.0,695.0h1.2M140.0,698.4h1.2M140.0,701.8h1.2M140.0,705.2h1.2M139.2,712.0h2.0M140.0,717.1h1.2M140.0,720.5h1.2M140.0,723.9h1.2M140.0,727.3h1.2M139.2,735.7h2.0M140.0,741.7h1.2M140.0,748.5h1.2M139.2,751.9h2.0M145.4,754.4v2.0M149.6,754.4v1.2M151.3,754.4v1.2M158.0,754.4v1.2M162.2,754.4v1.2M166.4,754.4v1.2M171.4,754.4v1.2M176.5,754.4v2.0M183.2,754.4v1.2M187.4,754.4v1.2M191.6,754.4v1.2M198.3,754.4v1.2M201.7,754.4v2.0M205.0,754.4v1.2M208.4,754.4v1.2M214.3,754.4v1.2M216.8,754.4v1.2M221.0,754.4v2.0" stroke="#666" stroke-width="0.6" fill="none"/>
<rect x="139.0" y="734.472" width="1.8" height="2" fill="#111"/>
<rect x="159.67999999999998" y="754.6999999999999" width="3" height="1.8" fill="#111"/>
<path d="M171.2,711.3h1.0M163.1,706.4h1.0M158.7,744.6h1.0M189.0,726.1h1.0M164.9,677.9h1.0M187.3,735.6h1.0M149.7,730.8h1.0M163.4,674.3h1.0M151.7,726.4h1.0M160.0,695.2h1.0M163.8,677.2h1.0M155.2,688.2h1.0M162.9,710.6h1.0M163.0,698.5h1.0M161.5,747.7h1.0M169.8,701.6h1.0M172.2,724.3h1.0M149.0,728.0h1.0M175.0,733.9h1.0M172.8,718.8h1.0M166.5,695.0h1.0M159.1,711.1h1.0M159.4,713.2h1.0M163.0,707.4h1.0M161.8,696.0h1.0M174.4,699.5h1.0M150.1,726.9h1.0M179.7,731.3h1.0M165.8,690.0h1.0M168.2,709.2h1.0M159.1,703.4h1.0M164.9,693.1h1.0M161.2,680.2h1.0M158.6,680.4h1.0M158.3,679.3h1.0M184.0,727.5h1.0M177.9,708.4h1.0M173.3,732.8h1.0M165.5,691.5h1.0M161.9,701.5h1.0M183.9,731.8h1.0M153.3,713.0h1.0M188.6,729.1h1.0M171.5,729.2h1.0M165.5,743.3h1.0M169.6,711.0h1.0M153.6,740.4h1.0M150.9,736.2h1.0M157.4,691.3h1.0M163.1,672.8h1.0M162.7,743.4h1.0M154.3,719.6h1.0M171.0,710.6h1.0M166.6,708.5h1.0M157.0,691.1h1.0M171.4,733.5h1.0M149.1,724.7h1.0M162.6,700.8h1.0M168.3,704.8h1.0M152.0,722.5h1.0M169.7,721.4h1.0M177.9,697.9h1.0M187.7,730.4h1.0M205.6,727.2h1.0M151.1,732.9h1.0M168.3,690.7h1.0M163.1,743.4h1.0M197.0,729.2h1.0M160.9,700.5h1.0M162.3,679.1h1.0M173.4,717.0h1.0M152.2,740.2h1.0M163.3,709.4h1.0M162.3,741.7h1.0M160.9,699.0h1.0M166.9,740.6h1.0M164.6,695.7h1.0M163.4,742.6h1.0M180.9,733.4h1.0M156.9,686.7h1.0M171.7,729.7h1.0M172.1,731.1h1.0M156.3,697.6h1.0M158.2,711.4h1.0M168.3,706.7h1.0M166.9,741.7h1.0M165.7,686.4h1.0M164.7,678.3h1.0M156.2,703.5h1.0M164.0,710.3h1.0M173.8,721.4h1.0M150.4,714.2h1.0M156.4,711.4h1.0M173.5,709.3h1.0M156.0,719.0h1.0M156.7,691.5h1.0M171.1,707.9h1.0M157.4,696.3h1.0M165.7,691.6h1.0M152.6,723.8h1.0M162.0,699.6h1.0M173.0,730.7h1.0M169.1,739.1h1.0M163.2,696.1h1.0M156.1,688.0h1.0M163.9,742.8h1.0M155.4,742.2h1.0M153.5,690.4h1.0M169.9,721.6h1.0M158.0,715.4h1.0M165.4,678.5h1.0M183.2,726.3h1.0M171.1,727.0h1.0M159.3,680.4h1.0M165.9,692.8h1.0M182.2,727.3h1.0M157.5,692.5h1.0M179.8,730.3h1.0M168.2,694.6h1.0M179.9,712.3h1.0M153.5,688.4h1.0M149.4,733.4h1.0M162.7,709.3h1.0M161.3,706.1h1.0M158.8,744.3h1.0M156.3,706.5h1.0M189.9,695.7h1.0M154.9,714.6h1.0M159.9,703.3h1.0M154.9,740.5h1.0M164.8,744.0h1.0M205.8,727.3h1.0M158.6,706.2h1.0M168.4,687.7h1.0M162.8,697.2h1.0M154.9,720.1h1.0M180.3,726.3h1.0M156.4,741.3h1.0M170.7,724.5h1.0M159.8,700.0h1.0M171.6,710.6h1.0M151.2,737.1h1.0M166.7,685.6h1.0M164.8,676.2h1.0M156.4,690.6h1.0M183.6,688.9h1.0M162.8,680.3h1.0M170.6,693.2h1.0M171.4,720.9h1.0M172.8,713.9h1.0M166.2,691.8h1.0M158.8,694.1h1.0M159.9,712.4h1.0M157.9,680.9h1.0M171.4,744.3h1.0M165.8,694.5h1.0M173.1,731.2h1.0M163.2,671.1h1.0M176.5,716.2h1.0M156.8,688.6h1.0M162.2,742.5h1.0M164.4,682.4h1.0M152.2,695.5h1.0M164.1,695.4h1.0M165.0,741.8h1.0M149.8,733.3h1.0M193.3,689.9h1.0M186.2,728.1h1.0M193.5,732.0h1.0M169.8,690.3h1.0M155.4,718.0h1.0M172.9,730.9h1.0M150.3,729.7h1.0M174.3,715.5h1.0M162.5,705.5h1.0M173.3,709.2h1.0M159.8,697.4h1.0M175.5,691.3h1.0M157.2,685.2h1.0M167.7,709.5h1.0M171.9,718.2h1.0M160.3,697.8h1.0M179.5,730.0h1.0M179.5,735.3h1.0M161.0,700.2h1.0M165.3,710.0h1.0M147.1,726.0h1.0M192.5,727.6h1.0M175.0,715.7h1.0M177.2,687.0h1.0M165.7,688.8h1.0M158.5,747.8h1.0M173.7,733.2h1.0M165.9,740.8h1.0M153.2,722.1h1.0M180.9,702.7h1.0M163.7,704.2h1.0M159.7,695.2h1.0M197.8,729.5h1.0M159.8,695.6h1.0M168.4,710.7h1.0M160.3,701.9h1.0M155.9,692.8h1.0M168.3,743.3h1.0M174.3,711.4h1.0M162.1,742.4h1.0M175.9,728.7h1.0M173.2,722.9h1.0M159.2,696.2h1.0M174.1,712.9h1.0M173.7,712.4h1.0M175.6,722.2h1.0M165.8,700.0h1.0M155.7,739.9h1.0M175.5,714.9h1.0M191.3,731.8h1.0M155.4,678.3h1.0M163.6,710.0h1.0M166.4,682.1h1.0M163.1,695.5h1.0M183.3,679.3h1.0M166.9,709.7h1.0M161.4,703.0h1.0M150.3,733.6h1.0M193.0,693.6h1.0M170.7,734.1h1.0M206.0,733.2h1.0M179.2,728.9h1.0M173.0,732.6h1.0M166.9,680.7h1.0M174.9,710.4h1.0M173.8,692.8h1.0M189.7,683.9h1.0M150.1,732.2h1.0M156.7,683.1h1.0M158.6,743.6h1.0M153.5,716.4h1.0M194.1,730.8h1.0M155.0,683.7h1.0M161.3,706.1h1.0M188.7,730.1h1.0M164.5,709.6h1.0M167.7,688.2h1.0M151.1,727.2h1.0M167.6,709.2h1.0M160.4,696.6h1.0M161.3,695.8h1.0M147.7,725.1h1.0M211.7,735.3h1.0M162.2,710.0h1.0M165.4,694.1h1.0M162.7,677.6h1.0M175.6,731.7h1.0M203.9,726.9h1.0M163.0,697.9h1.0M172.1,742.1h1.0M165.6,684.1h1.0M155.0,690.1h1.0M158.1,693.5h1.0M160.4,674.6h1.0M166.3,693.6h1.0M175.7,723.2h1.0M157.5,682.1h1.0M152.0,737.0h1.0M170.8,739.9h1.0M158.7,680.4h1.0M172.9,717.3h1.0M151.6,733.1h1.0M173.2,720.8h1.0M173.6,716.6h1.0M160.7,704.6h1.0M163.2,701.5h1.0M165.4,685.8h1.0M153.2,681.0h1.0M161.7,711.5h1.0M165.3,710.3h1.0M164.9,743.0h1.0M164.2,696.9h1.0M175.1,707.7h1.0M179.2,728.1h1.0M157.6,680.8h1.0M191.6,696.6h1.0M154.5,696.6h1.0M157.0,699.3h1.0M172.8,695.1h1.0M157.2,714.8h1.0M166.8,685.1h1.0M183.4,703.5h1.0M169.6,736.8h1.0M162.0,743.8h1.0M172.0,719.3h1.0M162.5,696.7h1.0M173.8,725.8h1.0M166.0,688.4h1.0M176.8,716.2h1.0M170.6,712.1h1.0M158.4,710.6h1.0M178.9,730.6h1.0M156.3,691.1h1.0M164.1,699.8h1.0M201.1,727.6h1.0M160.0,697.4h1.0M149.8,728.8h1.0M184.6,731.1h1.0M175.0,714.3h1.0M158.9,700.2h1.0M172.5,726.5h1.0M154.0,686.3h1.0M165.6,710.5h1.0M170.8,735.5h1.0M167.1,709.0h1.0M163.3,742.3h1.0M175.3,731.8h1.0M156.3,683.1h1.0M157.2,693.8h1.0M176.0,728.4h1.0M161.0,702.4h1.0M167.1,690.7h1.0M169.6,738.5h1.0M166.6,690.4h1.0M163.3,709.1h1.0M165.6,686.1h1.0M153.3,685.6h1.0M161.0,680.2h1.0M172.3,713.3h1.0M171.9,711.4h1.0M160.9,705.5h1.0M150.0,726.1h1.0M149.8,732.5h1.0M158.1,701.3h1.0M167.3,710.3h1.0M160.4,697.6h1.0M163.6,680.9h1.0M166.5,740.2h1.0M159.8,700.2h1.0M166.7,685.4h1.0M156.1,680.0h1.0M156.8,687.8h1.0M155.5,705.9h1.0M161.9,710.9h1.0M150.9,739.3h1.0M154.1,686.6h1.0M165.8,695.1h1.0M174.6,723.7h1.0M158.0,696.6h1.0M188.9,687.5h1.0M159.8,712.5h1.0M195.8,728.4h1.0M143.6,739.6h1.0M181.6,680.4h1.0M155.9,689.7h1.0M167.7,690.2h1.0M178.0,732.6h1.0M159.0,742.4h1.0M162.2,676.1h1.0M159.2,681.0h1.0M151.9,737.1h1.0M165.9,688.2h1.0M150.4,737.2h1.0M153.3,716.1h1.0M159.5,713.4h1.0M154.6,679.0h1.0M153.8,717.2h1.0M151.8,724.2h1.0M162.2,695.4h1.0M146.1,730.3h1.0M157.0,715.2h1.0M158.6,696.7h1.0M157.5,747.3h1.0M154.9,690.0h1.0M170.0,710.6h1.0M168.4,738.2h1.0M163.8,700.5h1.0M155.6,685.2h1.0M157.7,694.1h1.0M159.0,680.7h1.0M184.3,731.9h1.0M149.0,729.9h1.0M163.2,695.4h1.0M167.2,694.9h1.0M167.3,686.1h1.0M190.4,728.6h1.0M164.7,743.2h1.0M166.0,681.2h1.0M174.0,721.5h1.0M156.9,684.9h1.0M176.1,715.8h1.0M173.6,709.5h1.0M171.4,729.8h1.0M158.7,696.4h1.0M172.1,713.0h1.0M168.6,684.0h1.0M163.5,697.1h1.0M159.4,713.6h1.0M165.2,680.5h1.0M161.8,699.2h1.0M156.5,705.2h1.0M196.3,730.8h1.0M191.1,694.4h1.0M152.5,723.8h1.0M167.5,743.5h1.0M178.9,716.1h1.0M166.5,745.7h1.0M160.0,696.3h1.0M155.0,688.8h1.0M158.3,696.3h1.0M156.2,691.6h1.0M166.6,683.7h1.0M167.8,739.6h1.0M165.3,691.6h1.0M160.1,712.7h1.0M154.5,741.5h1.0M190.3,729.9h1.0M155.6,741.6h1.0M161.2,744.1h1.0M165.7,689.3h1.0M161.4,695.7h1.0M168.1,707.0h1.0M158.0,682.8h1.0M154.8,688.0h1.0M172.7,714.4h1.0M158.6,680.3h1.0M198.0,732.4h1.0M171.0,725.0h1.0M188.9,732.7h1.0M166.7,740.4h1.0M149.4,726.7h1.0M156.6,696.1h1.0M173.2,715.1h1.0M161.3,696.3h1.0M162.9,680.1h1.0M176.1,715.7h1.0M169.3,687.6h1.0M171.5,734.4h1.0M161.4,710.6h1.0M174.1,713.8h1.0M155.6,702.6h1.0M163.2,709.5h1.0M162.4,699.3h1.0M163.4,708.7h1.0M165.7,683.5h1.0M174.2,715.7h1.0M164.2,703.5h1.0M173.0,722.8h1.0M184.5,728.2h1.0M163.1,710.4h1.0M168.6,711.0h1.0M159.1,742.6h1.0M166.0,685.5h1.0M171.5,711.7h1.0M168.2,687.7h1.0M157.2,741.5h1.0M171.7,710.5h1.0M161.3,695.8h1.0M162.9,674.6h1.0M159.9,699.6h1.0M193.5,730.9h1.0M169.4,710.2h1.0M187.4,729.9h1.0M171.4,711.5h1.0M170.5,707.8h1.0M152.4,721.4h1.0M178.0,694.0h1.0M166.5,686.8h1.0M161.7,679.1h1.0M156.6,693.1h1.0M161.5,697.0h1.0M156.8,697.0h1.0M174.8,714.3h1.0M173.6,723.0h1.0M168.7,688.6h1.0M168.6,688.7h1.0M153.1,737.7h1.0M171.0,711.4h1.0M174.0,714.1h1.0M172.7,727.7h1.0M171.1,727.2h1.0M164.1,742.6h1.0M151.7,728.4h1.0M162.0,744.1h1.0M170.2,736.2h1.0M174.3,731.7h1.0M170.3,736.0h1.0M182.7,681.7h1.0M153.6,737.8h1.0M199.0,733.0h1.0M165.2,689.9h1.0M173.6,718.4h1.0M158.1,711.1h1.0M160.9,696.7h1.0M179.0,732.9h1.0M165.6,691.8h1.0M178.1,725.7h1.0M165.3,692.7h1.0M163.6,743.5h1.0M172.7,738.2h1.0M152.1,721.4h1.0M156.1,719.4h1.0M166.4,702.4h1.0M168.7,709.3h1.0M184.4,732.7h1.0M165.4,707.4h1.0M156.1,685.1h1.0M189.1,728.8h1.0M156.3,690.3h1.0M151.8,723.8h1.0M166.3,694.0h1.0M159.2,746.2h1.0M168.3,738.1h1.0M160.1,711.4h1.0M171.9,729.6h1.0M165.7,682.2h1.0M159.6,697.0h1.0M158.9,710.0h1.0M158.0,677.8h1.0M171.2,726.6h1.0M198.0,726.3h1.0M168.5,737.8h1.0M178.4,694.0h1.0M161.4,677.6h1.0M165.5,689.8h1.0M177.3,718.6h1.0M157.1,675.7h1.0M150.4,731.2h1.0M184.2,731.5h1.0M168.0,684.0h1.0M195.2,691.5h1.0M156.5,694.4h1.0M165.9,689.7h1.0M157.0,701.2h1.0M156.3,685.6h1.0M149.5,727.0h1.0M149.0,725.5h1.0M149.1,728.0h1.0M179.9,725.9h1.0M171.0,731.9h1.0M176.7,714.5h1.0M165.9,692.9h1.0M150.9,733.4h1.0M194.6,731.9h1.0M154.0,686.0h1.0M158.4,682.3h1.0M168.0,739.8h1.0M178.3,716.2h1.0M179.5,736.2h1.0M179.8,686.1h1.0M181.9,725.5h1.0M156.2,693.0h1.0M173.4,716.3h1.0M170.9,723.4h1.0M156.1,708.2h1.0M165.9,688.3h1.0M166.7,688.1h1.0M159.7,697.8h1.0M162.0,699.6h1.0M205.3,731.7h1.0M165.8,704.9h1.0M174.9,730.0h1.0M149.8,727.0h1.0M174.9,713.2h1.0M150.5,726.7h1.0M150.0,729.2h1.0M173.7,716.0h1.0M154.0,687.7h1.0M157.0,679.6h1.0M168.7,687.2h1.0M159.4,699.5h1.0M174.2,732.2h1.0M171.1,733.7h1.0M152.8,679.6h1.0M166.4,683.4h1.0M156.5,742.4h1.0M174.2,732.6h1.0M173.9,719.4h1.0M161.3,673.4h1.0M165.4,703.6h1.0M153.4,738.5h1.0M159.1,713.2h1.0M189.6,731.2h1.0M176.7,714.3h1.0M155.5,688.1h1.0M165.2,700.7h1.0M194.9,697.9h1.0M173.4,713.2h1.0M194.1,691.4h1.0M151.6,720.4h1.0M179.9,727.1h1.0M153.5,718.6h1.0M158.3,675.8h1.0M197.3,725.5h1.0M184.4,730.1h1.0M201.9,723.1h1.0M170.0,708.0h1.0M158.3,710.1h1.0M152.8,670.8h1.0M156.7,716.7h1.0M178.0,696.9h1.0M155.2,685.3h1.0M165.5,742.1h1.0M194.0,727.7h1.0M165.3,710.2h1.0M170.3,707.5h1.0M163.7,696.1h1.0M163.1,680.0h1.0M150.3,737.0h1.0M163.6,698.6h1.0M179.1,732.3h1.0M154.5,690.1h1.0M155.9,687.1h1.0M163.5,675.8h1.0M162.8,699.8h1.0M163.4,697.3h1.0M154.3,719.9h1.0M171.0,732.4h1.0M158.6,681.8h1.0M183.0,697.9h1.0M153.4,737.2h1.0M155.0,679.5h1.0M165.7,709.2h1.0M172.4,727.1h1.0M152.1,681.0h1.0M154.6,739.5h1.0M183.0,728.7h1.0M160.0,679.6h1.0M171.6,735.6h1.0M170.1,710.8h1.0M183.6,728.1h1.0M168.0,708.7h1.0M164.8,695.1h1.0M152.3,735.9h1.0M162.8,681.1h1.0M158.1,712.3h1.0M161.1,677.6h1.0M192.2,734.1h1.0M150.1,732.9h1.0M168.4,691.4h1.0M162.8,675.9h1.0M157.1,694.0h1.0M159.0,710.4h1.0M165.2,741.9h1.0M170.0,723.1h1.0M194.6,733.9h1.0M171.2,700.1h1.0M176.2,711.0h1.0M157.3,712.4h1.0M183.9,726.5h1.0M164.2,742.5h1.0M156.0,690.8h1.0M154.4,739.8h1.0M160.6,695.7h1.0M187.9,730.5h1.0M170.1,739.5h1.0M165.6,686.5h1.0M151.0,720.1h1.0M157.4,684.5h1.0M166.5,687.4h1.0M180.2,703.0h1.0M154.4,720.2h1.0M158.8,679.6h1.0M156.3,688.7h1.0M185.4,730.9h1.0M155.8,699.5h1.0M196.3,730.1h1.0M150.3,739.8h1.0M151.3,735.7h1.0M174.0,728.1h1.0M165.1,697.6h1.0M159.3,713.6h1.0M161.5,743.3h1.0M162.7,702.2h1.0M170.7,710.7h1.0M186.7,730.0h1.0M161.9,704.5h1.0M164.6,673.4h1.0M170.5,723.4h1.0M154.4,685.0h1.0M182.9,729.2h1.0M162.2,679.9h1.0M151.4,725.4h1.0M185.1,695.6h1.0M174.4,730.3h1.0M174.5,734.6h1.0M151.1,725.5h1.0M178.7,730.4h1.0M162.9,695.3h1.0M198.8,731.0h1.0M172.4,735.5h1.0M156.5,681.8h1.0M166.6,741.9h1.0M161.6,676.7h1.0M170.9,724.1h1.0M185.8,731.6h1.0M193.3,725.1h1.0M160.1,700.1h1.0M157.2,695.7h1.0M170.6,721.0h1.0M159.7,699.2h1.0M156.8,693.1h1.0M180.3,729.9h1.0M175.4,730.3h1.0M165.4,700.6h1.0M170.0,735.5h1.0M150.3,725.4h1.0M166.5,690.4h1.0M156.8,715.5h1.0M164.6,680.4h1.0M163.8,709.1h1.0M160.3,678.5h1.0M191.8,729.3h1.0M166.1,691.0h1.0M155.5,685.1h1.0M157.2,684.0h1.0M165.8,672.4h1.0M153.6,710.9h1.0M163.7,704.0h1.0M158.9,695.5h1.0M155.4,692.8h1.0M151.7,735.2h1.0M178.5,732.3h1.0M170.8,727.8h1.0M184.3,685.5h1.0M162.6,677.3h1.0M162.5,710.8h1.0M156.1,677.3h1.0M176.0,731.7h1.0M151.9,700.2h1.0M167.2,709.9h1.0M169.1,738.1h1.0M159.7,712.2h1.0M172.1,730.9h1.0M162.2,701.6h1.0M189.9,730.0h1.0M170.4,735.8h1.0M154.2,738.6h1.0M170.7,734.5h1.0M163.1,696.7h1.0M157.9,681.7h1.0M206.3,733.9h1.0M174.4,712.0h1.0M161.5,696.9h1.0M161.4,679.8h1.0M155.6,742.3h1.0M163.3,699.3h1.0M163.6,743.3h1.0M187.4,730.1h1.0M166.3,691.6h1.0M164.9,742.2h1.0M172.9,725.7h1.0M155.5,741.7h1.0M168.3,710.0h1.0M166.6,709.3h1.0M173.1,712.8h1.0M163.0,696.9h1.0" stroke="#1414ff" stroke-width="1.0" fill="none"/>
<path d="M170.6,719.4h1.0M161.7,716.2h1.0M159.3,686.6h1.0M163.3,687.0h1.0M169.4,714.0h1.0M164.1,712.5h1.0M168.2,714.5h1.0M158.5,693.6h1.0M158.0,684.9h1.0M167.7,711.5h1.0M160.4,715.6h1.0M171.2,713.1h1.0M159.7,686.8h1.0M163.2,739.9h1.0M163.4,714.5h1.0M160.5,694.5h1.0M164.2,739.6h1.0M170.2,731.5h1.0M157.8,688.7h1.0M166.8,738.0h1.0M159.7,681.5h1.0M163.8,691.3h1.0M158.0,720.2h1.0M160.7,715.4h1.0M158.4,740.1h1.0M159.9,690.4h1.0M171.6,718.6h1.0M167.6,736.3h1.0M159.4,717.8h1.0M168.0,713.8h1.0M153.2,734.5h1.0M160.8,684.8h1.0M169.3,729.6h1.0M157.3,690.4h1.0M159.1,685.9h1.0M160.3,689.1h1.0M168.1,718.3h1.0M164.3,740.4h1.0M169.3,717.0h1.0M159.4,688.7h1.0M159.3,718.5h1.0M159.3,686.1h1.0M164.3,687.9h1.0M168.9,711.9h1.0M163.5,681.6h1.0M168.7,732.8h1.0M169.8,724.6h1.0M155.4,720.9h1.0M162.7,689.0h1.0M162.5,690.0h1.0M167.6,722.7h1.0M160.6,715.1h1.0M152.7,729.5h1.0M166.2,739.5h1.0M161.8,715.6h1.0M158.8,690.7h1.0M163.8,693.0h1.0M159.6,689.3h1.0M158.4,685.2h1.0M162.0,693.6h1.0M155.3,738.9h1.0M151.9,733.3h1.0M169.9,711.7h1.0M158.5,690.6h1.0M160.1,683.7h1.0M169.2,713.1h1.0M159.0,687.0h1.0M162.5,681.4h1.0M160.2,683.5h1.0M154.6,735.7h1.0M159.1,740.5h1.0M155.3,739.1h1.0M160.4,682.9h1.0M158.5,689.1h1.0M163.6,682.0h1.0M168.5,725.1h1.0M171.2,715.3h1.0M161.3,712.0h1.0M162.8,683.4h1.0M158.4,717.7h1.0M161.1,684.7h1.0M166.3,713.4h1.0M169.8,728.2h1.0M159.1,718.6h1.0M155.8,737.9h1.0M160.6,692.3h1.0M168.1,713.0h1.0M167.6,719.7h1.0M170.0,725.9h1.0M168.3,712.0h1.0M158.0,740.4h1.0M168.1,723.0h1.0M160.1,715.8h1.0M160.5,689.4h1.0M157.6,720.5h1.0M160.3,718.0h1.0M165.0,689.7h1.0M168.8,721.9h1.0M161.6,684.2h1.0M169.7,726.6h1.0M166.8,720.8h1.0M162.5,686.8h1.0M159.6,686.3h1.0M169.5,715.9h1.0M162.9,687.8h1.0M159.7,717.2h1.0M155.2,723.3h1.0M169.3,715.1h1.0M159.8,715.4h1.0M162.8,693.3h1.0M162.4,693.1h1.0M159.0,715.8h1.0M170.9,714.3h1.0M158.6,690.1h1.0M161.1,718.1h1.0M168.9,714.0h1.0M160.2,690.8h1.0M164.0,713.4h1.0M159.2,682.2h1.0M165.4,711.2h1.0M164.0,692.7h1.0M162.2,681.6h1.0M164.6,714.1h1.0M163.2,714.0h1.0M153.1,733.1h1.0M171.0,718.5h1.0M164.5,713.5h1.0M163.6,688.6h1.0M158.4,690.7h1.0M162.4,694.5h1.0M160.7,688.3h1.0M168.8,722.3h1.0M169.2,726.0h1.0M162.8,712.8h1.0M169.5,714.9h1.0M168.2,720.2h1.0M170.2,712.8h1.0M161.5,714.9h1.0M167.8,713.2h1.0M160.0,683.4h1.0M160.9,693.5h1.0M163.7,692.6h1.0M164.8,710.9h1.0M168.4,724.8h1.0M167.1,713.0h1.0M161.3,691.8h1.0M166.6,739.9h1.0M163.7,691.0h1.0M158.0,739.5h1.0M168.6,713.1h1.0M157.9,687.3h1.0M163.2,686.9h1.0M159.1,691.9h1.0M159.4,686.9h1.0M161.6,716.8h1.0M154.4,722.4h1.0M168.5,735.9h1.0M166.8,713.2h1.0M166.1,712.1h1.0M155.6,720.6h1.0M151.5,730.5h1.0M169.7,731.5h1.0M163.6,684.0h1.0M157.2,720.2h1.0M160.4,688.5h1.0M169.3,711.4h1.0M160.6,691.8h1.0M169.4,719.7h1.0M159.9,683.6h1.0M162.8,688.0h1.0M160.7,715.7h1.0M157.7,686.7h1.0M170.5,715.0h1.0M158.5,687.6h1.0M168.6,711.3h1.0M161.8,691.1h1.0M165.7,738.8h1.0M161.5,695.4h1.0M168.9,726.1h1.0M164.9,712.3h1.0M169.6,715.5h1.0M163.6,692.8h1.0M166.7,738.4h1.0M163.8,683.9h1.0M160.6,715.9h1.0M160.6,690.3h1.0M160.9,712.7h1.0M162.3,714.2h1.0M159.3,690.7h1.0M163.5,739.9h1.0M160.2,714.5h1.0M160.5,716.9h1.0M160.9,691.6h1.0M161.6,716.2h1.0M161.2,716.5h1.0M163.7,684.1h1.0M158.4,683.9h1.0M161.8,715.5h1.0M169.4,733.5h1.0M163.3,687.5h1.0M160.6,741.9h1.0M170.6,730.8h1.0M155.6,720.1h1.0M160.8,690.9h1.0M158.0,740.7h1.0M156.0,721.5h1.0M169.4,718.1h1.0M164.5,712.7h1.0M158.4,687.2h1.0M165.1,713.1h1.0M171.9,717.3h1.0M162.4,689.5h1.0M163.3,693.3h1.0M163.7,686.0h1.0M152.9,724.0h1.0M164.0,686.7h1.0M170.3,713.2h1.0M169.9,727.7h1.0M166.0,713.1h1.0M156.4,738.3h1.0M158.6,683.7h1.0M168.8,724.8h1.0M164.6,740.9h1.0M152.8,731.5h1.0M169.3,730.7h1.0M160.9,689.5h1.0M163.8,690.1h1.0M170.2,715.5h1.0M161.6,712.6h1.0M153.1,727.3h1.0M162.8,712.2h1.0M158.0,740.2h1.0M159.9,688.6h1.0M159.2,717.7h1.0M156.6,738.4h1.0M162.0,713.3h1.0M165.5,710.8h1.0M165.4,713.0h1.0M158.3,718.3h1.0M168.4,723.8h1.0M167.4,719.3h1.0M169.9,714.6h1.0M168.3,724.1h1.0M158.1,740.1h1.0M171.0,714.3h1.0M160.7,692.2h1.0M157.5,720.7h1.0M169.4,713.8h1.0M162.4,691.7h1.0M158.0,688.4h1.0M164.3,740.4h1.0M162.4,692.4h1.0M160.1,690.2h1.0M166.1,711.9h1.0M161.8,713.2h1.0M170.6,720.1h1.0M159.0,693.4h1.0M170.3,715.6h1.0M154.7,738.7h1.0M160.0,691.3h1.0M155.2,738.2h1.0M151.2,730.2h1.0M159.1,689.6h1.0M158.4,685.5h1.0M162.4,740.6h1.0M158.5,739.9h1.0M154.0,737.8h1.0M156.7,739.4h1.0M153.2,725.7h1.0M167.7,719.9h1.0M162.2,691.3h1.0M168.9,711.8h1.0M160.5,690.5h1.0M154.9,736.9h1.0M158.9,682.6h1.0M160.8,714.7h1.0M163.9,713.6h1.0M152.5,731.8h1.0M161.4,715.6h1.0M163.3,713.6h1.0M170.8,718.9h1.0M169.2,731.2h1.0M158.8,685.8h1.0M163.8,690.5h1.0M158.5,684.4h1.0M165.3,712.3h1.0M159.7,684.5h1.0M167.8,723.8h1.0M160.5,686.0h1.0M160.8,688.9h1.0M166.1,712.9h1.0M170.0,717.5h1.0M167.4,722.7h1.0M159.8,694.6h1.0M169.4,714.2h1.0M168.9,724.4h1.0M162.7,711.6h1.0M161.0,691.5h1.0M154.1,724.5h1.0M170.7,728.4h1.0M153.1,735.7h1.0M163.0,686.0h1.0M161.5,682.5h1.0M162.3,687.2h1.0M164.4,685.7h1.0M167.2,738.3h1.0M168.2,734.1h1.0M159.2,686.6h1.0M169.4,711.7h1.0M161.7,712.4h1.0M153.1,733.0h1.0M162.5,739.8h1.0M166.3,738.8h1.0M169.3,716.5h1.0M162.1,685.0h1.0M161.1,716.9h1.0M169.2,732.2h1.0M169.7,714.0h1.0M158.5,690.8h1.0M159.6,684.9h1.0M161.8,714.6h1.0M161.5,681.4h1.0M161.8,684.7h1.0M164.3,683.8h1.0M163.4,689.6h1.0M152.3,730.8h1.0M154.6,738.2h1.0M160.4,694.3h1.0M160.7,692.5h1.0M153.7,723.6h1.0M163.5,684.4h1.0M163.4,741.3h1.0M170.0,713.4h1.0M169.0,724.1h1.0M165.8,711.8h1.0M163.9,712.3h1.0M160.3,689.6h1.0M159.8,692.5h1.0M160.8,681.1h1.0M170.8,728.9h1.0M161.6,688.9h1.0M157.9,683.8h1.0M167.4,720.7h1.0M169.4,731.8h1.0M165.6,712.0h1.0M158.8,688.3h1.0M163.0,690.9h1.0M159.2,687.8h1.0M159.3,691.6h1.0M162.9,693.8h1.0M162.7,690.7h1.0M154.7,736.6h1.0M169.3,730.4h1.0M159.6,685.6h1.0M171.4,714.3h1.0M170.4,717.2h1.0M164.7,687.1h1.0M160.2,685.9h1.0M163.1,740.2h1.0M158.6,686.0h1.0M167.9,718.5h1.0M166.3,711.4h1.0M160.1,688.8h1.0M168.9,712.6h1.0M155.1,737.8h1.0M162.7,688.3h1.0M171.0,717.6h1.0M170.8,719.6h1.0M162.0,716.2h1.0M154.6,737.1h1.0M169.4,722.3h1.0M159.2,716.1h1.0M168.7,722.9h1.0M152.0,729.2h1.0M159.0,684.3h1.0M162.1,684.0h1.0M157.9,739.8h1.0M162.0,688.9h1.0M152.7,728.7h1.0M160.1,689.4h1.0M159.2,686.8h1.0M162.5,711.2h1.0M157.2,720.8h1.0M169.6,712.2h1.0M163.0,712.1h1.0M153.8,723.9h1.0M164.1,684.2h1.0M163.4,712.3h1.0M166.8,712.4h1.0M162.9,692.0h1.0M155.3,720.2h1.0M163.0,714.7h1.0M159.1,739.7h1.0M168.5,717.6h1.0M162.4,694.3h1.0M160.7,692.0h1.0M162.7,683.9h1.0M170.1,724.1h1.0M158.7,684.5h1.0M171.5,714.9h1.0M160.8,681.9h1.0M169.6,733.6h1.0M166.4,712.9h1.0M163.5,691.3h1.0M160.4,683.9h1.0M160.0,691.6h1.0M157.2,688.4h1.0M168.6,723.4h1.0M158.8,719.2h1.0M159.0,740.8h1.0M171.8,715.9h1.0M170.1,717.5h1.0M164.1,713.8h1.0M159.2,741.2h1.0M159.1,688.5h1.0M166.4,738.5h1.0M157.8,683.7h1.0M161.0,690.6h1.0M152.3,727.2h1.0M155.3,721.0h1.0M169.9,726.8h1.0M159.4,714.4h1.0M165.6,740.6h1.0M165.2,713.2h1.0M161.9,715.9h1.0M161.4,684.2h1.0M159.8,687.8h1.0M158.7,683.4h1.0M162.7,687.7h1.0M162.1,693.9h1.0M160.6,686.2h1.0M162.9,740.2h1.0M159.9,693.6h1.0M160.6,693.2h1.0M157.4,686.0h1.0M155.4,720.5h1.0M158.6,685.1h1.0M162.3,688.9h1.0M161.0,742.0h1.0M163.1,689.2h1.0M153.1,735.2h1.0M163.3,691.5h1.0M158.4,692.0h1.0M163.7,740.8h1.0M158.9,685.1h1.0M161.5,741.6h1.0M158.4,690.4h1.0M170.3,727.2h1.0M163.1,688.8h1.0M158.9,682.2h1.0M153.2,736.3h1.0M172.1,715.2h1.0M161.0,693.4h1.0M155.5,722.2h1.0M152.8,729.2h1.0M167.4,712.2h1.0M170.9,712.6h1.0M152.7,732.5h1.0M153.6,733.4h1.0M160.2,688.3h1.0M151.7,731.4h1.0M163.4,688.9h1.0M159.3,715.3h1.0M156.1,738.1h1.0M161.8,690.6h1.0M164.1,686.4h1.0M168.3,717.9h1.0M160.9,693.1h1.0M163.5,713.5h1.0M168.6,714.3h1.0M169.8,713.5h1.0M164.1,686.4h1.0M163.0,691.2h1.0M169.5,716.8h1.0M157.5,685.8h1.0M160.1,718.1h1.0M155.0,721.9h1.0M162.2,685.0h1.0M167.4,721.0h1.0M160.2,684.3h1.0M162.7,693.2h1.0M170.7,717.1h1.0M158.5,684.7h1.0M172.4,716.5h1.0M152.0,727.7h1.0M161.3,716.7h1.0M159.6,681.6h1.0M160.5,689.2h1.0M168.7,734.9h1.0M161.8,680.6h1.0M153.2,733.5h1.0M151.9,733.1h1.0M158.0,687.0h1.0M151.9,729.6h1.0M164.3,739.7h1.0M169.5,716.2h1.0M156.1,737.8h1.0M159.4,740.3h1.0M168.1,724.0h1.0M168.7,721.4h1.0M152.8,724.6h1.0M161.3,740.3h1.0M168.8,717.9h1.0M158.1,718.9h1.0M160.0,681.4h1.0M159.1,686.5h1.0M161.5,683.2h1.0M168.3,712.5h1.0M169.2,732.9h1.0M164.0,711.6h1.0M156.5,721.7h1.0M168.8,718.1h1.0M162.5,692.3h1.0M164.3,689.7h1.0M162.6,711.2h1.0M169.6,734.6h1.0M169.5,715.6h1.0M159.9,686.7h1.0M156.0,720.1h1.0M158.9,687.9h1.0M169.9,714.0h1.0M163.4,685.0h1.0M169.9,724.4h1.0M159.7,688.6h1.0M164.3,683.2h1.0M161.2,689.4h1.0M162.5,688.4h1.0M160.4,694.6h1.0M160.6,681.9h1.0M165.2,691.0h1.0M155.1,722.8h1.0M171.5,716.3h1.0M162.6,740.8h1.0M159.6,688.0h1.0M158.4,719.6h1.0M160.3,685.2h1.0M159.9,681.4h1.0M168.9,713.5h1.0M163.7,688.2h1.0M152.0,732.7h1.0M159.8,688.9h1.0M158.8,686.8h1.0M158.8,690.8h1.0M163.4,740.5h1.0M157.8,684.7h1.0M169.8,731.1h1.0M159.3,719.5h1.0M162.4,693.2h1.0M163.1,714.0h1.0M169.8,727.0h1.0M160.2,718.5h1.0M169.4,724.0h1.0M159.0,681.8h1.0M162.6,683.7h1.0M168.5,717.5h1.0M163.9,688.3h1.0M163.5,691.3h1.0M152.5,733.9h1.0M167.7,711.6h1.0M158.2,691.8h1.0M157.5,686.3h1.0M157.7,686.1h1.0M167.6,721.3h1.0M169.6,716.1h1.0M156.9,721.3h1.0M172.6,715.2h1.0M153.0,726.1h1.0M161.2,685.2h1.0M169.8,715.2h1.0M163.4,710.9h1.0M168.3,722.8h1.0M161.5,683.5h1.0M170.6,715.9h1.0M167.7,737.5h1.0M161.0,691.6h1.0M161.8,686.3h1.0M157.9,689.6h1.0M160.7,683.1h1.0M160.1,718.4h1.0M163.0,687.1h1.0M168.5,719.2h1.0M163.6,684.6h1.0M160.1,684.3h1.0M154.8,737.8h1.0M154.4,737.0h1.0M170.1,728.7h1.0M169.5,726.4h1.0M161.2,714.8h1.0M159.7,689.1h1.0M161.6,692.3h1.0M162.7,687.1h1.0M167.3,712.2h1.0M160.8,715.0h1.0M161.4,684.8h1.0M157.9,684.9h1.0M170.6,729.4h1.0M157.4,740.4h1.0M169.1,734.1h1.0M168.8,720.3h1.0M163.4,739.9h1.0M155.9,737.8h1.0M163.1,688.6h1.0M161.1,683.5h1.0M164.1,711.8h1.0M163.3,687.3h1.0M159.5,686.0h1.0M163.1,711.8h1.0M165.2,740.3h1.0M160.8,692.9h1.0M163.7,689.5h1.0M162.0,682.2h1.0M152.6,726.5h1.0M161.3,691.7h1.0M152.6,732.8h1.0M163.1,683.3h1.0M161.3,691.4h1.0M162.8,712.7h1.0M167.2,722.9h1.0M165.7,713.1h1.0M162.4,687.2h1.0M161.2,682.2h1.0M168.5,717.6h1.0M161.2,715.8h1.0M166.9,712.8h1.0M159.1,693.3h1.0M162.7,685.7h1.0M168.3,713.7h1.0M168.7,721.0h1.0M161.5,683.9h1.0M152.3,727.5h1.0M160.0,692.8h1.0M170.2,717.9h1.0M159.3,692.8h1.0M151.6,730.3h1.0M158.7,716.6h1.0M160.6,681.1h1.0M167.6,721.0h1.0M164.2,688.4h1.0M157.6,688.0h1.0M154.3,736.8h1.0M160.1,691.2h1.0M153.4,735.3h1.0M161.7,689.4h1.0M155.7,722.4h1.0M153.4,733.7h1.0M164.8,690.3h1.0M159.7,686.3h1.0M168.8,712.7h1.0M153.0,730.6h1.0M167.7,718.8h1.0M155.7,738.2h1.0M170.1,717.3h1.0M158.4,692.4h1.0M168.4,718.9h1.0M168.9,713.8h1.0M169.8,716.2h1.0M162.0,688.8h1.0M169.8,713.5h1.0M164.9,712.4h1.0M157.8,684.9h1.0M152.0,728.8h1.0M169.6,730.7h1.0M161.6,693.5h1.0M164.2,683.7h1.0M169.9,726.4h1.0M157.4,718.6h1.0M164.1,689.3h1.0M158.0,691.2h1.0M162.7,715.3h1.0M152.5,733.4h1.0M169.5,725.9h1.0M159.3,714.8h1.0M158.8,682.3h1.0M162.7,689.3h1.0M158.8,716.9h1.0M166.0,712.5h1.0M170.2,714.8h1.0M166.1,712.6h1.0M164.2,710.6h1.0M165.0,687.9h1.0M153.2,726.8h1.0M158.9,686.7h1.0M158.3,687.1h1.0M162.9,687.6h1.0M152.4,728.3h1.0M159.9,689.5h1.0M158.5,683.2h1.0M161.3,683.5h1.0M170.0,733.9h1.0M164.5,710.8h1.0M153.0,728.2h1.0M170.4,717.3h1.0M160.1,685.8h1.0M159.3,693.5h1.0M160.2,691.8h1.0M167.9,723.0h1.0M166.8,719.9h1.0M163.3,690.0h1.0M160.0,689.6h1.0M168.6,722.4h1.0M159.5,688.3h1.0M159.7,692.3h1.0M162.7,688.1h1.0M161.8,715.1h1.0M163.0,682.8h1.0M157.3,687.5h1.0M158.7,686.6h1.0M160.6,688.6h1.0M158.8,686.0h1.0M170.8,730.6h1.0M160.9,683.3h1.0M167.2,712.4h1.0M161.1,694.1h1.0M162.8,681.8h1.0M156.7,721.0h1.0M161.7,741.6h1.0M153.4,735.3h1.0M161.2,741.3h1.0M169.7,732.2h1.0M169.1,724.6h1.0M170.7,718.4h1.0M161.1,683.3h1.0M163.4,690.0h1.0M166.9,711.2h1.0M159.3,691.2h1.0M170.3,713.9h1.0M162.2,685.8h1.0M158.3,683.2h1.0M169.6,724.1h1.0M162.4,712.7h1.0M161.3,694.4h1.0M166.3,737.7h1.0M161.0,689.3h1.0M161.7,689.3h1.0M163.9,684.8h1.0M159.0,690.4h1.0M161.4,690.7h1.0M153.4,734.0h1.0M153.7,734.5h1.0M152.8,730.8h1.0M167.2,719.2h1.0" stroke="#0a30ff" stroke-width="1.0" fill="none"/>
<path d="M168.0,734.4h1.0M162.3,716.5h1.0M155.0,736.2h1.0M167.2,713.6h1.0M166.0,719.5h1.0M166.6,714.0h1.0M167.9,717.0h1.0M166.3,718.3h1.0M164.4,718.8h1.0M153.2,729.5h1.0M167.5,718.0h1.0M164.7,717.4h1.0M166.4,717.3h1.0M163.8,716.5h1.0M167.9,733.5h1.0M165.9,718.3h1.0M166.9,735.3h1.0M153.2,730.5h1.0M166.0,714.1h1.0M163.0,715.8h1.0M162.9,719.2h1.0M161.2,718.6h1.0M165.8,723.0h1.0M161.0,687.8h1.0M165.9,716.6h1.0M161.8,717.8h1.0M154.0,728.7h1.0M166.3,717.1h1.0M164.0,720.7h1.0M154.1,726.6h1.0M160.5,718.8h1.0M168.1,717.3h1.0M161.3,739.4h1.0M155.8,736.5h1.0M155.9,736.3h1.0M164.7,738.5h1.0M161.4,720.1h1.0M163.8,716.2h1.0M164.6,715.3h1.0M155.7,736.1h1.0M154.1,733.1h1.0M160.1,719.8h1.0M162.9,718.6h1.0M154.5,732.8h1.0M164.6,738.9h1.0M155.5,736.3h1.0M163.7,718.6h1.0M160.8,720.1h1.0M168.8,730.7h1.0M153.8,726.6h1.0M163.0,738.8h1.0M166.0,722.3h1.0M153.6,732.8h1.0M154.3,727.3h1.0M161.8,719.3h1.0M165.8,715.8h1.0M166.2,736.2h1.0M154.0,729.8h1.0M159.7,720.2h1.0M169.1,728.3h1.0M167.0,723.1h1.0M166.2,736.5h1.0M160.9,720.2h1.0M153.7,727.7h1.0M164.4,715.0h1.0M166.7,716.9h1.0M158.5,721.9h1.0M164.0,715.7h1.0M166.4,722.2h1.0M167.9,725.8h1.0M167.9,733.9h1.0M165.4,718.2h1.0M164.9,715.2h1.0M163.4,717.5h1.0M167.6,734.1h1.0M165.0,720.7h1.0M160.7,738.8h1.0M167.4,717.5h1.0M165.5,720.2h1.0M159.4,739.5h1.0M159.4,721.5h1.0M168.7,730.9h1.0M165.1,718.4h1.0M168.5,729.5h1.0M168.0,725.4h1.0M162.7,738.8h1.0M155.9,736.8h1.0M163.4,719.4h1.0M154.3,724.9h1.0M167.0,717.1h1.0M167.0,724.0h1.0M158.8,720.9h1.0M166.6,717.5h1.0M167.3,714.2h1.0M168.4,730.5h1.0M165.4,737.4h1.0M154.4,726.8h1.0M166.2,715.7h1.0M169.0,730.7h1.0M163.8,718.7h1.0M168.6,714.9h1.0M160.9,718.4h1.0M165.3,719.0h1.0M162.7,718.9h1.0M154.0,732.5h1.0M167.2,716.8h1.0M163.1,738.2h1.0M153.3,728.4h1.0M166.4,714.8h1.0M165.2,737.5h1.0M163.5,720.8h1.0M153.9,731.5h1.0M162.3,715.8h1.0M158.7,720.9h1.0M161.0,719.9h1.0M167.3,714.3h1.0M164.4,714.6h1.0M165.8,721.5h1.0M167.8,734.2h1.0M168.3,729.6h1.0M167.5,725.0h1.0M162.3,720.2h1.0M168.7,728.3h1.0M165.5,721.5h1.0M164.8,715.1h1.0M166.2,736.3h1.0M166.6,736.4h1.0M167.4,715.4h1.0M159.8,739.1h1.0M168.1,727.0h1.0M160.0,739.1h1.0M168.4,733.9h1.0M167.8,724.5h1.0M158.1,738.8h1.0M163.9,717.1h1.0M160.1,740.0h1.0M167.8,714.1h1.0M168.0,726.1h1.0M167.9,732.2h1.0M162.7,719.6h1.0M165.1,718.0h1.0M162.2,719.8h1.0M163.0,717.7h1.0M162.2,720.3h1.0M160.2,719.5h1.0M168.6,731.8h1.0M163.8,714.1h1.0M155.2,725.0h1.0M166.0,715.4h1.0M169.0,727.2h1.0M158.2,737.9h1.0M165.1,737.7h1.0M168.6,733.4h1.0M166.4,719.6h1.0M164.0,714.2h1.0M154.4,733.0h1.0M167.8,725.0h1.0M157.8,722.0h1.0M156.3,722.9h1.0M163.6,717.0h1.0M165.4,738.0h1.0M164.3,716.4h1.0M162.5,739.0h1.0M154.3,733.1h1.0M164.3,714.1h1.0M166.3,718.6h1.0M158.6,738.5h1.0M167.3,714.6h1.0M162.8,721.0h1.0M167.8,717.0h1.0M164.9,721.6h1.0M160.5,719.1h1.0M169.2,727.7h1.0M164.4,716.0h1.0M160.2,719.8h1.0M154.2,725.7h1.0M166.8,735.9h1.0M162.7,716.5h1.0M155.8,736.3h1.0M165.0,715.5h1.0M158.0,720.7h1.0M165.5,716.7h1.0M153.7,727.4h1.0M167.0,713.7h1.0M167.2,714.5h1.0M162.7,720.4h1.0M157.8,721.7h1.0M168.4,730.7h1.0M164.7,719.8h1.0M163.4,716.2h1.0M154.6,734.2h1.0M155.8,737.2h1.0M164.9,714.0h1.0M155.1,723.7h1.0M162.6,716.5h1.0M160.0,739.2h1.0M164.3,720.2h1.0M157.9,721.5h1.0M168.9,727.9h1.0M153.8,731.4h1.0M161.0,738.7h1.0M161.1,720.1h1.0M164.6,719.0h1.0M157.7,721.9h1.0M156.1,723.9h1.0M166.2,722.8h1.0M167.1,714.2h1.0M167.3,726.0h1.0M154.6,734.6h1.0M153.9,732.2h1.0M165.1,721.0h1.0M163.5,717.1h1.0M153.9,727.6h1.0M168.7,728.1h1.0M167.6,717.1h1.0M165.9,720.0h1.0M167.0,736.2h1.0M160.4,739.2h1.0M162.6,739.1h1.0M168.3,726.9h1.0M166.3,735.7h1.0M163.6,720.3h1.0M165.7,721.4h1.0M160.4,740.0h1.0M167.7,717.6h1.0M158.5,721.5h1.0M168.1,715.1h1.0M160.5,739.3h1.0M154.6,725.8h1.0M156.7,722.9h1.0M164.0,716.4h1.0M168.1,717.1h1.0M163.2,717.5h1.0M164.3,737.7h1.0M166.3,736.9h1.0M156.9,738.0h1.0M162.1,718.3h1.0M166.9,716.7h1.0M165.1,717.9h1.0M166.4,719.9h1.0M154.6,734.1h1.0M167.2,724.1h1.0M159.6,721.5h1.0M168.2,733.5h1.0M154.4,727.0h1.0M168.5,731.2h1.0M164.2,737.8h1.0M161.4,718.1h1.0M166.6,714.9h1.0M160.5,719.9h1.0M154.1,730.2h1.0M167.7,724.7h1.0M159.3,739.1h1.0M164.5,715.2h1.0M168.2,732.5h1.0M166.5,714.5h1.0M165.5,715.7h1.0M168.1,733.1h1.0M163.0,716.5h1.0M162.6,738.7h1.0M168.4,726.0h1.0M162.1,719.6h1.0M162.4,715.8h1.0M168.4,715.7h1.0M154.5,726.7h1.0M153.9,730.8h1.0M164.3,714.4h1.0M166.0,717.8h1.0M165.9,716.5h1.0M156.1,737.1h1.0M161.5,739.2h1.0M167.4,714.4h1.0M164.2,721.2h1.0M166.0,737.0h1.0M163.0,718.5h1.0M165.9,720.7h1.0M164.8,718.9h1.0M165.1,717.8h1.0M154.3,725.8h1.0M164.6,717.1h1.0M156.6,722.4h1.0M161.2,718.5h1.0M162.7,738.5h1.0M167.6,715.7h1.0M154.1,726.0h1.0M166.2,722.6h1.0M168.6,730.2h1.0M162.2,716.8h1.0M164.1,717.6h1.0M166.4,715.7h1.0M162.5,718.6h1.0M162.8,738.6h1.0M168.3,731.0h1.0M167.4,717.8h1.0M168.9,730.0h1.0M155.7,723.9h1.0M157.0,722.8h1.0M167.8,716.4h1.0M154.5,734.8h1.0M167.8,725.9h1.0M160.2,720.9h1.0M167.0,723.1h1.0M166.6,718.8h1.0M166.1,715.6h1.0M164.1,717.9h1.0M162.3,719.7h1.0M153.6,730.4h1.0M155.7,723.1h1.0M154.4,732.9h1.0M167.7,714.5h1.0M157.8,721.6h1.0M163.3,716.4h1.0M167.2,723.8h1.0M163.1,719.1h1.0M158.4,721.0h1.0M166.3,716.6h1.0M165.1,721.9h1.0M154.2,730.0h1.0M163.8,719.0h1.0M164.4,738.2h1.0M166.0,716.6h1.0M166.5,718.1h1.0M165.9,723.5h1.0M155.7,735.6h1.0M154.5,733.1h1.0M158.8,739.6h1.0M162.7,718.5h1.0M164.6,718.7h1.0M154.0,728.2h1.0M166.6,714.5h1.0M161.5,688.5h1.0M155.9,722.6h1.0M154.4,725.8h1.0M167.8,714.5h1.0M155.0,734.9h1.0M167.7,716.3h1.0M161.6,739.6h1.0M161.4,739.1h1.0M167.4,725.0h1.0M154.6,725.8h1.0M162.8,738.4h1.0M154.5,726.7h1.0M168.3,727.7h1.0M161.4,718.4h1.0M154.1,731.1h1.0M162.5,717.0h1.0M168.1,727.8h1.0M161.0,721.0h1.0M167.3,715.8h1.0M166.6,721.4h1.0M165.4,722.3h1.0M167.1,716.0h1.0M164.8,714.8h1.0M167.8,734.2h1.0M161.1,687.3h1.0M166.2,721.9h1.0M165.0,722.1h1.0M162.7,739.0h1.0M157.6,737.9h1.0M165.0,720.2h1.0M156.3,737.1h1.0M157.4,722.1h1.0M166.0,722.5h1.0M155.8,724.0h1.0M166.8,718.9h1.0M157.6,722.5h1.0M168.5,728.8h1.0M165.8,716.8h1.0M164.5,719.4h1.0M158.7,739.3h1.0M163.1,720.3h1.0M160.8,719.6h1.0M165.2,737.9h1.0M154.0,731.4h1.0M168.9,731.5h1.0M168.0,733.3h1.0M160.8,738.9h1.0M164.4,718.8h1.0M158.3,721.1h1.0M167.8,732.8h1.0M167.8,733.0h1.0M154.4,726.6h1.0M161.8,717.6h1.0M159.1,738.4h1.0M163.2,738.8h1.0M165.0,720.8h1.0M168.3,728.9h1.0M156.6,723.2h1.0M166.2,719.1h1.0M161.5,719.0h1.0M154.9,735.2h1.0M166.9,714.0h1.0M166.6,715.9h1.0M168.3,715.8h1.0M163.6,738.3h1.0M166.1,717.5h1.0M162.2,717.0h1.0M163.2,716.2h1.0M156.7,723.5h1.0M161.3,688.0h1.0M164.5,715.3h1.0M167.1,736.5h1.0M166.1,716.1h1.0M165.4,717.3h1.0M164.6,738.7h1.0M168.4,731.7h1.0M168.8,729.0h1.0M167.9,725.1h1.0M169.1,731.8h1.0M157.0,722.0h1.0M168.8,732.2h1.0M164.3,718.5h1.0M161.6,719.9h1.0M164.9,721.3h1.0M153.9,730.4h1.0M162.9,719.6h1.0M157.8,721.1h1.0M169.2,730.7h1.0M167.2,717.9h1.0M153.6,729.9h1.0M160.5,739.4h1.0M154.6,733.5h1.0M167.4,725.8h1.0M165.0,717.7h1.0M164.6,717.9h1.0M163.7,718.6h1.0M158.8,739.5h1.0M167.3,736.0h1.0M165.9,714.1h1.0M168.5,715.5h1.0M166.4,713.9h1.0M162.8,716.6h1.0M164.7,718.5h1.0M157.5,722.3h1.0M156.5,737.7h1.0M168.2,735.2h1.0M157.5,722.0h1.0M167.7,714.9h1.0M166.0,737.4h1.0M161.2,720.2h1.0M167.5,717.5h1.0M164.1,738.6h1.0M166.0,717.2h1.0M160.0,739.5h1.0M161.3,718.0h1.0M154.8,726.0h1.0M166.9,723.9h1.0M159.7,721.3h1.0M156.9,722.9h1.0M160.1,719.6h1.0M156.8,738.6h1.0M166.2,722.3h1.0M156.5,736.8h1.0M160.2,720.5h1.0M163.8,716.8h1.0M163.5,715.1h1.0M166.0,720.5h1.0M160.2,739.3h1.0M155.6,723.6h1.0M161.0,739.8h1.0M154.0,726.0h1.0M163.8,738.7h1.0M165.8,719.8h1.0M154.7,724.3h1.0M165.9,719.0h1.0M168.3,728.5h1.0M153.7,732.6h1.0M162.6,718.0h1.0M154.1,734.0h1.0M166.8,715.9h1.0M164.7,718.1h1.0M159.3,720.3h1.0M161.9,720.2h1.0M163.8,718.5h1.0M165.6,721.1h1.0M167.9,727.1h1.0M163.9,714.9h1.0M167.9,715.7h1.0M164.6,717.8h1.0M167.9,714.2h1.0M162.9,721.1h1.0M164.9,714.2h1.0M159.5,721.6h1.0M160.4,739.2h1.0M165.4,713.7h1.0M162.8,720.4h1.0M166.7,723.8h1.0M162.9,738.4h1.0" stroke="#0070ff" stroke-width="1.0" fill="none"/>
<path d="M167.0,725.8h1.0M161.9,722.0h1.0M161.1,722.6h1.0M165.8,735.4h1.0M156.3,736.0h1.0M164.7,722.9h1.0M164.6,721.8h1.0M155.8,734.7h1.0M161.7,721.9h1.0M167.0,726.6h1.0M157.5,722.8h1.0M161.4,721.1h1.0M163.0,722.6h1.0M155.0,727.6h1.0M167.6,730.8h1.0M155.2,726.5h1.0M160.4,738.2h1.0M163.9,737.1h1.0M162.0,738.0h1.0M165.4,736.5h1.0M165.9,724.9h1.0M162.0,722.0h1.0M162.8,737.7h1.0M167.3,731.2h1.0M163.8,737.4h1.0M155.3,726.6h1.0M160.0,721.7h1.0M163.4,722.0h1.0M154.5,729.9h1.0M158.0,723.3h1.0M157.1,724.0h1.0M167.1,726.3h1.0M159.0,737.4h1.0M156.0,725.3h1.0M167.3,731.2h1.0M164.2,723.2h1.0M167.5,729.8h1.0M166.2,735.6h1.0M158.5,737.2h1.0M158.2,736.7h1.0M154.8,733.4h1.0M156.2,725.0h1.0M155.6,725.5h1.0M167.0,733.8h1.0M155.0,733.7h1.0M161.4,738.0h1.0M162.3,721.0h1.0M160.7,722.3h1.0M166.2,735.4h1.0M154.3,730.3h1.0M167.5,727.6h1.0M167.1,725.6h1.0M157.9,722.5h1.0M154.9,731.5h1.0M155.0,733.8h1.0M157.5,722.6h1.0M160.0,722.1h1.0M164.7,723.5h1.0M157.4,723.9h1.0M159.6,738.1h1.0M156.4,736.0h1.0M161.9,721.3h1.0M163.9,737.1h1.0M155.0,729.5h1.0M159.6,737.6h1.0M155.2,726.5h1.0M164.9,736.7h1.0M156.0,735.3h1.0M166.8,732.9h1.0M155.7,735.4h1.0M154.3,728.0h1.0M167.2,731.7h1.0M164.8,722.3h1.0M161.0,721.9h1.0M167.7,729.2h1.0M155.5,733.4h1.0M165.8,734.9h1.0M155.9,735.9h1.0M167.5,728.8h1.0M158.6,722.5h1.0M158.2,737.1h1.0M162.5,737.2h1.0M155.1,732.2h1.0M167.2,728.8h1.0M166.5,734.9h1.0M157.3,736.1h1.0M163.3,737.6h1.0M157.9,723.3h1.0M165.7,724.2h1.0M166.4,735.6h1.0M158.2,736.7h1.0M155.8,734.2h1.0M166.7,725.6h1.0M155.6,726.7h1.0M162.4,722.6h1.0M163.9,721.8h1.0M155.2,727.8h1.0M159.5,738.5h1.0M154.9,728.1h1.0M154.4,730.2h1.0M167.1,733.6h1.0M167.2,734.2h1.0M167.7,726.5h1.0M167.4,727.3h1.0M158.0,722.5h1.0M154.6,728.3h1.0M166.7,732.7h1.0M165.9,724.5h1.0M154.2,730.8h1.0M155.6,725.6h1.0M165.8,735.0h1.0M161.3,738.1h1.0M156.5,736.5h1.0M165.2,735.6h1.0M165.1,723.5h1.0M156.8,736.6h1.0M155.9,724.6h1.0M165.4,724.2h1.0M166.6,734.2h1.0M154.5,729.1h1.0M166.3,725.2h1.0M166.6,725.1h1.0M165.9,724.4h1.0M156.1,725.8h1.0M165.5,736.6h1.0M157.4,723.3h1.0M155.8,725.6h1.0M159.8,721.1h1.0M161.6,721.4h1.0M167.6,728.6h1.0M165.7,724.2h1.0M166.3,725.8h1.0M163.9,737.4h1.0M161.2,738.3h1.0M159.3,737.5h1.0M154.5,728.4h1.0M163.0,737.7h1.0M162.8,722.2h1.0M154.5,730.1h1.0M155.1,730.7h1.0M168.2,730.6h1.0M161.4,738.1h1.0M167.7,727.0h1.0M158.6,736.6h1.0M164.2,723.0h1.0M157.0,723.3h1.0M163.4,722.4h1.0M163.7,737.6h1.0M159.5,737.5h1.0M163.8,722.9h1.0M165.3,724.2h1.0M154.6,732.6h1.0M154.9,726.8h1.0M160.9,721.3h1.0M157.4,723.1h1.0M166.8,733.6h1.0M161.1,737.8h1.0M157.3,736.4h1.0M164.8,722.6h1.0M156.1,736.1h1.0M166.7,734.4h1.0M156.2,735.3h1.0M157.0,735.7h1.0M155.0,732.3h1.0M155.1,727.5h1.0M157.5,736.8h1.0M154.8,728.8h1.0M155.8,724.9h1.0M166.5,726.0h1.0M162.9,737.7h1.0M167.4,732.6h1.0M161.6,738.1h1.0M166.4,724.6h1.0M160.7,721.4h1.0M161.7,720.9h1.0M163.7,722.7h1.0M155.2,734.5h1.0M164.9,723.9h1.0M154.7,732.5h1.0M164.4,736.4h1.0M156.2,724.3h1.0M158.6,736.6h1.0M159.1,722.8h1.0M165.7,724.3h1.0M165.9,725.5h1.0M165.9,735.5h1.0M166.8,734.2h1.0M163.9,736.6h1.0M163.6,721.6h1.0M155.0,726.4h1.0M167.5,728.7h1.0M165.0,736.8h1.0M158.7,722.9h1.0M164.2,721.8h1.0M167.3,732.9h1.0M154.6,729.3h1.0M161.2,722.1h1.0M154.8,726.4h1.0M163.6,721.5h1.0M156.5,725.0h1.0M163.8,721.5h1.0M164.6,721.6h1.0M166.9,733.2h1.0M165.7,736.3h1.0M164.1,737.9h1.0M157.1,724.0h1.0M161.4,722.1h1.0M155.2,727.2h1.0M158.7,722.6h1.0M154.8,733.4h1.0M160.6,722.0h1.0M166.7,734.3h1.0M154.4,730.7h1.0M165.8,735.4h1.0M155.3,727.0h1.0M166.2,735.7h1.0M156.7,723.3h1.0M158.3,737.0h1.0M154.4,729.0h1.0M167.8,731.4h1.0M161.2,720.8h1.0M155.2,734.0h1.0M155.2,727.8h1.0M155.2,732.3h1.0M164.7,722.4h1.0M160.6,722.4h1.0M159.0,737.7h1.0M160.0,738.1h1.0M158.0,737.1h1.0M166.4,734.9h1.0M164.8,723.4h1.0M157.7,736.7h1.0M155.3,726.2h1.0M162.2,721.9h1.0M156.8,723.7h1.0M163.6,722.4h1.0M162.4,721.5h1.0M164.9,723.1h1.0M167.0,733.0h1.0M155.2,732.2h1.0M167.9,729.0h1.0M164.1,737.5h1.0M159.6,722.3h1.0M164.0,738.0h1.0M157.7,737.3h1.0M168.1,729.7h1.0M158.8,722.3h1.0M167.4,729.0h1.0M167.4,733.2h1.0M159.6,737.8h1.0M155.2,727.1h1.0M156.7,724.6h1.0M160.3,738.2h1.0M161.6,720.9h1.0M165.9,735.7h1.0M154.8,733.6h1.0M158.5,722.8h1.0M164.1,722.0h1.0M168.1,729.0h1.0M163.1,722.6h1.0M168.0,731.9h1.0M163.5,722.3h1.0M154.6,732.1h1.0M159.3,722.6h1.0M164.0,738.1h1.0M166.6,724.9h1.0M157.1,736.9h1.0M166.1,725.4h1.0M158.5,736.8h1.0M158.5,738.0h1.0M163.2,722.1h1.0M164.6,736.6h1.0M154.7,731.2h1.0M154.6,732.3h1.0M159.3,738.2h1.0M167.0,726.4h1.0M155.8,724.2h1.0M157.4,722.6h1.0M158.0,723.1h1.0M156.3,735.9h1.0M154.3,728.6h1.0" stroke="#00b4ff" stroke-width="1.0" fill="none"/>
<path d="M158.9,736.3h1.0M159.2,723.5h1.0M166.9,729.2h1.0M163.7,723.6h1.0M163.3,736.4h1.0M156.5,734.6h1.0M156.4,726.9h1.0M155.7,733.0h1.0M156.6,725.2h1.0M162.0,736.7h1.0M163.3,723.3h1.0M156.9,724.6h1.0M165.4,725.9h1.0M157.9,735.1h1.0M157.0,725.2h1.0M158.5,724.1h1.0M167.1,732.5h1.0M159.9,737.1h1.0M166.5,726.3h1.0M157.7,725.2h1.0M159.6,723.6h1.0M165.3,734.7h1.0M165.0,735.1h1.0M164.0,736.2h1.0M159.0,723.9h1.0M161.1,736.7h1.0M166.9,732.5h1.0M166.3,728.5h1.0M156.5,734.0h1.0M160.5,723.1h1.0M166.6,728.9h1.0M155.8,728.3h1.0M163.9,736.1h1.0M161.9,737.5h1.0M161.9,736.6h1.0M161.3,736.8h1.0M158.9,736.9h1.0M158.6,724.1h1.0M166.9,730.8h1.0M159.4,736.8h1.0M162.5,723.5h1.0M165.7,734.1h1.0M157.1,725.4h1.0M156.4,734.3h1.0M162.8,723.3h1.0M163.2,723.6h1.0M165.5,724.7h1.0M159.1,736.2h1.0M167.1,731.9h1.0M163.8,736.4h1.0M165.3,734.4h1.0M162.4,736.8h1.0M155.6,733.0h1.0M157.4,734.9h1.0M157.0,734.5h1.0M158.2,724.1h1.0M155.7,733.9h1.0M155.7,729.9h1.0M164.7,725.0h1.0M162.3,722.7h1.0M155.5,732.5h1.0M166.6,731.0h1.0M157.6,724.8h1.0M161.0,722.9h1.0M161.5,737.6h1.0M163.9,723.5h1.0M156.3,733.6h1.0M164.9,735.4h1.0M163.9,736.1h1.0M166.7,732.6h1.0M167.1,728.1h1.0M164.7,725.0h1.0M167.0,730.3h1.0M160.4,722.6h1.0M155.5,727.4h1.0M156.3,733.3h1.0M166.9,731.0h1.0M155.8,733.2h1.0M165.4,724.9h1.0M158.3,735.8h1.0M163.8,736.0h1.0M155.7,730.3h1.0M157.6,735.1h1.0M166.2,734.6h1.0M166.6,731.3h1.0M157.0,724.6h1.0M156.8,725.3h1.0M166.9,731.6h1.0M166.3,732.3h1.0M158.1,724.3h1.0M155.9,732.6h1.0M155.9,733.0h1.0M161.9,737.6h1.0M158.3,723.4h1.0M165.3,734.7h1.0M156.7,734.5h1.0M162.0,737.2h1.0M166.5,728.6h1.0M158.9,736.2h1.0M166.7,728.2h1.0M163.2,723.1h1.0M166.4,726.7h1.0M166.4,729.3h1.0M155.9,727.5h1.0M164.6,735.3h1.0M162.1,722.1h1.0M159.6,723.7h1.0M166.6,728.8h1.0M155.2,728.7h1.0M160.6,737.5h1.0M155.4,728.2h1.0M163.1,737.1h1.0M156.0,732.1h1.0M164.9,735.2h1.0M155.8,727.9h1.0M155.3,732.5h1.0M155.4,727.8h1.0M159.1,723.2h1.0M156.2,728.2h1.0M159.6,723.9h1.0M165.5,734.6h1.0M155.5,727.2h1.0M157.4,725.5h1.0M156.7,734.6h1.0M166.5,733.4h1.0M166.5,728.4h1.0M159.9,737.5h1.0M158.0,724.9h1.0M156.1,728.3h1.0M158.0,724.1h1.0M162.2,737.1h1.0M161.1,737.3h1.0M155.4,728.5h1.0M156.4,725.7h1.0M156.5,726.9h1.0M156.1,731.7h1.0M164.4,735.7h1.0M161.1,736.8h1.0M159.1,736.9h1.0M164.3,735.5h1.0M165.4,724.8h1.0M164.6,724.2h1.0M155.5,732.3h1.0M165.0,735.5h1.0M159.6,723.2h1.0M155.6,728.3h1.0M163.6,737.0h1.0M165.6,734.1h1.0M159.1,736.6h1.0M165.1,725.1h1.0M166.8,727.8h1.0M155.4,728.4h1.0M166.2,726.1h1.0M166.3,728.1h1.0M164.6,724.0h1.0M165.3,733.8h1.0M166.4,729.3h1.0M160.7,736.9h1.0M163.4,723.3h1.0M166.1,733.5h1.0M166.6,727.1h1.0M155.5,727.2h1.0M167.0,728.5h1.0M164.7,724.3h1.0M158.1,725.1h1.0M161.4,722.4h1.0M165.3,735.1h1.0M167.1,728.0h1.0M155.4,731.6h1.0M163.1,722.9h1.0M164.4,725.1h1.0M158.4,723.6h1.0M166.1,726.0h1.0M157.7,724.8h1.0M158.0,724.8h1.0M161.7,737.2h1.0M159.2,736.4h1.0M158.8,736.3h1.0M161.4,722.2h1.0M157.4,725.6h1.0M163.4,722.8h1.0M163.3,723.9h1.0M166.1,726.8h1.0M158.1,724.7h1.0M157.6,725.3h1.0M166.3,727.9h1.0M165.3,733.7h1.0M156.1,732.1h1.0M165.8,734.3h1.0M165.9,734.3h1.0M157.7,724.4h1.0M166.8,729.3h1.0M165.7,734.2h1.0M156.6,727.0h1.0M161.7,723.2h1.0M164.8,724.8h1.0M161.9,722.5h1.0M166.3,727.7h1.0M162.9,736.7h1.0M165.9,725.9h1.0M166.7,729.1h1.0M163.0,723.6h1.0M156.4,726.8h1.0M166.4,728.4h1.0M158.3,735.9h1.0M166.8,730.7h1.0M155.4,727.7h1.0M161.9,722.7h1.0M158.4,735.7h1.0M158.6,735.9h1.0M160.5,736.6h1.0M167.1,731.3h1.0M166.8,729.2h1.0M155.2,727.8h1.0M164.2,724.2h1.0M164.7,734.8h1.0M157.6,734.7h1.0M158.5,736.4h1.0M156.4,726.0h1.0M155.6,727.8h1.0M163.3,737.1h1.0M161.6,737.0h1.0M156.7,735.5h1.0M155.8,728.5h1.0M159.3,736.3h1.0M157.6,735.0h1.0M157.4,734.9h1.0M155.7,733.8h1.0M157.5,735.6h1.0M166.4,733.5h1.0M161.8,737.5h1.0M155.6,729.9h1.0M164.6,723.9h1.0M161.7,722.5h1.0M165.5,733.9h1.0M166.8,728.2h1.0M164.8,725.0h1.0M165.8,733.4h1.0M158.9,723.9h1.0M160.5,722.7h1.0M165.5,724.8h1.0M162.6,723.3h1.0M157.5,736.0h1.0M166.3,730.7h1.0M157.7,725.0h1.0M165.9,726.5h1.0M156.8,725.7h1.0M158.6,736.2h1.0M164.3,724.7h1.0M160.8,722.7h1.0M156.4,726.8h1.0M159.5,722.6h1.0M155.2,732.6h1.0M156.0,727.7h1.0M160.6,736.8h1.0M157.5,734.8h1.0M161.4,737.2h1.0M158.7,723.8h1.0M166.0,734.1h1.0M166.9,728.8h1.0M155.4,727.1h1.0M166.9,732.0h1.0M165.2,734.7h1.0M156.7,735.1h1.0M166.9,729.7h1.0M166.2,731.1h1.0M162.5,722.6h1.0M165.0,725.1h1.0M164.2,723.2h1.0M158.5,735.7h1.0M162.3,736.8h1.0M160.0,737.1h1.0M156.0,726.5h1.0M164.5,735.9h1.0M163.3,723.8h1.0M167.1,728.1h1.0M159.0,736.5h1.0M160.6,723.3h1.0M155.8,733.1h1.0M167.0,731.0h1.0M163.7,723.2h1.0M156.7,734.4h1.0M166.5,731.8h1.0M166.6,731.7h1.0M156.3,725.8h1.0M164.9,736.0h1.0M156.0,734.1h1.0M159.1,736.2h1.0M166.4,729.4h1.0M156.0,727.9h1.0M166.9,729.1h1.0M160.7,737.5h1.0M159.2,736.2h1.0M161.3,723.4h1.0M158.2,723.6h1.0M158.0,723.8h1.0M156.1,727.0h1.0M155.7,732.5h1.0M155.5,729.2h1.0M155.6,731.2h1.0M165.2,725.7h1.0M155.8,727.1h1.0M158.0,736.3h1.0M155.4,727.8h1.0M165.9,734.1h1.0M155.3,728.8h1.0M158.5,735.8h1.0M163.3,736.7h1.0M159.0,723.7h1.0M164.1,724.2h1.0M163.4,722.7h1.0M159.4,736.7h1.0M161.6,722.3h1.0M159.2,723.6h1.0" stroke="#00e0e0" stroke-width="1.0" fill="none"/>
<path d="M160.3,724.3h1.0M165.5,726.6h1.0M165.8,730.6h1.0M161.5,736.5h1.0M155.8,729.0h1.0M164.7,726.5h1.0M163.4,724.4h1.0M160.5,724.4h1.0M156.0,730.9h1.0M159.4,735.2h1.0M159.0,724.7h1.0M163.9,735.2h1.0M166.0,731.6h1.0M166.3,730.5h1.0M160.3,735.6h1.0M157.3,725.8h1.0M157.0,734.1h1.0M165.9,728.7h1.0M156.4,731.4h1.0M166.4,730.1h1.0M160.2,735.6h1.0M160.8,736.3h1.0M160.2,724.5h1.0M160.1,735.8h1.0M164.4,725.3h1.0M161.2,724.4h1.0M165.4,733.2h1.0M163.1,735.7h1.0M161.0,735.8h1.0M164.7,726.4h1.0M156.5,729.0h1.0M156.0,730.0h1.0M165.2,727.0h1.0M164.2,725.4h1.0M161.6,724.2h1.0M156.5,731.0h1.0M156.4,729.9h1.0M165.8,730.1h1.0M159.1,724.3h1.0M159.2,724.9h1.0M165.3,726.5h1.0M158.9,724.1h1.0M159.6,735.6h1.0M165.0,726.3h1.0M165.8,727.5h1.0M163.4,735.9h1.0M159.5,724.1h1.0M165.5,733.2h1.0M157.7,734.3h1.0M165.1,727.0h1.0M166.1,730.9h1.0M164.8,726.0h1.0M156.2,731.3h1.0M165.3,727.8h1.0M159.9,723.8h1.0M166.0,731.0h1.0M164.7,734.0h1.0M158.5,735.5h1.0M161.7,723.8h1.0M164.6,734.6h1.0M156.4,727.9h1.0M156.4,727.3h1.0M164.2,735.0h1.0M156.6,732.4h1.0M157.8,734.2h1.0M156.9,733.4h1.0M162.2,723.8h1.0M160.0,723.9h1.0M165.8,727.9h1.0M160.1,724.1h1.0M155.7,730.3h1.0M164.4,734.9h1.0M156.4,733.0h1.0M163.6,724.3h1.0M161.3,736.2h1.0M166.0,729.0h1.0M163.0,735.6h1.0M163.3,724.8h1.0M166.7,729.7h1.0M159.3,735.3h1.0M158.8,724.7h1.0M156.9,727.0h1.0M163.2,724.6h1.0M162.0,736.0h1.0M165.4,726.6h1.0M162.7,735.1h1.0M155.7,728.7h1.0M159.4,735.3h1.0M163.3,724.9h1.0M156.2,731.3h1.0M162.5,736.0h1.0M165.2,726.3h1.0M156.7,729.2h1.0M160.5,735.8h1.0M157.9,725.7h1.0M156.7,727.9h1.0M156.5,729.7h1.0M160.6,735.7h1.0M165.2,732.3h1.0M160.0,736.6h1.0M157.2,733.8h1.0M158.3,725.5h1.0M163.0,724.6h1.0M158.1,734.8h1.0M165.1,726.0h1.0M165.4,726.9h1.0M163.8,734.7h1.0M165.1,726.6h1.0M158.4,735.5h1.0M162.2,724.0h1.0M159.2,724.4h1.0M165.1,725.9h1.0M162.8,735.5h1.0M161.8,724.3h1.0M156.0,729.2h1.0M159.8,724.4h1.0M166.1,728.2h1.0M156.6,730.8h1.0M165.8,732.4h1.0M164.2,725.6h1.0M160.5,735.9h1.0M156.1,729.3h1.0M165.8,732.3h1.0M161.5,724.1h1.0M166.2,728.8h1.0M165.2,733.7h1.0M156.9,727.2h1.0M159.1,735.8h1.0M158.7,735.3h1.0M161.4,735.8h1.0M162.4,724.3h1.0M156.6,728.9h1.0M155.9,731.2h1.0M163.9,724.7h1.0M160.9,736.6h1.0M162.2,724.1h1.0M164.6,726.0h1.0M156.7,733.0h1.0M166.0,728.3h1.0M166.0,728.5h1.0M165.6,728.1h1.0M165.9,729.1h1.0M165.9,728.5h1.0M158.9,724.2h1.0M158.2,725.5h1.0M166.1,731.9h1.0M157.1,726.3h1.0M165.8,730.7h1.0M155.8,731.1h1.0M156.6,728.9h1.0M158.0,734.7h1.0M161.1,723.8h1.0M159.8,724.3h1.0M156.5,731.6h1.0M157.3,733.9h1.0M156.7,727.5h1.0M162.3,736.2h1.0M156.2,729.5h1.0M161.6,724.1h1.0M158.0,725.2h1.0M157.8,734.7h1.0M162.7,735.9h1.0M156.5,728.7h1.0M165.3,728.1h1.0M155.9,730.9h1.0M161.8,724.2h1.0M156.3,732.5h1.0M164.9,734.0h1.0M160.0,724.3h1.0M165.8,730.3h1.0M166.0,730.5h1.0M157.4,725.6h1.0M166.0,732.1h1.0M165.5,727.5h1.0M163.0,735.7h1.0M161.8,736.1h1.0M166.1,730.8h1.0M158.7,735.1h1.0M161.5,735.6h1.0M157.1,726.4h1.0M161.2,724.3h1.0M157.9,734.6h1.0M165.4,733.5h1.0M161.2,724.4h1.0M164.5,734.4h1.0M157.1,733.4h1.0M162.6,723.7h1.0M165.3,733.2h1.0M156.2,731.6h1.0M160.0,724.4h1.0M161.5,735.8h1.0M158.1,734.5h1.0M157.1,732.9h1.0M155.8,729.2h1.0M163.8,735.2h1.0M160.1,735.6h1.0M165.8,729.2h1.0M165.4,727.6h1.0M163.1,724.5h1.0M156.3,730.7h1.0M160.8,723.9h1.0M157.2,726.1h1.0M162.7,724.4h1.0M155.7,728.7h1.0M158.7,725.0h1.0M156.0,730.7h1.0M161.2,735.9h1.0M159.8,736.2h1.0M157.5,733.8h1.0M157.2,727.0h1.0M160.8,736.0h1.0M158.9,725.1h1.0M155.8,729.3h1.0M164.6,725.3h1.0M156.8,733.0h1.0M157.3,734.1h1.0M156.1,730.3h1.0M158.1,726.0h1.0M165.3,733.0h1.0M166.2,728.7h1.0M164.4,726.0h1.0M160.3,736.0h1.0M157.1,733.2h1.0M165.9,730.9h1.0M166.1,730.1h1.0M165.3,733.3h1.0M163.7,735.5h1.0M159.9,724.4h1.0M159.8,736.4h1.0M165.4,727.3h1.0M159.5,724.5h1.0M165.2,727.7h1.0M163.1,735.2h1.0M156.4,732.0h1.0M163.9,734.7h1.0M160.2,736.2h1.0M156.7,731.0h1.0M156.0,730.5h1.0M164.6,734.9h1.0M162.0,736.4h1.0M156.2,731.8h1.0M163.8,735.6h1.0M156.4,731.3h1.0M158.0,734.6h1.0M156.3,731.4h1.0M164.9,734.0h1.0M162.7,735.8h1.0M165.4,733.3h1.0M166.5,729.9h1.0M159.8,736.0h1.0M165.4,726.9h1.0M165.7,732.3h1.0M158.9,724.9h1.0M163.9,725.0h1.0M156.7,727.4h1.0M165.3,727.9h1.0M165.3,727.2h1.0M166.2,730.5h1.0M157.8,734.5h1.0M157.1,726.4h1.0M161.1,735.9h1.0M156.1,730.9h1.0M162.4,724.0h1.0M161.7,724.2h1.0M164.9,725.9h1.0M156.9,726.6h1.0M164.9,733.2h1.0M162.8,736.0h1.0M156.4,731.7h1.0M160.3,735.9h1.0M164.1,735.4h1.0M156.6,731.1h1.0M158.4,725.5h1.0M165.2,733.6h1.0M166.1,732.5h1.0M155.9,729.5h1.0M166.0,731.5h1.0M161.3,723.7h1.0M156.6,731.2h1.0M163.4,724.4h1.0M164.1,735.1h1.0M164.0,735.4h1.0M157.0,726.9h1.0M161.0,724.1h1.0M164.8,725.7h1.0M157.8,734.4h1.0M158.9,724.2h1.0M159.3,735.3h1.0M165.1,734.2h1.0M157.4,726.4h1.0M157.5,734.1h1.0M158.1,735.0h1.0M163.4,735.5h1.0M165.0,733.7h1.0M159.1,735.2h1.0M156.5,730.0h1.0M156.6,727.5h1.0M156.4,727.4h1.0M164.9,726.9h1.0M162.9,735.2h1.0M157.6,733.8h1.0M165.8,727.9h1.0M164.7,726.8h1.0M157.7,726.0h1.0M157.7,734.9h1.0M161.6,723.7h1.0M162.9,724.5h1.0M164.4,726.1h1.0M166.3,729.6h1.0M155.9,729.5h1.0M156.4,727.3h1.0M164.2,725.2h1.0M164.6,734.5h1.0M158.8,735.6h1.0M162.3,736.1h1.0M162.8,724.2h1.0" stroke="#30e080" stroke-width="1.0" fill="none"/>
<path d="M157.6,730.5h1.0M158.9,726.4h1.0M165.6,731.2h1.0M162.9,725.3h1.0M159.2,725.6h1.0M164.0,733.8h1.0M160.2,725.1h1.0M157.5,730.9h1.0M158.0,726.4h1.0M160.8,725.4h1.0M164.9,729.4h1.0M156.9,728.9h1.0M156.8,730.2h1.0M158.1,726.3h1.0M158.0,727.3h1.0M165.0,727.4h1.0M164.8,730.7h1.0M156.9,730.6h1.0M158.0,733.2h1.0M157.0,728.6h1.0M160.3,725.0h1.0M157.1,730.3h1.0M165.3,728.5h1.0M163.8,733.6h1.0M164.8,732.2h1.0M159.1,734.0h1.0M160.4,735.6h1.0M157.0,732.2h1.0M159.2,726.4h1.0M165.2,731.8h1.0M160.0,734.7h1.0M157.6,730.9h1.0M165.6,728.8h1.0M162.7,734.2h1.0M164.9,731.4h1.0M157.4,731.5h1.0M157.5,731.4h1.0M159.0,726.2h1.0M157.6,732.1h1.0M161.2,735.5h1.0M156.9,731.6h1.0M163.9,726.5h1.0M165.3,729.2h1.0M164.8,730.6h1.0M159.8,734.8h1.0M164.4,726.3h1.0M164.8,732.6h1.0M157.2,733.4h1.0M164.8,730.2h1.0M157.2,731.1h1.0M158.4,733.2h1.0M158.0,727.6h1.0M160.2,734.2h1.0M156.9,731.4h1.0M165.4,730.9h1.0M163.9,726.9h1.0M159.9,734.4h1.0M164.6,727.2h1.0M164.3,726.2h1.0M164.0,734.0h1.0M162.0,735.4h1.0M156.9,731.5h1.0M158.6,734.6h1.0M157.1,728.0h1.0M158.8,725.3h1.0M164.1,726.4h1.0M165.2,729.5h1.0M158.4,726.7h1.0M158.8,726.6h1.0M164.1,734.6h1.0M164.6,733.8h1.0M164.1,733.2h1.0M158.2,726.7h1.0M158.6,726.6h1.0M165.6,728.2h1.0M160.1,734.8h1.0M160.0,735.5h1.0M159.3,725.4h1.0M164.3,728.0h1.0M163.5,726.4h1.0M160.8,725.4h1.0M163.1,734.7h1.0M156.9,730.4h1.0M157.1,729.5h1.0M158.9,725.2h1.0M160.0,725.5h1.0M156.9,730.1h1.0M157.5,729.2h1.0M158.6,725.8h1.0M160.5,734.6h1.0M165.6,730.0h1.0M156.7,729.6h1.0M159.2,734.5h1.0M157.3,732.5h1.0M157.0,729.2h1.0M163.5,725.1h1.0M159.2,726.0h1.0M161.4,724.9h1.0M165.0,733.1h1.0M165.6,730.7h1.0M164.4,726.6h1.0M164.9,732.7h1.0M159.5,734.7h1.0M157.7,728.7h1.0M159.6,725.7h1.0M164.7,728.6h1.0M165.4,730.5h1.0M157.2,733.4h1.0M165.0,732.3h1.0M165.0,731.4h1.0M160.6,735.0h1.0M164.3,728.0h1.0M160.7,725.2h1.0M160.8,725.5h1.0M159.9,734.1h1.0M158.5,733.7h1.0M159.6,735.0h1.0M159.0,725.6h1.0M164.0,733.8h1.0M156.9,728.1h1.0M157.7,730.4h1.0M163.3,734.7h1.0M164.1,727.0h1.0M162.6,725.8h1.0M164.5,733.4h1.0M156.7,728.8h1.0M164.9,733.0h1.0M161.3,725.6h1.0M158.5,726.8h1.0M160.6,735.5h1.0M157.2,733.3h1.0M158.0,726.4h1.0M156.9,732.0h1.0M158.7,734.1h1.0M164.5,728.0h1.0M163.2,734.9h1.0M158.3,734.6h1.0M159.9,725.4h1.0M158.2,733.4h1.0M163.0,734.9h1.0M157.6,732.7h1.0M165.3,729.2h1.0M157.6,728.1h1.0M158.0,733.9h1.0M163.9,734.5h1.0M164.3,733.2h1.0M164.9,732.8h1.0M165.5,728.5h1.0M163.5,726.3h1.0M160.2,725.0h1.0M162.2,734.7h1.0M157.2,730.6h1.0M163.8,726.7h1.0M157.7,732.3h1.0M159.5,725.6h1.0M156.7,727.8h1.0M157.6,730.2h1.0M157.4,733.1h1.0M161.1,724.8h1.0M165.2,731.6h1.0M163.9,726.6h1.0M157.4,733.1h1.0M159.0,733.7h1.0M160.3,724.6h1.0M158.1,733.8h1.0M162.5,725.0h1.0M157.3,732.9h1.0M164.4,733.0h1.0M158.3,726.2h1.0M160.5,735.2h1.0M157.8,734.0h1.0M160.4,734.8h1.0M157.1,731.0h1.0M157.7,730.3h1.0M164.7,729.9h1.0M161.1,725.5h1.0M158.9,734.5h1.0M156.8,732.1h1.0M157.7,730.8h1.0M164.3,727.7h1.0M163.5,726.5h1.0M160.9,724.9h1.0M157.0,732.3h1.0M158.5,726.0h1.0M162.4,734.3h1.0M158.1,727.5h1.0M164.8,731.5h1.0M159.7,734.5h1.0M163.9,726.4h1.0M162.5,735.6h1.0M162.7,735.5h1.0M162.3,726.0h1.0M157.0,729.4h1.0M165.1,732.1h1.0M158.7,726.2h1.0M165.2,731.7h1.0M161.4,724.9h1.0M164.6,727.6h1.0M158.4,733.5h1.0M160.8,725.4h1.0M163.6,725.7h1.0M157.5,726.8h1.0M157.1,729.6h1.0M161.2,734.7h1.0M157.3,731.3h1.0M158.1,733.3h1.0M157.5,732.7h1.0M164.5,733.3h1.0M158.0,733.8h1.0M157.6,729.4h1.0M165.5,730.5h1.0M157.4,730.9h1.0M158.7,734.3h1.0M157.7,732.8h1.0M165.4,731.0h1.0M163.9,726.3h1.0M157.6,728.8h1.0M164.0,726.8h1.0M157.7,731.7h1.0M163.9,725.8h1.0M161.2,724.7h1.0M157.7,729.4h1.0M157.5,733.0h1.0M157.3,732.4h1.0M163.6,726.5h1.0M165.1,732.9h1.0M161.5,724.8h1.0M164.4,726.5h1.0M163.6,726.2h1.0M163.3,734.9h1.0M156.8,732.1h1.0M162.7,724.6h1.0M160.5,735.2h1.0M163.0,734.6h1.0M164.6,733.9h1.0M158.8,734.0h1.0M164.3,732.8h1.0M159.2,725.2h1.0M163.9,726.3h1.0M157.9,732.8h1.0M156.9,732.4h1.0M162.6,734.4h1.0M161.9,724.9h1.0M164.3,727.4h1.0M165.4,730.5h1.0M162.2,735.3h1.0M157.3,731.1h1.0M160.0,734.7h1.0M157.6,732.1h1.0M162.6,734.3h1.0M157.6,728.0h1.0M164.8,729.8h1.0M163.5,734.7h1.0M157.5,728.2h1.0M157.7,732.4h1.0M164.4,726.5h1.0M165.1,731.9h1.0M158.8,725.9h1.0M164.3,733.5h1.0M158.5,733.2h1.0M157.5,728.7h1.0M163.9,734.3h1.0M165.5,731.6h1.0M157.2,730.9h1.0M161.3,735.6h1.0M163.3,734.4h1.0M164.8,731.1h1.0M159.2,725.3h1.0M163.7,725.7h1.0M156.9,730.2h1.0M165.3,731.2h1.0M162.5,725.7h1.0M164.5,732.9h1.0M159.8,734.9h1.0M165.5,730.6h1.0M159.1,725.3h1.0M163.4,726.2h1.0M158.9,734.4h1.0M159.1,734.2h1.0M160.1,734.2h1.0M161.0,725.5h1.0M159.9,734.4h1.0M163.3,735.1h1.0M164.2,733.4h1.0M160.5,724.9h1.0M163.9,726.9h1.0M164.8,731.4h1.0M156.9,732.2h1.0M164.9,731.4h1.0M160.0,734.6h1.0M165.5,731.1h1.0M160.1,735.1h1.0M157.2,732.1h1.0M162.4,734.4h1.0M164.4,727.5h1.0M165.7,729.8h1.0M164.9,732.4h1.0M157.4,733.3h1.0M163.4,726.3h1.0M165.6,728.6h1.0M165.2,729.9h1.0M163.1,725.9h1.0M162.9,725.7h1.0M162.7,734.3h1.0M160.8,725.6h1.0M163.4,726.1h1.0M164.5,727.7h1.0M158.4,726.0h1.0M165.2,729.9h1.0M164.9,728.9h1.0M165.1,728.1h1.0M157.4,732.2h1.0M158.1,726.4h1.0M164.3,727.6h1.0M158.6,733.2h1.0M159.2,735.0h1.0M165.2,729.2h1.0M162.9,734.9h1.0M159.1,734.1h1.0M157.7,729.7h1.0M164.4,727.5h1.0M164.7,728.4h1.0M164.1,734.5h1.0M164.9,733.0h1.0M158.1,733.3h1.0M158.2,733.4h1.0M156.9,732.5h1.0M157.5,731.6h1.0M161.5,725.3h1.0M165.1,732.6h1.0M162.3,724.7h1.0M161.8,734.9h1.0M158.5,734.3h1.0M164.8,730.5h1.0M165.0,728.2h1.0M158.2,727.3h1.0M159.0,726.1h1.0M159.1,725.4h1.0M162.5,725.2h1.0M163.2,734.0h1.0M162.8,734.4h1.0M164.9,728.7h1.0M157.7,726.6h1.0M159.4,725.2h1.0M160.4,735.1h1.0M156.8,730.7h1.0M160.9,725.5h1.0M157.9,733.3h1.0M156.8,729.6h1.0M164.4,727.3h1.0M163.4,726.3h1.0M163.8,733.1h1.0M164.0,733.5h1.0M162.5,725.5h1.0M160.9,725.5h1.0M165.3,730.3h1.0M163.9,726.9h1.0M164.8,731.7h1.0M157.5,730.7h1.0M157.6,732.5h1.0M156.7,729.9h1.0M160.8,734.7h1.0M164.0,726.1h1.0M164.2,733.2h1.0M158.0,726.2h1.0M165.0,730.6h1.0M164.8,727.7h1.0" stroke="#50e030" stroke-width="1.0" fill="none"/>
<path d="M162.6,727.1h1.0M157.9,729.4h1.0M161.4,734.6h1.0M158.3,732.2h1.0M158.8,733.4h1.0M158.8,732.1h1.0M160.8,733.4h1.0M164.3,730.7h1.0M160.3,734.5h1.0M158.8,733.1h1.0M160.5,726.7h1.0M158.8,731.7h1.0M163.2,727.4h1.0M158.4,728.7h1.0M163.9,732.4h1.0M162.1,734.0h1.0M163.7,731.0h1.0M160.8,726.5h1.0M164.6,730.7h1.0M164.3,731.6h1.0M158.7,730.1h1.0M158.7,727.3h1.0M162.3,732.7h1.0M162.8,726.9h1.0M162.4,733.3h1.0M160.1,733.5h1.0M163.4,732.1h1.0M160.8,734.1h1.0M162.8,726.2h1.0M164.4,729.4h1.0M162.8,732.3h1.0M158.7,728.2h1.0M164.2,730.7h1.0M159.0,732.8h1.0M163.6,732.5h1.0M159.9,726.9h1.0M163.5,728.4h1.0M161.9,734.0h1.0M158.5,732.1h1.0M163.4,732.3h1.0M158.5,730.1h1.0M162.0,726.3h1.0M157.7,728.7h1.0M162.8,726.9h1.0M163.0,732.7h1.0M163.1,734.0h1.0M162.3,726.2h1.0M163.9,730.3h1.0M161.4,733.3h1.0M163.1,727.9h1.0M163.8,732.6h1.0M160.8,725.9h1.0M163.9,729.7h1.0M159.4,727.2h1.0M162.2,733.2h1.0M163.3,732.7h1.0M159.5,726.4h1.0M161.0,726.0h1.0M163.5,728.1h1.0M160.7,734.2h1.0M158.4,728.4h1.0M162.2,733.9h1.0M157.9,731.1h1.0M164.7,729.5h1.0M160.1,726.3h1.0M158.3,727.9h1.0M161.2,726.0h1.0M162.7,733.9h1.0M164.0,729.5h1.0M162.2,725.8h1.0M159.8,725.7h1.0M158.6,729.5h1.0M158.3,727.3h1.0M158.9,727.7h1.0M162.5,727.5h1.0M164.2,730.5h1.0M159.7,726.4h1.0M160.3,726.0h1.0M164.0,729.1h1.0M158.5,727.4h1.0M161.9,726.9h1.0M160.9,726.9h1.0M158.5,732.4h1.0M161.4,726.5h1.0M164.0,729.5h1.0M163.1,727.1h1.0M164.1,732.4h1.0M158.3,727.7h1.0M164.3,731.6h1.0M163.3,727.0h1.0M160.6,733.4h1.0M163.1,726.9h1.0M161.2,726.8h1.0M164.0,727.8h1.0M162.7,726.1h1.0M163.1,726.3h1.0M159.3,726.6h1.0M160.7,734.1h1.0M164.2,730.6h1.0M157.8,731.2h1.0M162.3,733.6h1.0M163.4,726.7h1.0M162.3,727.4h1.0M164.5,728.8h1.0M164.1,731.4h1.0M163.7,727.6h1.0M161.1,726.9h1.0M158.0,729.4h1.0M163.5,732.9h1.0M163.9,727.6h1.0M163.7,727.9h1.0M158.2,731.1h1.0M162.4,733.7h1.0M162.9,732.9h1.0M162.6,733.6h1.0M159.7,726.8h1.0M160.6,726.4h1.0M162.9,733.7h1.0M163.4,727.3h1.0M163.6,728.2h1.0M158.2,729.8h1.0M159.7,727.6h1.0M160.2,734.0h1.0M161.9,734.1h1.0M160.9,725.6h1.0M160.7,726.1h1.0M163.3,726.6h1.0M163.6,727.1h1.0M159.3,726.8h1.0M158.5,731.4h1.0M159.8,726.7h1.0M157.9,730.3h1.0M162.2,726.1h1.0M161.5,733.2h1.0M161.1,725.8h1.0M158.1,730.8h1.0M158.7,727.5h1.0M158.3,730.4h1.0M161.0,726.8h1.0M162.5,727.1h1.0M160.0,726.6h1.0M162.9,726.4h1.0M160.3,726.5h1.0M161.4,733.6h1.0M160.2,734.1h1.0M159.2,733.3h1.0M161.8,734.4h1.0M164.1,731.5h1.0M163.2,733.4h1.0M164.5,730.6h1.0M159.1,732.1h1.0M163.4,728.4h1.0M163.3,727.0h1.0M158.8,726.7h1.0M159.7,732.7h1.0M163.1,733.4h1.0M164.2,729.9h1.0M164.3,728.3h1.0M163.7,728.6h1.0M159.2,728.5h1.0M161.9,726.8h1.0M163.0,727.4h1.0M163.6,733.4h1.0M159.7,726.4h1.0M163.7,727.8h1.0M160.4,726.7h1.0M163.8,732.1h1.0M161.0,726.6h1.0M164.1,731.6h1.0M161.5,725.9h1.0M160.3,733.8h1.0M163.1,726.2h1.0M163.3,731.9h1.0M162.7,726.2h1.0M160.2,733.1h1.0M162.4,733.2h1.0M157.8,729.9h1.0M158.6,728.8h1.0M163.9,731.1h1.0M162.2,726.3h1.0M162.1,733.4h1.0M161.4,725.7h1.0M162.8,733.1h1.0M164.5,731.0h1.0M158.0,729.1h1.0M164.2,732.4h1.0M162.5,733.8h1.0M163.3,733.4h1.0M162.7,733.8h1.0M162.0,725.6h1.0M159.5,733.0h1.0M161.1,734.4h1.0M164.5,728.3h1.0M162.1,733.1h1.0M160.6,726.9h1.0M161.3,726.4h1.0M159.3,732.8h1.0M158.2,728.4h1.0M164.2,729.8h1.0M160.7,733.9h1.0M158.0,728.1h1.0M159.3,727.5h1.0M160.2,733.8h1.0M163.2,733.7h1.0M163.8,731.5h1.0M163.1,726.8h1.0M160.4,726.3h1.0M163.6,727.1h1.0M160.6,734.1h1.0M160.5,726.8h1.0M162.0,726.8h1.0M158.0,729.4h1.0M164.2,727.5h1.0M163.6,726.6h1.0M161.4,726.1h1.0M164.3,728.2h1.0M158.6,732.9h1.0M163.3,727.4h1.0M159.8,733.4h1.0M158.5,731.0h1.0M163.7,727.2h1.0M158.6,732.2h1.0M163.6,727.5h1.0M164.6,728.6h1.0M164.4,731.4h1.0M162.4,733.0h1.0M158.5,731.4h1.0M164.2,727.4h1.0M163.7,732.6h1.0M162.1,733.8h1.0M163.1,733.4h1.0M163.5,732.7h1.0M160.0,733.4h1.0M158.3,729.0h1.0M163.3,727.6h1.0M162.7,727.3h1.0M164.0,730.2h1.0M160.5,733.7h1.0M164.5,728.7h1.0M158.6,727.4h1.0M163.2,726.9h1.0M164.7,728.2h1.0M160.1,733.1h1.0M163.8,728.7h1.0M158.4,729.9h1.0M163.9,731.7h1.0M161.0,733.1h1.0M164.6,730.0h1.0M157.8,730.5h1.0M162.1,725.8h1.0M161.3,734.2h1.0M159.7,726.8h1.0M163.4,727.1h1.0M162.4,733.6h1.0M161.6,733.6h1.0M164.3,728.1h1.0M164.2,730.8h1.0M158.7,727.1h1.0M164.1,731.6h1.0M158.2,728.0h1.0M161.2,734.3h1.0M158.6,731.3h1.0M160.6,733.7h1.0M158.5,728.8h1.0M161.3,733.3h1.0M162.4,726.5h1.0M163.3,732.7h1.0M158.5,732.7h1.0M159.0,731.8h1.0M160.0,725.9h1.0M159.7,726.1h1.0M163.9,730.7h1.0M162.9,734.1h1.0M163.4,732.9h1.0M159.7,726.8h1.0M162.4,733.0h1.0M158.7,727.4h1.0M159.7,726.5h1.0M159.0,732.6h1.0M162.2,726.4h1.0M160.4,733.8h1.0M163.0,733.5h1.0M162.6,733.4h1.0M163.2,728.3h1.0M159.5,733.0h1.0M158.8,727.0h1.0M162.2,727.1h1.0M163.7,729.3h1.0M158.3,731.8h1.0M160.2,726.0h1.0M161.6,733.2h1.0M158.3,728.9h1.0M163.2,726.9h1.0M162.3,734.0h1.0M159.1,732.0h1.0M160.7,734.1h1.0M157.8,728.7h1.0M158.0,730.3h1.0M162.0,734.4h1.0M164.1,729.0h1.0M160.9,733.7h1.0M162.9,726.5h1.0M161.1,733.5h1.0M158.4,729.5h1.0M163.0,726.4h1.0M161.2,726.7h1.0M160.3,725.8h1.0M158.8,728.1h1.0M160.6,733.1h1.0M163.4,733.2h1.0M164.1,732.0h1.0M163.6,732.4h1.0M159.5,733.9h1.0M163.3,728.6h1.0M164.2,727.8h1.0M163.9,733.0h1.0M163.9,727.2h1.0M163.0,733.1h1.0M158.7,732.0h1.0M163.3,732.8h1.0M163.0,732.7h1.0M160.9,726.7h1.0M161.3,734.3h1.0M160.7,733.2h1.0M158.4,727.9h1.0M164.5,728.6h1.0M159.2,726.6h1.0M162.6,733.3h1.0M162.8,726.2h1.0M158.0,731.8h1.0M161.3,725.6h1.0M160.4,733.8h1.0M157.8,731.5h1.0M164.3,731.0h1.0M158.3,730.5h1.0M158.5,727.9h1.0M159.6,733.4h1.0M163.1,727.4h1.0M163.8,727.1h1.0M160.9,726.9h1.0M163.5,727.5h1.0M161.1,734.2h1.0M158.3,729.8h1.0M159.7,733.1h1.0M163.2,727.0h1.0M161.7,727.0h1.0M158.3,729.7h1.0M164.5,730.9h1.0M158.4,730.4h1.0M163.8,729.1h1.0M163.7,731.9h1.0M163.6,726.7h1.0M163.3,733.0h1.0M161.6,734.0h1.0M161.4,727.0h1.0M164.2,728.2h1.0M161.8,726.5h1.0M163.4,727.2h1.0M163.9,727.7h1.0M159.2,726.5h1.0M163.7,729.8h1.0M158.8,728.1h1.0M159.4,732.9h1.0M163.7,732.8h1.0M158.7,727.9h1.0M158.8,732.9h1.0M163.0,734.1h1.0M161.0,726.0h1.0M160.3,734.3h1.0M160.4,726.9h1.0M163.4,727.5h1.0M158.2,729.3h1.0M158.0,727.7h1.0M164.4,729.5h1.0M163.4,726.9h1.0M163.8,730.2h1.0M161.7,725.6h1.0M162.7,733.1h1.0M158.3,727.8h1.0M157.8,731.8h1.0M160.9,734.5h1.0M164.7,730.6h1.0M161.4,733.6h1.0M164.6,729.8h1.0M160.1,726.9h1.0M158.8,731.7h1.0M159.9,733.2h1.0M158.4,728.6h1.0M162.4,726.8h1.0M159.8,726.3h1.0M164.0,732.6h1.0M158.5,727.7h1.0M161.4,733.9h1.0M162.0,726.5h1.0M161.3,734.3h1.0M160.1,725.9h1.0M163.7,730.3h1.0M164.1,728.4h1.0M160.1,725.9h1.0M163.8,732.2h1.0M158.9,728.0h1.0M157.8,728.4h1.0M160.0,726.7h1.0M160.7,727.1h1.0M158.7,727.9h1.0M164.6,729.7h1.0M160.7,726.1h1.0M158.3,728.0h1.0M160.3,725.9h1.0M159.0,732.4h1.0M163.1,734.1h1.0M163.7,727.9h1.0M163.8,731.6h1.0M164.3,731.9h1.0M162.3,727.4h1.0M157.9,730.9h1.0M158.0,732.1h1.0M158.3,729.8h1.0M163.6,727.2h1.0M157.7,729.0h1.0M159.4,726.7h1.0M161.1,726.9h1.0M161.1,733.4h1.0M163.7,728.4h1.0M159.5,727.3h1.0M160.8,733.8h1.0M162.7,727.0h1.0M161.8,734.1h1.0" stroke="#f0f000" stroke-width="1.0" fill="none"/>
<path d="M161.6,727.2h1.0M162.9,729.1h1.0M161.9,728.0h1.0M162.7,732.3h1.0M159.1,731.2h1.0M163.4,728.9h1.0M160.1,731.8h1.0M163.3,729.8h1.0M160.0,727.1h1.0M159.3,731.8h1.0M162.8,730.1h1.0M159.3,731.1h1.0M159.0,728.6h1.0M159.4,729.4h1.0M162.5,728.5h1.0M159.6,729.3h1.0M159.7,728.0h1.0M162.4,728.2h1.0M162.6,728.1h1.0M159.4,729.0h1.0M158.9,729.1h1.0M162.4,728.6h1.0M163.6,728.9h1.0M162.8,729.0h1.0M159.6,729.2h1.0M163.0,730.7h1.0M159.5,728.0h1.0M160.8,727.7h1.0M163.1,728.1h1.0M159.4,728.1h1.0M159.2,727.6h1.0M159.0,729.5h1.0M163.4,729.4h1.0M160.2,727.8h1.0M159.8,727.4h1.0M159.6,727.6h1.0M161.3,728.0h1.0M160.5,728.0h1.0M163.1,731.3h1.0M163.1,728.1h1.0M159.7,727.2h1.0M160.7,727.7h1.0M163.6,729.2h1.0M163.0,730.3h1.0M159.3,731.6h1.0M163.3,731.1h1.0M163.6,731.3h1.0M162.0,727.5h1.0M159.3,728.8h1.0M163.5,730.6h1.0M160.4,727.5h1.0M159.5,732.5h1.0M159.6,729.5h1.0M162.6,728.1h1.0M160.4,733.1h1.0M160.0,732.7h1.0M159.4,730.7h1.0M163.1,730.0h1.0M163.6,731.5h1.0M159.4,731.4h1.0M162.8,729.3h1.0M162.7,730.6h1.0M163.3,730.9h1.0M163.4,730.1h1.0M163.1,730.6h1.0M159.6,732.5h1.0M158.9,729.7h1.0M161.6,727.5h1.0M159.4,731.0h1.0M159.2,730.4h1.0M161.0,727.8h1.0M160.2,732.5h1.0M159.9,728.0h1.0M163.1,729.2h1.0M159.1,729.7h1.0M162.5,727.6h1.0M160.8,732.8h1.0M162.4,732.0h1.0M159.1,730.4h1.0M159.4,731.6h1.0M163.2,729.3h1.0M162.6,732.6h1.0M161.9,727.3h1.0M161.7,733.1h1.0M162.0,732.6h1.0M159.1,730.2h1.0M159.6,729.3h1.0M160.3,727.1h1.0M161.2,732.8h1.0M163.5,730.5h1.0M159.2,728.6h1.0M160.1,733.1h1.0M161.9,732.3h1.0M160.0,732.7h1.0M163.3,729.6h1.0M158.8,729.8h1.0M162.7,729.8h1.0M163.6,729.7h1.0M161.9,727.4h1.0M163.7,729.7h1.0M159.7,732.6h1.0M162.8,729.9h1.0M158.9,731.3h1.0M161.7,732.8h1.0M159.5,728.1h1.0M163.1,731.5h1.0M158.7,731.2h1.0M163.1,730.4h1.0M158.7,730.2h1.0M160.2,732.8h1.0M159.0,731.0h1.0M160.8,727.5h1.0M162.3,728.0h1.0M162.2,727.4h1.0M162.8,730.7h1.0M161.9,728.1h1.0M159.0,730.3h1.0M162.6,728.4h1.0M163.0,728.3h1.0M160.1,728.0h1.0M160.7,727.7h1.0M163.4,731.1h1.0M162.9,731.6h1.0M158.7,731.2h1.0M160.6,727.3h1.0M163.0,731.1h1.0M159.5,727.7h1.0M161.8,728.0h1.0M162.8,729.0h1.0M160.2,731.6h1.0M160.9,728.0h1.0M163.0,728.9h1.0M162.5,727.7h1.0M160.6,727.5h1.0M161.3,732.3h1.0M163.0,731.1h1.0M162.9,731.2h1.0M162.5,731.8h1.0M162.4,727.7h1.0M161.6,728.1h1.0M160.2,727.7h1.0M159.5,731.9h1.0M159.0,730.7h1.0M162.7,728.1h1.0M159.4,727.7h1.0M163.6,728.8h1.0M158.7,730.4h1.0M161.3,732.1h1.0M158.8,728.8h1.0M160.3,728.1h1.0M161.2,727.2h1.0M163.0,728.4h1.0M162.8,729.6h1.0M163.3,731.5h1.0M161.7,727.3h1.0M162.6,732.5h1.0M159.9,728.2h1.0M162.3,732.4h1.0M162.4,731.6h1.0M159.4,732.2h1.0M163.1,732.0h1.0M161.2,727.7h1.0M163.3,729.2h1.0M161.2,733.0h1.0M160.1,727.2h1.0M162.5,727.8h1.0M160.1,727.7h1.0M161.5,732.2h1.0M158.7,728.8h1.0M163.2,729.9h1.0M162.9,728.5h1.0M160.0,728.5h1.0M162.9,728.5h1.0M159.3,729.5h1.0M162.0,727.7h1.0M163.2,729.4h1.0M163.4,730.5h1.0M160.8,727.9h1.0M160.1,732.5h1.0M160.2,728.0h1.0M162.0,732.9h1.0M163.3,729.0h1.0M162.6,728.1h1.0M163.2,731.2h1.0M159.7,729.4h1.0M163.7,731.1h1.0M160.4,727.1h1.0M163.0,731.8h1.0M162.4,732.3h1.0M163.3,729.0h1.0M163.4,731.0h1.0M160.7,728.0h1.0M162.5,728.1h1.0M158.7,731.0h1.0M163.6,730.5h1.0M160.6,732.9h1.0M158.9,729.6h1.0M163.2,731.8h1.0M160.6,732.7h1.0M162.4,727.9h1.0M161.7,728.0h1.0M159.4,731.4h1.0M163.0,729.8h1.0M158.9,730.4h1.0M162.9,731.8h1.0M162.9,730.7h1.0M162.5,731.8h1.0M163.6,731.2h1.0M159.1,728.7h1.0M161.7,733.1h1.0M162.3,731.6h1.0M162.9,728.2h1.0M163.2,729.4h1.0M162.7,729.3h1.0M161.3,727.7h1.0M163.3,730.1h1.0M159.8,732.8h1.0M162.8,728.4h1.0M162.8,731.9h1.0M159.2,731.0h1.0M163.5,729.9h1.0M162.2,732.3h1.0M159.0,730.6h1.0M160.9,727.5h1.0M159.6,731.9h1.0M159.7,732.3h1.0M162.1,733.1h1.0M161.9,728.0h1.0M160.7,728.0h1.0M162.9,731.0h1.0M159.9,727.9h1.0M159.3,731.6h1.0M162.0,732.6h1.0M162.0,727.2h1.0M159.1,728.9h1.0M162.5,732.5h1.0M158.9,730.6h1.0M160.9,727.8h1.0M159.6,730.8h1.0M163.1,729.8h1.0M163.1,730.2h1.0M163.6,730.0h1.0M159.4,731.8h1.0M163.0,731.8h1.0M161.4,727.7h1.0M163.0,730.7h1.0M161.4,727.5h1.0M161.3,727.6h1.0M162.3,727.7h1.0M163.2,729.4h1.0M161.6,727.6h1.0M162.5,728.3h1.0M162.4,728.2h1.0M163.2,730.1h1.0M161.3,732.7h1.0M162.4,731.7h1.0M159.0,730.1h1.0M162.3,732.0h1.0M159.4,732.6h1.0M163.5,728.9h1.0M163.0,731.3h1.0M160.8,728.0h1.0M160.0,727.2h1.0M160.6,732.6h1.0M163.2,729.3h1.0M159.6,730.6h1.0M159.0,731.2h1.0M162.4,732.1h1.0M163.1,730.8h1.0M161.9,728.0h1.0M159.7,729.0h1.0" stroke="#ff9000" stroke-width="1.0" fill="none"/>
<path d="M161.8,729.6h1.0M161.1,729.0h1.0M162.2,729.5h1.0M162.1,730.4h1.0M161.1,728.9h1.0M161.7,730.3h1.0M161.3,729.9h1.0M160.3,728.3h1.0M160.4,730.8h1.0M160.3,729.3h1.0M160.6,730.4h1.0M160.5,731.8h1.0M160.5,728.9h1.0M162.0,728.5h1.0M160.5,730.5h1.0M160.6,730.5h1.0M161.3,729.9h1.0M162.4,728.7h1.0M160.3,728.8h1.0M161.0,731.2h1.0M162.5,730.4h1.0M159.8,730.8h1.0M162.0,728.2h1.0M162.2,729.5h1.0M160.0,730.7h1.0M161.1,728.1h1.0M162.0,728.2h1.0M161.9,730.7h1.0M159.7,729.7h1.0M159.6,729.8h1.0M161.6,731.6h1.0M160.2,729.2h1.0M160.3,730.5h1.0M159.8,730.9h1.0M162.3,729.8h1.0M161.3,730.7h1.0M160.1,730.8h1.0M160.4,729.7h1.0M162.1,730.7h1.0M160.4,731.5h1.0M161.7,731.1h1.0M159.7,729.2h1.0M159.5,730.1h1.0M160.4,729.6h1.0M161.6,732.0h1.0M161.9,730.4h1.0M160.0,729.9h1.0M161.0,731.1h1.0M160.3,731.2h1.0M161.3,728.4h1.0M159.5,729.9h1.0M162.4,730.9h1.0M161.4,730.4h1.0M162.5,730.1h1.0M159.4,729.9h1.0M162.4,730.0h1.0M161.3,728.7h1.0M160.8,730.0h1.0M159.9,730.3h1.0M159.5,730.0h1.0M160.2,730.0h1.0M162.1,730.7h1.0M161.5,728.5h1.0M160.7,730.1h1.0M162.0,729.3h1.0M162.6,730.2h1.0M162.1,728.6h1.0M160.2,729.9h1.0M160.7,729.4h1.0M160.3,730.8h1.0M161.6,730.6h1.0M162.0,728.3h1.0M160.7,729.9h1.0M160.8,728.8h1.0M162.5,728.8h1.0M160.8,728.2h1.0M162.2,731.0h1.0M160.0,731.0h1.0M162.4,728.7h1.0M160.7,730.2h1.0M161.1,728.8h1.0M161.7,728.3h1.0M160.9,729.3h1.0M160.8,729.5h1.0M160.2,730.0h1.0M161.2,728.1h1.0M161.2,731.7h1.0M160.2,731.5h1.0M160.5,732.1h1.0M162.6,730.3h1.0M159.9,728.7h1.0M160.7,730.6h1.0M159.6,730.2h1.0M161.0,729.5h1.0M161.1,730.5h1.0M161.2,729.5h1.0M161.4,728.6h1.0M160.2,730.2h1.0M161.6,730.2h1.0M161.0,731.4h1.0M161.9,730.8h1.0M162.2,731.1h1.0M160.6,731.8h1.0M160.3,729.5h1.0M162.0,729.7h1.0M162.7,731.4h1.0M161.8,730.5h1.0M162.4,729.3h1.0M160.2,729.3h1.0M159.8,729.6h1.0M160.4,731.4h1.0M161.9,731.4h1.0M161.9,730.0h1.0M162.5,730.4h1.0M161.7,728.5h1.0M162.1,730.3h1.0M161.6,730.0h1.0M159.7,728.6h1.0M161.2,729.4h1.0M161.2,730.2h1.0M161.3,729.4h1.0M160.8,729.2h1.0M161.4,731.4h1.0M159.7,729.6h1.0M160.3,728.8h1.0M162.5,728.8h1.0M160.0,730.5h1.0M161.1,728.3h1.0M162.5,730.9h1.0M161.2,730.1h1.0M159.9,730.5h1.0M161.5,728.6h1.0M160.4,730.9h1.0M159.8,729.3h1.0M161.1,731.1h1.0M160.5,728.4h1.0M161.6,728.2h1.0M162.2,729.4h1.0M161.2,728.5h1.0M161.4,730.4h1.0M161.0,729.4h1.0M161.4,728.7h1.0M162.0,728.5h1.0M161.4,728.7h1.0M161.5,730.7h1.0M162.2,731.0h1.0M160.7,728.4h1.0M160.5,729.6h1.0M162.0,728.2h1.0M161.2,728.2h1.0M161.7,731.7h1.0M162.1,730.0h1.0M161.1,729.0h1.0M161.4,731.8h1.0M160.9,731.2h1.0M159.9,731.2h1.0M162.2,731.7h1.0M162.2,729.5h1.0M160.4,728.8h1.0M160.7,730.8h1.0M161.3,732.0h1.0M160.5,729.7h1.0M160.6,729.2h1.0M161.3,730.6h1.0M161.5,728.2h1.0M161.1,729.6h1.0M162.0,730.0h1.0M159.7,729.6h1.0M160.6,728.9h1.0M160.5,730.5h1.0M160.0,729.0h1.0M162.7,730.3h1.0M160.4,730.5h1.0M160.7,731.6h1.0M162.1,730.1h1.0M162.0,730.0h1.0M160.3,731.4h1.0M161.5,730.2h1.0M161.8,731.4h1.0M160.7,729.5h1.0M161.9,731.2h1.0M160.3,730.8h1.0M159.3,730.2h1.0M162.3,729.0h1.0M161.8,728.2h1.0M161.8,731.9h1.0M162.2,729.2h1.0M160.0,728.7h1.0M161.4,728.5h1.0M161.3,731.2h1.0M160.2,730.7h1.0M159.8,731.1h1.0M162.6,731.3h1.0M162.1,731.4h1.0M161.5,729.4h1.0M160.8,729.9h1.0M160.2,731.5h1.0M159.7,729.4h1.0M162.5,731.4h1.0M160.9,730.9h1.0M162.5,729.9h1.0M161.1,730.4h1.0M161.8,730.0h1.0M161.0,729.3h1.0M160.4,729.7h1.0M160.1,730.2h1.0M161.1,728.4h1.0M159.7,731.2h1.0M162.0,730.8h1.0M160.5,730.1h1.0M160.4,732.1h1.0M161.8,730.4h1.0M160.8,731.1h1.0M161.4,728.6h1.0M161.8,730.9h1.0M160.6,728.4h1.0M160.5,728.7h1.0M161.8,729.9h1.0M161.0,732.1h1.0M161.1,730.3h1.0M161.8,728.2h1.0M160.3,728.9h1.0M162.2,729.1h1.0M159.8,729.6h1.0M160.4,730.2h1.0M160.7,728.5h1.0M162.6,730.3h1.0M161.9,730.6h1.0M161.5,729.0h1.0M159.9,729.5h1.0M161.6,728.6h1.0M160.1,728.6h1.0M162.2,730.3h1.0M160.7,730.1h1.0M161.3,731.3h1.0M162.1,729.4h1.0M161.7,728.7h1.0M162.3,728.9h1.0M162.4,730.6h1.0M159.4,730.4h1.0" stroke="#ff1000" stroke-width="1.0" fill="none"/>
<ellipse cx="71.7" cy="729.2" rx="9.20" ry="13.50" fill="#1450ff" filter="url(#soft)"/>
<ellipse cx="71.7" cy="729.2" rx="8.28" ry="12.15" fill="#0090ff" filter="url(#soft)"/>
<ellipse cx="71.7" cy="729.2" rx="7.36" ry="10.80" fill="#00d0f0" filter="url(#soft)"/>
<ellipse cx="71.7" cy="729.2" rx="6.53" ry="9.58" fill="#20e0a0" filter="url(#soft)"/>
<ellipse cx="71.7" cy="729.2" rx="5.70" ry="8.37" fill="#40e050" filter="url(#soft)"/>
<ellipse cx="71.7" cy="729.2" rx="4.60" ry="6.75" fill="#a0f000" filter="url(#soft)"/>
<ellipse cx="71.7" cy="729.2" rx="3.50" ry="5.13" fill="#f0e800" filter="url(#soft)"/>
<ellipse cx="71.7" cy="729.2" rx="2.58" ry="3.78" fill="#ff8000" filter="url(#soft)"/>
<ellipse cx="71.7" cy="729.2" rx="1.75" ry="2.56" fill="#ff1000" filter="url(#soft)"/>
<ellipse cx="161.1" cy="730.1" rx="8.20" ry="10.50" fill="#1450ff" filter="url(#soft)"/>
<ellipse cx="161.1" cy="730.1" rx="7.38" ry="9.45" fill="#0090ff" filter="url(#soft)"/>
<ellipse cx="161.1" cy="730.1" rx="6.56" ry="8.40" fill="#00d0f0" filter="url(#soft)"/>
<ellipse cx="161.1" cy="730.1" rx="5.82" ry="7.46" fill="#20e0a0" filter="url(#soft)"/>
<ellipse cx="161.1" cy="730.1" rx="5.08" ry="6.51" fill="#40e050" filter="url(#soft)"/>
<ellipse cx="161.1" cy="730.1" rx="4.10" ry="5.25" fill="#a0f000" filter="url(#soft)"/>
<ellipse cx="161.1" cy="730.1" rx="3.12" ry="3.99" fill="#f0e800" filter="url(#soft)"/>
<ellipse cx="161.1" cy="730.1" rx="2.30" ry="2.94" fill="#ff8000" filter="url(#soft)"/>
<ellipse cx="161.1" cy="730.1" rx="1.56" ry="2.00" fill="#ff1000" filter="url(#soft)"/>
<polygon points="79.9,687.1 112.8,670.2 123.8,691.0 92.5,709.0 85.6,707.1 81.8,702.6 79.6,695.1" fill="none" stroke="#222" stroke-width="0.7"/>
<polygon points="169.5,687.1 202.4,670.2 213.4,691.0 182.1,709.0 175.2,707.1 171.4,702.6 169.2,695.1" fill="none" stroke="#222" stroke-width="0.7"/>
<text x="112.8" y="711.7" font-size="10.8" fill="#000" color="#000"><tspan>3.11</tspan></text>
<text x="199.7" y="711.7" font-size="10.8" fill="#000" color="#000"><tspan>0.14</tspan></text>
</svg></body></html>
